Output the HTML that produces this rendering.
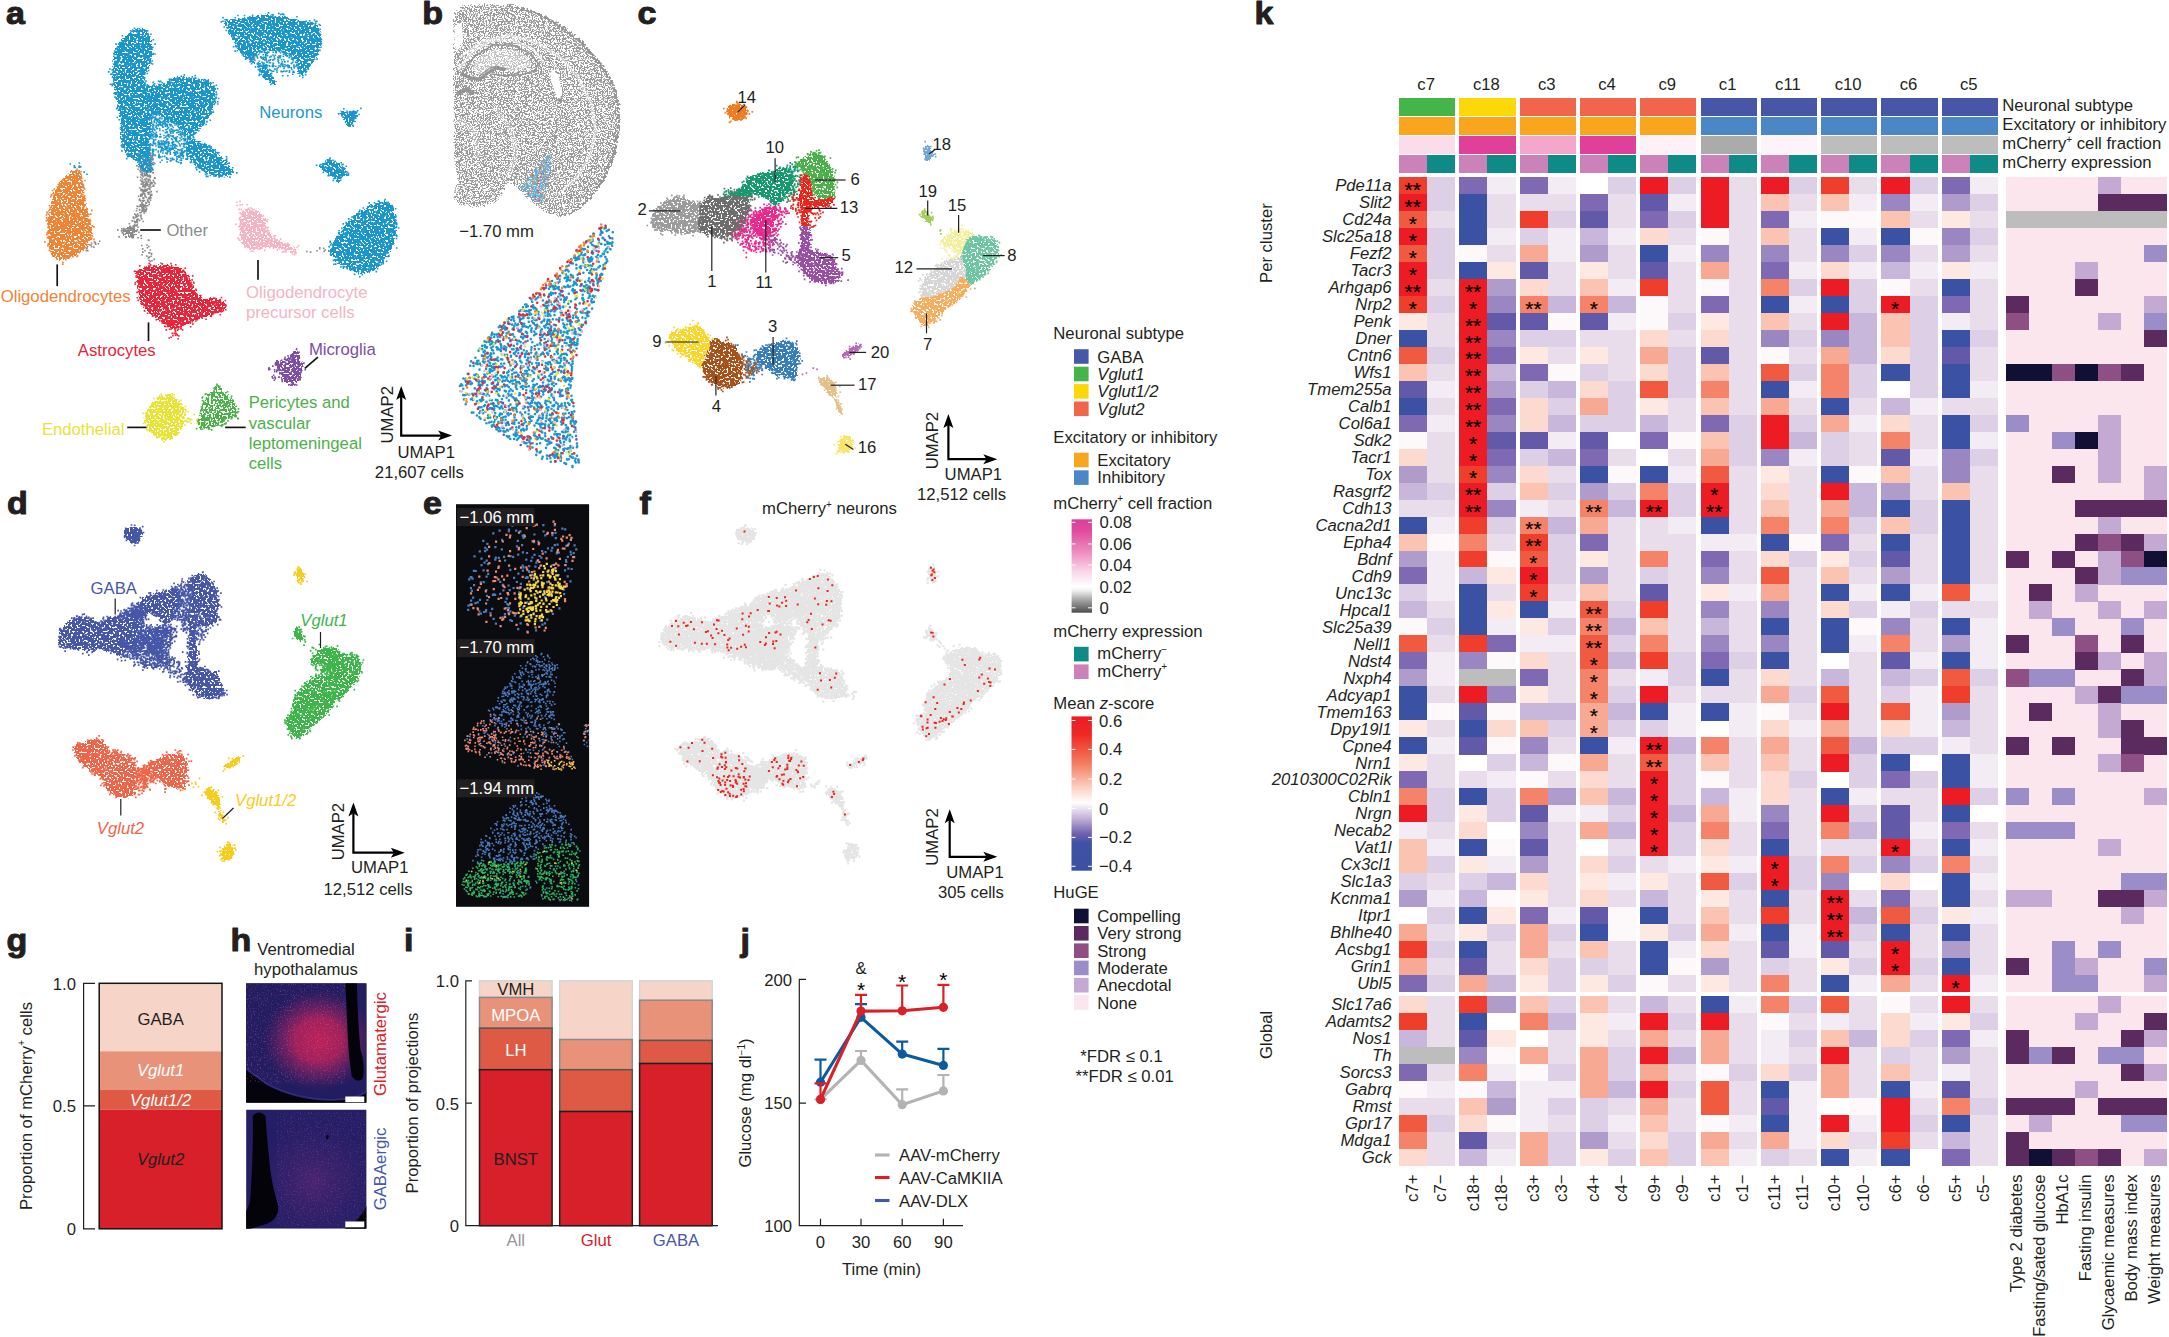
<!DOCTYPE html><html><head><meta charset="utf-8"><title>Figure</title><style>html,body{margin:0;padding:0;background:#fff}svg{display:block}text{font-family:"Liberation Sans",sans-serif}</style></head><body>
<svg width="2169" height="1337" viewBox="0 0 2169 1337" font-size="16.7" fill="#231f20">
<g shape-rendering="crispEdges">
<rect x="1399" y="98.3" width="56.2" height="17.7" fill="#46b549"/>
<rect x="1399" y="117.1" width="56.2" height="17.5" fill="#faa51e"/>
<rect x="1399" y="136" width="56.2" height="17.7" fill="#fbdcea"/>
<rect x="1399" y="155" width="28.1" height="17.8" fill="#cb82b9"/>
<rect x="1427.1" y="155" width="28.1" height="17.8" fill="#0f8b87"/>
<rect x="1459.3" y="98.3" width="56.2" height="17.7" fill="#fdd808"/>
<rect x="1459.3" y="117.1" width="56.2" height="17.5" fill="#faa51e"/>
<rect x="1459.3" y="136" width="56.2" height="17.7" fill="#e0409a"/>
<rect x="1459.3" y="155" width="28.1" height="17.8" fill="#cb82b9"/>
<rect x="1487.4" y="155" width="28.1" height="17.8" fill="#0f8b87"/>
<rect x="1519.6" y="98.3" width="56.2" height="17.7" fill="#f0654b"/>
<rect x="1519.6" y="117.1" width="56.2" height="17.5" fill="#faa51e"/>
<rect x="1519.6" y="136" width="56.2" height="17.7" fill="#f4a6cc"/>
<rect x="1519.6" y="155" width="28.1" height="17.8" fill="#cb82b9"/>
<rect x="1547.7" y="155" width="28.1" height="17.8" fill="#0f8b87"/>
<rect x="1579.9" y="98.3" width="56.2" height="17.7" fill="#f0654b"/>
<rect x="1579.9" y="117.1" width="56.2" height="17.5" fill="#faa51e"/>
<rect x="1579.9" y="136" width="56.2" height="17.7" fill="#e0409a"/>
<rect x="1579.9" y="155" width="28.1" height="17.8" fill="#cb82b9"/>
<rect x="1608" y="155" width="28.1" height="17.8" fill="#0f8b87"/>
<rect x="1640.2" y="98.3" width="56.2" height="17.7" fill="#f0654b"/>
<rect x="1640.2" y="117.1" width="56.2" height="17.5" fill="#faa51e"/>
<rect x="1640.2" y="136" width="56.2" height="17.7" fill="#fdf0f6"/>
<rect x="1640.2" y="155" width="28.1" height="17.8" fill="#cb82b9"/>
<rect x="1668.3" y="155" width="28.1" height="17.8" fill="#0f8b87"/>
<rect x="1700.5" y="98.3" width="56.2" height="17.7" fill="#4757a8"/>
<rect x="1700.5" y="117.1" width="56.2" height="17.5" fill="#4b86c6"/>
<rect x="1700.5" y="136" width="56.2" height="17.7" fill="#ababab"/>
<rect x="1700.5" y="155" width="28.1" height="17.8" fill="#cb82b9"/>
<rect x="1728.6" y="155" width="28.1" height="17.8" fill="#0f8b87"/>
<rect x="1760.8" y="98.3" width="56.2" height="17.7" fill="#4757a8"/>
<rect x="1760.8" y="117.1" width="56.2" height="17.5" fill="#4b86c6"/>
<rect x="1760.8" y="136" width="56.2" height="17.7" fill="#fef3f8"/>
<rect x="1760.8" y="155" width="28.1" height="17.8" fill="#cb82b9"/>
<rect x="1788.9" y="155" width="28.1" height="17.8" fill="#0f8b87"/>
<rect x="1821.1" y="98.3" width="56.2" height="17.7" fill="#4757a8"/>
<rect x="1821.1" y="117.1" width="56.2" height="17.5" fill="#4b86c6"/>
<rect x="1821.1" y="136" width="56.2" height="17.7" fill="#bdbdbd"/>
<rect x="1821.1" y="155" width="28.1" height="17.8" fill="#cb82b9"/>
<rect x="1849.2" y="155" width="28.1" height="17.8" fill="#0f8b87"/>
<rect x="1881.4" y="98.3" width="56.2" height="17.7" fill="#4757a8"/>
<rect x="1881.4" y="117.1" width="56.2" height="17.5" fill="#4b86c6"/>
<rect x="1881.4" y="136" width="56.2" height="17.7" fill="#bdbdbd"/>
<rect x="1881.4" y="155" width="28.1" height="17.8" fill="#cb82b9"/>
<rect x="1909.5" y="155" width="28.1" height="17.8" fill="#0f8b87"/>
<rect x="1941.7" y="98.3" width="56.2" height="17.7" fill="#4757a8"/>
<rect x="1941.7" y="117.1" width="56.2" height="17.5" fill="#4b86c6"/>
<rect x="1941.7" y="136" width="56.2" height="17.7" fill="#bdbdbd"/>
<rect x="1941.7" y="155" width="28.1" height="17.8" fill="#cb82b9"/>
<rect x="1969.8" y="155" width="28.1" height="17.8" fill="#0f8b87"/>
<rect x="2006.4" y="177" width="161" height="814.8" fill="#fbe6ee"/>
<rect x="2006.4" y="995.8" width="161" height="169.8" fill="#fbe6ee"/>
<rect x="1399" y="177" width="28.1" height="17.3" fill="#ef3e2b"/>
<rect x="1427.1" y="177" width="28.1" height="17.3" fill="#dccfe6"/>
<rect x="1459.3" y="177" width="28.1" height="17.3" fill="#7e69b2"/>
<rect x="1487.4" y="177" width="28.1" height="17.3" fill="#f4ecf4"/>
<rect x="1519.6" y="177" width="28.1" height="17.3" fill="#7e69b2"/>
<rect x="1547.7" y="177" width="28.1" height="17.3" fill="#f4ecf4"/>
<rect x="1608" y="177" width="28.1" height="17.3" fill="#dccfe6"/>
<rect x="1640.2" y="177" width="28.1" height="17.3" fill="#ed1c24"/>
<rect x="1668.3" y="177" width="28.1" height="17.3" fill="#dccfe6"/>
<rect x="1700.5" y="177" width="28.1" height="17.3" fill="#ed1c24"/>
<rect x="1728.6" y="177" width="28.1" height="17.3" fill="#e9ddec"/>
<rect x="1760.8" y="177" width="28.1" height="17.3" fill="#ed1c24"/>
<rect x="1788.9" y="177" width="28.1" height="17.3" fill="#dccfe6"/>
<rect x="1821.1" y="177" width="28.1" height="17.3" fill="#ef3e2b"/>
<rect x="1849.2" y="177" width="28.1" height="17.3" fill="#e9ddec"/>
<rect x="1881.4" y="177" width="28.1" height="17.3" fill="#ed1c24"/>
<rect x="1909.5" y="177" width="28.1" height="17.3" fill="#dccfe6"/>
<rect x="1941.7" y="177" width="28.1" height="17.3" fill="#7e69b2"/>
<rect x="1969.8" y="177" width="28.1" height="17.3" fill="#f4ecf4"/>
<rect x="2098.4" y="177" width="23" height="17.3" fill="#c4a9d2"/>
<rect x="1399" y="194" width="28.1" height="17.3" fill="#ed1c24"/>
<rect x="1427.1" y="194" width="28.1" height="17.3" fill="#dccfe6"/>
<rect x="1459.3" y="194" width="28.1" height="17.3" fill="#3b51a3"/>
<rect x="1487.4" y="194" width="28.1" height="17.3" fill="#e9ddec"/>
<rect x="1519.6" y="194" width="56.2" height="17.3" fill="#e9ddec"/>
<rect x="1579.9" y="194" width="28.1" height="17.3" fill="#7e69b2"/>
<rect x="1608" y="194" width="28.1" height="17.3" fill="#e9ddec"/>
<rect x="1640.2" y="194" width="28.1" height="17.3" fill="#6259a9"/>
<rect x="1668.3" y="194" width="28.1" height="17.3" fill="#f4ecf4"/>
<rect x="1700.5" y="194" width="28.1" height="17.3" fill="#ed1c24"/>
<rect x="1728.6" y="194" width="28.1" height="17.3" fill="#e9ddec"/>
<rect x="1760.8" y="194" width="28.1" height="17.3" fill="#fbc3b2"/>
<rect x="1788.9" y="194" width="28.1" height="17.3" fill="#e9ddec"/>
<rect x="1821.1" y="194" width="28.1" height="17.3" fill="#fbc3b2"/>
<rect x="1849.2" y="194" width="28.1" height="17.3" fill="#f4ecf4"/>
<rect x="1881.4" y="194" width="28.1" height="17.3" fill="#9a86c0"/>
<rect x="1909.5" y="194" width="28.1" height="17.3" fill="#f4ecf4"/>
<rect x="1941.7" y="194" width="28.1" height="17.3" fill="#b09ccb"/>
<rect x="1969.8" y="194" width="28.1" height="17.3" fill="#dccfe6"/>
<rect x="2098.4" y="194" width="23" height="17.3" fill="#5b2a5e"/>
<rect x="2121.4" y="194" width="23" height="17.3" fill="#5b2a5e"/>
<rect x="2144.4" y="194" width="23" height="17.3" fill="#5b2a5e"/>
<rect x="1399" y="210.9" width="28.1" height="17.3" fill="#f05a40"/>
<rect x="1427.1" y="210.9" width="28.1" height="17.3" fill="#e9ddec"/>
<rect x="1459.3" y="210.9" width="28.1" height="17.3" fill="#3b51a3"/>
<rect x="1487.4" y="210.9" width="28.1" height="17.3" fill="#e9ddec"/>
<rect x="1519.6" y="210.9" width="28.1" height="17.3" fill="#ef3e2b"/>
<rect x="1547.7" y="210.9" width="28.1" height="17.3" fill="#dccfe6"/>
<rect x="1579.9" y="210.9" width="28.1" height="17.3" fill="#6259a9"/>
<rect x="1608" y="210.9" width="28.1" height="17.3" fill="#e9ddec"/>
<rect x="1640.2" y="210.9" width="28.1" height="17.3" fill="#7e69b2"/>
<rect x="1668.3" y="210.9" width="28.1" height="17.3" fill="#dccfe6"/>
<rect x="1700.5" y="210.9" width="28.1" height="17.3" fill="#ed1c24"/>
<rect x="1728.6" y="210.9" width="28.1" height="17.3" fill="#e9ddec"/>
<rect x="1760.8" y="210.9" width="28.1" height="17.3" fill="#7e69b2"/>
<rect x="1788.9" y="210.9" width="28.1" height="17.3" fill="#f4ecf4"/>
<rect x="1821.1" y="210.9" width="56.2" height="17.3" fill="#fdf8f9"/>
<rect x="1881.4" y="210.9" width="28.1" height="17.3" fill="#fbc3b2"/>
<rect x="1909.5" y="210.9" width="28.1" height="17.3" fill="#e9ddec"/>
<rect x="1941.7" y="210.9" width="28.1" height="17.3" fill="#fee9e2"/>
<rect x="1969.8" y="210.9" width="28.1" height="17.3" fill="#e9ddec"/>
<rect x="2006.4" y="210.9" width="23" height="17.3" fill="#bdbdbd"/>
<rect x="2029.4" y="210.9" width="23" height="17.3" fill="#bdbdbd"/>
<rect x="2052.4" y="210.9" width="23" height="17.3" fill="#bdbdbd"/>
<rect x="2075.4" y="210.9" width="23" height="17.3" fill="#bdbdbd"/>
<rect x="2098.4" y="210.9" width="23" height="17.3" fill="#bdbdbd"/>
<rect x="2121.4" y="210.9" width="23" height="17.3" fill="#bdbdbd"/>
<rect x="2144.4" y="210.9" width="23" height="17.3" fill="#bdbdbd"/>
<rect x="1399" y="227.9" width="28.1" height="17.3" fill="#ed1c24"/>
<rect x="1427.1" y="227.9" width="28.1" height="17.3" fill="#dccfe6"/>
<rect x="1459.3" y="227.9" width="28.1" height="17.3" fill="#3b51a3"/>
<rect x="1487.4" y="227.9" width="28.1" height="17.3" fill="#f4ecf4"/>
<rect x="1519.6" y="227.9" width="28.1" height="17.3" fill="#dccfe6"/>
<rect x="1547.7" y="227.9" width="28.1" height="17.3" fill="#f4ecf4"/>
<rect x="1579.9" y="227.9" width="28.1" height="17.3" fill="#c9b6db"/>
<rect x="1608" y="227.9" width="28.1" height="17.3" fill="#f4ecf4"/>
<rect x="1640.2" y="227.9" width="28.1" height="17.3" fill="#fddacf"/>
<rect x="1668.3" y="227.9" width="28.1" height="17.3" fill="#e9ddec"/>
<rect x="1700.5" y="227.9" width="28.1" height="17.3" fill="#fdf8f9"/>
<rect x="1728.6" y="227.9" width="28.1" height="17.3" fill="#e9ddec"/>
<rect x="1760.8" y="227.9" width="28.1" height="17.3" fill="#fbc3b2"/>
<rect x="1788.9" y="227.9" width="28.1" height="17.3" fill="#e9ddec"/>
<rect x="1821.1" y="227.9" width="28.1" height="17.3" fill="#3b51a3"/>
<rect x="1849.2" y="227.9" width="28.1" height="17.3" fill="#f4ecf4"/>
<rect x="1881.4" y="227.9" width="28.1" height="17.3" fill="#3b51a3"/>
<rect x="1909.5" y="227.9" width="28.1" height="17.3" fill="#fdf8f9"/>
<rect x="1941.7" y="227.9" width="28.1" height="17.3" fill="#9a86c0"/>
<rect x="1969.8" y="227.9" width="28.1" height="17.3" fill="#dccfe6"/>
<rect x="1399" y="244.9" width="28.1" height="17.3" fill="#f05a40"/>
<rect x="1427.1" y="244.9" width="28.1" height="17.3" fill="#dccfe6"/>
<rect x="1459.3" y="244.9" width="28.1" height="17.3" fill="#fdf8f9"/>
<rect x="1487.4" y="244.9" width="28.1" height="17.3" fill="#e9ddec"/>
<rect x="1519.6" y="244.9" width="28.1" height="17.3" fill="#f8a994"/>
<rect x="1547.7" y="244.9" width="28.1" height="17.3" fill="#f4ecf4"/>
<rect x="1579.9" y="244.9" width="28.1" height="17.3" fill="#b09ccb"/>
<rect x="1608" y="244.9" width="28.1" height="17.3" fill="#e9ddec"/>
<rect x="1640.2" y="244.9" width="28.1" height="17.3" fill="#3b51a3"/>
<rect x="1668.3" y="244.9" width="28.1" height="17.3" fill="#f4ecf4"/>
<rect x="1700.5" y="244.9" width="28.1" height="17.3" fill="#9a86c0"/>
<rect x="1728.6" y="244.9" width="28.1" height="17.3" fill="#e9ddec"/>
<rect x="1760.8" y="244.9" width="28.1" height="17.3" fill="#9a86c0"/>
<rect x="1788.9" y="244.9" width="28.1" height="17.3" fill="#e9ddec"/>
<rect x="1821.1" y="244.9" width="28.1" height="17.3" fill="#9a86c0"/>
<rect x="1849.2" y="244.9" width="28.1" height="17.3" fill="#dccfe6"/>
<rect x="1881.4" y="244.9" width="28.1" height="17.3" fill="#9a86c0"/>
<rect x="1909.5" y="244.9" width="28.1" height="17.3" fill="#e9ddec"/>
<rect x="1941.7" y="244.9" width="28.1" height="17.3" fill="#b09ccb"/>
<rect x="1969.8" y="244.9" width="28.1" height="17.3" fill="#e9ddec"/>
<rect x="2144.4" y="244.9" width="23" height="17.3" fill="#9b8dc8"/>
<rect x="1399" y="261.9" width="28.1" height="17.3" fill="#ed1c24"/>
<rect x="1427.1" y="261.9" width="28.1" height="17.3" fill="#dccfe6"/>
<rect x="1459.3" y="261.9" width="28.1" height="17.3" fill="#3b51a3"/>
<rect x="1487.4" y="261.9" width="28.1" height="17.3" fill="#fee9e2"/>
<rect x="1519.6" y="261.9" width="28.1" height="17.3" fill="#6259a9"/>
<rect x="1547.7" y="261.9" width="28.1" height="17.3" fill="#e9ddec"/>
<rect x="1579.9" y="261.9" width="28.1" height="17.3" fill="#fee9e2"/>
<rect x="1608" y="261.9" width="28.1" height="17.3" fill="#e9ddec"/>
<rect x="1640.2" y="261.9" width="28.1" height="17.3" fill="#6259a9"/>
<rect x="1668.3" y="261.9" width="28.1" height="17.3" fill="#e9ddec"/>
<rect x="1700.5" y="261.9" width="28.1" height="17.3" fill="#f8a994"/>
<rect x="1728.6" y="261.9" width="28.1" height="17.3" fill="#e9ddec"/>
<rect x="1760.8" y="261.9" width="28.1" height="17.3" fill="#7e69b2"/>
<rect x="1788.9" y="261.9" width="28.1" height="17.3" fill="#f4ecf4"/>
<rect x="1821.1" y="261.9" width="28.1" height="17.3" fill="#fddacf"/>
<rect x="1849.2" y="261.9" width="28.1" height="17.3" fill="#f4ecf4"/>
<rect x="1881.4" y="261.9" width="28.1" height="17.3" fill="#c9b6db"/>
<rect x="1909.5" y="261.9" width="28.1" height="17.3" fill="#f4ecf4"/>
<rect x="1941.7" y="261.9" width="28.1" height="17.3" fill="#fee9e2"/>
<rect x="1969.8" y="261.9" width="28.1" height="17.3" fill="#f4ecf4"/>
<rect x="2075.4" y="261.9" width="23" height="17.3" fill="#c4a9d2"/>
<rect x="1399" y="278.9" width="28.1" height="17.3" fill="#ed1c24"/>
<rect x="1427.1" y="278.9" width="28.1" height="17.3" fill="#e9ddec"/>
<rect x="1459.3" y="278.9" width="28.1" height="17.3" fill="#ed1c24"/>
<rect x="1487.4" y="278.9" width="28.1" height="17.3" fill="#b09ccb"/>
<rect x="1519.6" y="278.9" width="28.1" height="17.3" fill="#fddacf"/>
<rect x="1547.7" y="278.9" width="28.1" height="17.3" fill="#e9ddec"/>
<rect x="1579.9" y="278.9" width="28.1" height="17.3" fill="#fbc3b2"/>
<rect x="1608" y="278.9" width="28.1" height="17.3" fill="#f4ecf4"/>
<rect x="1640.2" y="278.9" width="28.1" height="17.3" fill="#ef3e2b"/>
<rect x="1668.3" y="278.9" width="28.1" height="17.3" fill="#e9ddec"/>
<rect x="1700.5" y="278.9" width="28.1" height="17.3" fill="#fdf8f9"/>
<rect x="1728.6" y="278.9" width="28.1" height="17.3" fill="#e9ddec"/>
<rect x="1760.8" y="278.9" width="28.1" height="17.3" fill="#f4836a"/>
<rect x="1788.9" y="278.9" width="28.1" height="17.3" fill="#dccfe6"/>
<rect x="1821.1" y="278.9" width="28.1" height="17.3" fill="#ed1c24"/>
<rect x="1849.2" y="278.9" width="28.1" height="17.3" fill="#dccfe6"/>
<rect x="1881.4" y="278.9" width="28.1" height="17.3" fill="#fdf8f9"/>
<rect x="1909.5" y="278.9" width="28.1" height="17.3" fill="#e9ddec"/>
<rect x="1941.7" y="278.9" width="28.1" height="17.3" fill="#3b51a3"/>
<rect x="1969.8" y="278.9" width="28.1" height="17.3" fill="#e9ddec"/>
<rect x="2075.4" y="278.9" width="23" height="17.3" fill="#5b2a5e"/>
<rect x="1399" y="295.8" width="28.1" height="17.3" fill="#ef3e2b"/>
<rect x="1427.1" y="295.8" width="28.1" height="17.3" fill="#dccfe6"/>
<rect x="1459.3" y="295.8" width="28.1" height="17.3" fill="#ed1c24"/>
<rect x="1487.4" y="295.8" width="28.1" height="17.3" fill="#9a86c0"/>
<rect x="1519.6" y="295.8" width="28.1" height="17.3" fill="#f4836a"/>
<rect x="1547.7" y="295.8" width="28.1" height="17.3" fill="#c9b6db"/>
<rect x="1579.9" y="295.8" width="28.1" height="17.3" fill="#f4836a"/>
<rect x="1608" y="295.8" width="28.1" height="17.3" fill="#c9b6db"/>
<rect x="1640.2" y="295.8" width="28.1" height="17.3" fill="#fdf8f9"/>
<rect x="1668.3" y="295.8" width="28.1" height="17.3" fill="#e9ddec"/>
<rect x="1700.5" y="295.8" width="28.1" height="17.3" fill="#7e69b2"/>
<rect x="1728.6" y="295.8" width="28.1" height="17.3" fill="#e9ddec"/>
<rect x="1760.8" y="295.8" width="28.1" height="17.3" fill="#3b51a3"/>
<rect x="1788.9" y="295.8" width="28.1" height="17.3" fill="#f4ecf4"/>
<rect x="1821.1" y="295.8" width="28.1" height="17.3" fill="#3b51a3"/>
<rect x="1849.2" y="295.8" width="28.1" height="17.3" fill="#dccfe6"/>
<rect x="1881.4" y="295.8" width="28.1" height="17.3" fill="#ed1c24"/>
<rect x="1909.5" y="295.8" width="28.1" height="17.3" fill="#dccfe6"/>
<rect x="1941.7" y="295.8" width="28.1" height="17.3" fill="#7e69b2"/>
<rect x="1969.8" y="295.8" width="28.1" height="17.3" fill="#e9ddec"/>
<rect x="2006.4" y="295.8" width="23" height="17.3" fill="#5b2a5e"/>
<rect x="2144.4" y="295.8" width="23" height="17.3" fill="#c4a9d2"/>
<rect x="1399" y="312.8" width="28.1" height="17.3" fill="#fee9e2"/>
<rect x="1427.1" y="312.8" width="28.1" height="17.3" fill="#e9ddec"/>
<rect x="1459.3" y="312.8" width="28.1" height="17.3" fill="#ed1c24"/>
<rect x="1487.4" y="312.8" width="28.1" height="17.3" fill="#6259a9"/>
<rect x="1519.6" y="312.8" width="28.1" height="17.3" fill="#6259a9"/>
<rect x="1547.7" y="312.8" width="28.1" height="17.3" fill="#fdf8f9"/>
<rect x="1579.9" y="312.8" width="28.1" height="17.3" fill="#6259a9"/>
<rect x="1608" y="312.8" width="28.1" height="17.3" fill="#f4ecf4"/>
<rect x="1640.2" y="312.8" width="28.1" height="17.3" fill="#fdf8f9"/>
<rect x="1668.3" y="312.8" width="28.1" height="17.3" fill="#dccfe6"/>
<rect x="1700.5" y="312.8" width="28.1" height="17.3" fill="#fee9e2"/>
<rect x="1728.6" y="312.8" width="28.1" height="17.3" fill="#e9ddec"/>
<rect x="1760.8" y="312.8" width="28.1" height="17.3" fill="#fbc3b2"/>
<rect x="1788.9" y="312.8" width="28.1" height="17.3" fill="#e9ddec"/>
<rect x="1821.1" y="312.8" width="28.1" height="17.3" fill="#ed1c24"/>
<rect x="1849.2" y="312.8" width="28.1" height="17.3" fill="#c9b6db"/>
<rect x="1881.4" y="312.8" width="28.1" height="17.3" fill="#fbc3b2"/>
<rect x="1909.5" y="312.8" width="28.1" height="17.3" fill="#dccfe6"/>
<rect x="1941.7" y="312.8" width="28.1" height="17.3" fill="#f4ecf4"/>
<rect x="1969.8" y="312.8" width="28.1" height="17.3" fill="#e9ddec"/>
<rect x="2006.4" y="312.8" width="23" height="17.3" fill="#8e4f85"/>
<rect x="2098.4" y="312.8" width="23" height="17.3" fill="#c4a9d2"/>
<rect x="2144.4" y="312.8" width="23" height="17.3" fill="#9b8dc8"/>
<rect x="1399" y="329.8" width="28.1" height="17.3" fill="#3b51a3"/>
<rect x="1427.1" y="329.8" width="28.1" height="17.3" fill="#e9ddec"/>
<rect x="1459.3" y="329.8" width="28.1" height="17.3" fill="#ed1c24"/>
<rect x="1487.4" y="329.8" width="28.1" height="17.3" fill="#9a86c0"/>
<rect x="1519.6" y="329.8" width="56.2" height="17.3" fill="#dccfe6"/>
<rect x="1579.9" y="329.8" width="56.2" height="17.3" fill="#e9ddec"/>
<rect x="1640.2" y="329.8" width="28.1" height="17.3" fill="#fddacf"/>
<rect x="1668.3" y="329.8" width="28.1" height="17.3" fill="#e9ddec"/>
<rect x="1700.5" y="329.8" width="28.1" height="17.3" fill="#fddacf"/>
<rect x="1728.6" y="329.8" width="28.1" height="17.3" fill="#e9ddec"/>
<rect x="1760.8" y="329.8" width="28.1" height="17.3" fill="#9a86c0"/>
<rect x="1788.9" y="329.8" width="28.1" height="17.3" fill="#dccfe6"/>
<rect x="1821.1" y="329.8" width="28.1" height="17.3" fill="#9a86c0"/>
<rect x="1849.2" y="329.8" width="28.1" height="17.3" fill="#c9b6db"/>
<rect x="1881.4" y="329.8" width="28.1" height="17.3" fill="#fbc3b2"/>
<rect x="1909.5" y="329.8" width="28.1" height="17.3" fill="#dccfe6"/>
<rect x="1941.7" y="329.8" width="28.1" height="17.3" fill="#3b51a3"/>
<rect x="1969.8" y="329.8" width="28.1" height="17.3" fill="#dccfe6"/>
<rect x="2144.4" y="329.8" width="23" height="17.3" fill="#5b2a5e"/>
<rect x="1399" y="346.8" width="28.1" height="17.3" fill="#f05a40"/>
<rect x="1427.1" y="346.8" width="28.1" height="17.3" fill="#dccfe6"/>
<rect x="1459.3" y="346.8" width="28.1" height="17.3" fill="#ed1c24"/>
<rect x="1487.4" y="346.8" width="28.1" height="17.3" fill="#7e69b2"/>
<rect x="1519.6" y="346.8" width="28.1" height="17.3" fill="#fee9e2"/>
<rect x="1547.7" y="346.8" width="28.1" height="17.3" fill="#e9ddec"/>
<rect x="1579.9" y="346.8" width="28.1" height="17.3" fill="#fee9e2"/>
<rect x="1608" y="346.8" width="28.1" height="17.3" fill="#e9ddec"/>
<rect x="1640.2" y="346.8" width="28.1" height="17.3" fill="#f8a994"/>
<rect x="1668.3" y="346.8" width="28.1" height="17.3" fill="#dccfe6"/>
<rect x="1700.5" y="346.8" width="28.1" height="17.3" fill="#6259a9"/>
<rect x="1728.6" y="346.8" width="28.1" height="17.3" fill="#e9ddec"/>
<rect x="1760.8" y="346.8" width="28.1" height="17.3" fill="#fdf8f9"/>
<rect x="1788.9" y="346.8" width="28.1" height="17.3" fill="#e9ddec"/>
<rect x="1821.1" y="346.8" width="28.1" height="17.3" fill="#f8a994"/>
<rect x="1849.2" y="346.8" width="28.1" height="17.3" fill="#c9b6db"/>
<rect x="1881.4" y="346.8" width="28.1" height="17.3" fill="#fddacf"/>
<rect x="1909.5" y="346.8" width="28.1" height="17.3" fill="#dccfe6"/>
<rect x="1941.7" y="346.8" width="28.1" height="17.3" fill="#6259a9"/>
<rect x="1969.8" y="346.8" width="28.1" height="17.3" fill="#e9ddec"/>
<rect x="1399" y="363.7" width="28.1" height="17.3" fill="#fbc3b2"/>
<rect x="1427.1" y="363.7" width="28.1" height="17.3" fill="#e9ddec"/>
<rect x="1459.3" y="363.7" width="28.1" height="17.3" fill="#ed1c24"/>
<rect x="1487.4" y="363.7" width="28.1" height="17.3" fill="#c9b6db"/>
<rect x="1519.6" y="363.7" width="28.1" height="17.3" fill="#7e69b2"/>
<rect x="1547.7" y="363.7" width="28.1" height="17.3" fill="#fdf8f9"/>
<rect x="1579.9" y="363.7" width="28.1" height="17.3" fill="#dccfe6"/>
<rect x="1608" y="363.7" width="28.1" height="17.3" fill="#e9ddec"/>
<rect x="1640.2" y="363.7" width="28.1" height="17.3" fill="#fddacf"/>
<rect x="1668.3" y="363.7" width="28.1" height="17.3" fill="#dccfe6"/>
<rect x="1700.5" y="363.7" width="28.1" height="17.3" fill="#fbc3b2"/>
<rect x="1728.6" y="363.7" width="28.1" height="17.3" fill="#e9ddec"/>
<rect x="1760.8" y="363.7" width="28.1" height="17.3" fill="#f05a40"/>
<rect x="1788.9" y="363.7" width="28.1" height="17.3" fill="#dccfe6"/>
<rect x="1821.1" y="363.7" width="28.1" height="17.3" fill="#f4836a"/>
<rect x="1849.2" y="363.7" width="28.1" height="17.3" fill="#dccfe6"/>
<rect x="1881.4" y="363.7" width="28.1" height="17.3" fill="#3b51a3"/>
<rect x="1909.5" y="363.7" width="28.1" height="17.3" fill="#dccfe6"/>
<rect x="1941.7" y="363.7" width="28.1" height="17.3" fill="#3b51a3"/>
<rect x="1969.8" y="363.7" width="28.1" height="17.3" fill="#e9ddec"/>
<rect x="2006.4" y="363.7" width="23" height="17.3" fill="#0f1033"/>
<rect x="2029.4" y="363.7" width="23" height="17.3" fill="#0f1033"/>
<rect x="2052.4" y="363.7" width="23" height="17.3" fill="#8e4f85"/>
<rect x="2075.4" y="363.7" width="23" height="17.3" fill="#0f1033"/>
<rect x="2098.4" y="363.7" width="23" height="17.3" fill="#8e4f85"/>
<rect x="2121.4" y="363.7" width="23" height="17.3" fill="#5b2a5e"/>
<rect x="1399" y="380.7" width="28.1" height="17.3" fill="#6259a9"/>
<rect x="1427.1" y="380.7" width="28.1" height="17.3" fill="#f4ecf4"/>
<rect x="1459.3" y="380.7" width="28.1" height="17.3" fill="#ed1c24"/>
<rect x="1487.4" y="380.7" width="28.1" height="17.3" fill="#b09ccb"/>
<rect x="1519.6" y="380.7" width="28.1" height="17.3" fill="#dccfe6"/>
<rect x="1547.7" y="380.7" width="28.1" height="17.3" fill="#c9b6db"/>
<rect x="1579.9" y="380.7" width="28.1" height="17.3" fill="#fddacf"/>
<rect x="1608" y="380.7" width="28.1" height="17.3" fill="#dccfe6"/>
<rect x="1640.2" y="380.7" width="28.1" height="17.3" fill="#f05a40"/>
<rect x="1668.3" y="380.7" width="28.1" height="17.3" fill="#dccfe6"/>
<rect x="1700.5" y="380.7" width="28.1" height="17.3" fill="#f4836a"/>
<rect x="1728.6" y="380.7" width="28.1" height="17.3" fill="#e9ddec"/>
<rect x="1760.8" y="380.7" width="28.1" height="17.3" fill="#3b51a3"/>
<rect x="1788.9" y="380.7" width="28.1" height="17.3" fill="#f4ecf4"/>
<rect x="1821.1" y="380.7" width="28.1" height="17.3" fill="#f4836a"/>
<rect x="1849.2" y="380.7" width="28.1" height="17.3" fill="#dccfe6"/>
<rect x="1909.5" y="380.7" width="28.1" height="17.3" fill="#dccfe6"/>
<rect x="1941.7" y="380.7" width="28.1" height="17.3" fill="#3b51a3"/>
<rect x="1969.8" y="380.7" width="28.1" height="17.3" fill="#f4ecf4"/>
<rect x="1399" y="397.7" width="28.1" height="17.3" fill="#3b51a3"/>
<rect x="1427.1" y="397.7" width="28.1" height="17.3" fill="#e9ddec"/>
<rect x="1459.3" y="397.7" width="28.1" height="17.3" fill="#ed1c24"/>
<rect x="1487.4" y="397.7" width="28.1" height="17.3" fill="#7e69b2"/>
<rect x="1519.6" y="397.7" width="28.1" height="17.3" fill="#fddacf"/>
<rect x="1547.7" y="397.7" width="28.1" height="17.3" fill="#dccfe6"/>
<rect x="1579.9" y="397.7" width="28.1" height="17.3" fill="#f8a994"/>
<rect x="1608" y="397.7" width="28.1" height="17.3" fill="#dccfe6"/>
<rect x="1640.2" y="397.7" width="28.1" height="17.3" fill="#fee9e2"/>
<rect x="1668.3" y="397.7" width="28.1" height="17.3" fill="#e9ddec"/>
<rect x="1700.5" y="397.7" width="28.1" height="17.3" fill="#fbc3b2"/>
<rect x="1728.6" y="397.7" width="28.1" height="17.3" fill="#e9ddec"/>
<rect x="1760.8" y="397.7" width="28.1" height="17.3" fill="#f8a994"/>
<rect x="1788.9" y="397.7" width="28.1" height="17.3" fill="#e9ddec"/>
<rect x="1821.1" y="397.7" width="28.1" height="17.3" fill="#3b51a3"/>
<rect x="1849.2" y="397.7" width="28.1" height="17.3" fill="#e9ddec"/>
<rect x="1881.4" y="397.7" width="28.1" height="17.3" fill="#c9b6db"/>
<rect x="1909.5" y="397.7" width="28.1" height="17.3" fill="#f4ecf4"/>
<rect x="1941.7" y="397.7" width="56.2" height="17.3" fill="#e9ddec"/>
<rect x="1399" y="414.7" width="28.1" height="17.3" fill="#7e69b2"/>
<rect x="1427.1" y="414.7" width="28.1" height="17.3" fill="#f4ecf4"/>
<rect x="1459.3" y="414.7" width="28.1" height="17.3" fill="#ed1c24"/>
<rect x="1487.4" y="414.7" width="28.1" height="17.3" fill="#9a86c0"/>
<rect x="1519.6" y="414.7" width="28.1" height="17.3" fill="#fddacf"/>
<rect x="1547.7" y="414.7" width="28.1" height="17.3" fill="#c9b6db"/>
<rect x="1579.9" y="414.7" width="56.2" height="17.3" fill="#dccfe6"/>
<rect x="1640.2" y="414.7" width="28.1" height="17.3" fill="#c9b6db"/>
<rect x="1668.3" y="414.7" width="28.1" height="17.3" fill="#e9ddec"/>
<rect x="1700.5" y="414.7" width="28.1" height="17.3" fill="#7e69b2"/>
<rect x="1728.6" y="414.7" width="28.1" height="17.3" fill="#dccfe6"/>
<rect x="1760.8" y="414.7" width="28.1" height="17.3" fill="#ed1c24"/>
<rect x="1788.9" y="414.7" width="28.1" height="17.3" fill="#dccfe6"/>
<rect x="1821.1" y="414.7" width="28.1" height="17.3" fill="#f8a994"/>
<rect x="1849.2" y="414.7" width="28.1" height="17.3" fill="#f4ecf4"/>
<rect x="1881.4" y="414.7" width="28.1" height="17.3" fill="#fddacf"/>
<rect x="1909.5" y="414.7" width="28.1" height="17.3" fill="#e9ddec"/>
<rect x="1941.7" y="414.7" width="28.1" height="17.3" fill="#3b51a3"/>
<rect x="1969.8" y="414.7" width="28.1" height="17.3" fill="#dccfe6"/>
<rect x="2006.4" y="414.7" width="23" height="17.3" fill="#9b8dc8"/>
<rect x="2098.4" y="414.7" width="23" height="17.3" fill="#c4a9d2"/>
<rect x="1399" y="431.6" width="28.1" height="17.3" fill="#fdf8f9"/>
<rect x="1427.1" y="431.6" width="28.1" height="17.3" fill="#e9ddec"/>
<rect x="1459.3" y="431.6" width="28.1" height="17.3" fill="#ed1c24"/>
<rect x="1487.4" y="431.6" width="28.1" height="17.3" fill="#6259a9"/>
<rect x="1519.6" y="431.6" width="28.1" height="17.3" fill="#6259a9"/>
<rect x="1547.7" y="431.6" width="28.1" height="17.3" fill="#f4ecf4"/>
<rect x="1579.9" y="431.6" width="28.1" height="17.3" fill="#6259a9"/>
<rect x="1640.2" y="431.6" width="28.1" height="17.3" fill="#7e69b2"/>
<rect x="1668.3" y="431.6" width="28.1" height="17.3" fill="#fdf8f9"/>
<rect x="1700.5" y="431.6" width="28.1" height="17.3" fill="#fbc3b2"/>
<rect x="1728.6" y="431.6" width="28.1" height="17.3" fill="#dccfe6"/>
<rect x="1760.8" y="431.6" width="28.1" height="17.3" fill="#ed1c24"/>
<rect x="1788.9" y="431.6" width="28.1" height="17.3" fill="#c9b6db"/>
<rect x="1821.1" y="431.6" width="28.1" height="17.3" fill="#dccfe6"/>
<rect x="1849.2" y="431.6" width="28.1" height="17.3" fill="#e9ddec"/>
<rect x="1881.4" y="431.6" width="28.1" height="17.3" fill="#f4836a"/>
<rect x="1909.5" y="431.6" width="28.1" height="17.3" fill="#e9ddec"/>
<rect x="1941.7" y="431.6" width="28.1" height="17.3" fill="#3b51a3"/>
<rect x="1969.8" y="431.6" width="28.1" height="17.3" fill="#f4ecf4"/>
<rect x="2052.4" y="431.6" width="23" height="17.3" fill="#9b8dc8"/>
<rect x="2075.4" y="431.6" width="23" height="17.3" fill="#0f1033"/>
<rect x="2098.4" y="431.6" width="23" height="17.3" fill="#c4a9d2"/>
<rect x="1399" y="448.6" width="28.1" height="17.3" fill="#fddacf"/>
<rect x="1427.1" y="448.6" width="28.1" height="17.3" fill="#e9ddec"/>
<rect x="1459.3" y="448.6" width="28.1" height="17.3" fill="#ed1c24"/>
<rect x="1487.4" y="448.6" width="28.1" height="17.3" fill="#7e69b2"/>
<rect x="1519.6" y="448.6" width="28.1" height="17.3" fill="#dccfe6"/>
<rect x="1547.7" y="448.6" width="28.1" height="17.3" fill="#c9b6db"/>
<rect x="1579.9" y="448.6" width="28.1" height="17.3" fill="#7e69b2"/>
<rect x="1608" y="448.6" width="28.1" height="17.3" fill="#e9ddec"/>
<rect x="1668.3" y="448.6" width="28.1" height="17.3" fill="#e9ddec"/>
<rect x="1700.5" y="448.6" width="28.1" height="17.3" fill="#f8a994"/>
<rect x="1728.6" y="448.6" width="28.1" height="17.3" fill="#dccfe6"/>
<rect x="1760.8" y="448.6" width="28.1" height="17.3" fill="#9a86c0"/>
<rect x="1788.9" y="448.6" width="28.1" height="17.3" fill="#f4ecf4"/>
<rect x="1821.1" y="448.6" width="28.1" height="17.3" fill="#dccfe6"/>
<rect x="1849.2" y="448.6" width="28.1" height="17.3" fill="#e9ddec"/>
<rect x="1881.4" y="448.6" width="28.1" height="17.3" fill="#6259a9"/>
<rect x="1909.5" y="448.6" width="28.1" height="17.3" fill="#f4ecf4"/>
<rect x="1941.7" y="448.6" width="28.1" height="17.3" fill="#9a86c0"/>
<rect x="1969.8" y="448.6" width="28.1" height="17.3" fill="#dccfe6"/>
<rect x="2098.4" y="448.6" width="23" height="17.3" fill="#c4a9d2"/>
<rect x="1399" y="465.6" width="28.1" height="17.3" fill="#b09ccb"/>
<rect x="1427.1" y="465.6" width="28.1" height="17.3" fill="#e9ddec"/>
<rect x="1459.3" y="465.6" width="28.1" height="17.3" fill="#ef3e2b"/>
<rect x="1487.4" y="465.6" width="28.1" height="17.3" fill="#9a86c0"/>
<rect x="1519.6" y="465.6" width="28.1" height="17.3" fill="#fddacf"/>
<rect x="1547.7" y="465.6" width="28.1" height="17.3" fill="#e9ddec"/>
<rect x="1579.9" y="465.6" width="28.1" height="17.3" fill="#3b51a3"/>
<rect x="1608" y="465.6" width="28.1" height="17.3" fill="#fdf8f9"/>
<rect x="1640.2" y="465.6" width="28.1" height="17.3" fill="#3b51a3"/>
<rect x="1668.3" y="465.6" width="28.1" height="17.3" fill="#f4ecf4"/>
<rect x="1700.5" y="465.6" width="28.1" height="17.3" fill="#f05a40"/>
<rect x="1728.6" y="465.6" width="28.1" height="17.3" fill="#e9ddec"/>
<rect x="1760.8" y="465.6" width="28.1" height="17.3" fill="#fee9e2"/>
<rect x="1788.9" y="465.6" width="28.1" height="17.3" fill="#e9ddec"/>
<rect x="1821.1" y="465.6" width="28.1" height="17.3" fill="#3b51a3"/>
<rect x="1849.2" y="465.6" width="28.1" height="17.3" fill="#fdf8f9"/>
<rect x="1881.4" y="465.6" width="28.1" height="17.3" fill="#fbc3b2"/>
<rect x="1909.5" y="465.6" width="28.1" height="17.3" fill="#e9ddec"/>
<rect x="1941.7" y="465.6" width="28.1" height="17.3" fill="#9a86c0"/>
<rect x="1969.8" y="465.6" width="28.1" height="17.3" fill="#e9ddec"/>
<rect x="2052.4" y="465.6" width="23" height="17.3" fill="#5b2a5e"/>
<rect x="2098.4" y="465.6" width="23" height="17.3" fill="#c4a9d2"/>
<rect x="2144.4" y="465.6" width="23" height="17.3" fill="#c4a9d2"/>
<rect x="1399" y="482.6" width="28.1" height="17.3" fill="#c9b6db"/>
<rect x="1427.1" y="482.6" width="28.1" height="17.3" fill="#dccfe6"/>
<rect x="1459.3" y="482.6" width="28.1" height="17.3" fill="#ed1c24"/>
<rect x="1487.4" y="482.6" width="28.1" height="17.3" fill="#dccfe6"/>
<rect x="1519.6" y="482.6" width="28.1" height="17.3" fill="#fbc3b2"/>
<rect x="1547.7" y="482.6" width="28.1" height="17.3" fill="#dccfe6"/>
<rect x="1579.9" y="482.6" width="28.1" height="17.3" fill="#b09ccb"/>
<rect x="1608" y="482.6" width="28.1" height="17.3" fill="#dccfe6"/>
<rect x="1640.2" y="482.6" width="28.1" height="17.3" fill="#f4836a"/>
<rect x="1668.3" y="482.6" width="28.1" height="17.3" fill="#dccfe6"/>
<rect x="1700.5" y="482.6" width="28.1" height="17.3" fill="#ed1c24"/>
<rect x="1728.6" y="482.6" width="28.1" height="17.3" fill="#e9ddec"/>
<rect x="1760.8" y="482.6" width="28.1" height="17.3" fill="#fddacf"/>
<rect x="1788.9" y="482.6" width="28.1" height="17.3" fill="#e9ddec"/>
<rect x="1821.1" y="482.6" width="28.1" height="17.3" fill="#ed1c24"/>
<rect x="1849.2" y="482.6" width="28.1" height="17.3" fill="#c9b6db"/>
<rect x="1881.4" y="482.6" width="28.1" height="17.3" fill="#b09ccb"/>
<rect x="1909.5" y="482.6" width="28.1" height="17.3" fill="#e9ddec"/>
<rect x="1941.7" y="482.6" width="28.1" height="17.3" fill="#fbc3b2"/>
<rect x="1969.8" y="482.6" width="28.1" height="17.3" fill="#e9ddec"/>
<rect x="2144.4" y="482.6" width="23" height="17.3" fill="#c4a9d2"/>
<rect x="1399" y="499.5" width="56.2" height="17.3" fill="#e9ddec"/>
<rect x="1459.3" y="499.5" width="28.1" height="17.3" fill="#ed1c24"/>
<rect x="1487.4" y="499.5" width="28.1" height="17.3" fill="#9a86c0"/>
<rect x="1519.6" y="499.5" width="28.1" height="17.3" fill="#f4ecf4"/>
<rect x="1547.7" y="499.5" width="28.1" height="17.3" fill="#e9ddec"/>
<rect x="1579.9" y="499.5" width="28.1" height="17.3" fill="#f4836a"/>
<rect x="1608" y="499.5" width="28.1" height="17.3" fill="#c9b6db"/>
<rect x="1640.2" y="499.5" width="28.1" height="17.3" fill="#ed1c24"/>
<rect x="1668.3" y="499.5" width="28.1" height="17.3" fill="#dccfe6"/>
<rect x="1700.5" y="499.5" width="28.1" height="17.3" fill="#ed1c24"/>
<rect x="1728.6" y="499.5" width="28.1" height="17.3" fill="#e9ddec"/>
<rect x="1760.8" y="499.5" width="28.1" height="17.3" fill="#fbc3b2"/>
<rect x="1788.9" y="499.5" width="28.1" height="17.3" fill="#e9ddec"/>
<rect x="1821.1" y="499.5" width="28.1" height="17.3" fill="#f8a994"/>
<rect x="1849.2" y="499.5" width="28.1" height="17.3" fill="#c9b6db"/>
<rect x="1881.4" y="499.5" width="28.1" height="17.3" fill="#3b51a3"/>
<rect x="1909.5" y="499.5" width="28.1" height="17.3" fill="#dccfe6"/>
<rect x="1941.7" y="499.5" width="28.1" height="17.3" fill="#3b51a3"/>
<rect x="1969.8" y="499.5" width="28.1" height="17.3" fill="#e9ddec"/>
<rect x="2075.4" y="499.5" width="23" height="17.3" fill="#5b2a5e"/>
<rect x="2098.4" y="499.5" width="23" height="17.3" fill="#5b2a5e"/>
<rect x="2121.4" y="499.5" width="23" height="17.3" fill="#5b2a5e"/>
<rect x="2144.4" y="499.5" width="23" height="17.3" fill="#5b2a5e"/>
<rect x="1399" y="516.5" width="28.1" height="17.3" fill="#3b51a3"/>
<rect x="1427.1" y="516.5" width="28.1" height="17.3" fill="#f4ecf4"/>
<rect x="1459.3" y="516.5" width="28.1" height="17.3" fill="#ef3e2b"/>
<rect x="1487.4" y="516.5" width="28.1" height="17.3" fill="#dccfe6"/>
<rect x="1519.6" y="516.5" width="28.1" height="17.3" fill="#f4836a"/>
<rect x="1547.7" y="516.5" width="28.1" height="17.3" fill="#c9b6db"/>
<rect x="1579.9" y="516.5" width="28.1" height="17.3" fill="#f8a994"/>
<rect x="1608" y="516.5" width="28.1" height="17.3" fill="#e9ddec"/>
<rect x="1640.2" y="516.5" width="28.1" height="17.3" fill="#e9ddec"/>
<rect x="1668.3" y="516.5" width="28.1" height="17.3" fill="#f4ecf4"/>
<rect x="1700.5" y="516.5" width="28.1" height="17.3" fill="#3b51a3"/>
<rect x="1728.6" y="516.5" width="28.1" height="17.3" fill="#e9ddec"/>
<rect x="1760.8" y="516.5" width="28.1" height="17.3" fill="#f4836a"/>
<rect x="1788.9" y="516.5" width="28.1" height="17.3" fill="#e9ddec"/>
<rect x="1821.1" y="516.5" width="28.1" height="17.3" fill="#f4836a"/>
<rect x="1849.2" y="516.5" width="28.1" height="17.3" fill="#dccfe6"/>
<rect x="1881.4" y="516.5" width="28.1" height="17.3" fill="#fbc3b2"/>
<rect x="1909.5" y="516.5" width="28.1" height="17.3" fill="#dccfe6"/>
<rect x="1941.7" y="516.5" width="28.1" height="17.3" fill="#3b51a3"/>
<rect x="1969.8" y="516.5" width="28.1" height="17.3" fill="#e9ddec"/>
<rect x="2098.4" y="516.5" width="23" height="17.3" fill="#c4a9d2"/>
<rect x="1399" y="533.5" width="28.1" height="17.3" fill="#fbc3b2"/>
<rect x="1427.1" y="533.5" width="28.1" height="17.3" fill="#fdf8f9"/>
<rect x="1459.3" y="533.5" width="28.1" height="17.3" fill="#f4836a"/>
<rect x="1487.4" y="533.5" width="28.1" height="17.3" fill="#e9ddec"/>
<rect x="1519.6" y="533.5" width="28.1" height="17.3" fill="#ef3e2b"/>
<rect x="1547.7" y="533.5" width="28.1" height="17.3" fill="#dccfe6"/>
<rect x="1579.9" y="533.5" width="28.1" height="17.3" fill="#7e69b2"/>
<rect x="1608" y="533.5" width="28.1" height="17.3" fill="#e9ddec"/>
<rect x="1640.2" y="533.5" width="56.2" height="17.3" fill="#e9ddec"/>
<rect x="1700.5" y="533.5" width="56.2" height="17.3" fill="#f4ecf4"/>
<rect x="1760.8" y="533.5" width="28.1" height="17.3" fill="#3b51a3"/>
<rect x="1788.9" y="533.5" width="28.1" height="17.3" fill="#fdf8f9"/>
<rect x="1821.1" y="533.5" width="28.1" height="17.3" fill="#7e69b2"/>
<rect x="1849.2" y="533.5" width="28.1" height="17.3" fill="#e9ddec"/>
<rect x="1881.4" y="533.5" width="28.1" height="17.3" fill="#3b51a3"/>
<rect x="1909.5" y="533.5" width="28.1" height="17.3" fill="#e9ddec"/>
<rect x="1941.7" y="533.5" width="28.1" height="17.3" fill="#3b51a3"/>
<rect x="1969.8" y="533.5" width="28.1" height="17.3" fill="#e9ddec"/>
<rect x="2075.4" y="533.5" width="23" height="17.3" fill="#5b2a5e"/>
<rect x="2098.4" y="533.5" width="23" height="17.3" fill="#8e4f85"/>
<rect x="2121.4" y="533.5" width="23" height="17.3" fill="#5b2a5e"/>
<rect x="2144.4" y="533.5" width="23" height="17.3" fill="#c4a9d2"/>
<rect x="1399" y="550.5" width="28.1" height="17.3" fill="#b09ccb"/>
<rect x="1427.1" y="550.5" width="28.1" height="17.3" fill="#f4ecf4"/>
<rect x="1459.3" y="550.5" width="28.1" height="17.3" fill="#ef3e2b"/>
<rect x="1487.4" y="550.5" width="28.1" height="17.3" fill="#fdf8f9"/>
<rect x="1519.6" y="550.5" width="28.1" height="17.3" fill="#f05a40"/>
<rect x="1547.7" y="550.5" width="28.1" height="17.3" fill="#dccfe6"/>
<rect x="1579.9" y="550.5" width="28.1" height="17.3" fill="#fee9e2"/>
<rect x="1608" y="550.5" width="28.1" height="17.3" fill="#e9ddec"/>
<rect x="1640.2" y="550.5" width="28.1" height="17.3" fill="#f4836a"/>
<rect x="1668.3" y="550.5" width="28.1" height="17.3" fill="#e9ddec"/>
<rect x="1700.5" y="550.5" width="28.1" height="17.3" fill="#7e69b2"/>
<rect x="1728.6" y="550.5" width="28.1" height="17.3" fill="#e9ddec"/>
<rect x="1760.8" y="550.5" width="28.1" height="17.3" fill="#fddacf"/>
<rect x="1788.9" y="550.5" width="28.1" height="17.3" fill="#dccfe6"/>
<rect x="1821.1" y="550.5" width="28.1" height="17.3" fill="#fee9e2"/>
<rect x="1849.2" y="550.5" width="28.1" height="17.3" fill="#dccfe6"/>
<rect x="1881.4" y="550.5" width="28.1" height="17.3" fill="#6259a9"/>
<rect x="1909.5" y="550.5" width="28.1" height="17.3" fill="#e9ddec"/>
<rect x="1941.7" y="550.5" width="28.1" height="17.3" fill="#3b51a3"/>
<rect x="1969.8" y="550.5" width="28.1" height="17.3" fill="#e9ddec"/>
<rect x="2006.4" y="550.5" width="23" height="17.3" fill="#5b2a5e"/>
<rect x="2052.4" y="550.5" width="23" height="17.3" fill="#5b2a5e"/>
<rect x="2098.4" y="550.5" width="23" height="17.3" fill="#c4a9d2"/>
<rect x="2121.4" y="550.5" width="23" height="17.3" fill="#8e4f85"/>
<rect x="2144.4" y="550.5" width="23" height="17.3" fill="#0f1033"/>
<rect x="1399" y="567.4" width="28.1" height="17.3" fill="#7e69b2"/>
<rect x="1427.1" y="567.4" width="28.1" height="17.3" fill="#f4ecf4"/>
<rect x="1459.3" y="567.4" width="28.1" height="17.3" fill="#c9b6db"/>
<rect x="1487.4" y="567.4" width="28.1" height="17.3" fill="#fee9e2"/>
<rect x="1519.6" y="567.4" width="28.1" height="17.3" fill="#ed1c24"/>
<rect x="1547.7" y="567.4" width="28.1" height="17.3" fill="#dccfe6"/>
<rect x="1579.9" y="567.4" width="28.1" height="17.3" fill="#b09ccb"/>
<rect x="1608" y="567.4" width="28.1" height="17.3" fill="#e9ddec"/>
<rect x="1640.2" y="567.4" width="28.1" height="17.3" fill="#dccfe6"/>
<rect x="1668.3" y="567.4" width="28.1" height="17.3" fill="#e9ddec"/>
<rect x="1700.5" y="567.4" width="28.1" height="17.3" fill="#9a86c0"/>
<rect x="1728.6" y="567.4" width="28.1" height="17.3" fill="#e9ddec"/>
<rect x="1760.8" y="567.4" width="28.1" height="17.3" fill="#f05a40"/>
<rect x="1788.9" y="567.4" width="28.1" height="17.3" fill="#e9ddec"/>
<rect x="1821.1" y="567.4" width="28.1" height="17.3" fill="#fbc3b2"/>
<rect x="1849.2" y="567.4" width="28.1" height="17.3" fill="#e9ddec"/>
<rect x="1881.4" y="567.4" width="28.1" height="17.3" fill="#b09ccb"/>
<rect x="1909.5" y="567.4" width="28.1" height="17.3" fill="#e9ddec"/>
<rect x="1941.7" y="567.4" width="28.1" height="17.3" fill="#3b51a3"/>
<rect x="1969.8" y="567.4" width="28.1" height="17.3" fill="#e9ddec"/>
<rect x="2075.4" y="567.4" width="23" height="17.3" fill="#5b2a5e"/>
<rect x="2098.4" y="567.4" width="23" height="17.3" fill="#c4a9d2"/>
<rect x="2121.4" y="567.4" width="23" height="17.3" fill="#9b8dc8"/>
<rect x="2144.4" y="567.4" width="23" height="17.3" fill="#9b8dc8"/>
<rect x="1399" y="584.4" width="28.1" height="17.3" fill="#dccfe6"/>
<rect x="1427.1" y="584.4" width="28.1" height="17.3" fill="#f4ecf4"/>
<rect x="1459.3" y="584.4" width="28.1" height="17.3" fill="#3b51a3"/>
<rect x="1487.4" y="584.4" width="28.1" height="17.3" fill="#e9ddec"/>
<rect x="1519.6" y="584.4" width="28.1" height="17.3" fill="#ef3e2b"/>
<rect x="1547.7" y="584.4" width="28.1" height="17.3" fill="#e9ddec"/>
<rect x="1579.9" y="584.4" width="28.1" height="17.3" fill="#fbc3b2"/>
<rect x="1608" y="584.4" width="28.1" height="17.3" fill="#e9ddec"/>
<rect x="1640.2" y="584.4" width="28.1" height="17.3" fill="#6259a9"/>
<rect x="1668.3" y="584.4" width="28.1" height="17.3" fill="#e9ddec"/>
<rect x="1700.5" y="584.4" width="28.1" height="17.3" fill="#fee9e2"/>
<rect x="1728.6" y="584.4" width="28.1" height="17.3" fill="#f4ecf4"/>
<rect x="1760.8" y="584.4" width="28.1" height="17.3" fill="#f8a994"/>
<rect x="1788.9" y="584.4" width="28.1" height="17.3" fill="#e9ddec"/>
<rect x="1821.1" y="584.4" width="28.1" height="17.3" fill="#3b51a3"/>
<rect x="1849.2" y="584.4" width="28.1" height="17.3" fill="#f4ecf4"/>
<rect x="1881.4" y="584.4" width="28.1" height="17.3" fill="#3b51a3"/>
<rect x="1909.5" y="584.4" width="28.1" height="17.3" fill="#f4ecf4"/>
<rect x="1941.7" y="584.4" width="28.1" height="17.3" fill="#f05a40"/>
<rect x="1969.8" y="584.4" width="28.1" height="17.3" fill="#f4ecf4"/>
<rect x="2029.4" y="584.4" width="23" height="17.3" fill="#5b2a5e"/>
<rect x="2075.4" y="584.4" width="23" height="17.3" fill="#c4a9d2"/>
<rect x="1399" y="601.4" width="28.1" height="17.3" fill="#c9b6db"/>
<rect x="1427.1" y="601.4" width="28.1" height="17.3" fill="#e9ddec"/>
<rect x="1459.3" y="601.4" width="28.1" height="17.3" fill="#3b51a3"/>
<rect x="1487.4" y="601.4" width="28.1" height="17.3" fill="#fee9e2"/>
<rect x="1519.6" y="601.4" width="28.1" height="17.3" fill="#3b51a3"/>
<rect x="1547.7" y="601.4" width="28.1" height="17.3" fill="#f4ecf4"/>
<rect x="1579.9" y="601.4" width="28.1" height="17.3" fill="#f05a40"/>
<rect x="1608" y="601.4" width="28.1" height="17.3" fill="#dccfe6"/>
<rect x="1640.2" y="601.4" width="28.1" height="17.3" fill="#ef3e2b"/>
<rect x="1668.3" y="601.4" width="28.1" height="17.3" fill="#e9ddec"/>
<rect x="1700.5" y="601.4" width="28.1" height="17.3" fill="#9a86c0"/>
<rect x="1728.6" y="601.4" width="28.1" height="17.3" fill="#e9ddec"/>
<rect x="1760.8" y="601.4" width="28.1" height="17.3" fill="#9a86c0"/>
<rect x="1788.9" y="601.4" width="28.1" height="17.3" fill="#e9ddec"/>
<rect x="1821.1" y="601.4" width="28.1" height="17.3" fill="#fddacf"/>
<rect x="1849.2" y="601.4" width="28.1" height="17.3" fill="#dccfe6"/>
<rect x="1881.4" y="601.4" width="28.1" height="17.3" fill="#f4ecf4"/>
<rect x="1909.5" y="601.4" width="28.1" height="17.3" fill="#dccfe6"/>
<rect x="1941.7" y="601.4" width="56.2" height="17.3" fill="#e9ddec"/>
<rect x="2029.4" y="601.4" width="23" height="17.3" fill="#c4a9d2"/>
<rect x="2098.4" y="601.4" width="23" height="17.3" fill="#c4a9d2"/>
<rect x="2144.4" y="601.4" width="23" height="17.3" fill="#c4a9d2"/>
<rect x="1399" y="618.4" width="28.1" height="17.3" fill="#fdf8f9"/>
<rect x="1427.1" y="618.4" width="28.1" height="17.3" fill="#dccfe6"/>
<rect x="1459.3" y="618.4" width="28.1" height="17.3" fill="#3b51a3"/>
<rect x="1487.4" y="618.4" width="28.1" height="17.3" fill="#f4ecf4"/>
<rect x="1519.6" y="618.4" width="28.1" height="17.3" fill="#fee9e2"/>
<rect x="1547.7" y="618.4" width="28.1" height="17.3" fill="#dccfe6"/>
<rect x="1579.9" y="618.4" width="28.1" height="17.3" fill="#f4836a"/>
<rect x="1608" y="618.4" width="28.1" height="17.3" fill="#c9b6db"/>
<rect x="1640.2" y="618.4" width="28.1" height="17.3" fill="#fbc3b2"/>
<rect x="1668.3" y="618.4" width="28.1" height="17.3" fill="#e9ddec"/>
<rect x="1700.5" y="618.4" width="28.1" height="17.3" fill="#c9b6db"/>
<rect x="1728.6" y="618.4" width="28.1" height="17.3" fill="#e9ddec"/>
<rect x="1760.8" y="618.4" width="28.1" height="17.3" fill="#3b51a3"/>
<rect x="1788.9" y="618.4" width="28.1" height="17.3" fill="#e9ddec"/>
<rect x="1821.1" y="618.4" width="28.1" height="17.3" fill="#3b51a3"/>
<rect x="1849.2" y="618.4" width="28.1" height="17.3" fill="#fdf8f9"/>
<rect x="1881.4" y="618.4" width="28.1" height="17.3" fill="#9a86c0"/>
<rect x="1909.5" y="618.4" width="28.1" height="17.3" fill="#e9ddec"/>
<rect x="1941.7" y="618.4" width="28.1" height="17.3" fill="#3b51a3"/>
<rect x="1969.8" y="618.4" width="28.1" height="17.3" fill="#f4ecf4"/>
<rect x="2052.4" y="618.4" width="23" height="17.3" fill="#9b8dc8"/>
<rect x="2121.4" y="618.4" width="23" height="17.3" fill="#9b8dc8"/>
<rect x="1399" y="635.3" width="28.1" height="17.3" fill="#f05a40"/>
<rect x="1427.1" y="635.3" width="28.1" height="17.3" fill="#e9ddec"/>
<rect x="1459.3" y="635.3" width="28.1" height="17.3" fill="#ef3e2b"/>
<rect x="1487.4" y="635.3" width="28.1" height="17.3" fill="#7e69b2"/>
<rect x="1519.6" y="635.3" width="56.2" height="17.3" fill="#f4ecf4"/>
<rect x="1579.9" y="635.3" width="28.1" height="17.3" fill="#f05a40"/>
<rect x="1608" y="635.3" width="28.1" height="17.3" fill="#dccfe6"/>
<rect x="1640.2" y="635.3" width="28.1" height="17.3" fill="#f4836a"/>
<rect x="1668.3" y="635.3" width="28.1" height="17.3" fill="#e9ddec"/>
<rect x="1700.5" y="635.3" width="28.1" height="17.3" fill="#9a86c0"/>
<rect x="1728.6" y="635.3" width="28.1" height="17.3" fill="#e9ddec"/>
<rect x="1760.8" y="635.3" width="28.1" height="17.3" fill="#9a86c0"/>
<rect x="1788.9" y="635.3" width="28.1" height="17.3" fill="#e9ddec"/>
<rect x="1821.1" y="635.3" width="28.1" height="17.3" fill="#3b51a3"/>
<rect x="1849.2" y="635.3" width="28.1" height="17.3" fill="#f4ecf4"/>
<rect x="1881.4" y="635.3" width="28.1" height="17.3" fill="#f4836a"/>
<rect x="1909.5" y="635.3" width="28.1" height="17.3" fill="#e9ddec"/>
<rect x="1941.7" y="635.3" width="28.1" height="17.3" fill="#b09ccb"/>
<rect x="1969.8" y="635.3" width="28.1" height="17.3" fill="#f4ecf4"/>
<rect x="2006.4" y="635.3" width="23" height="17.3" fill="#5b2a5e"/>
<rect x="2075.4" y="635.3" width="23" height="17.3" fill="#8e4f85"/>
<rect x="2121.4" y="635.3" width="23" height="17.3" fill="#5b2a5e"/>
<rect x="1399" y="652.3" width="28.1" height="17.3" fill="#7e69b2"/>
<rect x="1427.1" y="652.3" width="28.1" height="17.3" fill="#f4ecf4"/>
<rect x="1459.3" y="652.3" width="28.1" height="17.3" fill="#9a86c0"/>
<rect x="1487.4" y="652.3" width="28.1" height="17.3" fill="#fdf8f9"/>
<rect x="1519.6" y="652.3" width="28.1" height="17.3" fill="#fddacf"/>
<rect x="1547.7" y="652.3" width="28.1" height="17.3" fill="#e9ddec"/>
<rect x="1579.9" y="652.3" width="28.1" height="17.3" fill="#f05a40"/>
<rect x="1608" y="652.3" width="28.1" height="17.3" fill="#c9b6db"/>
<rect x="1640.2" y="652.3" width="28.1" height="17.3" fill="#ef3e2b"/>
<rect x="1668.3" y="652.3" width="28.1" height="17.3" fill="#dccfe6"/>
<rect x="1700.5" y="652.3" width="28.1" height="17.3" fill="#7e69b2"/>
<rect x="1728.6" y="652.3" width="28.1" height="17.3" fill="#dccfe6"/>
<rect x="1760.8" y="652.3" width="28.1" height="17.3" fill="#3b51a3"/>
<rect x="1788.9" y="652.3" width="28.1" height="17.3" fill="#e9ddec"/>
<rect x="1849.2" y="652.3" width="28.1" height="17.3" fill="#e9ddec"/>
<rect x="1881.4" y="652.3" width="28.1" height="17.3" fill="#6259a9"/>
<rect x="1909.5" y="652.3" width="28.1" height="17.3" fill="#f4ecf4"/>
<rect x="1941.7" y="652.3" width="28.1" height="17.3" fill="#3b51a3"/>
<rect x="1969.8" y="652.3" width="28.1" height="17.3" fill="#f4ecf4"/>
<rect x="2075.4" y="652.3" width="23" height="17.3" fill="#5b2a5e"/>
<rect x="2098.4" y="652.3" width="23" height="17.3" fill="#c4a9d2"/>
<rect x="2144.4" y="652.3" width="23" height="17.3" fill="#c4a9d2"/>
<rect x="1399" y="669.3" width="28.1" height="17.3" fill="#b09ccb"/>
<rect x="1427.1" y="669.3" width="28.1" height="17.3" fill="#f4ecf4"/>
<rect x="1459.3" y="669.3" width="56.2" height="17.3" fill="#bdbdbd"/>
<rect x="1519.6" y="669.3" width="28.1" height="17.3" fill="#7e69b2"/>
<rect x="1547.7" y="669.3" width="28.1" height="17.3" fill="#e9ddec"/>
<rect x="1579.9" y="669.3" width="28.1" height="17.3" fill="#f4836a"/>
<rect x="1608" y="669.3" width="28.1" height="17.3" fill="#e9ddec"/>
<rect x="1640.2" y="669.3" width="28.1" height="17.3" fill="#f4ecf4"/>
<rect x="1668.3" y="669.3" width="28.1" height="17.3" fill="#dccfe6"/>
<rect x="1700.5" y="669.3" width="28.1" height="17.3" fill="#3b51a3"/>
<rect x="1728.6" y="669.3" width="28.1" height="17.3" fill="#e9ddec"/>
<rect x="1760.8" y="669.3" width="28.1" height="17.3" fill="#fddacf"/>
<rect x="1788.9" y="669.3" width="28.1" height="17.3" fill="#e9ddec"/>
<rect x="1821.1" y="669.3" width="28.1" height="17.3" fill="#c9b6db"/>
<rect x="1849.2" y="669.3" width="28.1" height="17.3" fill="#e9ddec"/>
<rect x="1881.4" y="669.3" width="28.1" height="17.3" fill="#c9b6db"/>
<rect x="1909.5" y="669.3" width="28.1" height="17.3" fill="#dccfe6"/>
<rect x="1941.7" y="669.3" width="28.1" height="17.3" fill="#f05a40"/>
<rect x="1969.8" y="669.3" width="28.1" height="17.3" fill="#dccfe6"/>
<rect x="2006.4" y="669.3" width="23" height="17.3" fill="#8e4f85"/>
<rect x="2029.4" y="669.3" width="23" height="17.3" fill="#9b8dc8"/>
<rect x="2052.4" y="669.3" width="23" height="17.3" fill="#9b8dc8"/>
<rect x="2121.4" y="669.3" width="23" height="17.3" fill="#5b2a5e"/>
<rect x="2144.4" y="669.3" width="23" height="17.3" fill="#c4a9d2"/>
<rect x="1399" y="686.2" width="28.1" height="17.3" fill="#3b51a3"/>
<rect x="1427.1" y="686.2" width="28.1" height="17.3" fill="#e9ddec"/>
<rect x="1459.3" y="686.2" width="28.1" height="17.3" fill="#ed1c24"/>
<rect x="1487.4" y="686.2" width="28.1" height="17.3" fill="#9a86c0"/>
<rect x="1519.6" y="686.2" width="28.1" height="17.3" fill="#fee9e2"/>
<rect x="1547.7" y="686.2" width="28.1" height="17.3" fill="#e9ddec"/>
<rect x="1579.9" y="686.2" width="28.1" height="17.3" fill="#f4836a"/>
<rect x="1608" y="686.2" width="28.1" height="17.3" fill="#dccfe6"/>
<rect x="1640.2" y="686.2" width="28.1" height="17.3" fill="#ed1c24"/>
<rect x="1668.3" y="686.2" width="28.1" height="17.3" fill="#e9ddec"/>
<rect x="1700.5" y="686.2" width="56.2" height="17.3" fill="#e9ddec"/>
<rect x="1760.8" y="686.2" width="28.1" height="17.3" fill="#f8a994"/>
<rect x="1788.9" y="686.2" width="28.1" height="17.3" fill="#dccfe6"/>
<rect x="1821.1" y="686.2" width="28.1" height="17.3" fill="#f05a40"/>
<rect x="1849.2" y="686.2" width="28.1" height="17.3" fill="#e9ddec"/>
<rect x="1881.4" y="686.2" width="28.1" height="17.3" fill="#dccfe6"/>
<rect x="1909.5" y="686.2" width="28.1" height="17.3" fill="#f4ecf4"/>
<rect x="1941.7" y="686.2" width="28.1" height="17.3" fill="#ef3e2b"/>
<rect x="1969.8" y="686.2" width="28.1" height="17.3" fill="#e9ddec"/>
<rect x="2075.4" y="686.2" width="23" height="17.3" fill="#c4a9d2"/>
<rect x="2098.4" y="686.2" width="23" height="17.3" fill="#5b2a5e"/>
<rect x="2121.4" y="686.2" width="23" height="17.3" fill="#9b8dc8"/>
<rect x="2144.4" y="686.2" width="23" height="17.3" fill="#9b8dc8"/>
<rect x="1399" y="703.2" width="28.1" height="17.3" fill="#3b51a3"/>
<rect x="1427.1" y="703.2" width="28.1" height="17.3" fill="#fdf8f9"/>
<rect x="1459.3" y="703.2" width="28.1" height="17.3" fill="#6259a9"/>
<rect x="1487.4" y="703.2" width="28.1" height="17.3" fill="#fdf8f9"/>
<rect x="1519.6" y="703.2" width="56.2" height="17.3" fill="#c9b6db"/>
<rect x="1579.9" y="703.2" width="28.1" height="17.3" fill="#f8a994"/>
<rect x="1608" y="703.2" width="28.1" height="17.3" fill="#c9b6db"/>
<rect x="1640.2" y="703.2" width="28.1" height="17.3" fill="#3b51a3"/>
<rect x="1668.3" y="703.2" width="28.1" height="17.3" fill="#f4ecf4"/>
<rect x="1700.5" y="703.2" width="28.1" height="17.3" fill="#3b51a3"/>
<rect x="1728.6" y="703.2" width="28.1" height="17.3" fill="#f4ecf4"/>
<rect x="1760.8" y="703.2" width="28.1" height="17.3" fill="#fdf8f9"/>
<rect x="1788.9" y="703.2" width="28.1" height="17.3" fill="#e9ddec"/>
<rect x="1821.1" y="703.2" width="28.1" height="17.3" fill="#ed1c24"/>
<rect x="1849.2" y="703.2" width="28.1" height="17.3" fill="#e9ddec"/>
<rect x="1881.4" y="703.2" width="28.1" height="17.3" fill="#f05a40"/>
<rect x="1909.5" y="703.2" width="28.1" height="17.3" fill="#f4ecf4"/>
<rect x="1941.7" y="703.2" width="28.1" height="17.3" fill="#b09ccb"/>
<rect x="1969.8" y="703.2" width="28.1" height="17.3" fill="#e9ddec"/>
<rect x="2029.4" y="703.2" width="23" height="17.3" fill="#5b2a5e"/>
<rect x="2098.4" y="703.2" width="23" height="17.3" fill="#c4a9d2"/>
<rect x="1399" y="720.2" width="28.1" height="17.3" fill="#fee9e2"/>
<rect x="1427.1" y="720.2" width="28.1" height="17.3" fill="#e9ddec"/>
<rect x="1459.3" y="720.2" width="28.1" height="17.3" fill="#3b51a3"/>
<rect x="1487.4" y="720.2" width="28.1" height="17.3" fill="#fddacf"/>
<rect x="1519.6" y="720.2" width="28.1" height="17.3" fill="#fbc3b2"/>
<rect x="1547.7" y="720.2" width="28.1" height="17.3" fill="#dccfe6"/>
<rect x="1579.9" y="720.2" width="28.1" height="17.3" fill="#f8a994"/>
<rect x="1608" y="720.2" width="28.1" height="17.3" fill="#dccfe6"/>
<rect x="1640.2" y="720.2" width="28.1" height="17.3" fill="#dccfe6"/>
<rect x="1668.3" y="720.2" width="28.1" height="17.3" fill="#f4ecf4"/>
<rect x="1728.6" y="720.2" width="28.1" height="17.3" fill="#f4ecf4"/>
<rect x="1760.8" y="720.2" width="28.1" height="17.3" fill="#fddacf"/>
<rect x="1788.9" y="720.2" width="28.1" height="17.3" fill="#f4ecf4"/>
<rect x="1821.1" y="720.2" width="28.1" height="17.3" fill="#f8a994"/>
<rect x="1849.2" y="720.2" width="28.1" height="17.3" fill="#e9ddec"/>
<rect x="1881.4" y="720.2" width="28.1" height="17.3" fill="#fddacf"/>
<rect x="1909.5" y="720.2" width="28.1" height="17.3" fill="#f4ecf4"/>
<rect x="1941.7" y="720.2" width="28.1" height="17.3" fill="#c9b6db"/>
<rect x="1969.8" y="720.2" width="28.1" height="17.3" fill="#e9ddec"/>
<rect x="2098.4" y="720.2" width="23" height="17.3" fill="#c4a9d2"/>
<rect x="2121.4" y="720.2" width="23" height="17.3" fill="#5b2a5e"/>
<rect x="1399" y="737.2" width="28.1" height="17.3" fill="#3b51a3"/>
<rect x="1427.1" y="737.2" width="28.1" height="17.3" fill="#f4ecf4"/>
<rect x="1459.3" y="737.2" width="28.1" height="17.3" fill="#6259a9"/>
<rect x="1487.4" y="737.2" width="28.1" height="17.3" fill="#fdf8f9"/>
<rect x="1519.6" y="737.2" width="28.1" height="17.3" fill="#9a86c0"/>
<rect x="1547.7" y="737.2" width="28.1" height="17.3" fill="#e9ddec"/>
<rect x="1579.9" y="737.2" width="28.1" height="17.3" fill="#3b51a3"/>
<rect x="1608" y="737.2" width="28.1" height="17.3" fill="#f4ecf4"/>
<rect x="1640.2" y="737.2" width="28.1" height="17.3" fill="#ed1c24"/>
<rect x="1668.3" y="737.2" width="28.1" height="17.3" fill="#c9b6db"/>
<rect x="1700.5" y="737.2" width="28.1" height="17.3" fill="#f4836a"/>
<rect x="1728.6" y="737.2" width="28.1" height="17.3" fill="#e9ddec"/>
<rect x="1760.8" y="737.2" width="28.1" height="17.3" fill="#f8a994"/>
<rect x="1788.9" y="737.2" width="28.1" height="17.3" fill="#e9ddec"/>
<rect x="1821.1" y="737.2" width="28.1" height="17.3" fill="#f05a40"/>
<rect x="1849.2" y="737.2" width="28.1" height="17.3" fill="#c9b6db"/>
<rect x="1881.4" y="737.2" width="56.2" height="17.3" fill="#dccfe6"/>
<rect x="1941.7" y="737.2" width="28.1" height="17.3" fill="#f4ecf4"/>
<rect x="1969.8" y="737.2" width="28.1" height="17.3" fill="#e9ddec"/>
<rect x="2006.4" y="737.2" width="23" height="17.3" fill="#5b2a5e"/>
<rect x="2052.4" y="737.2" width="23" height="17.3" fill="#5b2a5e"/>
<rect x="2121.4" y="737.2" width="23" height="17.3" fill="#5b2a5e"/>
<rect x="2144.4" y="737.2" width="23" height="17.3" fill="#5b2a5e"/>
<rect x="1399" y="754.2" width="28.1" height="17.3" fill="#fee9e2"/>
<rect x="1427.1" y="754.2" width="28.1" height="17.3" fill="#e9ddec"/>
<rect x="1487.4" y="754.2" width="28.1" height="17.3" fill="#dccfe6"/>
<rect x="1519.6" y="754.2" width="28.1" height="17.3" fill="#c9b6db"/>
<rect x="1547.7" y="754.2" width="28.1" height="17.3" fill="#fdf8f9"/>
<rect x="1579.9" y="754.2" width="28.1" height="17.3" fill="#f8a994"/>
<rect x="1608" y="754.2" width="28.1" height="17.3" fill="#e9ddec"/>
<rect x="1640.2" y="754.2" width="28.1" height="17.3" fill="#f05a40"/>
<rect x="1668.3" y="754.2" width="28.1" height="17.3" fill="#dccfe6"/>
<rect x="1700.5" y="754.2" width="28.1" height="17.3" fill="#fbc3b2"/>
<rect x="1728.6" y="754.2" width="28.1" height="17.3" fill="#e9ddec"/>
<rect x="1760.8" y="754.2" width="28.1" height="17.3" fill="#fbc3b2"/>
<rect x="1788.9" y="754.2" width="28.1" height="17.3" fill="#e9ddec"/>
<rect x="1821.1" y="754.2" width="28.1" height="17.3" fill="#ed1c24"/>
<rect x="1849.2" y="754.2" width="28.1" height="17.3" fill="#dccfe6"/>
<rect x="1881.4" y="754.2" width="28.1" height="17.3" fill="#3b51a3"/>
<rect x="1941.7" y="754.2" width="28.1" height="17.3" fill="#3b51a3"/>
<rect x="1969.8" y="754.2" width="28.1" height="17.3" fill="#f4ecf4"/>
<rect x="2098.4" y="754.2" width="23" height="17.3" fill="#c4a9d2"/>
<rect x="2121.4" y="754.2" width="23" height="17.3" fill="#8e4f85"/>
<rect x="1399" y="771.1" width="28.1" height="17.3" fill="#7e69b2"/>
<rect x="1427.1" y="771.1" width="28.1" height="17.3" fill="#e9ddec"/>
<rect x="1459.3" y="771.1" width="28.1" height="17.3" fill="#e9ddec"/>
<rect x="1487.4" y="771.1" width="28.1" height="17.3" fill="#f4ecf4"/>
<rect x="1519.6" y="771.1" width="28.1" height="17.3" fill="#fdf8f9"/>
<rect x="1547.7" y="771.1" width="28.1" height="17.3" fill="#e9ddec"/>
<rect x="1579.9" y="771.1" width="28.1" height="17.3" fill="#fddacf"/>
<rect x="1608" y="771.1" width="28.1" height="17.3" fill="#e9ddec"/>
<rect x="1640.2" y="771.1" width="28.1" height="17.3" fill="#ed1c24"/>
<rect x="1668.3" y="771.1" width="28.1" height="17.3" fill="#dccfe6"/>
<rect x="1700.5" y="771.1" width="28.1" height="17.3" fill="#fdf8f9"/>
<rect x="1728.6" y="771.1" width="28.1" height="17.3" fill="#e9ddec"/>
<rect x="1760.8" y="771.1" width="28.1" height="17.3" fill="#fddacf"/>
<rect x="1788.9" y="771.1" width="28.1" height="17.3" fill="#dccfe6"/>
<rect x="1849.2" y="771.1" width="28.1" height="17.3" fill="#dccfe6"/>
<rect x="1881.4" y="771.1" width="28.1" height="17.3" fill="#7e69b2"/>
<rect x="1909.5" y="771.1" width="28.1" height="17.3" fill="#dccfe6"/>
<rect x="1941.7" y="771.1" width="28.1" height="17.3" fill="#3b51a3"/>
<rect x="1969.8" y="771.1" width="28.1" height="17.3" fill="#f4ecf4"/>
<rect x="1399" y="788.1" width="28.1" height="17.3" fill="#f4836a"/>
<rect x="1427.1" y="788.1" width="28.1" height="17.3" fill="#dccfe6"/>
<rect x="1459.3" y="788.1" width="28.1" height="17.3" fill="#3b51a3"/>
<rect x="1487.4" y="788.1" width="28.1" height="17.3" fill="#dccfe6"/>
<rect x="1519.6" y="788.1" width="28.1" height="17.3" fill="#f4836a"/>
<rect x="1547.7" y="788.1" width="28.1" height="17.3" fill="#b09ccb"/>
<rect x="1579.9" y="788.1" width="28.1" height="17.3" fill="#fbc3b2"/>
<rect x="1608" y="788.1" width="28.1" height="17.3" fill="#c9b6db"/>
<rect x="1640.2" y="788.1" width="28.1" height="17.3" fill="#ed1c24"/>
<rect x="1668.3" y="788.1" width="28.1" height="17.3" fill="#dccfe6"/>
<rect x="1700.5" y="788.1" width="28.1" height="17.3" fill="#c9b6db"/>
<rect x="1728.6" y="788.1" width="28.1" height="17.3" fill="#f4ecf4"/>
<rect x="1760.8" y="788.1" width="28.1" height="17.3" fill="#fddacf"/>
<rect x="1788.9" y="788.1" width="28.1" height="17.3" fill="#e9ddec"/>
<rect x="1821.1" y="788.1" width="28.1" height="17.3" fill="#3b51a3"/>
<rect x="1849.2" y="788.1" width="28.1" height="17.3" fill="#f4ecf4"/>
<rect x="1881.4" y="788.1" width="56.2" height="17.3" fill="#e9ddec"/>
<rect x="1941.7" y="788.1" width="28.1" height="17.3" fill="#ed1c24"/>
<rect x="1969.8" y="788.1" width="28.1" height="17.3" fill="#dccfe6"/>
<rect x="2006.4" y="788.1" width="23" height="17.3" fill="#9b8dc8"/>
<rect x="2052.4" y="788.1" width="23" height="17.3" fill="#9b8dc8"/>
<rect x="2144.4" y="788.1" width="23" height="17.3" fill="#c4a9d2"/>
<rect x="1399" y="805.1" width="28.1" height="17.3" fill="#ed1c24"/>
<rect x="1427.1" y="805.1" width="28.1" height="17.3" fill="#dccfe6"/>
<rect x="1459.3" y="805.1" width="28.1" height="17.3" fill="#fee9e2"/>
<rect x="1487.4" y="805.1" width="28.1" height="17.3" fill="#dccfe6"/>
<rect x="1519.6" y="805.1" width="28.1" height="17.3" fill="#6259a9"/>
<rect x="1547.7" y="805.1" width="28.1" height="17.3" fill="#f4ecf4"/>
<rect x="1579.9" y="805.1" width="28.1" height="17.3" fill="#f4ecf4"/>
<rect x="1608" y="805.1" width="28.1" height="17.3" fill="#dccfe6"/>
<rect x="1640.2" y="805.1" width="28.1" height="17.3" fill="#ed1c24"/>
<rect x="1668.3" y="805.1" width="28.1" height="17.3" fill="#c9b6db"/>
<rect x="1700.5" y="805.1" width="28.1" height="17.3" fill="#f8a994"/>
<rect x="1728.6" y="805.1" width="28.1" height="17.3" fill="#f4ecf4"/>
<rect x="1760.8" y="805.1" width="28.1" height="17.3" fill="#9a86c0"/>
<rect x="1788.9" y="805.1" width="28.1" height="17.3" fill="#e9ddec"/>
<rect x="1821.1" y="805.1" width="28.1" height="17.3" fill="#ed1c24"/>
<rect x="1849.2" y="805.1" width="28.1" height="17.3" fill="#dccfe6"/>
<rect x="1881.4" y="805.1" width="28.1" height="17.3" fill="#6259a9"/>
<rect x="1909.5" y="805.1" width="28.1" height="17.3" fill="#e9ddec"/>
<rect x="1941.7" y="805.1" width="28.1" height="17.3" fill="#3b51a3"/>
<rect x="1399" y="822.1" width="28.1" height="17.3" fill="#f4ecf4"/>
<rect x="1427.1" y="822.1" width="28.1" height="17.3" fill="#e9ddec"/>
<rect x="1459.3" y="822.1" width="28.1" height="17.3" fill="#fddacf"/>
<rect x="1519.6" y="822.1" width="28.1" height="17.3" fill="#9a86c0"/>
<rect x="1547.7" y="822.1" width="28.1" height="17.3" fill="#e9ddec"/>
<rect x="1579.9" y="822.1" width="28.1" height="17.3" fill="#f8a994"/>
<rect x="1608" y="822.1" width="28.1" height="17.3" fill="#c9b6db"/>
<rect x="1640.2" y="822.1" width="28.1" height="17.3" fill="#ed1c24"/>
<rect x="1668.3" y="822.1" width="28.1" height="17.3" fill="#dccfe6"/>
<rect x="1700.5" y="822.1" width="28.1" height="17.3" fill="#f4836a"/>
<rect x="1728.6" y="822.1" width="28.1" height="17.3" fill="#e9ddec"/>
<rect x="1760.8" y="822.1" width="28.1" height="17.3" fill="#7e69b2"/>
<rect x="1788.9" y="822.1" width="28.1" height="17.3" fill="#e9ddec"/>
<rect x="1821.1" y="822.1" width="28.1" height="17.3" fill="#f4836a"/>
<rect x="1849.2" y="822.1" width="28.1" height="17.3" fill="#c9b6db"/>
<rect x="1881.4" y="822.1" width="28.1" height="17.3" fill="#6259a9"/>
<rect x="1909.5" y="822.1" width="28.1" height="17.3" fill="#f4ecf4"/>
<rect x="1941.7" y="822.1" width="28.1" height="17.3" fill="#7e69b2"/>
<rect x="1969.8" y="822.1" width="28.1" height="17.3" fill="#e9ddec"/>
<rect x="2006.4" y="822.1" width="23" height="17.3" fill="#9b8dc8"/>
<rect x="2029.4" y="822.1" width="23" height="17.3" fill="#9b8dc8"/>
<rect x="2052.4" y="822.1" width="23" height="17.3" fill="#9b8dc8"/>
<rect x="1399" y="839" width="28.1" height="17.3" fill="#fbc3b2"/>
<rect x="1427.1" y="839" width="28.1" height="17.3" fill="#f4ecf4"/>
<rect x="1459.3" y="839" width="28.1" height="17.3" fill="#3b51a3"/>
<rect x="1487.4" y="839" width="28.1" height="17.3" fill="#fdf8f9"/>
<rect x="1519.6" y="839" width="28.1" height="17.3" fill="#6259a9"/>
<rect x="1547.7" y="839" width="28.1" height="17.3" fill="#e9ddec"/>
<rect x="1608" y="839" width="28.1" height="17.3" fill="#e9ddec"/>
<rect x="1640.2" y="839" width="28.1" height="17.3" fill="#ed1c24"/>
<rect x="1668.3" y="839" width="28.1" height="17.3" fill="#dccfe6"/>
<rect x="1700.5" y="839" width="28.1" height="17.3" fill="#fddacf"/>
<rect x="1728.6" y="839" width="28.1" height="17.3" fill="#e9ddec"/>
<rect x="1760.8" y="839" width="28.1" height="17.3" fill="#3b51a3"/>
<rect x="1788.9" y="839" width="28.1" height="17.3" fill="#e9ddec"/>
<rect x="1821.1" y="839" width="56.2" height="17.3" fill="#e9ddec"/>
<rect x="1881.4" y="839" width="28.1" height="17.3" fill="#ed1c24"/>
<rect x="1909.5" y="839" width="28.1" height="17.3" fill="#e9ddec"/>
<rect x="1941.7" y="839" width="28.1" height="17.3" fill="#3b51a3"/>
<rect x="1969.8" y="839" width="28.1" height="17.3" fill="#f4ecf4"/>
<rect x="2098.4" y="839" width="23" height="17.3" fill="#c4a9d2"/>
<rect x="1399" y="856" width="28.1" height="17.3" fill="#fbc3b2"/>
<rect x="1427.1" y="856" width="28.1" height="17.3" fill="#dccfe6"/>
<rect x="1459.3" y="856" width="28.1" height="17.3" fill="#fee9e2"/>
<rect x="1487.4" y="856" width="28.1" height="17.3" fill="#f4ecf4"/>
<rect x="1519.6" y="856" width="28.1" height="17.3" fill="#b09ccb"/>
<rect x="1547.7" y="856" width="28.1" height="17.3" fill="#e9ddec"/>
<rect x="1579.9" y="856" width="28.1" height="17.3" fill="#fddacf"/>
<rect x="1608" y="856" width="28.1" height="17.3" fill="#dccfe6"/>
<rect x="1640.2" y="856" width="28.1" height="17.3" fill="#e9ddec"/>
<rect x="1668.3" y="856" width="28.1" height="17.3" fill="#f4ecf4"/>
<rect x="1700.5" y="856" width="28.1" height="17.3" fill="#fee9e2"/>
<rect x="1728.6" y="856" width="28.1" height="17.3" fill="#f4ecf4"/>
<rect x="1760.8" y="856" width="28.1" height="17.3" fill="#ed1c24"/>
<rect x="1788.9" y="856" width="28.1" height="17.3" fill="#dccfe6"/>
<rect x="1821.1" y="856" width="28.1" height="17.3" fill="#f4836a"/>
<rect x="1849.2" y="856" width="28.1" height="17.3" fill="#dccfe6"/>
<rect x="1881.4" y="856" width="28.1" height="17.3" fill="#9a86c0"/>
<rect x="1909.5" y="856" width="28.1" height="17.3" fill="#dccfe6"/>
<rect x="1941.7" y="856" width="28.1" height="17.3" fill="#f4836a"/>
<rect x="1969.8" y="856" width="28.1" height="17.3" fill="#e9ddec"/>
<rect x="1399" y="873" width="28.1" height="17.3" fill="#dccfe6"/>
<rect x="1427.1" y="873" width="28.1" height="17.3" fill="#e9ddec"/>
<rect x="1459.3" y="873" width="28.1" height="17.3" fill="#dccfe6"/>
<rect x="1487.4" y="873" width="28.1" height="17.3" fill="#c9b6db"/>
<rect x="1519.6" y="873" width="28.1" height="17.3" fill="#fddacf"/>
<rect x="1547.7" y="873" width="28.1" height="17.3" fill="#e9ddec"/>
<rect x="1579.9" y="873" width="28.1" height="17.3" fill="#fee9e2"/>
<rect x="1608" y="873" width="28.1" height="17.3" fill="#f4ecf4"/>
<rect x="1640.2" y="873" width="28.1" height="17.3" fill="#fee9e2"/>
<rect x="1668.3" y="873" width="28.1" height="17.3" fill="#e9ddec"/>
<rect x="1700.5" y="873" width="28.1" height="17.3" fill="#f05a40"/>
<rect x="1728.6" y="873" width="28.1" height="17.3" fill="#dccfe6"/>
<rect x="1760.8" y="873" width="28.1" height="17.3" fill="#ed1c24"/>
<rect x="1788.9" y="873" width="28.1" height="17.3" fill="#dccfe6"/>
<rect x="1821.1" y="873" width="28.1" height="17.3" fill="#9a86c0"/>
<rect x="1881.4" y="873" width="28.1" height="17.3" fill="#fddacf"/>
<rect x="1941.7" y="873" width="28.1" height="17.3" fill="#3b51a3"/>
<rect x="1969.8" y="873" width="28.1" height="17.3" fill="#f4ecf4"/>
<rect x="2121.4" y="873" width="23" height="17.3" fill="#9b8dc8"/>
<rect x="2144.4" y="873" width="23" height="17.3" fill="#9b8dc8"/>
<rect x="1399" y="890" width="28.1" height="17.3" fill="#b09ccb"/>
<rect x="1427.1" y="890" width="28.1" height="17.3" fill="#f4ecf4"/>
<rect x="1459.3" y="890" width="28.1" height="17.3" fill="#c9b6db"/>
<rect x="1487.4" y="890" width="28.1" height="17.3" fill="#fdf8f9"/>
<rect x="1519.6" y="890" width="28.1" height="17.3" fill="#fee9e2"/>
<rect x="1547.7" y="890" width="28.1" height="17.3" fill="#e9ddec"/>
<rect x="1579.9" y="890" width="28.1" height="17.3" fill="#fddacf"/>
<rect x="1608" y="890" width="28.1" height="17.3" fill="#e9ddec"/>
<rect x="1640.2" y="890" width="28.1" height="17.3" fill="#c9b6db"/>
<rect x="1668.3" y="890" width="28.1" height="17.3" fill="#e9ddec"/>
<rect x="1700.5" y="890" width="28.1" height="17.3" fill="#fee9e2"/>
<rect x="1728.6" y="890" width="28.1" height="17.3" fill="#e9ddec"/>
<rect x="1760.8" y="890" width="28.1" height="17.3" fill="#3b51a3"/>
<rect x="1788.9" y="890" width="28.1" height="17.3" fill="#e9ddec"/>
<rect x="1821.1" y="890" width="28.1" height="17.3" fill="#ed1c24"/>
<rect x="1849.2" y="890" width="28.1" height="17.3" fill="#e9ddec"/>
<rect x="1881.4" y="890" width="28.1" height="17.3" fill="#7e69b2"/>
<rect x="1909.5" y="890" width="28.1" height="17.3" fill="#e9ddec"/>
<rect x="1941.7" y="890" width="28.1" height="17.3" fill="#3b51a3"/>
<rect x="1969.8" y="890" width="28.1" height="17.3" fill="#e9ddec"/>
<rect x="2006.4" y="890" width="23" height="17.3" fill="#c4a9d2"/>
<rect x="2029.4" y="890" width="23" height="17.3" fill="#c4a9d2"/>
<rect x="2098.4" y="890" width="23" height="17.3" fill="#5b2a5e"/>
<rect x="2121.4" y="890" width="23" height="17.3" fill="#5b2a5e"/>
<rect x="2144.4" y="890" width="23" height="17.3" fill="#c4a9d2"/>
<rect x="1427.1" y="906.9" width="28.1" height="17.3" fill="#dccfe6"/>
<rect x="1459.3" y="906.9" width="28.1" height="17.3" fill="#3b51a3"/>
<rect x="1487.4" y="906.9" width="28.1" height="17.3" fill="#fee9e2"/>
<rect x="1519.6" y="906.9" width="28.1" height="17.3" fill="#7e69b2"/>
<rect x="1547.7" y="906.9" width="28.1" height="17.3" fill="#f4ecf4"/>
<rect x="1579.9" y="906.9" width="28.1" height="17.3" fill="#6259a9"/>
<rect x="1608" y="906.9" width="28.1" height="17.3" fill="#fdf8f9"/>
<rect x="1640.2" y="906.9" width="28.1" height="17.3" fill="#3b51a3"/>
<rect x="1668.3" y="906.9" width="28.1" height="17.3" fill="#e9ddec"/>
<rect x="1700.5" y="906.9" width="28.1" height="17.3" fill="#fbc3b2"/>
<rect x="1728.6" y="906.9" width="28.1" height="17.3" fill="#e9ddec"/>
<rect x="1760.8" y="906.9" width="28.1" height="17.3" fill="#ef3e2b"/>
<rect x="1788.9" y="906.9" width="28.1" height="17.3" fill="#e9ddec"/>
<rect x="1821.1" y="906.9" width="28.1" height="17.3" fill="#ed1c24"/>
<rect x="1849.2" y="906.9" width="28.1" height="17.3" fill="#c9b6db"/>
<rect x="1881.4" y="906.9" width="28.1" height="17.3" fill="#f05a40"/>
<rect x="1909.5" y="906.9" width="28.1" height="17.3" fill="#dccfe6"/>
<rect x="1941.7" y="906.9" width="28.1" height="17.3" fill="#fee9e2"/>
<rect x="1969.8" y="906.9" width="28.1" height="17.3" fill="#f4ecf4"/>
<rect x="2121.4" y="906.9" width="23" height="17.3" fill="#c4a9d2"/>
<rect x="1399" y="923.9" width="28.1" height="17.3" fill="#f8a994"/>
<rect x="1427.1" y="923.9" width="28.1" height="17.3" fill="#e9ddec"/>
<rect x="1459.3" y="923.9" width="28.1" height="17.3" fill="#fee9e2"/>
<rect x="1487.4" y="923.9" width="28.1" height="17.3" fill="#dccfe6"/>
<rect x="1519.6" y="923.9" width="28.1" height="17.3" fill="#f8a994"/>
<rect x="1547.7" y="923.9" width="28.1" height="17.3" fill="#dccfe6"/>
<rect x="1579.9" y="923.9" width="28.1" height="17.3" fill="#3b51a3"/>
<rect x="1608" y="923.9" width="28.1" height="17.3" fill="#fdf8f9"/>
<rect x="1640.2" y="923.9" width="28.1" height="17.3" fill="#fee9e2"/>
<rect x="1668.3" y="923.9" width="28.1" height="17.3" fill="#dccfe6"/>
<rect x="1700.5" y="923.9" width="28.1" height="17.3" fill="#f8a994"/>
<rect x="1728.6" y="923.9" width="28.1" height="17.3" fill="#f4ecf4"/>
<rect x="1760.8" y="923.9" width="28.1" height="17.3" fill="#3b51a3"/>
<rect x="1788.9" y="923.9" width="28.1" height="17.3" fill="#f4ecf4"/>
<rect x="1821.1" y="923.9" width="28.1" height="17.3" fill="#ed1c24"/>
<rect x="1849.2" y="923.9" width="28.1" height="17.3" fill="#dccfe6"/>
<rect x="1881.4" y="923.9" width="28.1" height="17.3" fill="#3b51a3"/>
<rect x="1909.5" y="923.9" width="28.1" height="17.3" fill="#e9ddec"/>
<rect x="1941.7" y="923.9" width="28.1" height="17.3" fill="#3b51a3"/>
<rect x="1969.8" y="923.9" width="28.1" height="17.3" fill="#e9ddec"/>
<rect x="1399" y="940.9" width="28.1" height="17.3" fill="#ef3e2b"/>
<rect x="1427.1" y="940.9" width="28.1" height="17.3" fill="#dccfe6"/>
<rect x="1459.3" y="940.9" width="28.1" height="17.3" fill="#3b51a3"/>
<rect x="1487.4" y="940.9" width="28.1" height="17.3" fill="#e9ddec"/>
<rect x="1519.6" y="940.9" width="28.1" height="17.3" fill="#f8a994"/>
<rect x="1547.7" y="940.9" width="28.1" height="17.3" fill="#e9ddec"/>
<rect x="1579.9" y="940.9" width="28.1" height="17.3" fill="#fbc3b2"/>
<rect x="1608" y="940.9" width="28.1" height="17.3" fill="#e9ddec"/>
<rect x="1640.2" y="940.9" width="28.1" height="17.3" fill="#3b51a3"/>
<rect x="1668.3" y="940.9" width="28.1" height="17.3" fill="#f4ecf4"/>
<rect x="1700.5" y="940.9" width="28.1" height="17.3" fill="#fddacf"/>
<rect x="1728.6" y="940.9" width="28.1" height="17.3" fill="#e9ddec"/>
<rect x="1760.8" y="940.9" width="28.1" height="17.3" fill="#6259a9"/>
<rect x="1788.9" y="940.9" width="28.1" height="17.3" fill="#f4ecf4"/>
<rect x="1821.1" y="940.9" width="28.1" height="17.3" fill="#6259a9"/>
<rect x="1849.2" y="940.9" width="28.1" height="17.3" fill="#e9ddec"/>
<rect x="1881.4" y="940.9" width="28.1" height="17.3" fill="#ed1c24"/>
<rect x="1909.5" y="940.9" width="28.1" height="17.3" fill="#e9ddec"/>
<rect x="1941.7" y="940.9" width="28.1" height="17.3" fill="#b09ccb"/>
<rect x="1969.8" y="940.9" width="28.1" height="17.3" fill="#e9ddec"/>
<rect x="2052.4" y="940.9" width="23" height="17.3" fill="#9b8dc8"/>
<rect x="2098.4" y="940.9" width="23" height="17.3" fill="#9b8dc8"/>
<rect x="1399" y="957.9" width="28.1" height="17.3" fill="#f8a994"/>
<rect x="1427.1" y="957.9" width="28.1" height="17.3" fill="#e9ddec"/>
<rect x="1459.3" y="957.9" width="28.1" height="17.3" fill="#6259a9"/>
<rect x="1487.4" y="957.9" width="28.1" height="17.3" fill="#e9ddec"/>
<rect x="1519.6" y="957.9" width="28.1" height="17.3" fill="#fddacf"/>
<rect x="1547.7" y="957.9" width="28.1" height="17.3" fill="#dccfe6"/>
<rect x="1579.9" y="957.9" width="28.1" height="17.3" fill="#dccfe6"/>
<rect x="1608" y="957.9" width="28.1" height="17.3" fill="#e9ddec"/>
<rect x="1640.2" y="957.9" width="28.1" height="17.3" fill="#3b51a3"/>
<rect x="1668.3" y="957.9" width="28.1" height="17.3" fill="#fdf8f9"/>
<rect x="1700.5" y="957.9" width="28.1" height="17.3" fill="#b09ccb"/>
<rect x="1728.6" y="957.9" width="28.1" height="17.3" fill="#e9ddec"/>
<rect x="1760.8" y="957.9" width="28.1" height="17.3" fill="#dccfe6"/>
<rect x="1788.9" y="957.9" width="28.1" height="17.3" fill="#e9ddec"/>
<rect x="1821.1" y="957.9" width="28.1" height="17.3" fill="#fee9e2"/>
<rect x="1849.2" y="957.9" width="28.1" height="17.3" fill="#dccfe6"/>
<rect x="1881.4" y="957.9" width="28.1" height="17.3" fill="#ed1c24"/>
<rect x="1909.5" y="957.9" width="28.1" height="17.3" fill="#dccfe6"/>
<rect x="1941.7" y="957.9" width="28.1" height="17.3" fill="#3b51a3"/>
<rect x="1969.8" y="957.9" width="28.1" height="17.3" fill="#e9ddec"/>
<rect x="2006.4" y="957.9" width="23" height="17.3" fill="#5b2a5e"/>
<rect x="2052.4" y="957.9" width="23" height="17.3" fill="#9b8dc8"/>
<rect x="2075.4" y="957.9" width="23" height="17.3" fill="#c4a9d2"/>
<rect x="2144.4" y="957.9" width="23" height="17.3" fill="#9b8dc8"/>
<rect x="1399" y="974.8" width="28.1" height="17.3" fill="#7e69b2"/>
<rect x="1427.1" y="974.8" width="28.1" height="17.3" fill="#dccfe6"/>
<rect x="1459.3" y="974.8" width="28.1" height="17.3" fill="#f8a994"/>
<rect x="1487.4" y="974.8" width="28.1" height="17.3" fill="#c9b6db"/>
<rect x="1519.6" y="974.8" width="28.1" height="17.3" fill="#fee9e2"/>
<rect x="1547.7" y="974.8" width="28.1" height="17.3" fill="#dccfe6"/>
<rect x="1579.9" y="974.8" width="28.1" height="17.3" fill="#fee9e2"/>
<rect x="1608" y="974.8" width="28.1" height="17.3" fill="#dccfe6"/>
<rect x="1640.2" y="974.8" width="28.1" height="17.3" fill="#fdf8f9"/>
<rect x="1668.3" y="974.8" width="28.1" height="17.3" fill="#e9ddec"/>
<rect x="1700.5" y="974.8" width="28.1" height="17.3" fill="#fee9e2"/>
<rect x="1728.6" y="974.8" width="28.1" height="17.3" fill="#e9ddec"/>
<rect x="1760.8" y="974.8" width="28.1" height="17.3" fill="#f4836a"/>
<rect x="1788.9" y="974.8" width="28.1" height="17.3" fill="#e9ddec"/>
<rect x="1821.1" y="974.8" width="28.1" height="17.3" fill="#3b51a3"/>
<rect x="1849.2" y="974.8" width="28.1" height="17.3" fill="#f4ecf4"/>
<rect x="1881.4" y="974.8" width="28.1" height="17.3" fill="#f8a994"/>
<rect x="1909.5" y="974.8" width="28.1" height="17.3" fill="#e9ddec"/>
<rect x="1941.7" y="974.8" width="28.1" height="17.3" fill="#ed1c24"/>
<rect x="1969.8" y="974.8" width="28.1" height="17.3" fill="#f4ecf4"/>
<rect x="2052.4" y="974.8" width="23" height="17.3" fill="#9b8dc8"/>
<rect x="2075.4" y="974.8" width="23" height="17.3" fill="#9b8dc8"/>
<rect x="2144.4" y="974.8" width="23" height="17.3" fill="#c4a9d2"/>
<rect x="1399" y="995.8" width="28.1" height="17.3" fill="#fddacf"/>
<rect x="1427.1" y="995.8" width="28.1" height="17.3" fill="#e9ddec"/>
<rect x="1459.3" y="995.8" width="28.1" height="17.3" fill="#ef3e2b"/>
<rect x="1487.4" y="995.8" width="28.1" height="17.3" fill="#b09ccb"/>
<rect x="1519.6" y="995.8" width="28.1" height="17.3" fill="#fbc3b2"/>
<rect x="1547.7" y="995.8" width="28.1" height="17.3" fill="#dccfe6"/>
<rect x="1579.9" y="995.8" width="28.1" height="17.3" fill="#fbc3b2"/>
<rect x="1608" y="995.8" width="28.1" height="17.3" fill="#e9ddec"/>
<rect x="1640.2" y="995.8" width="28.1" height="17.3" fill="#c9b6db"/>
<rect x="1668.3" y="995.8" width="28.1" height="17.3" fill="#e9ddec"/>
<rect x="1700.5" y="995.8" width="28.1" height="17.3" fill="#3b51a3"/>
<rect x="1728.6" y="995.8" width="28.1" height="17.3" fill="#f4ecf4"/>
<rect x="1760.8" y="995.8" width="28.1" height="17.3" fill="#f4836a"/>
<rect x="1788.9" y="995.8" width="28.1" height="17.3" fill="#dccfe6"/>
<rect x="1821.1" y="995.8" width="28.1" height="17.3" fill="#f05a40"/>
<rect x="1849.2" y="995.8" width="28.1" height="17.3" fill="#e9ddec"/>
<rect x="1881.4" y="995.8" width="28.1" height="17.3" fill="#fdf8f9"/>
<rect x="1909.5" y="995.8" width="28.1" height="17.3" fill="#e9ddec"/>
<rect x="1941.7" y="995.8" width="28.1" height="17.3" fill="#ed1c24"/>
<rect x="1969.8" y="995.8" width="28.1" height="17.3" fill="#e9ddec"/>
<rect x="2098.4" y="995.8" width="23" height="17.3" fill="#c4a9d2"/>
<rect x="1399" y="1012.8" width="28.1" height="17.3" fill="#ef3e2b"/>
<rect x="1427.1" y="1012.8" width="28.1" height="17.3" fill="#e9ddec"/>
<rect x="1459.3" y="1012.8" width="28.1" height="17.3" fill="#3b51a3"/>
<rect x="1519.6" y="1012.8" width="28.1" height="17.3" fill="#f4836a"/>
<rect x="1547.7" y="1012.8" width="28.1" height="17.3" fill="#c9b6db"/>
<rect x="1579.9" y="1012.8" width="28.1" height="17.3" fill="#fee9e2"/>
<rect x="1608" y="1012.8" width="28.1" height="17.3" fill="#f4ecf4"/>
<rect x="1640.2" y="1012.8" width="28.1" height="17.3" fill="#ed1c24"/>
<rect x="1668.3" y="1012.8" width="28.1" height="17.3" fill="#dccfe6"/>
<rect x="1700.5" y="1012.8" width="28.1" height="17.3" fill="#ed1c24"/>
<rect x="1728.6" y="1012.8" width="28.1" height="17.3" fill="#e9ddec"/>
<rect x="1760.8" y="1012.8" width="28.1" height="17.3" fill="#fdf8f9"/>
<rect x="1788.9" y="1012.8" width="28.1" height="17.3" fill="#e9ddec"/>
<rect x="1821.1" y="1012.8" width="28.1" height="17.3" fill="#f4ecf4"/>
<rect x="1849.2" y="1012.8" width="28.1" height="17.3" fill="#e9ddec"/>
<rect x="1881.4" y="1012.8" width="28.1" height="17.3" fill="#fddacf"/>
<rect x="1909.5" y="1012.8" width="28.1" height="17.3" fill="#f4ecf4"/>
<rect x="1941.7" y="1012.8" width="28.1" height="17.3" fill="#fee9e2"/>
<rect x="1969.8" y="1012.8" width="28.1" height="17.3" fill="#dccfe6"/>
<rect x="2075.4" y="1012.8" width="23" height="17.3" fill="#c4a9d2"/>
<rect x="2144.4" y="1012.8" width="23" height="17.3" fill="#5b2a5e"/>
<rect x="1399" y="1029.8" width="28.1" height="17.3" fill="#c9b6db"/>
<rect x="1427.1" y="1029.8" width="28.1" height="17.3" fill="#e9ddec"/>
<rect x="1459.3" y="1029.8" width="28.1" height="17.3" fill="#6259a9"/>
<rect x="1487.4" y="1029.8" width="28.1" height="17.3" fill="#fee9e2"/>
<rect x="1547.7" y="1029.8" width="28.1" height="17.3" fill="#e9ddec"/>
<rect x="1579.9" y="1029.8" width="28.1" height="17.3" fill="#fee9e2"/>
<rect x="1608" y="1029.8" width="28.1" height="17.3" fill="#e9ddec"/>
<rect x="1640.2" y="1029.8" width="28.1" height="17.3" fill="#f8a994"/>
<rect x="1668.3" y="1029.8" width="28.1" height="17.3" fill="#e9ddec"/>
<rect x="1700.5" y="1029.8" width="28.1" height="17.3" fill="#f8a994"/>
<rect x="1728.6" y="1029.8" width="28.1" height="17.3" fill="#e9ddec"/>
<rect x="1760.8" y="1029.8" width="28.1" height="17.3" fill="#f4ecf4"/>
<rect x="1788.9" y="1029.8" width="28.1" height="17.3" fill="#dccfe6"/>
<rect x="1821.1" y="1029.8" width="28.1" height="17.3" fill="#fbc3b2"/>
<rect x="1849.2" y="1029.8" width="28.1" height="17.3" fill="#c9b6db"/>
<rect x="1881.4" y="1029.8" width="28.1" height="17.3" fill="#fddacf"/>
<rect x="1909.5" y="1029.8" width="28.1" height="17.3" fill="#dccfe6"/>
<rect x="1941.7" y="1029.8" width="28.1" height="17.3" fill="#7e69b2"/>
<rect x="1969.8" y="1029.8" width="28.1" height="17.3" fill="#f4ecf4"/>
<rect x="2006.4" y="1029.8" width="23" height="17.3" fill="#5b2a5e"/>
<rect x="2121.4" y="1029.8" width="23" height="17.3" fill="#5b2a5e"/>
<rect x="2144.4" y="1029.8" width="23" height="17.3" fill="#c4a9d2"/>
<rect x="1399" y="1046.7" width="56.2" height="17.3" fill="#bdbdbd"/>
<rect x="1459.3" y="1046.7" width="28.1" height="17.3" fill="#9a86c0"/>
<rect x="1487.4" y="1046.7" width="28.1" height="17.3" fill="#fdf8f9"/>
<rect x="1519.6" y="1046.7" width="28.1" height="17.3" fill="#f8a994"/>
<rect x="1547.7" y="1046.7" width="28.1" height="17.3" fill="#e9ddec"/>
<rect x="1579.9" y="1046.7" width="28.1" height="17.3" fill="#f8a994"/>
<rect x="1608" y="1046.7" width="28.1" height="17.3" fill="#dccfe6"/>
<rect x="1640.2" y="1046.7" width="28.1" height="17.3" fill="#ed1c24"/>
<rect x="1668.3" y="1046.7" width="28.1" height="17.3" fill="#c9b6db"/>
<rect x="1700.5" y="1046.7" width="28.1" height="17.3" fill="#f8a994"/>
<rect x="1728.6" y="1046.7" width="28.1" height="17.3" fill="#e9ddec"/>
<rect x="1760.8" y="1046.7" width="28.1" height="17.3" fill="#f4ecf4"/>
<rect x="1788.9" y="1046.7" width="28.1" height="17.3" fill="#e9ddec"/>
<rect x="1821.1" y="1046.7" width="28.1" height="17.3" fill="#ed1c24"/>
<rect x="1849.2" y="1046.7" width="28.1" height="17.3" fill="#e9ddec"/>
<rect x="1881.4" y="1046.7" width="28.1" height="17.3" fill="#dccfe6"/>
<rect x="1909.5" y="1046.7" width="28.1" height="17.3" fill="#e9ddec"/>
<rect x="1941.7" y="1046.7" width="28.1" height="17.3" fill="#b09ccb"/>
<rect x="1969.8" y="1046.7" width="28.1" height="17.3" fill="#e9ddec"/>
<rect x="2006.4" y="1046.7" width="23" height="17.3" fill="#5b2a5e"/>
<rect x="2029.4" y="1046.7" width="23" height="17.3" fill="#9b8dc8"/>
<rect x="2052.4" y="1046.7" width="23" height="17.3" fill="#5b2a5e"/>
<rect x="2098.4" y="1046.7" width="23" height="17.3" fill="#9b8dc8"/>
<rect x="2121.4" y="1046.7" width="23" height="17.3" fill="#9b8dc8"/>
<rect x="1399" y="1063.7" width="28.1" height="17.3" fill="#7e69b2"/>
<rect x="1427.1" y="1063.7" width="28.1" height="17.3" fill="#e9ddec"/>
<rect x="1459.3" y="1063.7" width="28.1" height="17.3" fill="#f4836a"/>
<rect x="1487.4" y="1063.7" width="28.1" height="17.3" fill="#f4ecf4"/>
<rect x="1519.6" y="1063.7" width="28.1" height="17.3" fill="#fdf8f9"/>
<rect x="1547.7" y="1063.7" width="28.1" height="17.3" fill="#dccfe6"/>
<rect x="1579.9" y="1063.7" width="28.1" height="17.3" fill="#f8a994"/>
<rect x="1608" y="1063.7" width="28.1" height="17.3" fill="#dccfe6"/>
<rect x="1640.2" y="1063.7" width="28.1" height="17.3" fill="#f8a994"/>
<rect x="1668.3" y="1063.7" width="28.1" height="17.3" fill="#e9ddec"/>
<rect x="1700.5" y="1063.7" width="28.1" height="17.3" fill="#fdf8f9"/>
<rect x="1728.6" y="1063.7" width="28.1" height="17.3" fill="#dccfe6"/>
<rect x="1760.8" y="1063.7" width="28.1" height="17.3" fill="#fddacf"/>
<rect x="1788.9" y="1063.7" width="28.1" height="17.3" fill="#dccfe6"/>
<rect x="1821.1" y="1063.7" width="28.1" height="17.3" fill="#f8a994"/>
<rect x="1849.2" y="1063.7" width="28.1" height="17.3" fill="#e9ddec"/>
<rect x="1881.4" y="1063.7" width="28.1" height="17.3" fill="#fbc3b2"/>
<rect x="1909.5" y="1063.7" width="28.1" height="17.3" fill="#e9ddec"/>
<rect x="1941.7" y="1063.7" width="28.1" height="17.3" fill="#f4ecf4"/>
<rect x="1969.8" y="1063.7" width="28.1" height="17.3" fill="#e9ddec"/>
<rect x="2121.4" y="1063.7" width="23" height="17.3" fill="#5b2a5e"/>
<rect x="2144.4" y="1063.7" width="23" height="17.3" fill="#c4a9d2"/>
<rect x="1399" y="1080.7" width="28.1" height="17.3" fill="#fdf8f9"/>
<rect x="1427.1" y="1080.7" width="28.1" height="17.3" fill="#f4ecf4"/>
<rect x="1459.3" y="1080.7" width="28.1" height="17.3" fill="#fdf8f9"/>
<rect x="1487.4" y="1080.7" width="28.1" height="17.3" fill="#c9b6db"/>
<rect x="1519.6" y="1080.7" width="56.2" height="17.3" fill="#f4ecf4"/>
<rect x="1579.9" y="1080.7" width="28.1" height="17.3" fill="#f8a994"/>
<rect x="1608" y="1080.7" width="28.1" height="17.3" fill="#c9b6db"/>
<rect x="1640.2" y="1080.7" width="28.1" height="17.3" fill="#ed1c24"/>
<rect x="1668.3" y="1080.7" width="28.1" height="17.3" fill="#dccfe6"/>
<rect x="1700.5" y="1080.7" width="28.1" height="17.3" fill="#f05a40"/>
<rect x="1728.6" y="1080.7" width="28.1" height="17.3" fill="#e9ddec"/>
<rect x="1760.8" y="1080.7" width="28.1" height="17.3" fill="#3b51a3"/>
<rect x="1788.9" y="1080.7" width="28.1" height="17.3" fill="#f4ecf4"/>
<rect x="1821.1" y="1080.7" width="28.1" height="17.3" fill="#f8a994"/>
<rect x="1849.2" y="1080.7" width="28.1" height="17.3" fill="#e9ddec"/>
<rect x="1881.4" y="1080.7" width="28.1" height="17.3" fill="#3b51a3"/>
<rect x="1909.5" y="1080.7" width="28.1" height="17.3" fill="#f4ecf4"/>
<rect x="1941.7" y="1080.7" width="28.1" height="17.3" fill="#6259a9"/>
<rect x="1969.8" y="1080.7" width="28.1" height="17.3" fill="#e9ddec"/>
<rect x="2075.4" y="1080.7" width="23" height="17.3" fill="#c4a9d2"/>
<rect x="1399" y="1097.6" width="56.2" height="17.3" fill="#e9ddec"/>
<rect x="1459.3" y="1097.6" width="28.1" height="17.3" fill="#fbc3b2"/>
<rect x="1487.4" y="1097.6" width="28.1" height="17.3" fill="#b09ccb"/>
<rect x="1519.6" y="1097.6" width="28.1" height="17.3" fill="#f4ecf4"/>
<rect x="1547.7" y="1097.6" width="28.1" height="17.3" fill="#dccfe6"/>
<rect x="1579.9" y="1097.6" width="28.1" height="17.3" fill="#dccfe6"/>
<rect x="1608" y="1097.6" width="28.1" height="17.3" fill="#e9ddec"/>
<rect x="1640.2" y="1097.6" width="28.1" height="17.3" fill="#f8a994"/>
<rect x="1668.3" y="1097.6" width="28.1" height="17.3" fill="#e9ddec"/>
<rect x="1700.5" y="1097.6" width="28.1" height="17.3" fill="#f05a40"/>
<rect x="1728.6" y="1097.6" width="28.1" height="17.3" fill="#e9ddec"/>
<rect x="1760.8" y="1097.6" width="28.1" height="17.3" fill="#6259a9"/>
<rect x="1788.9" y="1097.6" width="28.1" height="17.3" fill="#f4ecf4"/>
<rect x="1849.2" y="1097.6" width="28.1" height="17.3" fill="#fdf8f9"/>
<rect x="1881.4" y="1097.6" width="28.1" height="17.3" fill="#ed1c24"/>
<rect x="1909.5" y="1097.6" width="28.1" height="17.3" fill="#e9ddec"/>
<rect x="1941.7" y="1097.6" width="28.1" height="17.3" fill="#f4836a"/>
<rect x="1969.8" y="1097.6" width="28.1" height="17.3" fill="#dccfe6"/>
<rect x="2006.4" y="1097.6" width="23" height="17.3" fill="#5b2a5e"/>
<rect x="2029.4" y="1097.6" width="23" height="17.3" fill="#5b2a5e"/>
<rect x="2052.4" y="1097.6" width="23" height="17.3" fill="#5b2a5e"/>
<rect x="2098.4" y="1097.6" width="23" height="17.3" fill="#5b2a5e"/>
<rect x="2121.4" y="1097.6" width="23" height="17.3" fill="#5b2a5e"/>
<rect x="2144.4" y="1097.6" width="23" height="17.3" fill="#5b2a5e"/>
<rect x="1399" y="1114.6" width="28.1" height="17.3" fill="#f05a40"/>
<rect x="1427.1" y="1114.6" width="28.1" height="17.3" fill="#dccfe6"/>
<rect x="1459.3" y="1114.6" width="28.1" height="17.3" fill="#fddacf"/>
<rect x="1487.4" y="1114.6" width="28.1" height="17.3" fill="#fdf8f9"/>
<rect x="1519.6" y="1114.6" width="28.1" height="17.3" fill="#f4ecf4"/>
<rect x="1547.7" y="1114.6" width="28.1" height="17.3" fill="#e9ddec"/>
<rect x="1579.9" y="1114.6" width="28.1" height="17.3" fill="#dccfe6"/>
<rect x="1608" y="1114.6" width="28.1" height="17.3" fill="#f4ecf4"/>
<rect x="1640.2" y="1114.6" width="28.1" height="17.3" fill="#fbc3b2"/>
<rect x="1668.3" y="1114.6" width="28.1" height="17.3" fill="#e9ddec"/>
<rect x="1700.5" y="1114.6" width="28.1" height="17.3" fill="#fdf8f9"/>
<rect x="1728.6" y="1114.6" width="28.1" height="17.3" fill="#f4ecf4"/>
<rect x="1760.8" y="1114.6" width="28.1" height="17.3" fill="#3b51a3"/>
<rect x="1788.9" y="1114.6" width="28.1" height="17.3" fill="#f4ecf4"/>
<rect x="1821.1" y="1114.6" width="28.1" height="17.3" fill="#ed1c24"/>
<rect x="1849.2" y="1114.6" width="28.1" height="17.3" fill="#f4ecf4"/>
<rect x="1881.4" y="1114.6" width="28.1" height="17.3" fill="#ed1c24"/>
<rect x="1909.5" y="1114.6" width="28.1" height="17.3" fill="#dccfe6"/>
<rect x="1941.7" y="1114.6" width="28.1" height="17.3" fill="#3b51a3"/>
<rect x="1969.8" y="1114.6" width="28.1" height="17.3" fill="#e9ddec"/>
<rect x="2029.4" y="1114.6" width="23" height="17.3" fill="#c4a9d2"/>
<rect x="2121.4" y="1114.6" width="23" height="17.3" fill="#9b8dc8"/>
<rect x="2144.4" y="1114.6" width="23" height="17.3" fill="#9b8dc8"/>
<rect x="1399" y="1131.6" width="28.1" height="17.3" fill="#f4836a"/>
<rect x="1427.1" y="1131.6" width="28.1" height="17.3" fill="#e9ddec"/>
<rect x="1459.3" y="1131.6" width="28.1" height="17.3" fill="#6259a9"/>
<rect x="1487.4" y="1131.6" width="28.1" height="17.3" fill="#e9ddec"/>
<rect x="1519.6" y="1131.6" width="28.1" height="17.3" fill="#f8a994"/>
<rect x="1547.7" y="1131.6" width="28.1" height="17.3" fill="#dccfe6"/>
<rect x="1579.9" y="1131.6" width="28.1" height="17.3" fill="#b09ccb"/>
<rect x="1608" y="1131.6" width="28.1" height="17.3" fill="#e9ddec"/>
<rect x="1640.2" y="1131.6" width="28.1" height="17.3" fill="#fddacf"/>
<rect x="1668.3" y="1131.6" width="28.1" height="17.3" fill="#dccfe6"/>
<rect x="1700.5" y="1131.6" width="28.1" height="17.3" fill="#f8a994"/>
<rect x="1728.6" y="1131.6" width="28.1" height="17.3" fill="#e9ddec"/>
<rect x="1760.8" y="1131.6" width="28.1" height="17.3" fill="#f8a994"/>
<rect x="1788.9" y="1131.6" width="28.1" height="17.3" fill="#f4ecf4"/>
<rect x="1821.1" y="1131.6" width="28.1" height="17.3" fill="#fddacf"/>
<rect x="1849.2" y="1131.6" width="28.1" height="17.3" fill="#e9ddec"/>
<rect x="1881.4" y="1131.6" width="28.1" height="17.3" fill="#ef3e2b"/>
<rect x="1909.5" y="1131.6" width="28.1" height="17.3" fill="#e9ddec"/>
<rect x="1941.7" y="1131.6" width="28.1" height="17.3" fill="#c9b6db"/>
<rect x="1969.8" y="1131.6" width="28.1" height="17.3" fill="#e9ddec"/>
<rect x="2006.4" y="1131.6" width="23" height="17.3" fill="#5b2a5e"/>
<rect x="1399" y="1148.6" width="28.1" height="17.3" fill="#fddacf"/>
<rect x="1427.1" y="1148.6" width="28.1" height="17.3" fill="#e9ddec"/>
<rect x="1459.3" y="1148.6" width="28.1" height="17.3" fill="#c9b6db"/>
<rect x="1487.4" y="1148.6" width="28.1" height="17.3" fill="#f4ecf4"/>
<rect x="1519.6" y="1148.6" width="28.1" height="17.3" fill="#f8a994"/>
<rect x="1547.7" y="1148.6" width="28.1" height="17.3" fill="#dccfe6"/>
<rect x="1579.9" y="1148.6" width="28.1" height="17.3" fill="#fee9e2"/>
<rect x="1608" y="1148.6" width="28.1" height="17.3" fill="#dccfe6"/>
<rect x="1640.2" y="1148.6" width="28.1" height="17.3" fill="#fbc3b2"/>
<rect x="1668.3" y="1148.6" width="28.1" height="17.3" fill="#dccfe6"/>
<rect x="1700.5" y="1148.6" width="28.1" height="17.3" fill="#fbc3b2"/>
<rect x="1728.6" y="1148.6" width="28.1" height="17.3" fill="#f4ecf4"/>
<rect x="1760.8" y="1148.6" width="28.1" height="17.3" fill="#dccfe6"/>
<rect x="1788.9" y="1148.6" width="28.1" height="17.3" fill="#e9ddec"/>
<rect x="1821.1" y="1148.6" width="28.1" height="17.3" fill="#3b51a3"/>
<rect x="1849.2" y="1148.6" width="28.1" height="17.3" fill="#f4ecf4"/>
<rect x="1881.4" y="1148.6" width="28.1" height="17.3" fill="#3b51a3"/>
<rect x="1941.7" y="1148.6" width="28.1" height="17.3" fill="#7e69b2"/>
<rect x="1969.8" y="1148.6" width="28.1" height="17.3" fill="#e9ddec"/>
<rect x="2006.4" y="1148.6" width="23" height="17.3" fill="#5b2a5e"/>
<rect x="2029.4" y="1148.6" width="23" height="17.3" fill="#0f1033"/>
<rect x="2052.4" y="1148.6" width="23" height="17.3" fill="#5b2a5e"/>
<rect x="2075.4" y="1148.6" width="23" height="17.3" fill="#8e4f85"/>
<rect x="2098.4" y="1148.6" width="23" height="17.3" fill="#5b2a5e"/>
<rect x="2144.4" y="1148.6" width="23" height="17.3" fill="#c4a9d2"/>
</g>
<g font-style="italic" text-anchor="end" font-size="16.7">
<text x="1391.5" y="191.3">Pde11a</text>
<text x="1391.5" y="208.3">Slit2</text>
<text x="1391.5" y="225.2">Cd24a</text>
<text x="1391.5" y="242.2">Slc25a18</text>
<text x="1391.5" y="259.2">Fezf2</text>
<text x="1391.5" y="276.2">Tacr3</text>
<text x="1391.5" y="293.2">Arhgap6</text>
<text x="1391.5" y="310.1">Nrp2</text>
<text x="1391.5" y="327.1">Penk</text>
<text x="1391.5" y="344.1">Dner</text>
<text x="1391.5" y="361.1">Cntn6</text>
<text x="1391.5" y="378">Wfs1</text>
<text x="1391.5" y="395">Tmem255a</text>
<text x="1391.5" y="412">Calb1</text>
<text x="1391.5" y="429">Col6a1</text>
<text x="1391.5" y="445.9">Sdk2</text>
<text x="1391.5" y="462.9">Tacr1</text>
<text x="1391.5" y="479.9">Tox</text>
<text x="1391.5" y="496.9">Rasgrf2</text>
<text x="1391.5" y="513.8">Cdh13</text>
<text x="1391.5" y="530.8">Cacna2d1</text>
<text x="1391.5" y="547.8">Epha4</text>
<text x="1391.5" y="564.8">Bdnf</text>
<text x="1391.5" y="581.7">Cdh9</text>
<text x="1391.5" y="598.7">Unc13c</text>
<text x="1391.5" y="615.7">Hpcal1</text>
<text x="1391.5" y="632.6">Slc25a39</text>
<text x="1391.5" y="649.6">Nell1</text>
<text x="1391.5" y="666.6">Ndst4</text>
<text x="1391.5" y="683.6">Nxph4</text>
<text x="1391.5" y="700.5">Adcyap1</text>
<text x="1391.5" y="717.5">Tmem163</text>
<text x="1391.5" y="734.5">Dpy19l1</text>
<text x="1391.5" y="751.5">Cpne4</text>
<text x="1391.5" y="768.5">Nrn1</text>
<text x="1391.5" y="785.4">2010300C02Rik</text>
<text x="1391.5" y="802.4">Cbln1</text>
<text x="1391.5" y="819.4">Nrgn</text>
<text x="1391.5" y="836.4">Necab2</text>
<text x="1391.5" y="853.3">Vat1l</text>
<text x="1391.5" y="870.3">Cx3cl1</text>
<text x="1391.5" y="887.3">Slc1a3</text>
<text x="1391.5" y="904.2">Kcnma1</text>
<text x="1391.5" y="921.2">Itpr1</text>
<text x="1391.5" y="938.2">Bhlhe40</text>
<text x="1391.5" y="955.2">Acsbg1</text>
<text x="1391.5" y="972.1">Grin1</text>
<text x="1391.5" y="989.1">Ubl5</text>
<text x="1391.5" y="1010.1">Slc17a6</text>
<text x="1391.5" y="1027.1">Adamts2</text>
<text x="1391.5" y="1044">Nos1</text>
<text x="1391.5" y="1061">Th</text>
<text x="1391.5" y="1078">Sorcs3</text>
<text x="1391.5" y="1095">Gabrq</text>
<text x="1391.5" y="1111.9">Rmst</text>
<text x="1391.5" y="1128.9">Gpr17</text>
<text x="1391.5" y="1145.9">Mdga1</text>
<text x="1391.5" y="1162.9">Gck</text>
</g>
<g text-anchor="middle" font-size="21" fill="#000" stroke="#000" stroke-width="0.15">
<text x="1412.8" y="196.7">**</text>
<text x="1412.8" y="213.7">**</text>
<text x="1412.8" y="230.6">*</text>
<text x="1412.8" y="247.6">*</text>
<text x="1412.8" y="264.6">*</text>
<text x="1412.8" y="281.6">*</text>
<text x="1412.8" y="298.6">**</text>
<text x="1473.1" y="298.6">**</text>
<text x="1412.8" y="315.5">*</text>
<text x="1473.1" y="315.5">*</text>
<text x="1533.4" y="315.5">**</text>
<text x="1593.8" y="315.5">*</text>
<text x="1895.2" y="315.5">*</text>
<text x="1473.1" y="332.5">**</text>
<text x="1473.1" y="349.5">**</text>
<text x="1473.1" y="366.4">**</text>
<text x="1473.1" y="383.4">**</text>
<text x="1473.1" y="400.4">**</text>
<text x="1473.1" y="417.4">**</text>
<text x="1473.1" y="434.4">**</text>
<text x="1473.1" y="451.3">*</text>
<text x="1473.1" y="468.3">*</text>
<text x="1473.1" y="485.3">*</text>
<text x="1473.1" y="502.2">**</text>
<text x="1714.3" y="502.2">*</text>
<text x="1473.1" y="519.2">**</text>
<text x="1593.8" y="519.2">**</text>
<text x="1654" y="519.2">**</text>
<text x="1714.3" y="519.2">**</text>
<text x="1533.4" y="536.2">**</text>
<text x="1533.4" y="553.2">**</text>
<text x="1533.4" y="570.2">*</text>
<text x="1533.4" y="587.1">*</text>
<text x="1533.4" y="604.1">*</text>
<text x="1593.8" y="621.1">**</text>
<text x="1593.8" y="638.1">**</text>
<text x="1593.8" y="655">**</text>
<text x="1593.8" y="672">*</text>
<text x="1593.8" y="689">*</text>
<text x="1593.8" y="706">*</text>
<text x="1593.8" y="722.9">*</text>
<text x="1593.8" y="739.9">*</text>
<text x="1654" y="756.9">**</text>
<text x="1654" y="773.9">**</text>
<text x="1654" y="790.8">*</text>
<text x="1654" y="807.8">*</text>
<text x="1654" y="824.8">*</text>
<text x="1654" y="841.8">*</text>
<text x="1654" y="858.7">*</text>
<text x="1895.2" y="858.7">*</text>
<text x="1774.6" y="875.7">*</text>
<text x="1774.6" y="892.7">*</text>
<text x="1834.9" y="909.7">**</text>
<text x="1834.9" y="926.6">**</text>
<text x="1834.9" y="943.6">**</text>
<text x="1895.2" y="960.6">*</text>
<text x="1895.2" y="977.6">*</text>
<text x="1955.5" y="994.5">*</text>
</g>
<g text-anchor="middle">
<text x="1426.1" y="89.7">c7</text>
<text x="1486.4" y="89.7">c18</text>
<text x="1546.7" y="89.7">c3</text>
<text x="1607" y="89.7">c4</text>
<text x="1667.3" y="89.7">c9</text>
<text x="1727.6" y="89.7">c1</text>
<text x="1787.9" y="89.7">c11</text>
<text x="1848.2" y="89.7">c10</text>
<text x="1908.5" y="89.7">c6</text>
<text x="1968.8" y="89.7">c5</text>
</g>
<text x="2002.3" y="110.8">Neuronal subtype</text>
<text x="2002.3" y="129.7">Excitatory or inhibitory</text>
<text x="2002.3" y="149">mCherry<tspan font-size="10" dy="-6">+</tspan><tspan dy="6"> cell fraction</tspan></text>
<text x="2002.3" y="167.8">mCherry expression</text>
<text text-anchor="end" transform="translate(1418.3 1174.5) rotate(-90)">c7+</text>
<text text-anchor="end" transform="translate(1446.4 1174.5) rotate(-90)">c7−</text>
<text text-anchor="end" transform="translate(1478.6 1174.5) rotate(-90)">c18+</text>
<text text-anchor="end" transform="translate(1506.7 1174.5) rotate(-90)">c18−</text>
<text text-anchor="end" transform="translate(1538.9 1174.5) rotate(-90)">c3+</text>
<text text-anchor="end" transform="translate(1567 1174.5) rotate(-90)">c3−</text>
<text text-anchor="end" transform="translate(1599.2 1174.5) rotate(-90)">c4+</text>
<text text-anchor="end" transform="translate(1627.3 1174.5) rotate(-90)">c4−</text>
<text text-anchor="end" transform="translate(1659.5 1174.5) rotate(-90)">c9+</text>
<text text-anchor="end" transform="translate(1687.6 1174.5) rotate(-90)">c9−</text>
<text text-anchor="end" transform="translate(1719.8 1174.5) rotate(-90)">c1+</text>
<text text-anchor="end" transform="translate(1747.9 1174.5) rotate(-90)">c1−</text>
<text text-anchor="end" transform="translate(1780.1 1174.5) rotate(-90)">c11+</text>
<text text-anchor="end" transform="translate(1808.2 1174.5) rotate(-90)">c11−</text>
<text text-anchor="end" transform="translate(1840.4 1174.5) rotate(-90)">c10+</text>
<text text-anchor="end" transform="translate(1868.5 1174.5) rotate(-90)">c10−</text>
<text text-anchor="end" transform="translate(1900.8 1174.5) rotate(-90)">c6+</text>
<text text-anchor="end" transform="translate(1928.8 1174.5) rotate(-90)">c6−</text>
<text text-anchor="end" transform="translate(1961 1174.5) rotate(-90)">c5+</text>
<text text-anchor="end" transform="translate(1989.1 1174.5) rotate(-90)">c5−</text>
<text text-anchor="end" transform="translate(2022.4 1174.5) rotate(-90)">Type 2 diabetes</text>
<text text-anchor="end" transform="translate(2045.4 1174.5) rotate(-90)">Fasting/sated glucose</text>
<text text-anchor="end" transform="translate(2068.4 1174.5) rotate(-90)">HbA1c</text>
<text text-anchor="end" transform="translate(2091.4 1174.5) rotate(-90)">Fasting insulin</text>
<text text-anchor="end" transform="translate(2114.4 1174.5) rotate(-90)">Glycaemic measures</text>
<text text-anchor="end" transform="translate(2137.4 1174.5) rotate(-90)">Body mass index</text>
<text text-anchor="end" transform="translate(2160.4 1174.5) rotate(-90)">Weight measures</text>
<text text-anchor="start" transform="translate(1271.5 283) rotate(-90)">Per cluster</text>
<text text-anchor="start" transform="translate(1271.5 1059) rotate(-90)">Global</text>
<text transform="translate(1254.4 24) scale(1.08 1)" font-size="31.5" font-weight="bold" stroke="#231f20" stroke-width="1" stroke-linejoin="round">k</text>
<defs><linearGradient id="gfr" x1="0" y1="0" x2="0" y2="1"><stop offset="0" stop-color="#de3f98"/><stop offset="0.12" stop-color="#e04a9f"/><stop offset="0.35" stop-color="#ee8cc0"/><stop offset="0.55" stop-color="#f9d3e6"/><stop offset="0.72" stop-color="#ffffff"/><stop offset="0.76" stop-color="#f2f2f2"/><stop offset="0.88" stop-color="#9a9a9a"/><stop offset="1" stop-color="#4d4d4d"/></linearGradient><linearGradient id="gz" x1="0" y1="0" x2="0" y2="1"><stop offset="0" stop-color="#ed1c24"/><stop offset="0.12" stop-color="#ee2a25"/><stop offset="0.3" stop-color="#f37a5e"/><stop offset="0.45" stop-color="#fbcab9"/><stop offset="0.56" stop-color="#ffffff"/><stop offset="0.66" stop-color="#c4b2d8"/><stop offset="0.76" stop-color="#6e62ae"/><stop offset="0.82" stop-color="#3f52a4"/><stop offset="1" stop-color="#3b51a3"/></linearGradient></defs>
<text x="1053.3" y="338.9">Neuronal subtype</text>
<rect x="1074" y="349.2" width="14.6" height="14.6" fill="#4757a8"/>
<text x="1097.3" y="362.8">GABA</text>
<rect x="1074" y="366.7" width="14.6" height="14.6" fill="#46b549"/>
<text x="1097.3" y="379.6" font-style="italic">Vglut1</text>
<rect x="1074" y="384.1" width="14.6" height="14.6" fill="#fdd808"/>
<text x="1097.3" y="397.2" font-style="italic">Vglut1/2</text>
<rect x="1074" y="401.5" width="14.6" height="14.6" fill="#f0654b"/>
<text x="1097.3" y="414.8" font-style="italic">Vglut2</text>
<text x="1053.3" y="443">Excitatory or inhibitory</text>
<rect x="1074" y="452.7" width="14.6" height="14.6" fill="#faa51e"/>
<text x="1097.3" y="466">Excitatory</text>
<rect x="1074" y="470.3" width="14.6" height="14.6" fill="#4b86c6"/>
<text x="1097.3" y="483.4">Inhibitory</text>
<text x="1053.3" y="508.6">mCherry<tspan font-size="10" dy="-6.5">+</tspan><tspan dy="6.5"> cell fraction</tspan></text>
<rect x="1071.6" y="519.3" width="20.4" height="93.4" fill="url(#gfr)"/>
<text x="1099.4" y="528.3">0.08</text>
<line x1="1071.6" y1="522.3" x2="1075.5" y2="522.3" stroke="#fff" stroke-width="1"/>
<line x1="1088" y1="522.3" x2="1092" y2="522.3" stroke="#fff" stroke-width="1"/>
<text x="1099.4" y="549.9">0.06</text>
<line x1="1071.6" y1="543.9" x2="1075.5" y2="543.9" stroke="#fff" stroke-width="1"/>
<line x1="1088" y1="543.9" x2="1092" y2="543.9" stroke="#fff" stroke-width="1"/>
<text x="1099.4" y="571">0.04</text>
<line x1="1071.6" y1="565" x2="1075.5" y2="565" stroke="#fff" stroke-width="1"/>
<line x1="1088" y1="565" x2="1092" y2="565" stroke="#fff" stroke-width="1"/>
<text x="1099.4" y="592.6">0.02</text>
<line x1="1071.6" y1="586.6" x2="1075.5" y2="586.6" stroke="#fff" stroke-width="1"/>
<line x1="1088" y1="586.6" x2="1092" y2="586.6" stroke="#fff" stroke-width="1"/>
<text x="1099.4" y="613.8">0</text>
<line x1="1071.6" y1="607.8" x2="1075.5" y2="607.8" stroke="#fff" stroke-width="1"/>
<line x1="1088" y1="607.8" x2="1092" y2="607.8" stroke="#fff" stroke-width="1"/>
<text x="1053.3" y="636.6">mCherry expression</text>
<rect x="1074" y="646.8" width="14.6" height="14.6" fill="#0f8b87"/>
<text x="1097.3" y="659.2">mCherry<tspan font-size="10" dy="-6.5">−</tspan><tspan dy="6.5"></tspan></text>
<rect x="1074" y="664.4" width="14.6" height="14.6" fill="#cb82b9"/>
<text x="1097.3" y="676.6">mCherry<tspan font-size="10" dy="-6.5">+</tspan><tspan dy="6.5"></tspan></text>
<text x="1053.3" y="708.9">Mean <tspan font-style="italic">z</tspan>-score</text>
<rect x="1071.5" y="716.4" width="20.4" height="154.3" fill="url(#gz)"/>
<text x="1099.1" y="726.5">0.6</text>
<line x1="1071.5" y1="720.5" x2="1075.5" y2="720.5" stroke="#fff" stroke-width="1"/>
<line x1="1088" y1="720.5" x2="1091.9" y2="720.5" stroke="#fff" stroke-width="1"/>
<text x="1099.1" y="755.4">0.4</text>
<line x1="1071.5" y1="749.4" x2="1075.5" y2="749.4" stroke="#fff" stroke-width="1"/>
<line x1="1088" y1="749.4" x2="1091.9" y2="749.4" stroke="#fff" stroke-width="1"/>
<text x="1099.1" y="785">0.2</text>
<line x1="1071.5" y1="779" x2="1075.5" y2="779" stroke="#fff" stroke-width="1"/>
<line x1="1088" y1="779" x2="1091.9" y2="779" stroke="#fff" stroke-width="1"/>
<text x="1099.1" y="814.5">0</text>
<line x1="1071.5" y1="808.5" x2="1075.5" y2="808.5" stroke="#fff" stroke-width="1"/>
<line x1="1088" y1="808.5" x2="1091.9" y2="808.5" stroke="#fff" stroke-width="1"/>
<text x="1099.1" y="843.4">−0.2</text>
<line x1="1071.5" y1="837.4" x2="1075.5" y2="837.4" stroke="#fff" stroke-width="1"/>
<line x1="1088" y1="837.4" x2="1091.9" y2="837.4" stroke="#fff" stroke-width="1"/>
<text x="1099.1" y="872.3">−0.4</text>
<line x1="1071.5" y1="866.3" x2="1075.5" y2="866.3" stroke="#fff" stroke-width="1"/>
<line x1="1088" y1="866.3" x2="1091.9" y2="866.3" stroke="#fff" stroke-width="1"/>
<text x="1053.3" y="897.7">HuGE</text>
<rect x="1074" y="908.7" width="14.6" height="14.6" fill="#0f1033"/>
<text x="1097.2" y="921.9">Compelling</text>
<rect x="1074" y="926" width="14.6" height="14.6" fill="#5b2a5e"/>
<text x="1097.2" y="939.2">Very strong</text>
<rect x="1074" y="943.4" width="14.6" height="14.6" fill="#8e4f85"/>
<text x="1097.2" y="957">Strong</text>
<rect x="1074" y="960.6" width="14.6" height="14.6" fill="#9b8dc8"/>
<text x="1097.2" y="973.9">Moderate</text>
<rect x="1074" y="977.9" width="14.6" height="14.6" fill="#c4a9d2"/>
<text x="1097.2" y="991.2">Anecdotal</text>
<rect x="1074" y="995.2" width="14.6" height="14.6" fill="#fbe6ee"/>
<text x="1097.2" y="1008.6">None</text>
<text x="1080.3" y="1061.7">*FDR ≤ 0.1</text>
<text x="1075.6" y="1082.1">**FDR ≤ 0.01</text>
<text transform="translate(6.4 951) scale(1.08 1)" font-size="31.5" font-weight="bold" stroke="#231f20" stroke-width="1" stroke-linejoin="round">g</text>
<rect x="99.2" y="983.3" width="122.8" height="68" fill="#f7d4c8"/>
<rect x="99.2" y="1051.3" width="122.8" height="38.7" fill="#e8927a"/>
<rect x="99.2" y="1090" width="122.8" height="19.6" fill="#de5a45"/>
<rect x="99.2" y="1109.6" width="122.8" height="119.2" fill="#d7202a"/>
<rect x="99.2" y="983.3" width="122.8" height="245.5" fill="none" stroke="#141414" stroke-width="1.5"/>
<path d="M95 983.3H83.6V1228.8H95M83.6 1105.8H95" fill="none" stroke="#231f20" stroke-width="1.2"/>
<text x="76" y="989.5" text-anchor="end">1.0</text>
<text x="76" y="1112" text-anchor="end">0.5</text>
<text x="76" y="1234.5" text-anchor="end">0</text>
<text text-anchor="middle" transform="translate(31.5 1106) rotate(-90)">Proportion of mCherry<tspan font-size="10" dy="-6.5">+</tspan><tspan dy="6.5"> cells</tspan></text>
<text x="160.6" y="1024.5" text-anchor="middle">GABA</text>
<text x="160.6" y="1075.5" fill="#fff" text-anchor="middle" font-style="italic">Vglut1</text>
<text x="160.6" y="1106" fill="#fff" text-anchor="middle" font-style="italic">Vglut1/2</text>
<text x="160.6" y="1164.5" text-anchor="middle" font-style="italic">Vglut2</text>
<text transform="translate(230.4 950.8) scale(1.08 1)" font-size="31.5" font-weight="bold" stroke="#231f20" stroke-width="1" stroke-linejoin="round">h</text>
<text x="306" y="954.5" text-anchor="middle">Ventromedial</text>
<text x="306" y="974.5" text-anchor="middle">hypothalamus</text>
<text fill="#d7202a" text-anchor="middle" transform="translate(386 1044) rotate(-90)">Glutamatergic</text>
<text fill="#4757a8" text-anchor="middle" transform="translate(386 1169) rotate(-90)">GABAergic</text>
<defs><radialGradient id="hg1" gradientUnits="userSpaceOnUse" cx="318.6" cy="1040.1" r="52" gradientTransform="translate(318.6 1040.1) scale(1.1 1) translate(-318.6 -1040.1)"><stop offset="0" stop-color="#de2458" stop-opacity="0.82"/><stop offset="0.42" stop-color="#cf2359" stop-opacity="0.72"/><stop offset="0.72" stop-color="#8a2263" stop-opacity="0.45"/><stop offset="1" stop-color="#4a2068" stop-opacity="0"/></radialGradient><radialGradient id="hg2" gradientUnits="userSpaceOnUse" cx="313.8" cy="1181.1" r="62"><stop offset="0" stop-color="#5b2674" stop-opacity="0.7"/><stop offset="1" stop-color="#3a2270" stop-opacity="0"/></radialGradient><filter id="hn" x="0" y="0" width="100%" height="100%"><feTurbulence type="fractalNoise" baseFrequency="0.7" numOctaves="2" seed="4"/><feColorMatrix type="matrix" values="0 0 0 0 0.9  0 0 0 0 0.15  0 0 0 0 0.45  0 0 0 3.2 -1.75"/></filter><clipPath id="hc1"><rect x="246.1" y="983.2" width="120.5" height="119.5"/></clipPath><clipPath id="hc2"><rect x="246.1" y="1109.5" width="120.5" height="119.2"/></clipPath></defs>
<g clip-path="url(#hc1)">
<rect x="246.1" y="983.2" width="120.5" height="119.5" fill="#05040d"/>
<path d="M 246.1 983.2 L 366.6 983.2 L 366.6 1091.6 Q 352.6 1100.4 327.4 1099.4 Q 294.3 1098.4 267.1 1083.9 L 246.1 1068.3 Z" fill="#221c60"/>
<path d="M 246.1 1068.7 L 267.1 1084.3 Q 294.3 1098.8 327.4 1099.8 Q 352.6 1100.8 366.6 1092" fill="none" stroke="#3b3a9a" stroke-width="1.6" opacity="0.7"/>
<rect x="246.1" y="983.2" width="120.5" height="119.5" fill="url(#hg1)"/>
<path d="M 246.1 983.2 L 246.1 983.2 Z" fill="#221c60" opacity="0.0"/>
<path d="M 345.4 983.2 L 356.9 983.2 Q 357.3 1013.9 360.4 1048.9 Q 365.9 1068.3 362.4 1079 Q 356.5 1083.5 351.7 1076.1 Q 348 1052.8 347.2 1023.6 Z" fill="#04030a"/>
<path d="M 246.1 1068.7 L 267.1 1084.3 Q 294.3 1098.8 327.4 1099.8 Q 352.6 1100.8 366.6 1092 L 366.6 1103.3 L 246.1 1103.3 Z" fill="#05040d"/>
<path d="M 246.1 1068.7 L 267.1 1084.3 Q 294.3 1098.8 327.4 1099.8 Q 352.6 1100.8 366.6 1092" fill="none" stroke="#34308a" stroke-width="1.8" opacity="0.8"/>
<rect x="246.1" y="983.2" width="99" height="100" filter="url(#hn)" opacity="0.4"/>
<rect x="345.3" y="1096.5" width="19" height="5.8" fill="#fff"/>
</g><g clip-path="url(#hc2)">
<rect x="246.1" y="1109.5" width="120.5" height="119.2" fill="#241e66"/>
<rect x="246.1" y="1109.5" width="120.5" height="119.2" fill="url(#hg2)"/>
<path d="M 252.7 1115.9 Q 258.9 1109.1 265.5 1115.9 Q 267.1 1140.2 270.2 1169.4 Q 272.9 1188.8 277.8 1204.4 Q 280.3 1218 267.1 1223.8 L 246.1 1230.1 L 246.1 1211.2 Q 250.8 1204.4 250.8 1188.8 Q 253.5 1150 252.7 1115.9 Z" fill="#04030a"/>
<path d="M 366.6 1205.4 Q 360.4 1220.3 343.9 1229.3 L 366.6 1229.3 Z" fill="#04030a"/>
<ellipse cx="327.4" cy="1137.3" rx="1.6" ry="2.2" fill="#0a0618"/>
<rect x="277" y="1112" width="89" height="114" filter="url(#hn)" opacity="0.28"/>
<rect x="345.3" y="1221.5" width="19" height="5.8" fill="#fff"/>
</g>
<text transform="translate(403.9 950.8) scale(1.08 1)" font-size="31.5" font-weight="bold" stroke="#231f20" stroke-width="1" stroke-linejoin="round">i</text>
<rect x="479.5" y="980.8" width="72.6" height="16.6" fill="#f7d4c8" stroke="#cfd6da" stroke-width="1.5"/>
<rect x="479.5" y="997.4" width="72.6" height="30.8" fill="#e8927a" stroke="#8a8a8a" stroke-width="1.5"/>
<rect x="479.5" y="1028.2" width="72.6" height="41.5" fill="#de5a45" stroke="#555" stroke-width="1.5"/>
<rect x="479.5" y="1069.7" width="72.6" height="156" fill="#d7202a" stroke="#231f20" stroke-width="1.5"/>
<rect x="559.7" y="980.8" width="72.6" height="58.7" fill="#f7d4c8" stroke="#cfd6da" stroke-width="1.5"/>
<rect x="559.7" y="1039.5" width="72.6" height="30.2" fill="#e8927a" stroke="#8a8a8a" stroke-width="1.5"/>
<rect x="559.7" y="1069.7" width="72.6" height="41.8" fill="#de5a45" stroke="#555" stroke-width="1.5"/>
<rect x="559.7" y="1111.5" width="72.6" height="114.2" fill="#d7202a" stroke="#231f20" stroke-width="1.5"/>
<rect x="639.6" y="980.8" width="72.6" height="19.4" fill="#f7d4c8" stroke="#cfd6da" stroke-width="1.5"/>
<rect x="639.6" y="1000.2" width="72.6" height="40.2" fill="#e8927a" stroke="#8a8a8a" stroke-width="1.5"/>
<rect x="639.6" y="1040.4" width="72.6" height="23.1" fill="#de5a45" stroke="#555" stroke-width="1.5"/>
<rect x="639.6" y="1063.5" width="72.6" height="162.2" fill="#d7202a" stroke="#231f20" stroke-width="1.5"/>
<path d="M472 980.8H465.8V1225.7H718M465.8 1103.2H472" fill="none" stroke="#231f20" stroke-width="1.2"/>
<text x="459" y="987" text-anchor="end">1.0</text>
<text x="459" y="1109.5" text-anchor="end">0.5</text>
<text x="459" y="1231.5" text-anchor="end">0</text>
<text text-anchor="middle" transform="translate(417.6 1103) rotate(-90)">Proportion of projections</text>
<text x="515.8" y="995" text-anchor="middle">VMH</text>
<text x="515.8" y="1021" fill="#fff" text-anchor="middle">MPOA</text>
<text x="515.8" y="1055.5" fill="#fff" text-anchor="middle">LH</text>
<text x="515.8" y="1164.5" text-anchor="middle">BNST</text>
<text x="515.8" y="1246" fill="#939598" text-anchor="middle">All</text>
<text x="596" y="1246" fill="#d7202a" text-anchor="middle">Glut</text>
<text x="676" y="1246" fill="#4757a8" text-anchor="middle">GABA</text>
<text transform="translate(740.4 950.8) scale(1.08 1)" font-size="31.5" font-weight="bold" stroke="#231f20" stroke-width="1" stroke-linejoin="round">j</text>
<path d="M806 979.3H799.3V1225.7H963M799.3 1103.1H806M820.5 1225.7v-7M861 1225.7v-7M902.2 1225.7v-7M943.4 1225.7v-7" fill="none" stroke="#231f20" stroke-width="1.2"/>
<text x="792" y="985.5" text-anchor="end">200</text>
<text x="792" y="1109" text-anchor="end">150</text>
<text x="792" y="1232" text-anchor="end">100</text>
<text x="820.5" y="1247.5" text-anchor="middle">0</text>
<text x="861" y="1247.5" text-anchor="middle">30</text>
<text x="902.2" y="1247.5" text-anchor="middle">60</text>
<text x="943.4" y="1247.5" text-anchor="middle">90</text>
<text x="881.5" y="1274.5" text-anchor="middle">Time (min)</text>
<text text-anchor="middle" transform="translate(751 1103) rotate(-90)">Glucose (mg dl<tspan font-size="10" dy="-6.5">−1</tspan><tspan dy="6.5">)</tspan></text>
<path d="M820.5 1099.4 L861 1060.4 L902.2 1104.7 L943.4 1090.9" fill="none" stroke="#b3b3b3" stroke-width="3.1" stroke-linejoin="round"/>
<path d="M820.5 1099.4V1099.4M814.5 1099.4h12" fill="none" stroke="#b3b3b3" stroke-width="2.2"/>
<circle cx="820.5" cy="1099.4" r="4.6" fill="#b3b3b3"/>
<path d="M861 1060.4V1051M855 1051h12" fill="none" stroke="#b3b3b3" stroke-width="2.2"/>
<circle cx="861" cy="1060.4" r="4.6" fill="#b3b3b3"/>
<path d="M902.2 1104.7V1089.4M896.2 1089.4h12" fill="none" stroke="#b3b3b3" stroke-width="2.2"/>
<circle cx="902.2" cy="1104.7" r="4.6" fill="#b3b3b3"/>
<path d="M943.4 1090.9V1075M937.4 1075h12" fill="none" stroke="#b3b3b3" stroke-width="2.2"/>
<circle cx="943.4" cy="1090.9" r="4.6" fill="#b3b3b3"/>
<path d="M820.5 1082.2 L861 1017.3 L902.2 1054.1 L943.4 1065.4" fill="none" stroke="#0c5a9e" stroke-width="3.1" stroke-linejoin="round"/>
<path d="M820.5 1082.2V1059.7M814.5 1059.7h12" fill="none" stroke="#0c5a9e" stroke-width="2.2"/>
<circle cx="820.5" cy="1082.2" r="4.6" fill="#0c5a9e"/>
<path d="M861 1017.3V1004.2M855 1004.2h12" fill="none" stroke="#0c5a9e" stroke-width="2.2"/>
<circle cx="861" cy="1017.3" r="4.6" fill="#0c5a9e"/>
<path d="M902.2 1054.1V1041.6M896.2 1041.6h12" fill="none" stroke="#0c5a9e" stroke-width="2.2"/>
<circle cx="902.2" cy="1054.1" r="4.6" fill="#0c5a9e"/>
<path d="M943.4 1065.4V1048.8M937.4 1048.8h12" fill="none" stroke="#0c5a9e" stroke-width="2.2"/>
<circle cx="943.4" cy="1065.4" r="4.6" fill="#0c5a9e"/>
<path d="M820.5 1099.4 L861 1011.1 L902.2 1010.8 L943.4 1007.3" fill="none" stroke="#d7202a" stroke-width="3.1" stroke-linejoin="round"/>
<path d="M820.5 1099.4V1083.4M814.5 1083.4h12" fill="none" stroke="#d7202a" stroke-width="2.2"/>
<circle cx="820.5" cy="1099.4" r="4.6" fill="#d7202a"/>
<path d="M861 1011.1V994.9M855 994.9h12" fill="none" stroke="#d7202a" stroke-width="2.2"/>
<circle cx="861" cy="1011.1" r="4.6" fill="#d7202a"/>
<path d="M902.2 1010.8V985.5M896.2 985.5h12" fill="none" stroke="#d7202a" stroke-width="2.2"/>
<circle cx="902.2" cy="1010.8" r="4.6" fill="#d7202a"/>
<path d="M943.4 1007.3V984.9M937.4 984.9h12" fill="none" stroke="#d7202a" stroke-width="2.2"/>
<circle cx="943.4" cy="1007.3" r="4.6" fill="#d7202a"/>
<text x="861" y="973.5" text-anchor="middle">&amp;</text>
<text x="861" y="997" font-size="21" fill="#000" text-anchor="middle">*</text>
<text x="902.2" y="989" font-size="21" fill="#000" text-anchor="middle">*</text>
<text x="943.4" y="987" font-size="21" fill="#000" text-anchor="middle">*</text>
<line x1="875" y1="1155" x2="889.5" y2="1155" stroke="#b3b3b3" stroke-width="3.1"/>
<text x="899" y="1161">AAV-mCherry</text>
<line x1="875" y1="1177.5" x2="889.5" y2="1177.5" stroke="#d7202a" stroke-width="3.1"/>
<text x="899" y="1183.5">AAV-CaMKIIA</text>
<line x1="875" y1="1200.5" x2="889.5" y2="1200.5" stroke="#4757a8" stroke-width="3.1"/>
<text x="899" y="1206.5">AAV-DLX</text>
<defs><filter id="spd" x="-5%" y="-5%" width="110%" height="110%" color-interpolation-filters="sRGB"><feGaussianBlur in="SourceAlpha" stdDeviation="1.8" result="b"/><feTurbulence type="fractalNoise" baseFrequency="0.52" numOctaves="1" seed="7" result="n"/><feColorMatrix in="n" type="matrix" values="0 0 0 0 0  0 0 0 0 0  0 0 0 0 0  1 0 0 0 0" result="na"/><feComposite in="b" in2="na" operator="arithmetic" k1="0" k2="0.5" k3="1" k4="0" result="s"/><feComponentTransfer in="s" result="m"><feFuncA type="linear" slope="30" intercept="-26.6"/></feComponentTransfer><feComposite in="SourceGraphic" in2="m" operator="in"/></filter><filter id="spg" x="-5%" y="-5%" width="110%" height="110%" color-interpolation-filters="sRGB"><feGaussianBlur in="SourceAlpha" stdDeviation="1.8" result="b"/><feTurbulence type="fractalNoise" baseFrequency="0.52" numOctaves="1" seed="7" result="n"/><feColorMatrix in="n" type="matrix" values="0 0 0 0 0  0 0 0 0 0  0 0 0 0 0  1 0 0 0 0" result="na"/><feComposite in="b" in2="na" operator="arithmetic" k1="0" k2="0.5" k3="1" k4="0" result="s"/><feComponentTransfer in="s" result="m"><feFuncA type="linear" slope="30" intercept="-24"/></feComponentTransfer><feComposite in="SourceGraphic" in2="m" operator="in"/></filter><filter id="spm" x="-5%" y="-5%" width="110%" height="110%" color-interpolation-filters="sRGB"><feGaussianBlur in="SourceAlpha" stdDeviation="1.8" result="b"/><feTurbulence type="fractalNoise" baseFrequency="0.52" numOctaves="1" seed="9" result="n"/><feColorMatrix in="n" type="matrix" values="0 0 0 0 0  0 0 0 0 0  0 0 0 0 0  1 0 0 0 0" result="na"/><feComposite in="b" in2="na" operator="arithmetic" k1="0" k2="0.5" k3="1" k4="0" result="s"/><feComponentTransfer in="s" result="m"><feFuncA type="linear" slope="30" intercept="-28.3"/></feComponentTransfer><feComposite in="SourceGraphic" in2="m" operator="in"/></filter><filter id="spb" x="-5%" y="-5%" width="110%" height="110%" color-interpolation-filters="sRGB"><feGaussianBlur in="SourceAlpha" stdDeviation="1.5" result="b"/><feTurbulence type="fractalNoise" baseFrequency="0.83" numOctaves="1" seed="5" result="n"/><feColorMatrix in="n" type="matrix" values="0 0 0 0 0  0 0 0 0 0  0 0 0 0 0  1 0 0 0 0" result="na"/><feComposite in="b" in2="na" operator="arithmetic" k1="0" k2="0.22" k3="1" k4="0" result="s"/><feComponentTransfer in="s" result="m"><feFuncA type="linear" slope="30" intercept="-22.5"/></feComponentTransfer><feComposite in="SourceGraphic" in2="m" operator="in"/></filter><filter id="spb2" x="-5%" y="-5%" width="110%" height="110%" color-interpolation-filters="sRGB"><feGaussianBlur in="SourceAlpha" stdDeviation="1.5" result="b"/><feTurbulence type="fractalNoise" baseFrequency="0.71" numOctaves="1" seed="19" result="n"/><feColorMatrix in="n" type="matrix" values="0 0 0 0 0  0 0 0 0 0  0 0 0 0 0  1 0 0 0 0" result="na"/><feComposite in="b" in2="na" operator="arithmetic" k1="0" k2="0.22" k3="1" k4="0" result="s"/><feComponentTransfer in="s" result="m"><feFuncA type="linear" slope="30" intercept="-22.8"/></feComponentTransfer><feComposite in="SourceGraphic" in2="m" operator="in"/></filter></defs>
<text transform="translate(637.4 24.3) scale(1.08 1)" font-size="31.5" font-weight="bold" stroke="#231f20" stroke-width="1" stroke-linejoin="round">c</text>
<path d="M700.6 219.5h0M661.2 226.2h0M647.3 225.5h0M700.2 226h0M697.7 206.3h0M703.3 216.4h0M674.9 197.1h0M658.2 206.7h0M701 222.4h0M671.8 232.9h0M657.3 227.9h0M655.9 229.5h0M665.6 202.6h0M659.5 228.9h0M683.8 199.6h0M651.3 222.1h0M652.9 226h0M677 195.7h0M673.8 198.2h0M652.3 220.6h0M688.8 232.7h0M681.5 234.5h0M654.5 227.3h0M660.8 233.7h0M665 230.2h0M679 197.9h0M653.8 210.2h0M677.8 232.8h0M651.4 218.3h0M662.5 234.8h0M701.5 213.9h0M660.8 206.6h0M698.2 231.5h0M654.1 221.6h0M689.5 203.4h0M675.8 232.7h0M652.3 220.6h0M701.3 204.2h0M693.8 231.8h0M684.9 233.9h0M658 207.6h0M699.4 202.9h0M654.8 230.1h0M689.8 232.8h0M690.1 202.1h0M658.1 228h0M700.5 206.7h0M671.8 195.3h0M684 195.3h0M694.5 228.7h0M683.1 197.2h0M700.2 201.6h0M676.6 197.2h0M704.3 217.4h0M667.1 198.3h0M677 229.3h0M679.4 195.8h0M675.3 235.2h0M669.6 226.5h0M657.1 230.2h0M660.9 203.1h0M697.5 201.3h0M693 235.7h0M700.7 215.4h0M701.2 220.4h0M693.9 232.5h0M693.1 201.2h0M697.1 231h0M698 204.6h0M655.3 212h0M663.7 205.2h0M683.8 197.8h0M666.5 200.8h0M688.8 202.7h0M655.3 211.3h0M650.9 223h0M700.8 214.5h0" stroke="#9b9b9b" stroke-width="1.7" stroke-linecap="square" fill="none"/>
<path d="M700.5 218h0M710.7 233.3h0M710.6 196.6h0M702.3 219.5h0M744.9 191h0M704.7 197.5h0M709.6 195.1h0M747 193.6h0M738 193.1h0M702 218.1h0M733.7 195h0M746.7 204h0M747.4 213.2h0M707.9 196.8h0M737.1 189.7h0M699.2 210.8h0M699.5 222.1h0M736 199.9h0M734.6 191.9h0M733.5 229.1h0M708.9 196.7h0M745.9 219.1h0M745.2 217.5h0M721.6 238.4h0M725.9 196.8h0M700.4 230.9h0M714.9 237.5h0M725.8 234.5h0M698.4 228.6h0M706.4 234.9h0M712.7 235.8h0M727.8 235.9h0M717.8 235.6h0M746 208.2h0M743.4 193.1h0M713.4 235.4h0M711.7 231.7h0M699.8 203.7h0M700.5 213h0M707.9 236.7h0M699.2 219.8h0M737.3 192.8h0M739.5 228.4h0M740 229.2h0M749.4 193.6h0M744.4 219.9h0M709.8 198.9h0M737.2 227h0M751 193.9h0M712.5 196.3h0M697.4 226.5h0M730.5 194.7h0M720.2 238.2h0M725.1 198.4h0M718 194.8h0M704.2 200.4h0M708.7 197.5h0M700.3 232.1h0M717.7 235.9h0M703.9 208.8h0M731.3 235h0M698.1 214.4h0M711 196.8h0M726.1 198.4h0M743.7 191.5h0M706.9 231.3h0M750.4 199.7h0M739.9 224.5h0M749.6 195.9h0M726.4 198h0M748.2 209.2h0M750.6 205.8h0M748.1 201.1h0M715.7 199.6h0M750.1 193.2h0M730.3 196.6h0M735.7 196h0M702.5 207.2h0M698 220.4h0M749.4 207.5h0M732.1 235.9h0M725 238.9h0M700.9 210.1h0M751.1 196.2h0M737.5 192.5h0M723.6 236.8h0M726.1 191.7h0M731.1 233.4h0M749.5 210.6h0M735.4 194.1h0M752 196.9h0M737.7 192.6h0M740.6 235.3h0M743 226.7h0M735.3 234.2h0M730.7 188.2h0M737.1 234.3h0M751.5 222.7h0M748.8 208.9h0M734.4 234.2h0M750.8 229h0M745.8 197.6h0M737.1 228.9h0M751.1 210.5h0M729.9 238.6h0M750.7 220h0M745.3 205.6h0M744.8 231.2h0M748.2 227.4h0M737.9 242.5h0M736 229.9h0M749.1 193.8h0M741.7 231.2h0M737.5 239.1h0M742.2 224.9h0M738.1 233.2h0M750.9 222.4h0M747.8 224.9h0M743.7 193.1h0M751.5 210.6h0M742.6 230.3h0M730.4 234.3h0M742.9 192h0M735.1 232.4h0M735 196.6h0M743.5 208.9h0M742.6 222.6h0M749.3 207.4h0M755.4 208.1h0M751.5 193.2h0M732.3 194h0M754.6 198.4h0M746.3 206.7h0M746.5 193.8h0M752.4 199.8h0M740.1 229.6h0M744.7 185.4h0M747 190.1h0M749.2 207.1h0M726.8 240.1h0M742 219.5h0M747.5 196.6h0M736.9 191.3h0M723.9 242.7h0M746.9 232.2h0M724.4 237.6h0M739.3 236.4h0M727.4 240.5h0M745.7 193.1h0M742.6 187.8h0M736.4 237.7h0M754.7 199.4h0M751.6 197.4h0M735.5 236.3h0M734.9 229.4h0M731.5 239.5h0M728.4 189.9h0M741.9 189.4h0M741.8 229.5h0M733.7 193.6h0M735.3 236.3h0M726.5 235.6h0M755.8 215.1h0M749.1 205h0M735 228.7h0M746.3 192.7h0M749.6 195.2h0M745.1 192h0M738 235.1h0M732.3 237.6h0M751.1 227.7h0M729.1 232.9h0M747.4 227.5h0M742.4 233.5h0M727.1 240.3h0M746.7 225.3h0M737.8 228.5h0M746 211.2h0M732.3 232.2h0M748 219.5h0M730.6 193.2h0M727.3 238.4h0M748.6 223.4h0M743 196.9h0M730.6 191.1h0M731.7 239.2h0M737.1 229.8h0M733.3 236.8h0M735 234.7h0M747.1 190.6h0M745.6 222h0M734.4 189.6h0" stroke="#6d6d6d" stroke-width="1.7" stroke-linecap="square" fill="none"/>
<path d="M765.5 174.1h0M751.9 195.1h0M773.1 171.6h0M772.6 175h0M791.8 172.7h0M768.8 170.4h0M761.9 196.1h0M763 177h0M790.4 177.5h0M762.2 196.2h0M783.6 194.2h0M784.9 170.3h0M758.9 197h0M789 188.6h0M786.2 169.1h0M742.2 182.4h0M740.1 192.5h0M762.9 172.9h0M788.8 171.7h0M778.2 199.9h0M761.9 194.7h0M746.4 178.7h0M791.1 194.4h0M776.7 165.7h0M747.8 197.1h0M744.6 197.6h0M776.7 203.9h0M743.8 181.4h0M780 171.4h0M783.4 167.8h0M767.1 174.1h0M785 198.2h0M787.9 186.5h0M770.7 205.3h0M791.7 194.2h0M733.7 193.5h0M795 179h0M743.9 193.8h0M788.7 170.4h0M751.6 177.2h0M758.7 175h0M742.3 190.7h0M765.9 196.2h0M747.3 180.2h0M747.5 176.4h0M739.1 198.5h0M763.1 193.6h0M753.1 192.9h0M792.3 186h0M758.6 174.2h0M739.1 191.7h0M744.6 195.5h0M774.8 204.1h0M777.6 171.7h0M763.4 194.9h0M748.4 182.1h0M756.7 175.6h0M755.9 178.4h0M791.3 190.3h0M752.9 176.2h0M790.3 184.8h0M792.6 171.5h0M783.5 200.5h0M788.1 170.5h0M775.3 206.8h0M794.2 176.6h0M790.5 181.7h0M766.9 175h0M789.7 188.1h0M785.1 169.2h0M741.8 187.3h0M791.4 175.5h0M762.1 175.4h0M756.9 194.5h0M781.7 200h0M754.3 179.7h0M785.6 171.8h0M792.2 175.7h0M776.6 203.2h0M775.2 203.2h0M732.5 193.5h0M769.3 170.6h0M792.4 180.9h0M796.1 187.3h0M797.6 186.4h0M792.8 186.9h0M795.8 175.6h0M794.6 185.5h0M797 166.7h0M797.9 171.4h0M797.8 183.4h0M799.2 180.2h0M795.1 162.1h0M793.8 166.6h0M797.5 167.9h0M799.8 180.8h0M789.9 190.3h0M796.6 181.2h0M787.4 165.4h0M786.9 189.8h0M792.3 199.2h0M786.3 196.5h0M783 199.1h0M790.7 183.1h0M791.8 171.3h0M790.9 171.5h0M793.3 178.7h0M792.8 175.5h0M787.7 172h0M785.1 194.4h0M793.6 171.5h0M792.2 164.3h0M794.2 169.6h0M788.5 169.2h0M800.9 179h0M790.1 201h0M790.7 193.1h0M796.4 166.4h0M789.1 169.8h0M785.2 173.7h0M794.6 190.1h0M801.3 167.5h0M794.3 185.4h0M790.7 169.3h0M800.3 175.2h0M800.1 183.7h0M790 167.9h0M791.4 180.7h0M788.2 199.4h0M793.7 190.5h0M793.3 167.2h0M788.8 170.8h0M793 175.9h0M787.1 202.1h0M797.3 170.2h0M797.4 164.7h0M793.9 191.1h0M787.2 197.4h0M793.4 187.3h0M797 194.1h0M788.4 190.2h0M801.8 178.9h0M794.8 184.1h0M799.6 177.1h0M796.6 191.5h0M796.1 166.5h0M789.1 188.8h0M785.2 168.9h0M797.9 184.5h0M794.5 179.8h0M792.4 186.8h0M793.7 189.3h0M786.8 167.4h0M797.6 176.2h0M805.8 165.9h0M795.4 166.8h0M790.2 166.1h0M794.9 169.2h0M788.6 170.8h0M792.3 189.7h0M790.1 190.5h0M794.3 193.7h0M793.8 192.6h0M796.3 181.1h0M802.9 184.6h0M803.4 170.7h0M794.9 170.7h0M793.3 199.4h0M805.2 170.2h0M795.2 168.4h0M792.5 173.2h0M791.4 192.9h0M782.2 198.1h0M788.7 193.5h0M790.1 175.2h0M794.3 195h0M799.6 184.4h0M800.1 181.4h0M803.2 177.1h0M787.2 192.7h0M798.7 170.7h0M794.8 192.1h0M801.8 175.2h0M780 167.3h0M784.8 172h0M789.1 196.1h0M791.8 174.9h0M788.5 169.8h0M795.3 176.4h0M791.2 172.8h0M793.1 197.1h0M793.5 188.5h0M800.5 165h0M792 179.7h0M790.3 162.8h0M793.6 195.1h0M732.4 197.1h0M739.4 197.7h0M747.3 193.2h0M748.1 196.1h0M720 197h0M726.4 194.3h0M729.8 193.9h0M732 191.3h0M723.6 194.1h0M747.7 201.9h0M726.4 190.9h0M737.6 203.3h0M743.3 198.3h0M735.2 195.7h0M734.4 196h0M725.3 194.8h0M739.1 188.5h0M744.1 190.6h0M743.3 190.3h0M721.7 198.8h0M746.8 199.1h0M731.4 193.1h0M742.3 191.4h0M732.3 200.3h0M738.9 190h0M734.3 192.3h0M741.6 188.8h0M733.9 196.1h0M745.4 189.8h0M740.6 191.3h0M728.6 191.7h0M733.4 199h0M739.7 197.7h0M735.6 197h0M734.7 193.3h0M740.5 190.1h0M741.8 195.5h0M734.8 193.2h0M744.8 191.2h0M736.3 198.6h0M724.4 192.2h0M737.1 194.1h0M737.6 190.1h0M733.5 194.7h0M741.4 197.9h0M724.5 196.2h0M729.4 198.4h0M728.9 192.9h0M746.9 192.7h0M728.4 195.5h0M731.6 194.7h0M724.4 188.7h0M740.1 190.7h0M724.4 197.2h0M732.2 192.8h0M745.8 194.5h0M737.4 194.3h0M724.2 197.5h0M729.9 197.4h0M743.5 195.3h0M741.9 188.1h0" stroke="#17996f" stroke-width="1.7" stroke-linecap="square" fill="none"/>
<path d="M807.4 178.7h0M832 198.2h0M830.6 196.5h0M835.6 184.6h0M809.7 183.7h0M837.4 182.4h0M834.6 179.4h0M818.4 196.6h0M818.7 197.9h0M807 182.6h0M816.5 150.9h0M819.4 195.3h0M831.3 198h0M813.8 190.9h0M796.1 163.5h0M833.5 178.7h0M810.9 191.8h0M812.9 154.8h0M813.9 194.9h0M827.6 168.3h0M828.9 200.8h0M830.4 176h0M818.8 200h0M818.7 199.9h0M820.6 152.6h0M803.3 172.5h0M810.2 182.3h0M800.2 169.5h0M807.9 157.8h0M835.7 170.4h0M796.9 165.7h0M824.6 156.7h0M827.1 165.6h0M801.8 169.4h0M806.7 180.4h0M830.4 158.1h0M835 196.8h0M820 200.8h0M835 172.7h0M810.3 189.3h0M811 151.8h0M832.6 168.8h0M798.3 157.2h0M795.1 165h0M833.7 187.8h0M821.5 156.7h0M827.3 204.2h0M798.3 162h0M801.8 163.4h0M808.4 179.6h0M802.3 170.6h0M819.2 153.5h0M834.7 180h0M837.2 187.4h0M809 176.1h0M808 154.7h0M813.5 198.1h0M824.9 156.3h0M818.4 154.3h0M807.6 153.9h0M820.3 204.2h0M814 152.6h0M814.6 194.4h0M798.7 162.7h0M822.4 156.1h0M827.5 163.5h0M811.1 181.4h0M832.7 194.3h0M796.5 157.7h0M808 173.9h0M812.4 193h0M813.1 153.2h0M815.3 153h0M819 150.2h0M831.5 200.9h0M823.3 157.2h0" stroke="#4cb04a" stroke-width="1.7" stroke-linecap="square" fill="none"/>
<path d="M769.3 232.2h0M754.7 219.7h0M758.2 229.6h0M774.4 219.3h0M773 207.6h0M771 225.2h0M775.1 216.9h0M776.6 209.1h0M756.1 230.5h0M773.8 209.1h0M761 214.5h0M760 238h0M774.5 219.8h0M765 207.8h0M755.8 215.8h0M753.8 219.2h0M754.8 228.9h0M761.9 209.3h0M753.4 226.2h0M753.5 231h0M750.6 221.9h0M753.9 215.2h0M768.3 207.7h0M778.5 221.5h0M754.3 231.4h0M774.3 206.4h0M768.6 233.6h0M771.1 235.8h0M762.1 214.8h0M767 208.4h0M753.2 233.3h0M749.3 216.4h0M766.8 210.7h0M767.3 235.8h0M769.5 207.8h0M753.5 217.1h0M775.9 207.7h0M763.5 240.7h0M757.1 230.4h0M780.3 208.1h0M760.4 238h0M758.7 235.6h0M773.3 225.9h0M770.9 221.1h0M765.1 238.1h0M754.1 232.2h0M770.6 235.6h0M766.1 236.2h0M765.7 250.1h0M751.6 243.6h0M746.9 239.9h0M768.9 221.3h0M759.9 242.1h0M743.5 243.1h0M766.3 207.9h0M752.8 219h0M740.2 231.6h0M763.1 215.6h0M765.6 236.3h0M735.4 238.4h0M771.3 202.7h0M749.7 236.8h0M756.5 226.6h0M755.1 242.2h0M777.4 218.7h0M758.4 242.9h0M759.9 231.2h0M731.5 232.7h0M750.4 220.6h0M748.8 235.2h0M777.8 216.5h0M773.8 215.6h0M743.6 250.5h0M748.8 245h0M753.7 213.2h0M770.2 212.5h0M780.2 209.8h0M774.1 208.1h0M768.4 247.9h0M764.8 231.8h0M737.1 239.6h0M778.1 220.9h0M776 216.1h0M763.4 212.1h0M748.1 235.5h0M747.3 221.5h0M778 225h0M766.1 251.7h0M746 227.9h0M784.3 217.2h0M762.1 238.7h0M766.3 221.2h0M765.6 230.2h0M766.1 221h0M746.9 242.7h0M764.9 232.5h0M782 212.6h0M772 215.2h0M742.3 244.3h0M730.2 227.5h0M741.4 218.2h0M768.3 230.7h0M770.7 249.5h0M746.3 257.4h0M741.4 219.8h0M776.6 216h0M759.1 232.7h0M761.2 239.4h0M748.1 217.6h0M777.2 226.5h0M771.8 232.3h0M779.6 223.8h0M750.9 240.8h0M761.1 213.4h0M770.8 221.3h0M772 242.2h0M748.8 236.4h0M757.2 229.6h0M749.4 235.5h0M732.3 234.2h0M761.3 228.7h0M769 208.9h0M754.3 218.6h0M776 230.5h0M751 235.5h0M750.7 224.9h0M777.8 217.2h0M763 233.8h0M743.4 246.9h0M752.8 246.2h0M757 220.6h0M744.3 221.2h0M770.7 216h0M757.9 234.6h0M757.4 215.1h0M771.6 208.8h0M754.4 244h0M740.5 219.3h0M751.8 237.4h0M763.7 237.9h0M745.7 217.3h0M772.1 226.4h0M752.9 228.3h0M763.7 239.9h0M768.8 245.2h0M765.3 244h0M780.7 226.9h0M754.6 214.3h0M759.5 246.7h0M769 208.7h0M763.3 245.5h0M760.8 222.3h0M737.6 227.2h0M766.4 226.4h0M772.2 235.8h0M762.3 238.6h0M771.1 225.9h0M736.4 225.1h0M757.9 214h0M770.6 240.2h0M732.5 232h0M749.6 231.5h0M745.3 220h0M764.1 204.3h0M752 237.5h0M753.9 231.8h0M758.1 217.3h0M773.3 207.4h0M740.8 227.9h0M766.9 205.5h0M764.6 217.2h0M762.4 250.8h0M773.5 217.1h0M779.9 207.4h0M787.5 211.1h0M749 243.6h0M773.2 228.5h0M772.4 211.6h0M755.8 215.1h0M773.2 235.9h0M773 215h0M785.9 211.1h0M753.4 231.4h0M778.5 223.4h0M747 231.6h0M744.7 229.4h0M750.8 228.6h0M766.6 251.5h0M766.1 223.5h0M751.8 249.6h0M765.6 239.6h0M772.5 216.5h0M756.8 237h0M781.1 218.6h0M756.8 214.3h0M736.1 229.4h0M756.8 212.1h0M752.1 234h0M736.7 223.9h0M777.8 230.9h0M746.3 252.6h0M779.7 223.9h0M748.3 239.3h0M743.1 232h0M745.3 235.7h0M726.4 228h0M758.7 223.6h0M763.6 248.9h0M736.3 226.4h0M763.2 226.2h0M768.9 221.6h0M771.2 241.7h0M772 240.2h0M784.7 208.4h0M769 219.2h0M766.2 232.2h0M779 229.2h0M752.7 238.3h0M746.5 229.8h0M747.5 211.6h0M774.4 214h0M755.1 242.8h0M771.8 208.7h0M773.2 220.1h0M743.3 230.1h0M738 221.2h0M755.8 229.1h0M774.4 220h0M742.5 241.3h0M749.4 247.2h0M756.4 252.5h0M768.3 211h0M739.9 234.7h0M762.8 222.2h0M764.5 221.5h0M738.6 232.5h0M762 209.7h0M758.4 246.7h0M775.3 212.2h0M772.8 229.4h0M736 234.7h0M772.2 217.7h0M765 216.5h0M745.1 239.2h0M785 209.2h0M748.8 235.4h0M744 228.3h0M774 244.4h0M773.5 231.4h0M743.5 225.8h0M747.1 247.4h0M743.6 235.1h0M766.4 232h0M755.6 235.2h0M778.6 205.2h0M776.1 233h0M758.6 249.2h0M726.9 229.3h0M752.2 222.6h0M744.6 232.5h0M749.5 249.6h0M770.1 223.6h0M753.2 231.6h0M730.1 229.8h0M770.5 233.1h0M755.2 250.4h0M736.7 236.9h0M753.2 226.7h0M751.9 214.5h0M748.2 237.8h0M758.9 227.8h0M735.4 232.6h0M755.5 229h0M774.5 216.5h0M747.3 220.2h0M760.4 251.9h0M785.3 208.2h0M782.6 221.7h0M748.4 214.7h0M765.1 243.2h0M776.1 217.3h0M778.4 234.5h0M769.3 219.1h0M753.6 236h0M743.3 237h0M774.7 234.5h0M764.5 209.6h0M735.4 235.1h0M741.1 243.9h0M734.6 235.5h0M779 215.7h0M756.1 226.3h0M771.5 242.2h0M755.5 223.1h0M745.6 242.2h0M761.3 217h0M741.8 243.9h0M772.8 244.3h0M772.2 240.2h0M781.4 223.7h0M735.9 219.9h0M750.4 231.4h0M782.4 215.2h0M742.4 237.3h0M769.2 209h0M756.7 248.8h0M756 241.1h0M741 233.1h0M735.6 222.3h0M772.6 220.6h0M760.9 217.7h0M753.7 225.2h0M766.9 222.4h0M786 213.7h0M742.1 224.2h0M732.1 220.1h0M762.5 218.1h0M785.8 209.2h0M755.5 211.6h0M738.8 238.5h0M764.1 236h0M766.1 213.2h0M764.7 216.9h0M756.2 225.1h0M768.7 242.5h0M769.6 233.6h0M741.1 221.5h0M740.2 233.9h0M758.7 233.3h0M775.4 213.1h0M753.8 235.9h0M772.9 224.6h0M755.4 246.2h0M741 221.8h0M754.9 230.2h0M761.3 214.2h0M756.7 230.5h0M770.7 216.7h0M748.4 223.9h0M739.2 230.2h0M765.6 217h0M752.1 225.8h0M767.1 222.9h0M766.4 233.8h0M774.7 231.1h0M750.5 215.4h0M758.5 235.4h0M748.5 243.1h0M773.2 216h0M778.7 210.7h0M747.8 237.8h0M763.5 243.9h0M756.6 219.7h0M745.5 241.9h0M743.1 235.5h0M753.9 251h0M746.3 225.3h0M759.1 242.8h0M769.2 239.2h0M772.9 231.8h0M769 204.1h0M751.3 251h0M767.3 223.5h0M744.7 246.9h0M759.8 237.7h0M775.1 228.4h0M736.9 227.2h0M772.1 240.3h0M750.7 209.3h0M761.9 248.9h0M767.8 229.3h0M748.1 227h0M747.7 224.4h0M765.1 230.7h0M770.8 223h0M765.1 238.6h0M755.4 228.8h0M750.1 245.6h0M778.8 210.9h0M732.2 240.7h0M783.5 211.4h0M767 222.3h0M769.5 225h0M769.1 248.6h0M747.1 235.2h0M748.2 248.7h0M763.4 250.6h0M748.9 230h0M761.9 233.1h0M737.8 215h0M755.6 249.1h0M764.7 209.3h0M747.4 223.7h0M755.8 242.6h0M734.4 230h0M778.5 215.2h0M754.6 246.9h0M748.9 244.7h0M732.2 220.7h0M756 243.6h0M770.2 235.6h0M746.2 244.7h0M769.3 213.1h0M755.2 220h0M766.5 224.3h0M776.1 228.8h0M766.5 238.7h0M776.9 215.2h0M740.8 229.1h0M764 240h0M744 231.4h0M758.9 244.5h0M757.2 226.8h0M751.8 217.6h0M761.7 224.9h0M748.5 236h0M756.4 214.9h0M770.4 220.7h0M766.4 234.6h0M763.2 237.7h0M769.7 207.2h0M781.3 218.8h0M751.4 249.7h0M768.6 242.4h0M743 235.1h0M774.5 229.2h0M747.6 222.3h0M772.3 235.3h0M776 224.5h0M745.2 228.9h0M775.6 206.7h0M785.7 224.1h0M768.7 233.8h0M762.9 242.3h0M767.3 244.2h0M764.5 245.9h0M780.4 220h0M789.1 213.2h0M760.2 235.2h0M727.5 224.3h0M755.8 234.2h0M768.2 213.1h0M753.9 220.1h0M740.3 224.7h0M741.9 228.4h0M761.4 247.1h0M735.1 225.2h0M735.7 224.3h0M782.8 222h0M774.7 218.6h0M763.4 209.4h0M777.5 209.9h0M757.4 233.2h0M745.2 239.5h0M749.9 233h0M743.2 231.3h0M733.6 224.1h0M760 229.8h0M745.6 241.5h0M745.6 220.3h0M770.1 246.2h0M740.2 245h0M762 239.2h0M774.3 230.5h0M762 234.3h0M745.3 220.4h0M763.3 230.8h0M764.5 242.8h0M773.3 240.2h0M766.7 239.2h0M742.3 238h0M766.7 213.1h0M744.4 228.3h0M781.1 214.7h0M738.8 233.7h0M765.6 225.1h0M747 241.3h0M738.4 224.5h0M764 213.1h0M770.2 232.7h0M773.4 216h0M764.5 245.2h0M778.8 221.4h0M757.2 222h0M755.1 243.9h0M752.9 218.1h0M767.5 233.1h0M751 235.9h0M744.3 228.4h0M767.1 223.1h0M756.3 247.6h0M775.9 242.1h0M771.1 241.2h0M780.5 211.8h0M757.4 214.1h0M762.6 221.3h0M781.5 223.7h0M728.4 227.9h0M745.1 246.8h0M760.2 207.7h0M777.1 235.7h0M754.8 235.9h0M781.5 211.9h0M765.9 249.5h0M770 251.3h0M760.8 230.7h0M735.1 228.4h0M749.1 246h0M753.6 212.1h0M758.8 211.8h0M745 231.6h0M755.4 210.9h0M770 244.1h0M779.1 214.1h0M740 227.2h0M767.5 234.6h0M759.9 242.9h0M760.1 233.1h0M787.3 213.1h0M750.2 216.8h0M760.6 238.2h0M750.8 223.1h0M738.6 235.7h0M749.9 247.9h0M777.7 224.9h0M784.4 212.7h0M766.2 220.2h0M735.9 229.7h0" stroke="#e6298c" stroke-width="1.7" stroke-linecap="square" fill="none"/>
<path d="M804.7 175.2h0M804.1 181.3h0M799.2 189.3h0M805.6 202.6h0M815.8 214.3h0M803.7 211.4h0M797 198.1h0M805.1 176h0M810.1 211.2h0M801.4 191.1h0M800.7 181.2h0M806.9 194.9h0M804.8 208.7h0M809.9 210.4h0M800.8 181.9h0M800.7 194h0M799.5 181.7h0M802.6 209.1h0M798.7 202.6h0M800.7 177.8h0M800.8 191.8h0M809.2 176.7h0M806.6 209.4h0M807.9 188.6h0M810.9 193.1h0M801.2 207.9h0M816.6 203.7h0M800.5 185.1h0M810.8 209.6h0M807.1 194h0M809.1 182.7h0M810.3 186.8h0M801.8 178.7h0M808.8 195.7h0M808.4 207.9h0M812 197.6h0M802.2 186.1h0M801.7 179.9h0M795.6 199.9h0M818.1 206h0M796.5 197.9h0M804.2 174.1h0M811.3 188.7h0M801 175.3h0M812 204.5h0M829.3 198.4h0M827.5 198h0M814.7 207.9h0M825.9 199.8h0M825.5 202.8h0M828.7 206.6h0M818.8 203.3h0M833.9 204.9h0M829.2 205.2h0M815.2 197.5h0M807.8 200.9h0M828.3 198.7h0M811.8 208.8h0M823.8 200h0M832.2 200.3h0M833.8 195.1h0M821.7 201.1h0M831.9 198.7h0M822.7 205.9h0M826.3 207.8h0M830.8 207.1h0M819 198.4h0M834.3 198.4h0M814.8 204.6h0M831 197.7h0M816.2 203h0M816.1 205.9h0M823.8 206.4h0M801.5 211.6h0M808 209.8h0M798.7 210.2h0M804.9 210.4h0M805.1 226.6h0M798 217h0M810.4 212.5h0M804.8 212.2h0M801.7 220.2h0M799.6 222.4h0M802.2 218.7h0M804.7 229.1h0M808.9 211.2h0M801.2 219.4h0M809.7 225.1h0M808.7 207.5h0M804.1 211.7h0M801.1 212.5h0M801.9 215.7h0M802.7 214.8h0M803.8 226h0M808.1 210.4h0M799.5 212.3h0M804.5 210.7h0M803.9 222.2h0M806.1 227h0M801.2 215.6h0M798.3 203.2h0M793.6 195.4h0M800.7 207h0M798 204.3h0M798.6 190.2h0M792 197h0M790.9 208.1h0M801.7 203.1h0M801 196.2h0M797.4 212.8h0M793.6 199.7h0M801.1 200h0M793.6 201.2h0M793.1 205h0M795.9 210.8h0M798.4 203.2h0M798.1 207.4h0M793 209.2h0M799.3 210.2h0M792.9 198.5h0M788.3 201h0M794.3 192.1h0M789.6 195.6h0M797.6 204.9h0M798.4 210.5h0M791.3 206.2h0M799.5 190.3h0M795.8 208.6h0M800 210.4h0M795.9 209.4h0M800.7 207.4h0M801.3 193.3h0M801.9 217.4h0M798 199.9h0M792.8 207.9h0M793.4 204.4h0M795.4 199.8h0M794.7 200h0M801.5 198.9h0M796.9 213.9h0M798.7 205.4h0M819.2 209.5h0M823 212.3h0M806.2 223.2h0M808.9 221.7h0M810.7 208.4h0M806.9 224.5h0M811.4 227h0M812 213.1h0M813.7 213.6h0M805.6 224.7h0M811.1 212.3h0M815.3 217.9h0M815.5 225.5h0M813 226.9h0M818.9 218.1h0M810.5 221.8h0M809.8 228.1h0M808.4 209.9h0M819.9 210.8h0M818 207.9h0M811.2 209.8h0M820.7 213.5h0M808.5 218.3h0M813.2 214.4h0M809.4 211h0M818.6 214.6h0M816.5 220.4h0M817.4 212.9h0M819.6 210.7h0M820.3 216.8h0M806.7 217.8h0M814 226.1h0M814.6 213.3h0M811.5 221.3h0M807.2 211.9h0" stroke="#e8261c" stroke-width="1.7" stroke-linecap="square" fill="none"/>
<path d="M833.6 261h0M817.4 252.1h0M795.2 258.5h0M807.6 275.4h0M841.2 272.3h0M804.6 279.3h0M803.2 267.2h0M813.1 276.6h0M801.9 261.9h0M795.2 257.4h0M802.9 269.9h0M803.8 275.6h0M832.6 254.3h0M804.9 247.8h0M815.7 249h0M822.2 280.3h0M834.1 262.3h0M799.8 249.5h0M830.2 283.3h0M806.7 274.2h0M809.8 273.2h0M838.9 280.5h0M836.5 263.8h0M801.5 264.6h0M842.6 272.4h0M839.4 276.2h0M825.8 285.4h0M808.2 247.6h0M815 281.9h0M842.4 274.1h0M800.7 250.6h0M800 256h0M801.1 249.1h0M825 282h0M814.8 280.4h0M794.9 262.8h0M823.7 257.3h0M841.8 268.6h0M811.7 276.9h0M801.3 269.3h0M800.6 250.1h0M808.2 250.3h0M799 271.4h0M825.7 253.8h0M816.8 250.9h0M804.2 273.2h0M829.6 280h0M799.9 252.5h0M835.8 281.1h0M810.1 281.8h0M841.7 274.9h0M833.5 283.3h0M835.5 263.8h0M801.5 249.3h0M831.7 257h0M818 249.7h0M833.2 263.2h0M834.5 261.8h0M799.5 251h0M803.7 273h0M831.3 257.2h0M827.1 254.7h0M836.3 264.4h0M810.4 250.5h0M838.1 281.1h0M833.1 281.2h0M838.3 271.7h0M837.6 269h0M820.9 281.2h0M812.6 277.1h0M811 247.3h0M805.7 236h0M805.2 228.3h0M804.4 228.8h0M811.3 235.6h0M808.9 233.4h0M807 242.8h0M808.6 246.4h0M809.3 242.7h0M806 231.1h0M803.2 250.3h0M807.2 228.6h0M802.2 245.3h0M801.1 229.6h0M804.8 233.2h0M807.1 228.6h0M800.7 238.7h0M811.6 239.5h0M805.5 241.1h0M803.1 225.4h0M798.8 243.1h0M799.9 227.6h0M807.2 248.3h0M802.9 230.1h0M802.4 230.8h0M801.6 245.6h0M803.9 248.8h0M806.2 227.6h0M812 239.8h0M810.3 225.3h0M808.5 232h0M809.1 233.4h0M801 229h0M783.8 248.9h0M769.4 242.5h0M795 260.1h0M793.1 256.2h0M799.1 256.8h0M789.5 259.2h0M782.8 252.8h0M786.2 250.3h0M796.9 252h0M799.2 255.6h0M782 251.1h0M773.6 240.1h0M774 234.9h0M782.6 247.4h0M765 236.9h0M791 253h0M770.1 247.5h0M787.2 262.2h0M787.2 252.6h0M767.4 239.9h0M788.8 256.7h0M775.1 237.9h0M774.8 240.6h0M801 256h0M775.8 238.9h0M784.9 258.2h0M769.1 236h0M790.6 259.7h0M788.2 255.8h0M793.2 262h0M772.4 249.4h0M774.8 238.2h0M777.3 243.2h0M786.5 255.2h0M792.8 256.9h0M777.6 248.9h0M780.9 246h0M772.6 255h0M786.6 256.3h0M774.2 250.1h0M765 239.3h0M798.3 260.4h0M790.9 259.1h0M785.8 246.4h0M777.1 243.1h0M768.6 236.8h0M791.7 254.2h0M781 255.1h0M790.4 258h0M784.1 250.9h0M792.1 251.9h0M780 243.9h0M763 236.4h0M791.5 258h0M775.1 240.3h0M773.2 243.1h0M793.1 264.5h0M778 244.6h0M777 239.5h0M786.1 246.5h0M773.7 252.1h0M772.6 245.4h0M778.5 253.4h0M798.1 265.3h0M783.3 261.4h0M772.1 250.3h0M783.5 247.8h0M797.4 256.6h0M785.8 262.9h0M779.6 246.4h0M781.1 242.6h0M769.7 249.9h0M768.8 242.3h0M780.3 250.4h0M783.5 244.2h0M774.7 252.7h0M772.3 241h0M791.2 260.1h0M796.4 255.9h0M791.4 255.7h0M789.1 257.7h0M780.2 240.2h0M768.8 237.8h0M787 244.7h0M773.9 249.5h0M774.1 239.4h0M769.5 232.1h0M769.1 241.3h0M771 236.3h0M785.4 258.8h0M781.8 251.4h0M776.4 239.4h0M779.2 247h0M835.1 277.4h0M834.1 278.3h0M848.1 280.2h0M841.9 275.1h0M841.3 281.1h0" stroke="#984ea3" stroke-width="1.7" stroke-linecap="square" fill="none"/>
<path d="M744.7 108.6h0M733.6 107.1h0M730.7 121.3h0M737.9 103.3h0M731.4 111.4h0M746.4 107.3h0M744.6 115.3h0M725.3 113h0M744.6 106.9h0M736.7 102.7h0M740.2 104.6h0M727.3 111.1h0M749.4 113.9h0M723.8 108.5h0M737.8 118.4h0M743.9 116.6h0M735.6 120.5h0M745 107.4h0M752.3 111.8h0M734.4 107.4h0M747.8 111.7h0M729.6 115.4h0M746.2 118.3h0M735 119.6h0M739.7 108.7h0M736.8 101.5h0M743.8 104.5h0M741.2 116.3h0M737 118.2h0M729.5 122.3h0M745.7 107.2h0" stroke="#ee7d22" stroke-width="1.7" stroke-linecap="square" fill="none"/>
<path d="M929 155.6h0M929 146.6h0M924.3 154.1h0M930.2 157.5h0M933 155.6h0M932.6 152.1h0M923.6 148.1h0M935.7 156.7h0M925 159.4h0M932.4 151.8h0M929.6 157.4h0M927.9 154.9h0M929.3 154.4h0M929.7 157.8h0M930.7 146.5h0M928.6 146.9h0M927.9 149.6h0M926.3 151.6h0M925.2 141.7h0M932.8 155.4h0M926.8 153.3h0M935.3 154h0" stroke="#6fa6d6" stroke-width="1.7" stroke-linecap="square" fill="none"/>
<path d="M923 210.9h0M930.8 224.7h0M923.4 216.2h0M929.2 222.3h0M927.4 211.9h0M932.7 216.3h0M920.1 214.5h0M932.5 220.4h0M929.8 217.9h0M931.6 217.5h0M931 217.5h0M927.4 214.1h0M919.6 214.6h0M931 219.6h0M922.3 213.9h0M924.7 209h0M931.7 212.7h0M921 216.5h0M933.2 218.3h0M940.9 233.9h0M940.6 229.8h0M940.1 230.8h0" stroke="#a3cd5c" stroke-width="1.7" stroke-linecap="square" fill="none"/>
<path d="M945.4 296.3h0M933.7 275.3h0M961.9 280.2h0M940 295.3h0M946.7 261.1h0M930.8 295.6h0M942.3 267.3h0M962.3 262.2h0M947.2 290.9h0M956.3 257.1h0M960.6 257.3h0M934.9 299.2h0M963.4 254.9h0M964.1 280.6h0M926.8 294.6h0M918.7 292.5h0M939.7 268.3h0M924.2 283.6h0M941 297.8h0M968.8 271.3h0M951.8 259.6h0M936.6 264.6h0M970.6 273.7h0M930.3 275.4h0M960.1 282.2h0M924.9 280.2h0M924.8 291h0M931.9 295.9h0M964.7 259.1h0M947.2 293.6h0M948.2 291h0M953.8 259.2h0M937.4 296.5h0M920.5 291.6h0M918.7 280.8h0M968.9 270.6h0M962.2 280.4h0M958.3 254.3h0M927.3 295.2h0M920.2 299h0M968.3 272.8h0M923.4 285.7h0M967.8 271.3h0M923.1 284.2h0M925 297h0M938 297.7h0M938.5 265.2h0M962.5 260.5h0M931 276.7h0M920.1 278.7h0M938 267.3h0M927.3 298.7h0M964.1 276.6h0M941.9 263.4h0M963.7 258.9h0M954.5 290.1h0M957.1 289.4h0M927 274.1h0M936.2 295.7h0M926.3 282.3h0M963.3 258.2h0M948.5 294.7h0M920.4 285.9h0M956.8 286.2h0M935.5 266h0M955.7 259.7h0M940.3 294.3h0M937.2 268.3h0M921.4 298h0M959.1 259.2h0M922.8 274.9h0M963.4 275.6h0M931 270.9h0M920.7 295.5h0M921.3 280h0" stroke="#d6d6d6" stroke-width="1.7" stroke-linecap="square" fill="none"/>
<path d="M966.8 243.3h0M946.3 242.9h0M940.1 244.5h0M967.3 244.8h0M951.3 229.2h0M946.8 236.1h0M959.2 230.1h0M947.8 236.7h0M950.7 231.4h0M950.8 230h0M949.8 247.8h0M946.5 240.6h0M964.2 234.2h0M968.4 230.3h0M959.6 229.3h0M955.5 249.4h0M961.7 225.4h0M962.1 228.8h0M946 250h0M974.1 235h0M944 248.2h0M960.9 231.9h0M955.8 255.8h0M941.3 248.2h0M958.2 230.7h0M958.2 228.1h0M944.3 236.9h0M953.1 247.8h0M955 230.7h0M958.2 253.5h0M969.7 233.2h0M972.4 229.5h0M948.7 245.3h0M949.4 235.5h0M968.3 237.6h0M950.6 228.7h0M966.7 249.5h0M940.6 241.4h0M960.9 249.4h0M971.5 239.3h0M970.5 240.9h0M944.5 243.6h0M967.2 243.5h0M960.3 232.3h0M952.2 250.6h0M963.7 251.6h0M964.4 254.2h0M956.8 250.8h0M954.3 252.4h0M972.8 243h0M953.8 256.6h0M949.6 256h0M956.3 251.4h0M962.2 256.8h0M945.1 250h0M957.4 256.3h0M961 249.6h0M961.6 253.3h0M948.4 262.5h0M963.2 256.5h0M942.1 258.5h0M953.8 247.8h0M946.6 252.1h0M953.1 260.2h0M949.9 261.9h0M949.2 255.1h0M948.4 254.9h0M956.8 257.1h0M950.8 258.1h0M947.7 258h0M945.3 250.5h0M952.7 258.4h0M954.1 247.6h0M954.7 248.1h0M955 251.9h0M954.2 251.2h0M950.8 258.5h0M950.5 262.1h0M954.2 249h0M957.3 253.6h0" stroke="#f3efa0" stroke-width="1.7" stroke-linecap="square" fill="none"/>
<path d="M962.1 253h0M990.8 236.6h0M986.1 238.2h0M967.1 272.6h0M979.6 279.6h0M981.8 239.5h0M979.6 278.1h0M967.2 269.7h0M966.8 248.6h0M965 253.3h0M974.8 288.5h0M965.5 280.2h0M967.3 247.2h0M997.7 249.8h0M999.4 242.6h0M964.4 246.6h0M984.3 237.9h0M993.8 263.9h0M984.4 275h0M992.8 244.5h0M968.3 263.5h0M986.4 237.2h0M967.9 239.8h0M961.5 259.5h0M998.4 254.8h0M964.7 248.5h0M976 237.3h0M966.8 270.2h0M961 257h0M983 277h0M995.2 254h0M967 277.5h0M966.7 264.5h0M987.3 237.1h0M962.9 250h0M964.2 248.2h0M977.3 238.7h0M991.4 239.1h0M996.7 261.4h0M968.7 242.2h0M987.7 270.6h0M988.2 273.3h0M966.2 243.1h0M966.2 249.8h0M995.3 247.7h0M981.5 236.8h0M971.2 243.3h0M961 248.1h0M982.9 276.5h0M989.8 240.5h0M968.4 235.2h0M991.5 265.6h0M993.1 263.6h0M994.2 238.9h0M996.2 257.1h0M966.9 275.8h0M984.4 240h0M999.2 256.7h0M979.5 235.7h0M992.4 237.1h0M969 245.4h0M988.7 270.7h0M985.5 274.2h0M997.4 251.2h0M977.8 237.6h0M966.7 245.4h0M997.4 241.1h0M996.4 262.5h0M1001.3 254.9h0M967.6 272.1h0M966.8 245.8h0M966.5 239.9h0M966.1 243.1h0M968.4 267.4h0" stroke="#6ec5a4" stroke-width="1.7" stroke-linecap="square" fill="none"/>
<path d="M949.4 292h0M930.6 297.5h0M957.5 280.7h0M962.5 280.1h0M922.6 298h0M962.7 296h0M969.9 285.2h0M916.2 302.8h0M928.8 327.4h0M938.8 293h0M958 277.1h0M921.1 326.5h0M914.6 303h0M929.5 323.4h0M954.5 289.8h0M915.8 318.2h0M931.7 298.4h0M961.4 296.3h0M925.8 323.3h0M943.4 295.1h0M960.5 277.1h0M952.1 294.3h0M942.6 309.7h0M962.8 277.3h0M927.2 299.9h0M967.7 285.7h0M957.8 297.8h0M935.6 321.5h0M940.2 319.8h0M970.6 289h0M929.4 319.7h0M923 294.9h0M965 282.2h0M965.5 286.1h0M912.1 309.6h0M911.9 311.2h0M956.6 302.3h0M951.9 295.5h0M941.9 315.7h0M953.1 291.3h0M962.3 291h0M934.7 320.4h0M934.6 319.6h0M958.9 284.7h0M945.2 292h0M936.7 321.4h0M933.7 322.9h0M953.1 302.3h0M916.1 307.9h0M934.2 319.9h0M911.2 308.5h0M915.2 313.9h0M959.6 280.1h0M927 295.8h0M915.5 301.5h0M918.7 302.4h0M968.7 283.6h0M967.5 284.8h0M931.6 321.5h0M942.6 296.2h0M938.1 293.9h0M934.4 318h0M923.5 323.1h0M965.9 289.5h0M966.4 297h0M958.2 284.5h0M933 299h0M947.7 288.5h0M954.1 303.3h0M956.7 289.4h0M934.8 320.1h0M950.5 305.6h0M938.6 317.9h0M914.2 312.7h0M964 293.2h0M966.4 291.2h0M959.4 285.2h0M926.3 300.1h0M927.1 301.4h0M914.7 301h0M911.1 311.4h0M956.4 286.1h0M934.3 321.8h0M953.3 289.6h0M942.2 313.4h0" stroke="#f6ae5e" stroke-width="1.7" stroke-linecap="square" fill="none"/>
<path d="M707.6 349.4h0M702.9 370.9h0M708.8 347.7h0M700.3 367.6h0M697.6 361.7h0M680.8 331.9h0M674.2 327.3h0M702.7 359h0M707 346.4h0M705.5 362.6h0M669.3 338.4h0M706.8 345.7h0M685.6 353.8h0M689.8 361.1h0M712.1 340.2h0M665.4 343h0M709.8 347.1h0M672.5 349.6h0M683.7 331.2h0M681.7 354.3h0M707.9 334.7h0M670.7 337.5h0M669.3 345.6h0M679.4 331.6h0M671.2 334.4h0M692.8 320.5h0M697.6 365.7h0M676.8 330.2h0M678.2 350.7h0M704.5 361.5h0M707.8 350.2h0M711.3 343.5h0M712.8 338.6h0M668.5 341.9h0M690.2 324.3h0M699.8 365.9h0M673.5 350.7h0M698.3 323.2h0M698.3 323.7h0M672.8 333.9h0M693.1 362.3h0M695.8 328.3h0M710.4 335.5h0M677.8 348.3h0M703.5 330.9h0M699.1 366.2h0M680.6 357h0M699 327.2h0M688.9 361.2h0M685.6 327.1h0M677.7 329h0M699.6 365.1h0M682.4 329.9h0M697.5 323.6h0M686.1 329.2h0M707.4 352.2h0M677.5 353.6h0M702.5 362.1h0M679.1 350.8h0M671.4 336.8h0M703.7 330h0M694.3 326.5h0M683.5 351.7h0M708.2 338.9h0M702.1 354.9h0M680.4 352.1h0M707.8 334.7h0" stroke="#f9d62e" stroke-width="1.7" stroke-linecap="square" fill="none"/>
<path d="M703.3 367.7h0M710.4 380.4h0M705.2 373.3h0M711.9 343.8h0M742.6 363.3h0M710.8 344.6h0M733.5 345.2h0M738.7 357h0M721.5 389.9h0M719.2 340.4h0M742.1 372.9h0M706.4 377.4h0M712.2 384.6h0M729.7 387.8h0M706.4 380h0M704.8 368.8h0M737.3 377.4h0M726.2 346.2h0M723.8 385.7h0M728 339.7h0M708.1 378h0M742 362.2h0M709.8 381.8h0M710.4 380.1h0M736 354.2h0M706.5 376.9h0M707.1 355.8h0M709.9 356.3h0M706.1 365.5h0M704 355.5h0M722.8 384.4h0M740.4 357.5h0M708.9 355.8h0M736.8 354.4h0M731.9 346.3h0M704.7 377.1h0M718.1 389h0M710.2 347.8h0M736.4 375.7h0M739.3 360h0M726.4 385.6h0M726.9 337.4h0M706.5 354.4h0M731.3 343.7h0M725.6 386.3h0M737.3 366h0M706.9 351.8h0M728.7 384.8h0M703.2 376.9h0M721.8 386.6h0M731.6 386.8h0M738.5 355.8h0M738.6 354.3h0M704.3 368h0M718.1 387.8h0M711.9 351.6h0M741.3 363.3h0M711.7 384.8h0M727.4 344.9h0M743.8 360.3h0M741.6 363.6h0M708.8 381.8h0M739.8 368.4h0M722.8 391.5h0M720.3 387.8h0M708.7 377.3h0M716.9 340.5h0M740.2 359.2h0M712.8 382.3h0M739 379.1h0M721 383.2h0M719.5 387.7h0M702 357.8h0M704.1 362.2h0M722.1 344.3h0M731.9 387.2h0M725.8 340.6h0M707.4 351.4h0M742.6 357.3h0M743 356.8h0M745.7 369.8h0M751 373.2h0M750.5 361.5h0M750.6 361.7h0M746.2 376.3h0M753 371.7h0M750.8 370.3h0M755.3 363.9h0M753.1 367.8h0M743.7 356.3h0M752.7 367.4h0M750.9 359.2h0M746.8 362.9h0M754.6 369.9h0M741.9 355.5h0M749.6 373.4h0M753.1 372.9h0M747.4 370.3h0M746.6 378h0M743.5 357.4h0M750.3 372.1h0M749.4 360.6h0M758.9 371.5h0M757.1 368.2h0M744.5 368.9h0M751.8 368.8h0M747.9 360h0M747.6 369.7h0M757.4 362.2h0M756.4 370.8h0M745.8 367.4h0M741.7 368.1h0M754.5 363.1h0M748.1 372.8h0M743.6 382.2h0M740.1 378.5h0M749.2 365.7h0M755.9 366.9h0M751.8 374.7h0M742.2 366.9h0M749.3 374.9h0M742.8 362.3h0M742.5 365.4h0M747.4 363h0M754.7 364.9h0M748.3 367.3h0M747.7 365.3h0M745.6 365.6h0M738.1 359.6h0M745.2 375h0M744.3 364.3h0M759.4 369h0M739.7 373.6h0M746.4 369.9h0M757.7 360.4h0M760.5 364.8h0M743.7 374.7h0M752.8 369.5h0M753.3 365.6h0M748.6 359h0M749.2 370.8h0M742.3 378.7h0M754.3 368.1h0M741.3 374.2h0M756.1 363h0M749.5 375.3h0M751.5 367.4h0M745.6 364.5h0M741.1 376.6h0M746.1 372.6h0M753 371.8h0M742 359.2h0M742.4 382.3h0M757.1 364.5h0M746.8 377.9h0M756.7 372.8h0M741.9 363.7h0M748.4 369.1h0M754.5 365.1h0M750.5 367.6h0M760 367.1h0M741.7 377.9h0M757.6 370.4h0M746.2 361.2h0M741.3 374h0M752.3 371.2h0M747.7 367.3h0M739.3 356.1h0M753.8 375h0M741.3 362.6h0" stroke="#a6501a" stroke-width="1.7" stroke-linecap="square" fill="none"/>
<path d="M799.1 361.6h0M795.5 351.9h0M789.2 341.5h0M792.4 342.6h0M771.4 370h0M796.4 370.1h0M798.2 357.3h0M757.3 358.6h0M784.5 346.1h0M796.2 374.5h0M772.6 370.1h0M793.7 380.2h0M787.9 341.5h0M759.3 364.3h0M767.5 366h0M799 361h0M784.5 378.7h0M756.1 350.1h0M771.6 344.2h0M754.2 350.4h0M788.9 341.7h0M760.9 348.3h0M772.3 369.5h0M791.9 379.1h0M799.6 353.4h0M765.6 367.9h0M762.5 346.1h0M757.8 351.6h0M796.1 343.3h0M792.9 378.5h0M795.1 379.4h0M756.9 359.8h0M783 341.3h0M771.8 345.3h0M796.8 341.2h0M800.4 363.5h0M796.5 368.9h0M782.9 340.8h0M775.7 372.1h0M771.9 372.8h0M791.9 346.6h0M794.2 380.3h0M791.6 379.9h0M796.7 344.7h0M772.7 372.3h0M778.8 377.7h0M795.9 352.1h0M790.5 344.1h0M798.9 364h0M758.2 360.9h0M766 345.1h0M793.9 376.5h0M776.9 378.6h0M797.3 348h0M763.5 347.1h0M764.1 349h0M783.3 374h0M769.3 364.7h0M762.4 361.6h0M796.2 352.1h0M769 344.7h0M790.4 345.1h0M802.2 360.9h0M770.9 368.6h0M761.1 364.7h0M783.3 340.7h0M783.7 376.2h0M788.7 377.7h0M777.5 374.6h0M780.4 343.5h0M786.5 338.4h0M761.5 366.3h0M749.8 381.9h0M753.8 357h0M756.3 364.6h0M750.2 359.1h0M756.4 367.4h0M747.4 368.2h0M752.7 378.7h0M747.7 377h0M753 358.8h0M748 366.4h0M761.2 361.1h0M756 367.9h0M750.1 365.3h0M747.3 356.5h0M747.3 369.7h0M751.5 367.1h0M747.8 359h0M753.8 375.4h0M754.1 378.9h0M762.3 370.1h0M748.2 365.3h0M751.2 364h0M748.7 364.8h0M745.6 365.6h0M752.3 374.5h0M757.2 370.3h0M755.6 362.5h0M748 361.6h0M748.9 364.1h0M753.6 363h0M753.5 356.4h0M753.1 358.9h0M754.8 368.9h0M749 358.4h0M754.2 371.7h0M758.6 362.4h0M762.3 369.2h0M742 354.1h0M761.8 370.3h0M749.6 358.6h0M750.1 378.3h0M753.1 373.1h0M757.5 357.1h0M743.6 357.6h0M753.1 371.6h0M754.7 355.3h0M758.9 365h0M750.4 359.2h0M748.4 361.6h0M748.1 377.9h0M750.6 370.5h0M754.5 360h0M754.7 360.7h0M756.7 367.2h0M758.4 359.5h0M746.5 352h0M747.9 376.4h0M750.4 362.5h0M748.1 361.3h0M760.8 367.8h0M762.1 374.5h0M747.8 371.3h0M759.6 367.4h0M745.1 355.9h0M757.7 369.5h0M758.7 367.7h0M737.8 345.1h0M735.7 345.2h0" stroke="#377eb8" stroke-width="1.7" stroke-linecap="square" fill="none"/>
<path d="M844.1 357.6h0M848.6 357.2h0M860.4 345.2h0M849.4 349h0M861 344.5h0M856.2 343.4h0M845.5 353.3h0M845 352.6h0M855.1 351.9h0M847.4 355.1h0M851.8 350.4h0M853.7 353h0M849.6 346.6h0M853.4 346.6h0M852 348.7h0M845.9 357.3h0M850.2 349.9h0M850.3 359.2h0M859.9 348.4h0M853.5 348.9h0M857.3 350.8h0M849.8 351.2h0M853.7 354.1h0M860 345.1h0M854.3 353.5h0M802.5 374.4h0M806.4 373h0M817 369.3h0M813.3 368.2h0" stroke="#b56bb3" stroke-width="1.7" stroke-linecap="square" fill="none"/>
<path d="M827.6 377h0M833.8 384.2h0M821.3 378.9h0M835.8 382.4h0M835.7 400.4h0M839.8 386.4h0M832.4 383.9h0M825.7 386.1h0M831.7 387.2h0M818.9 377.3h0M829.3 394.9h0M824.7 390h0M833.8 382.9h0M835.6 388.7h0M838.4 396.4h0M840.3 392.1h0M832.3 383.6h0M832 385.9h0M832.2 395.9h0M820.9 378.9h0M827.2 375.9h0M823.4 383.2h0M833.4 388.6h0M835.1 388.2h0M825.9 380.8h0M821.5 382.3h0M818.7 378.4h0M819.6 380.1h0M833.2 393.7h0M841.9 409.4h0M836.6 409h0M839 405.9h0M840.9 403.8h0M838.5 405.7h0M841.2 413.4h0M838.3 400.4h0M837.5 406.3h0M838.3 404.5h0M842.2 414h0M839.2 408.5h0M840.3 412.1h0M838.8 402.7h0M836.7 402.9h0M840.3 407.3h0M839.1 409.7h0M837 402.7h0M836.8 405.2h0M840.6 410.3h0" stroke="#e3c08a" stroke-width="1.7" stroke-linecap="square" fill="none"/>
<path d="M845.4 439.4h0M848.6 447h0M841.3 443.4h0M852.9 440.1h0M840.8 436.6h0M844.3 438.7h0M836.3 453.6h0M841.6 440.9h0M844.2 435.8h0M848 438.7h0M843.9 452.8h0M838 452.4h0M845.1 438.6h0M851.9 441.3h0M848.8 449.9h0M837.6 451.1h0M848.2 451.5h0M841.3 452.2h0M845.6 450.1h0M848.7 451.8h0M855.2 448.1h0M853.3 442h0M834.2 444.5h0M849.1 447.5h0M838.1 441.9h0M846 444.7h0" stroke="#f7e56b" stroke-width="1.7" stroke-linecap="square" fill="none"/>
<g filter="url(#spd)"><polygon points="650,223.3 651.8,214.4 657,206.6 665.6,199.8 675.1,196.3 682.9,197.2 693,200.5 701.9,204.1 703.7,213.3 702,223.5 698.4,232.5 689.3,234.3 679.3,233.5 669.4,232.7 659.3,231.8 652.9,229.1" fill="#9b9b9b"/><polygon points="699.5,204.5 706.8,197.2 718.7,196.4 731.6,193.9 743.6,188.8 750.6,192.8 750.1,205.2 748.4,216.9 745.5,225.6 737.7,231.6 729.4,236.6 722.2,240.2 715.1,236.7 707,235.1 699.6,232.4 697.8,223.2 699.5,213.2" fill="#6d6d6d"/><polygon points="732.8,194.2 742.5,184.5 747.6,176.8 759.7,172.5 771.2,170.9 781.3,166.6 789.7,169.4 795.1,178.5 793.3,187.6 787.4,194.3 783.2,201 776.8,206.5 769.9,204.5 766.5,199.5 761.2,197.2 755,194.9 748.6,196.5 741.7,196.5" fill="#17996f"/><polygon points="794.4,161.9 803.8,156.2 812.3,152 818.8,151 825.1,156.5 831.1,164.9 835.3,173.4 836.2,185.4 834.5,197.3 830.8,203.6 823.7,206.7 818.3,199.3 813.2,194.3 809.8,185.8 805.7,177.7 803.4,172.9 798.5,168" fill="#4cb04a"/><polygon points="749.5,219.5 758.5,210.5 769.8,206.7 778.8,208.7 776.9,217.8 772.8,226 771.4,235.5 763.5,240.4 755.7,233.9 751.4,227.8" fill="#e6298c"/><polygon points="799.8,176 807.7,174.8 811.5,183.3 812.3,193.3 814.8,200 813.8,207.6 805.9,210.6 799.1,205.8 797.3,196.8 799.8,188.4" fill="#e8261c"/><polygon points="811.4,198.7 824,199.6 833.4,195.8 834.7,203.4 824.5,208 811.4,208.4" fill="#e8261c"/><polygon points="799.8,207.9 809.8,207.9 809.8,227.6 800.7,228.7" fill="#e8261c"/><polygon points="798.5,248.5 807.1,245.6 814,250.7 822,251.5 834.2,255 838.2,266.2 843,274.2 837.8,282.2 828.4,285 819,284 809.4,281.1 800.9,270.9 795.2,263.3 796.6,254.1" fill="#984ea3"/><polygon points="799.9,226 810.5,226 812.3,237.9 811.4,248.8 800.9,252 799,238" fill="#984ea3"/><polygon points="944.8,259.8 955.4,258.1 963.4,256.1 967.2,265.7 971,273.4 965.2,279.3 958.3,284.4 953.1,291.4 940.6,296.7 930,298.5 920.1,298.5 919.1,288.4 923.6,277.5 930.8,270.4 937.7,265.2" fill="#d6d6d6"/><polygon points="938.5,242 946.3,234.2 953.6,229.7 964.4,228.8 975.3,231.8 974.1,237.6 970.5,241.2 967.1,248 963.4,253.6 956.8,255.8 953.1,249.2 948.9,247.8 944.1,249.8" fill="#f3efa0"/><polygon points="968.5,237.7 976.2,234.8 987,236.6 996.2,239.4 999.7,247.1 999.1,256.3 994.6,265.3 987.6,273.2 980.7,279.2 974.4,285.5 967.9,286.6 964.7,280.2 966.4,271.5 963.9,264.9 961.2,255.9 963.9,246.8" fill="#6ec5a4"/><polygon points="910.4,306.5 913.5,301.4 920.9,297.7 931.3,296.8 941.5,293.4 951.5,289.2 957.2,282.7 960.3,276.5 967,279.9 970.1,287 965.3,294.6 958.3,301.6 949.6,308.5 941.1,315.4 934.1,322.3 926.7,327 919.6,325 914.1,316.7" fill="#f6ae5e"/><polygon points="668.5,333.9 672.5,329.9 680.4,329.2 687.9,326.1 696,324.1 703.1,326.9 707.2,332.4 709.9,337.8 710.6,344.7 707.3,351.4 704.8,357.6 703.5,364.2 699.9,367.8 693.9,363.4 687.6,359.6 679.9,354.5 673.3,349.2 669.9,342.4" fill="#f9d62e"/><polygon points="709.9,341.4 714.8,336.5 721.8,340.7 729.5,342 736.4,346.2 739.1,352.9 741.7,359.3 744.4,366.1 741.7,372.7 741.7,381.9 737.3,386.3 729.2,389 721.1,388.4 713.1,385 706.4,379.7 702.3,372.9 700.9,365.9 704.9,359.2 707.5,352.9 709.9,348" fill="#a6501a"/><polygon points="756.1,349.8 764.1,345.9 771.8,342.6 779.6,340.7 787.7,340 794.7,342.8 799.5,349 800.9,357.2 799.6,365.2 797.2,371.1 799.2,375.3 795,379.5 787.2,379.5 781,376.4 775.5,377.8 771.4,372.2 766.5,369.8 761.1,365.8 757.2,360.5 752.8,354.7" fill="#377eb8"/></g>
<g filter="url(#spg)"><polygon points="726.1,107.4 729.9,104.3 738.7,103.4 746.1,105.2 748.5,110.3 747.2,116 743.3,120.8 735,120.8 728.6,118 726.1,112.4" fill="#ee7d22"/><polygon points="923.1,149.9 925.3,144.2 930.1,145.6 931.9,151.1 936.2,155.5 932.5,158 928.3,163.2 924.1,159.1 925.2,155.8 923.1,154.2" fill="#6fa6d6"/><polygon points="919.8,213.5 924.6,207.5 928.4,211.3 930.2,215.7 933.1,219.6 930.4,225.1 924.7,221.6 921.5,217.9" fill="#a3cd5c"/><polygon points="840.4,354.3 847.8,349.1 855.6,344.6 860.9,342.8 862,347.5 855.6,353.2 849,356.5 842.9,358.1" fill="#b56bb3"/><polygon points="817.5,381.1 824.2,376.1 830.1,378.3 834.3,381.9 837.1,388.7 837.8,394.6 833.2,398.3 828.6,394.5 824.7,391.2 822,387.2" fill="#e3c08a"/><polygon points="835.8,395.3 838.9,401.2 840.9,406.4 842.2,411.9 839.9,417.7 837.1,411 835.6,404.6 833.8,399.1" fill="#e3c08a"/><polygon points="837,446.1 839.8,439.1 844.2,435.4 849.9,435.4 853,440.8 853.4,448 849.2,452.5 843.3,453.9 837.8,451.6" fill="#f7e56b"/></g>
<line x1="745.2" y1="104.7" x2="737.8" y2="112.1" stroke="#231f20" stroke-width="1.2"/>
<text x="737.5" y="102.5" text-anchor="start">14</text>
<line x1="775.1" y1="158.2" x2="775.1" y2="182" stroke="#231f20" stroke-width="1.2"/>
<text x="774.8" y="153.2" text-anchor="middle">10</text>
<line x1="815.1" y1="180" x2="845.6" y2="180" stroke="#231f20" stroke-width="1.2"/>
<text x="850.5" y="185.3" text-anchor="start">6</text>
<line x1="805.3" y1="208.4" x2="837.3" y2="208.4" stroke="#231f20" stroke-width="1.2"/>
<text x="839.8" y="212.5" text-anchor="start">13</text>
<line x1="648.9" y1="210.8" x2="680.2" y2="210.8" stroke="#231f20" stroke-width="1.2"/>
<text x="637.4" y="215.3" text-anchor="start">2</text>
<line x1="711.8" y1="226.5" x2="711.8" y2="270.9" stroke="#231f20" stroke-width="1.2"/>
<text x="712" y="286.5" text-anchor="middle">1</text>
<line x1="765.8" y1="219.9" x2="765.8" y2="272.5" stroke="#231f20" stroke-width="1.2"/>
<text x="764.1" y="288.2" text-anchor="middle">11</text>
<line x1="819.2" y1="257.7" x2="838.2" y2="257.7" stroke="#231f20" stroke-width="1.2"/>
<text x="841.5" y="261" text-anchor="start">5</text>
<line x1="935.1" y1="149.6" x2="929" y2="154.1" stroke="#231f20" stroke-width="1.2"/>
<text x="932.5" y="149.6" text-anchor="start">18</text>
<line x1="927.7" y1="200.5" x2="927.7" y2="215.5" stroke="#231f20" stroke-width="1.2"/>
<text x="927.7" y="197.4" text-anchor="middle">19</text>
<line x1="958.6" y1="215.1" x2="958.6" y2="232.7" stroke="#231f20" stroke-width="1.2"/>
<text x="957.1" y="211.2" text-anchor="middle">15</text>
<line x1="982.9" y1="255.6" x2="1004.7" y2="255.6" stroke="#231f20" stroke-width="1.2"/>
<text x="1007.3" y="261.4" text-anchor="start">8</text>
<line x1="916.5" y1="268.8" x2="951.9" y2="268.8" stroke="#231f20" stroke-width="1.2"/>
<text x="894.6" y="272.8" text-anchor="start">12</text>
<line x1="926.5" y1="313.5" x2="926.5" y2="333.3" stroke="#231f20" stroke-width="1.2"/>
<text x="927.7" y="349.7" text-anchor="middle">7</text>
<line x1="665.4" y1="342" x2="698.7" y2="342" stroke="#231f20" stroke-width="1.2"/>
<text x="652.3" y="346.8" text-anchor="start">9</text>
<line x1="773.1" y1="336.9" x2="773.1" y2="364.8" stroke="#231f20" stroke-width="1.2"/>
<text x="772.6" y="331.5" text-anchor="middle">3</text>
<line x1="715.9" y1="376.3" x2="715.9" y2="395.6" stroke="#231f20" stroke-width="1.2"/>
<text x="716.3" y="411.9" text-anchor="middle">4</text>
<line x1="849.2" y1="352.4" x2="866.1" y2="352.4" stroke="#231f20" stroke-width="1.2"/>
<text x="870.8" y="357.9" text-anchor="start">20</text>
<line x1="830.7" y1="385.2" x2="854.6" y2="385.2" stroke="#231f20" stroke-width="1.2"/>
<text x="858.1" y="389.6" text-anchor="start">17</text>
<line x1="845.3" y1="444.3" x2="853.4" y2="449.4" stroke="#231f20" stroke-width="1.2"/>
<text x="857.7" y="453.2" text-anchor="start">16</text>
<path d="M948.4 420.1V459.2H991.3" fill="none" stroke="#000" stroke-width="2.2"/>
<path d="M948.4 414.1l-5 14l5 -3.2l5 3.2zM997.3 459.2l-14 -5l3.2 5l-3.2 5z" fill="#000"/>
<text text-anchor="middle" transform="translate(937.9 440.6) rotate(-90)">UMAP2</text>
<text x="944.6" y="479.8">UMAP1</text>
<text x="961.5" y="499.5" text-anchor="middle">12,512 cells</text>
<text transform="translate(7.1 514.3) scale(1.08 1)" font-size="31.5" font-weight="bold" stroke="#231f20" stroke-width="1" stroke-linejoin="round">d</text>
<path d="M75.2 648.8h0M104.5 644.3h0M61.2 629.6h0M101.6 631.9h0M60.2 638.5h0M63.7 648.2h0M70.1 626.9h0M87.4 651.5h0M71.8 618.2h0M65.1 651.1h0M70.1 646.3h0M94.8 649.9h0M103.3 630.2h0M73.5 645.1h0M65.4 628.4h0M76.7 616.1h0M85.2 643.9h0M78.5 649.3h0M102.5 621.9h0M61 630.2h0M82.8 653.6h0M59.6 646.6h0M86.5 616.3h0M98.4 623.3h0M92.2 622.3h0M99.2 643.4h0M84.2 614.1h0M59.1 636.9h0M85.5 649h0M79.4 616.9h0M95 645.1h0M65.5 646.9h0M91.3 649.2h0M101.3 631.7h0M70.6 648.6h0M60.5 636.7h0M98.5 623.5h0M101 621h0M82.5 614.7h0M59.9 628.7h0M101.6 639.2h0M88.7 618.5h0M87 652.3h0M102.9 634.4h0M59.7 630h0M92.2 652.5h0M88.8 617.3h0M74.2 622h0M81.6 617.1h0M76.5 618.5h0M78.5 649.9h0M97.8 647.7h0M83 647.2h0M58.8 644.4h0M102 644h0M74.3 648.4h0M93.3 648.9h0M93.1 618.2h0M94 651.2h0M104 635.5h0M59.2 636.5h0M60.7 647.2h0M91 618.4h0M101.1 644.5h0M100.6 643.7h0M92.3 651.5h0M77.3 616h0M66.9 647.7h0M88.8 655.1h0M76.2 619.1h0M130.4 650.4h0M134.3 610.1h0M110.8 653.1h0M127.5 657.1h0M104.2 650.1h0M103 618.6h0M126 613.4h0M105.2 623.2h0M114.8 648.7h0M140.6 622h0M142.8 617.3h0M108.6 617.5h0M120 653.7h0M130.9 611.1h0M117.4 655h0M139.1 612.3h0M116.8 618.1h0M103.6 617.3h0M142.6 636.6h0M126.1 651.7h0M109 619.2h0M145.7 629h0M99.8 624.8h0M142.5 626.3h0M99.5 630.8h0M143.2 622.6h0M114.8 621.3h0M97.6 631h0M140.2 612.6h0M103.2 643.6h0M101.2 626.8h0M128.4 651.6h0M136.2 641.1h0M105.1 620.4h0M130 648.6h0M105.2 646.4h0M143 626.2h0M132.4 646.3h0M141.8 627.4h0M140.1 627h0M129.7 610.9h0M141.8 618.6h0M107.1 616.5h0M101.4 628.8h0M122.5 613.1h0M114.2 652.3h0M106.8 620.5h0M135.4 611.8h0M122.1 654.7h0M123.5 653.8h0M142.6 640.9h0M143.9 623.1h0M125.1 649.7h0M143.9 624h0M102.4 645.2h0M117.7 616.4h0M102.6 621.7h0M116.5 651.6h0M110 650.4h0M98.9 629.4h0M99.8 648.5h0M136.7 646.2h0M102.2 622.5h0M106.9 620.5h0M121.1 657.3h0M118.2 653.4h0M115.1 616.7h0M139.7 613.2h0M142.1 635.7h0M140.9 638.4h0M99.3 647.7h0M99.9 632.8h0M99.8 630.5h0M110.3 617.5h0M103.9 647.9h0M123.2 652.5h0M144.4 613.5h0M99.6 622.5h0M139.2 611.2h0M124.5 651.5h0M141.9 612.1h0M144.8 640.9h0M135.4 652.8h0M135.1 647.8h0M144.9 614.8h0M126.1 611.9h0M142.9 608.1h0M142.3 617.5h0M147.1 628.1h0M129.6 654.9h0M138 650.6h0M146.5 626.6h0M147.3 612.9h0M135.6 641.1h0M132.4 655.1h0M133.3 652.1h0M139.4 641.7h0M134.1 611.2h0M137.6 651.4h0M136.8 610.6h0M144.6 615.5h0M147.7 642.7h0M140.1 636.3h0M145 613.7h0M146.5 619.7h0M131.8 653.2h0M134.8 613.3h0M143.6 642.4h0M128 653h0M141.7 625.6h0M125.9 655h0M131.6 652h0M121.6 660.6h0M139.6 649.4h0M145.4 639.5h0M131.6 649.4h0M142.5 607.9h0M132.8 612.5h0M142.4 613.1h0M137.4 607.4h0M142.8 640.3h0M139.1 637.6h0M143.7 637.3h0M135.8 652.4h0M123.5 654.7h0M130 642h0M145.6 616.6h0M132.9 645.1h0M134.6 655.2h0M141.4 620.3h0M146.7 610.6h0M133.9 649.7h0M121 611h0M125 651.5h0M133.4 611.1h0M125.3 660.3h0M140.2 620.4h0M131.1 647.6h0M140 611.9h0M141 647.2h0M141.5 618.2h0M135.5 645h0M139.3 636.9h0M139.2 611.4h0M142.1 617.8h0M127.2 612.2h0M144.1 636h0M148.6 619.2h0M139.8 645.1h0M131.2 647.8h0M140.3 607.6h0M139.1 616.9h0M135.5 645.3h0M141 637.3h0M138.4 635.9h0M132.8 610.9h0M142.3 615.3h0M143.3 631.3h0M129.6 657.2h0M135.3 650.7h0M136.4 606.7h0M144.9 631.3h0M139.2 610.6h0M141.6 609.5h0M138.2 631.6h0M136 651.8h0M148.2 631.2h0M133.2 611.7h0M143.3 629.7h0M152.6 614.4h0M130.4 658.8h0M143.4 619.8h0M134.1 649.6h0M121.3 657.4h0M142 631.5h0M139.5 645.1h0M135.3 640.6h0M142.6 639.5h0M140 642.4h0M141.8 644.2h0M142.4 619.4h0M127.5 649.4h0M141.5 642.9h0M146.6 624.8h0M132.8 610.9h0M138.4 610h0M134.4 648h0M144.1 625.9h0M133.7 649h0M147.3 630.9h0M130.9 652.4h0M133.8 610.7h0M125.1 655.8h0M127.7 647.3h0M134.4 607.6h0M136.1 644.8h0M144.8 632.1h0M149.8 633h0M140.3 637.8h0M129.8 650.6h0M141.3 626.9h0M135.3 655.4h0M143.3 613.8h0M134.3 651h0M142.1 617.3h0M145.1 631.7h0M136.6 648.1h0M145 630.7h0M137 655.4h0M141.6 638.6h0M117.6 659.4h0M124.5 657h0M141 639.9h0M144.1 644.4h0M141.2 624.3h0M133.2 655.1h0M142.2 614.4h0M148.1 637.8h0M145.9 612.3h0M140.2 632h0M137.1 617.1h0M145.5 618.4h0M133 653.1h0M138.3 607.6h0M145.8 615.9h0M141.9 633.6h0M141.5 636.4h0M145.3 616.9h0M140.1 633.4h0M146.1 615h0M141.4 608.3h0M141 649.7h0M133.2 605.3h0M130.8 649.4h0M130.8 650.5h0M123.3 656.2h0M141.5 646.1h0M148.7 599.6h0M161.9 593.7h0M183 600.5h0M185.6 599.9h0M186.6 599.8h0M180.7 603.1h0M182.4 603.6h0M142.1 613.4h0M153 596.4h0M138.6 614.4h0M143.2 613h0M177.8 597.1h0M131.5 612.4h0M132.3 614.2h0M138 604.3h0M171.6 586.5h0M156.8 590.6h0M148.9 593h0M172.9 589.2h0M146.5 615.2h0M178.7 602.6h0M135.3 607.5h0M150.5 592.8h0M138.4 607.4h0M160.6 621.1h0M171.6 590.2h0M160.1 595.1h0M135.1 613.9h0M150.5 594.8h0M157.4 593.5h0M159.7 619.9h0M136.9 611.8h0M177.1 611.7h0M149.8 596.8h0M136.7 609.2h0M168 593.9h0M164.4 621.7h0M146.7 596.3h0M138 613.5h0M175 588.8h0M173.8 617.1h0M132.6 609.3h0M163.2 621.9h0M145.1 613.1h0M158.8 615.9h0M180.2 590h0M181.1 595.8h0M158 596.2h0M175.2 589.8h0M171.8 619.8h0M155.4 616h0M177.8 611.2h0M163.3 590h0M172.6 588.1h0M177.2 611.3h0M134 605.4h0M180 591.2h0M153.3 613h0M158.3 616.2h0M172.9 614.5h0M179.2 595h0M139.1 605.1h0M177.8 601.3h0M173.4 614.9h0M151.3 613.4h0M174.1 583.4h0M140.4 597.6h0M164.5 592.7h0M159.1 592.8h0M179.9 606.6h0M180.2 605.3h0M164.9 591.6h0M131 613.8h0M135.5 607.9h0M182.7 599.4h0M185.5 612.5h0M177.5 611.7h0M179.9 609.3h0M190.9 594h0M185.7 589.4h0M180.5 595.5h0M179.1 603.8h0M178.7 593.5h0M177.1 610.3h0M181.7 605.9h0M181.1 617.1h0M178.8 608.4h0M173.5 589.5h0M189.9 590h0M178.6 591.5h0M184.1 607.3h0M188.1 593h0M173.4 589.4h0M172.8 618.9h0M179.2 586.2h0M191.1 591h0M187.8 609.5h0M188.9 590.7h0M178.1 615.5h0M186 605.3h0M181.7 589.2h0M186.1 618.2h0M188.2 583h0M178.4 614h0M185.7 599.1h0M187.1 586.1h0M184.6 592.5h0M183.9 586.9h0M184.2 587.3h0M179.4 591.8h0M175 619.1h0M185.4 610h0M189.3 603h0M185.9 609h0M190.6 598.5h0M179.1 617.7h0M179 612.6h0M188 595.3h0M192.8 594.8h0M182.2 595.1h0M184.7 585.4h0M175.2 616.7h0M183.6 613.5h0M178.3 592h0M182.8 589.6h0M189.2 597.7h0M181.1 585.3h0M181.9 592.8h0M184.7 587.7h0M183.8 605.7h0M187.4 595.6h0M181.8 587h0M180.9 588.1h0M177.3 618h0M176.7 616h0M185.1 591.4h0M184.3 610.6h0M189.1 595.8h0M183.2 593.8h0M187 602.4h0M188.5 587.6h0M185.4 595.5h0M191.5 589.2h0M181 616.7h0M188.9 602.7h0M182.2 579h0M179.9 617.4h0M177.2 588.7h0M183.7 606.4h0M180.6 585h0M178.4 602.2h0M184.8 594.6h0M191.3 599.4h0M188.3 604.3h0M187.7 600.6h0M175.3 586.7h0M185.9 608.7h0M184.6 593.7h0M184.9 593.9h0M184.5 594h0M189.9 598.6h0M188.6 599h0M184.5 602.6h0M188.2 593h0M178.2 606.1h0M173.9 590.6h0M190.2 595.1h0M189.5 590.1h0M174.9 613.3h0M186.6 609.5h0M187.8 598.7h0M190.9 586.8h0M181.3 588.1h0M178.2 595.8h0M181.8 593.8h0M179.6 592.8h0M180.5 614.8h0M182.5 593.2h0M182.9 615.2h0M177.9 584.5h0M187.4 593.9h0M183.5 591.3h0M181.5 583.4h0M187.8 589.1h0M181.7 595h0M172.6 595.8h0M180.3 598.4h0M185.6 584.3h0M186 607.5h0M176.2 610h0M183.3 595.9h0M178.3 598.1h0M181 599.8h0M182.3 592.1h0M182.2 610.3h0M186.8 591.6h0M177.3 620.3h0M189.5 586.1h0M175.4 617.1h0M184.8 619.9h0M187.5 601.7h0M180 590.8h0M181.7 611.1h0M179.7 596h0M183.5 601.7h0M176.8 587h0M174.2 613h0M176.2 589.9h0M178.3 594.7h0M190.7 588.6h0M187 599.6h0M183 612.2h0M180.6 585.7h0M183.9 604h0M178.4 612.7h0M188 594.5h0M177.7 608h0M187 595.4h0M184 595h0M178.1 597.6h0M181.4 600.6h0M178.4 589.3h0M175 588.6h0M183.5 591.6h0M177.9 619.4h0M185.9 590.9h0M176.4 608.9h0M182.3 601h0M183.6 607.3h0M183.4 612h0M185.1 596.8h0M182.7 593.4h0M179.3 611.9h0M183.5 607.3h0M177.5 589.5h0M180.7 604.3h0M187.1 600.6h0M182.8 594.2h0M187.4 605.6h0M181.9 602h0M187.8 595h0M175.8 615.9h0M181.7 589.8h0M190.6 610.5h0M175.1 588h0M189.9 594.3h0M189.9 606.9h0M126.7 610.1h0M131.2 608.3h0M130 608.9h0M140 610.1h0M133 609h0M128.6 611.7h0M129.7 610.8h0M124.9 614.5h0M137 614.4h0M137.3 611.4h0M125.7 610.6h0M126.5 615.4h0M118.1 610.7h0M138.2 604.3h0M138.7 618.8h0M134.2 620.9h0M138.6 615.6h0M132.3 608h0M130.3 619.7h0M128.3 611.6h0M128.2 612.6h0M131.4 605.6h0M142.3 610.2h0M128.8 615.3h0M140.4 616.8h0M131.6 604.2h0M124.5 609.7h0M125.7 619.3h0M123.7 616.6h0M127 613.7h0M132.5 603.2h0M139.6 615.4h0M140.5 611.2h0M135.9 609.1h0M128.3 608.1h0M133.3 615.7h0M142.1 614.9h0M133 608.3h0M121.8 617.2h0M127.7 616.5h0M131.7 619.8h0M142.4 615.6h0M126.7 611h0M119.4 615.4h0M136 609.9h0M121.2 615.2h0M134 621.8h0M120.1 614.2h0M134.2 606.3h0M131.9 615.1h0M130.7 615.5h0M139.9 614.6h0M132.7 613.5h0M137.2 615.6h0M124.1 609.8h0M131.5 617.6h0M128.7 613.5h0M135.6 616.5h0M131.9 609.8h0M138.7 610.3h0M138.5 617.3h0M128.5 616.4h0M133.2 612.4h0M136.9 603.6h0M120.5 613h0M129.2 615.9h0M132.2 618.3h0M127.5 614.7h0M141.6 614h0M121.2 617.1h0M129.6 608.6h0M140.1 612.2h0M142 612.5h0M135.4 618.4h0M124.1 614.2h0M137.7 612.6h0M136.8 612.3h0M136.3 616.3h0M130.7 618.3h0M129 615.1h0M125.5 612.5h0M121.6 617.4h0M132.1 616.7h0M138.4 602.7h0M130.7 614.2h0M124.5 612.3h0M139.3 616.5h0M138.6 607.2h0M135.9 606.3h0M135.5 615h0M138.6 614.2h0M136.4 621.4h0M216.5 600.2h0M184.5 585.6h0M181.9 581.2h0M213.2 590.7h0M191 578.1h0M199.3 574.5h0M216.8 617.9h0M194.5 603.2h0M188.7 589.3h0M188.9 578.3h0M218.9 617.1h0M197.8 575.2h0M216.3 597.4h0M217.1 602.2h0M193.4 592.9h0M217 609.1h0M202.7 572.3h0M218.2 605h0M217.1 591.7h0M192.2 575.5h0M193.7 580.9h0M209.4 620.6h0M214.9 588.6h0M217.2 588.2h0M193.9 577.2h0M189.5 587.5h0M194 606.5h0M192.4 578.2h0M217.6 609h0M188.8 591.7h0M202.9 572.2h0M189.5 588.9h0M218.2 590.9h0M207.9 586.9h0M209.4 624.1h0M212.8 583.9h0M214.1 581.5h0M192.9 599.2h0M221.5 606.8h0M220.9 593.2h0M197.3 600.2h0M217.7 604.6h0M214.6 595.2h0M214.8 612.5h0M216.9 616.2h0M195.5 603.4h0M205.9 618.3h0M192.2 593.6h0M197.8 575.1h0M216.6 610.7h0M202.3 610.9h0M215.2 622.5h0M202.2 610.5h0M204.9 616.7h0M201.3 604h0M199.6 607.7h0M214.2 618.8h0M215.6 610.5h0M199.8 581.3h0M183.5 582.1h0M219 599.6h0M192.8 589.4h0M190.8 582h0M188.9 578.6h0M203.4 578h0M219.9 605.1h0M195 602.7h0M194.5 594h0M218.5 596.4h0M212.1 621.8h0M158.8 627.5h0M160.1 625.8h0M157.9 629.5h0M149.2 649.7h0M153.3 647.6h0M152 633.6h0M146.2 632.7h0M163.2 625h0M147.5 631.1h0M149.5 639.1h0M162.7 626.1h0M150.5 648.1h0M165.3 625.6h0M167.2 628h0M161.6 648.1h0M158.6 658.4h0M151.7 650.4h0M165.1 644.3h0M165.8 640.3h0M146.9 639.5h0M155.6 628.9h0M163.1 641.2h0M149.1 628.9h0M163 641.1h0M142.9 644.2h0M162.4 627.5h0M162.5 643.1h0M167 630.8h0M158.3 630.1h0M153.2 650.5h0M165.2 631.2h0M171.2 631.7h0M162.9 644.5h0M145 637.6h0M148.8 633.2h0M160.1 656.8h0M156.8 656.8h0M165.3 640.5h0M157.2 629.9h0M157.9 656.6h0M166.3 634.7h0M161.9 642.3h0M146.3 638.8h0M150.6 643.3h0M135 638.7h0M141.3 645.7h0M171 628h0M137.8 641h0M148.8 632h0M143.7 648h0M152 657.9h0M170.6 633.5h0M143.2 663.3h0M145.8 661.2h0M146.7 641.5h0M162.2 628.3h0M146.1 653.7h0M161.8 642.3h0M156.8 654.7h0M166.1 639.9h0M140.3 652.4h0M160.7 640.3h0M126.5 656.7h0M164.9 629.3h0M156.6 641.4h0M137 641.8h0M140.3 645.1h0M139.1 637.8h0M153.5 654.9h0M149.7 642.5h0M165.9 665.1h0M150.9 646h0M136.5 659.2h0M160.5 645h0M147 645.9h0M163.4 656.5h0M154.8 658.4h0M151.8 658.7h0M143.6 640.7h0M164 636.1h0M175.6 628.9h0M163.4 632.1h0M154.9 663.1h0M144.8 664.5h0M147.3 661.9h0M170.4 637.2h0M141.8 660.3h0M136.2 653.3h0M141.9 648.7h0M138.4 662.7h0M157.2 635.6h0M159.4 653.1h0M142.7 639.6h0M156.7 667.4h0M150.4 637.4h0M140.6 658.7h0M163.3 641.3h0M157.2 639.9h0M164.2 641.1h0M151.5 633.1h0M149.3 637h0M144.3 638.6h0M171.2 629.6h0M140.3 650.9h0M166.2 656.4h0M163.1 627.4h0M136.7 654.2h0M142 646.6h0M171.5 637.2h0M128.6 643.7h0M145.5 635.1h0M161.8 659.3h0M146 658.5h0M156.9 646.7h0M154.2 658.3h0M153.4 667.6h0M160.5 664.9h0M154.9 653.8h0M153.5 668.8h0M171.3 638h0M142.6 645.3h0M157.8 631.4h0M158 627.6h0M149 629h0M132.7 656.2h0M165.7 643.9h0M159.1 662.8h0M162.6 625.2h0M128.4 644.8h0M149.5 651.4h0M160.6 634.2h0M172.3 637.9h0M146.9 635.6h0M167 660h0M157.2 647.2h0M149.1 630.2h0M143.7 654.6h0M147.2 665.1h0M153.8 629.7h0M141 651.5h0M152.5 636.1h0M165.9 641.4h0M149.4 640.6h0M137.6 637.6h0M166.1 648.8h0M154.8 646.8h0M153.6 654h0M148.2 665h0M171 629.4h0M127.7 643.7h0M163.7 640.3h0M156.2 644.6h0M130.6 647.1h0M163.4 637.7h0M172.2 643.2h0M142.1 636.9h0M169.9 636.9h0M135.1 664.4h0M174.8 630.7h0M155.6 666.6h0M158.5 630.4h0M168.1 631.9h0M174.1 628.4h0M135.5 641.8h0M151.4 646.7h0M133.1 642.3h0M127.2 654.6h0M133.3 639.7h0M132.2 658.1h0M143 664.2h0M134.3 662.2h0M152.7 640.5h0M141.5 647.4h0M170.4 640.9h0M157.3 664.3h0M153.6 663.1h0M167 638.6h0M139.1 648.9h0M161.8 662.5h0M152.8 634.9h0M151.6 665.5h0M137.5 662.1h0M157.4 640.2h0M176.7 632.1h0M151.5 650.6h0M176.7 626.4h0M145.9 659.7h0M159.6 651h0M165.9 628.1h0M144.4 650.9h0M157.2 624.9h0M157.8 651.1h0M154.7 634h0M152.7 635.6h0M133 645.6h0M163 659.5h0M143.2 667h0M164 647.4h0M140.6 647.6h0M133.7 659h0M168.5 631h0M155.9 628.1h0M176.2 636.7h0M172.3 634.6h0M146.2 665.7h0M162.5 654h0M161.6 659.2h0M143.2 660.6h0M143.1 645.9h0M135 643.7h0M175.7 635.6h0M173.4 632.3h0M157.1 666h0M151.6 638.3h0M149.7 651.9h0M130.7 652h0M139.5 637.4h0M157.9 663.5h0M136.9 636.4h0M133.6 651.4h0M145.1 662.6h0M154.1 662.6h0M155 637.8h0M146.1 643.1h0M161.1 666.9h0M133.5 647.5h0M153.4 648.6h0M144 637.7h0M161.4 655.7h0M165.8 641.8h0M155.9 660h0M156.4 640.2h0M170.3 627.2h0M142.3 659.4h0M158.2 662.3h0M158 659.8h0M169.6 639.1h0M150.4 629.8h0M169.7 641.9h0M149.9 663.3h0M136.7 638.4h0M170.8 636h0M150.3 633.9h0M163.2 642.1h0M157.1 638.5h0M147.7 635.6h0M147.8 652.3h0M138.9 630.5h0M133.6 649.1h0M146.2 635h0M165.8 651.3h0M154.9 644.9h0M161.1 632.4h0M147.7 652h0M163 639.8h0M156.3 634h0M169.9 642.2h0M166.4 631.2h0M164.8 637.6h0M166.4 633h0M151.7 658.1h0M128 646.2h0M136.1 657.4h0M152.7 648.6h0M151.5 657.6h0M166.9 659.2h0M146.9 650.8h0M163.6 628h0M150.4 664.5h0M145 639.2h0M144.4 644.1h0M157.5 661.5h0M146.1 635.3h0M168.4 630.8h0M144.3 653.4h0M164.9 653.1h0M140.6 662.7h0M146.3 635.6h0M153 637.7h0M153.9 647.5h0M166.9 654.2h0M169.1 626.8h0M158.3 655.8h0M168.2 636.2h0M151.7 652.3h0M147.3 668.1h0M152.6 652.6h0M176.4 636.3h0M154.9 643.7h0M141.1 663.2h0M146.6 642.8h0M164.5 636.1h0M159.8 637.6h0M149.7 626.2h0M152.6 636.4h0M157.4 658h0M163.4 650.7h0M158.2 644.8h0M157.3 653.4h0M136.6 654.8h0M152.6 641.4h0M165.5 631.5h0M154.1 631.6h0M167.1 635.4h0M132 642.7h0M134.8 650.4h0M126.5 639.7h0M134.9 652.6h0M142.3 642.9h0M160.8 661.2h0M129.9 648h0M149.4 647.4h0M153.3 628.9h0M163.6 633.5h0M146.2 666.1h0M141.1 657h0M144.2 634.2h0M135.9 651.9h0M145.6 644.5h0M132.8 651.9h0M146.2 653.7h0M140.4 637.1h0M157.5 644h0M134 650.2h0M163.7 646.8h0M145 642.4h0M137.9 656.9h0M164.6 653h0M155.4 632.2h0M149.7 652.7h0M159.7 669h0M171.6 638.1h0M161 655.5h0M160.3 646.8h0M133.9 665.8h0M166.8 637.1h0M157.1 630.8h0M157.3 640.6h0M140.2 644.3h0M147.7 635.5h0M151.3 629.3h0M149.3 662h0M154 658.9h0M154.3 647.3h0M139.1 645.4h0M145.5 663.8h0M165.9 657.8h0M134.3 648.4h0M144.6 647.7h0M152.3 634.8h0M166.2 629.7h0M137.2 656.9h0M159.9 661.1h0M161.8 632.1h0M142.2 645.9h0M153.7 649h0M141.3 636.3h0M148.4 655.1h0M132.9 654.9h0M138.3 639.9h0M155.2 636.7h0M152.8 646.9h0M162.5 653.3h0M143.6 638.7h0M148.2 627.3h0M159.8 655.3h0M146.4 638.7h0M159.7 632.3h0M157.1 660.7h0M166.8 631.5h0M158.8 626.9h0M154.8 656.3h0M153.2 637.6h0M147.2 651.2h0M157.6 648.4h0M143.4 637.6h0M134.1 645.6h0M139.4 642.4h0M126.6 639.8h0M161.8 653.6h0M144.2 666.8h0M145.1 639.4h0M138.1 655.1h0M147.4 641h0M158.4 636h0M137.7 646.2h0M164.6 645.3h0M159.3 645.8h0M158.1 634.4h0M160.5 655.3h0M158.3 666.2h0M169.8 632.9h0M167.3 646.7h0M148.1 652.9h0M136.2 639h0M155.8 665.9h0M162.8 636.8h0M152.6 654.6h0M139.3 651.4h0M146.9 637.3h0M140.7 660.3h0M129 648h0M153.8 640.7h0M158.8 656h0M148.1 630.7h0M158.2 629.8h0M166.3 649.8h0M163 655h0M134.6 642.4h0M144.4 639.5h0M144.6 667.7h0M157 657.4h0M166.6 650.2h0M156.9 650.4h0M131.9 637.1h0M135.8 648.6h0M166.1 653.1h0M143.8 636.5h0M154.5 636.3h0M145.4 650.9h0M150.2 660.4h0M153.4 658.2h0M144.3 639.4h0M167.2 644.1h0M126.4 644.6h0M158.7 652.3h0M160.2 644.1h0M157.9 654.7h0M147.9 659.3h0M151.8 631h0M140.5 662.3h0M176.3 635.6h0M138.5 638.1h0M138.1 639.6h0M160.7 647.4h0M157 640.5h0M166.8 636.2h0M164.4 633.4h0M163.9 651.3h0M155 630.5h0M161.3 657.1h0M152.8 645.3h0M136.5 649.2h0M152 656.6h0M170 630.1h0M166.7 642.6h0M164.4 662.9h0M171.1 631.4h0M159.4 660.1h0M147.7 648.3h0M136.9 650.9h0M136.2 641.2h0M156.4 635.7h0M157.5 635.4h0M148.4 645.7h0M141.7 645.2h0M132.3 647.5h0M157.2 657.7h0M165.4 623.6h0M162.4 638.5h0M165.9 643.9h0M171.6 627.4h0M146.1 661.3h0M139.3 636.8h0M155 667.1h0M144.7 665.3h0M138.7 665.1h0M133.7 644.8h0M146.9 639.8h0M164.6 633.6h0M152.3 647h0M160.4 662.1h0M164 635.3h0M135.3 654.6h0M144.5 652.8h0M158 646.7h0M144.6 639.8h0M146.8 650.4h0M149.1 643.2h0M152.7 652.2h0M162.7 627.5h0M172 634.7h0M164.5 659.1h0M168.5 651.3h0M144.4 641.1h0M149.5 641.9h0M156.2 665.4h0M165 635.6h0M167.7 627.7h0M168.8 646.3h0M170.6 640.4h0M140.9 658.4h0M151.8 654h0M145.7 634.5h0M146.2 662h0M146.2 655.3h0M162.6 665.6h0M167.6 654.1h0M136.2 640.6h0M161 658.8h0M154.6 652.6h0M144.8 643.2h0M156.5 642.2h0M167.8 642.1h0M148 649.8h0M152.7 650.9h0M166.2 637.2h0M146.4 628.9h0M162.7 653.1h0M165 635.5h0M155 665.1h0M170.3 634.5h0M126.9 646.3h0M151.3 652.4h0M161.9 650.5h0M175.4 630.5h0M153.1 662.9h0M143.4 643h0M162.4 662.6h0M149.7 643h0M146.7 662.1h0M161.5 660.9h0M142.6 654.1h0M150.6 638.6h0M143.5 641.8h0M150.1 627.9h0M170.4 648h0M144.2 662h0M160.4 642.3h0M160.9 641.6h0M156.3 646.3h0M166.9 636.9h0M136.2 640.8h0M135 649.9h0M149.6 659.1h0M149.1 653.7h0M167.7 633.5h0M143.7 638.5h0M155.7 655.5h0M154.3 646.7h0M167.8 653h0M162.3 642.9h0M165.9 655.3h0M169.9 645.5h0M171.7 639.3h0M162.3 646.8h0M175 629.4h0M151.8 652.2h0M162.2 643.5h0M148.9 646h0M156.6 650.6h0M147.1 658.7h0M136.4 643.8h0M136.6 649.9h0M147.8 638.3h0M155.1 627.4h0M138.1 646.4h0M160.4 646.3h0M162.2 630.4h0M144.2 634h0M164.9 663.6h0M155.7 627.9h0M156.6 664h0M141 643.2h0M164.2 649.8h0M170.5 645h0M138.2 635h0M160.4 662.7h0M128.8 651.3h0M130.9 646.1h0M149.2 637.8h0M139.2 640.5h0M134.2 640.2h0M138.3 648.1h0M161.3 645.3h0M134.1 658.1h0M154.2 637.6h0M169.6 632.7h0M139.1 655.4h0M171.4 639.7h0M168.8 649.5h0M138.7 654.6h0M154.2 637.6h0M162.8 650.3h0M141.2 645.1h0M152.8 646.1h0M147.3 647.9h0M159.6 656.6h0M168.5 644.6h0M132 648h0M160.2 659.9h0M133.5 656.1h0M145.9 632.2h0M171.9 639h0M152 635.5h0M147.9 644.6h0M145.5 651h0M158.2 642.5h0M162 657.7h0M151.1 624.9h0M168.9 641.8h0M150.3 658.3h0M146 633.1h0M151.5 639.3h0M166.1 625.9h0M152.1 626.9h0M155.1 665.6h0M148.8 631.1h0M168.6 633.4h0M161.3 637.8h0M150.2 637.3h0M150.1 631.5h0M156.5 653.3h0M157 665.4h0M170.8 631.1h0M150.1 664.9h0M151.5 643.3h0M162.2 657.9h0M132.1 636.5h0M139 647.8h0M146.4 635.6h0M154 650.7h0M143.7 646.7h0M160.7 637.9h0M141.8 656.4h0M166.1 635.9h0M131.7 649.1h0M138 653.9h0M143.7 656.8h0M165.2 634.2h0M170.4 643.5h0M145.4 631.4h0M155 640.6h0M161.5 652.3h0M138.4 645.9h0M172.7 629.5h0M146.5 635.3h0M153.5 660.4h0M126.7 636.6h0M142.7 651.1h0M170.2 640.7h0M151.8 664.1h0M168.5 624.6h0M143.3 635.2h0M151.7 630.7h0M144.7 647.9h0M153.7 653.7h0M167.6 629.7h0M134.6 664.6h0M144.8 657.6h0M162.8 657h0M159 653.5h0M157.3 653.9h0M163.4 644.9h0M142.8 670.2h0M164.1 653h0M156.3 648.2h0M171.3 640h0M146.1 651.9h0M167.6 644.9h0M137.5 658.7h0M158.1 657.9h0M130.8 646.5h0M142.9 662.7h0M157.4 645.6h0M148.7 654.5h0M172.4 628.5h0M156.1 650.9h0M154 639.8h0M156.9 634.7h0M128.8 644.8h0M159.6 650h0M140.7 640.5h0M125.1 642h0M152.6 650.8h0M130.5 651.1h0M156.7 631.7h0M137.5 645.5h0M164.6 637.1h0M156.4 638.6h0M149.9 657.5h0M174 628.7h0M148 655.3h0M157.1 641.2h0M142.3 646.3h0M153.5 658.7h0M157.9 653.1h0M171 624.5h0M154.6 633.8h0M151.9 667.1h0M172.8 637.7h0M161.5 638h0M149.5 665.1h0M153.5 636.1h0M157.3 637h0M167.1 647.5h0M139.9 658.3h0M142.8 637.1h0M148.5 643.6h0M163.9 632.1h0M143.3 647.2h0M141.5 649.1h0M148.9 655.8h0M169.6 646.4h0M154.7 646.2h0M149.6 639.2h0M149.1 652.6h0M161.1 658.5h0M146.7 656h0M151.7 644.4h0M130.6 646.4h0M167.3 647.2h0M139.8 643.2h0M174.7 641.4h0M152.1 632.4h0M154.1 664.8h0M164 632.8h0M176.7 632.3h0M155.5 631.4h0M155.3 659.2h0M164.9 624.8h0M169.8 626h0M155.4 629.5h0M148 646.9h0M156.7 655.1h0M145.8 663h0M165.9 647.9h0M158.9 665.7h0M151.3 660.6h0M143.9 666.3h0M148.8 639.8h0M142.9 639.8h0M142.1 659.5h0M158.8 640.5h0M127.6 655.9h0M144.4 641h0M148.3 654.2h0M133.8 641.6h0M160.6 633h0M132.3 651.4h0M155.7 634.6h0M174.4 636.9h0M141.1 663.4h0M161.5 648.4h0M135.9 640.2h0M157.5 659.2h0M159.1 658.7h0M145.6 652.1h0M141.4 662.9h0M143.9 657.4h0M156.4 627.9h0M131 646.7h0M141.5 643.3h0M161.5 644.9h0M150.6 644.3h0M163.1 626.9h0M145.3 653.9h0M133.1 644.9h0M152.7 667.9h0M140.4 654.8h0M155.6 633.4h0M166.3 631.5h0M154.2 658.2h0M171.7 638.5h0M146.8 638.6h0M140.9 660.2h0M155.9 638.4h0M144.7 661.7h0M170 634.9h0M143.1 648.2h0M196.2 615.3h0M190.4 627.9h0M200 616h0M185.8 603.3h0M196.3 600.9h0M186 614.6h0M196.1 625.1h0M185 618h0M189.1 598.8h0M200.5 617.3h0M189.7 609.5h0M193 626.8h0M192.3 596.1h0M188.1 621.4h0M186.9 619.3h0M199.1 616.4h0M190.7 604h0M199.1 611.3h0M197.1 603.7h0M200.1 616.7h0M193.2 594.7h0M198.3 622.6h0M195.1 623.9h0M192.3 596.6h0M193.3 625.5h0M197.8 599.7h0M190.2 594.4h0M187.4 599.6h0M188.9 614.9h0M188.7 625.2h0M202.1 622.2h0M195.7 604.6h0M201.8 618.3h0M201.6 613.9h0M195.8 623.9h0M189.8 615.5h0M188.3 617.7h0M197.8 625.6h0M196.4 612.7h0M198 610.6h0M199.1 607.2h0M219.9 619.4h0M210 622.6h0M201.4 621.3h0M207.7 618.2h0M205.9 621.1h0M209.5 615.2h0M200.5 625.6h0M197.1 614.8h0M217.7 616.9h0M216.1 619.6h0M206.3 619.9h0M220.5 619.8h0M205.4 622.3h0M219.5 620h0M203.9 623.8h0M217.7 624.7h0M212.8 625.6h0M211.8 622.6h0M202.5 613.7h0M201.2 630.1h0M201.7 621.4h0M200.5 622.5h0M213.3 618.8h0M206.1 616.2h0M206.1 618.3h0M213.4 620h0M193.6 642h0M187.6 629.8h0M197.7 633.8h0M187.7 643.1h0M187.2 646.3h0M189.3 643.5h0M193.3 644.9h0M187 627.1h0M187.7 642.2h0M196.6 634.3h0M194.2 644.1h0M188.6 636h0M186.4 633h0M194.3 643.7h0M187.5 638.8h0M191 632.9h0M193.5 644.3h0M194.2 628.5h0M190.1 638.2h0M194.8 631.9h0M190.4 642.3h0M193.3 637.6h0M195.5 627.3h0M190.7 630.4h0M195.2 641.7h0M183.8 618.3h0M190.3 616.9h0M185.7 620.4h0M187 619.9h0M179.8 619.9h0M185 625h0M189.7 609.5h0M184.9 628.4h0M182.1 620.7h0M188.1 610.9h0M184.2 615.4h0M188 616.7h0M186.8 614.9h0M187.1 629h0M188.6 610.9h0M183.6 620.2h0M182.9 614.4h0M182.9 620.4h0M188.2 628.5h0M183.7 612.9h0M184.7 622.2h0M188.2 617.4h0M183.5 623.3h0M183 613h0M188.5 610.2h0M179 616.9h0M186.5 632.4h0M184 629.7h0M184.6 621.1h0M182.5 616.4h0M183.6 628.7h0M181.7 622.3h0M180.5 615.5h0M186.9 617.7h0M190.2 633.1h0M181.4 619.5h0M183.3 625.4h0M185 623.3h0M184.8 625h0M185.2 629.8h0M181.2 629.1h0M184.7 624.9h0M186.9 612h0M190.3 627h0M182.3 625.1h0M183.4 631.1h0M187.5 609.1h0M187.2 609.7h0M182.6 616.4h0M185.5 628.5h0M182 616.9h0M183.3 630.2h0M183.9 610.3h0M182.8 626.3h0M183.1 619.7h0M186.5 610h0M185.7 623.8h0M186.1 613.3h0M186.1 615.7h0M180 614.4h0M185.3 616.5h0M186.1 617.2h0M185.9 615.3h0M199.5 628.6h0M200.8 634.4h0M201.2 636.5h0M192.9 646.2h0M207.6 633.4h0M200.6 628.1h0M201.9 630.1h0M198.5 633.1h0M203.5 631.6h0M194.7 629.7h0M203.5 639.9h0M201.7 629.8h0M196 633.3h0M194.8 630h0M203.7 634.8h0M198.7 634.1h0M195.8 638.3h0M204 631.3h0M197 631.5h0M197.5 632.8h0M195.3 627.1h0M204.7 631.3h0M193.5 636.1h0M204 635.2h0M207 625.6h0M194.4 642.9h0M198 639h0M201.7 635.9h0M208.1 629.3h0M202 638.3h0M206.1 627.2h0M201.8 637.1h0M198.1 630.3h0M201.3 635.6h0M200.3 639.8h0M202.6 632.6h0M199.7 642h0M210.4 628h0M206 629.7h0M198.7 635.8h0M198.5 626.7h0M196.7 638.8h0M196 631.4h0M202 631.4h0M196.3 637.5h0M197.1 633.6h0M194.2 635.2h0M193.8 637h0M196.1 627h0M206.1 631.1h0M197 639.6h0M201.7 634h0M205.3 637.2h0M186 666.1h0M187.8 680.3h0M199.9 697.2h0M191.2 687.1h0M190 664.8h0M193.9 687.4h0M205.5 695.9h0M218.8 671.2h0M194.6 665h0M188.5 670.4h0M183.6 678.4h0M193.4 694.9h0M204.9 666.5h0M187.1 673.4h0M186.4 666.1h0M194.5 664.7h0M190.6 690.2h0M218.2 698.4h0M197.9 697.7h0M188.8 681.3h0M209.5 671.2h0M203.4 695h0M207.5 670.7h0M222.1 685.3h0M189.4 689.6h0M208 669.8h0M224.1 695.4h0M213.4 676.1h0M209.5 698.7h0M220 694.1h0M219.1 698h0M213.8 677h0M201.3 695.6h0M194.4 662.9h0M200.1 667.5h0M195.9 665h0M219.8 696h0M186.1 680.7h0M199.4 697.2h0M187.6 684.3h0M191.2 685.6h0M206.7 669.4h0M218.4 697.4h0M215.9 697.4h0M198.7 694.8h0M198.1 671.6h0M185.4 685.4h0M222 695.6h0M185.5 661.8h0M192 662.1h0M187.7 681.8h0M193.5 667.3h0M188.3 662.1h0M181.8 667.8h0M226.6 690.5h0M217.1 674.8h0M216.7 694.7h0M221.9 693.8h0M215.8 672h0M185.1 678.7h0M193.7 664.5h0M214 697.2h0M200.4 668.8h0M198.6 661.2h0M187.2 652.5h0M193.9 645.8h0M189 647h0M189.9 643.8h0M189 655.2h0M188.3 665.5h0M196.7 663.3h0M191.9 670.1h0M198.9 651.5h0M188.6 646.6h0M195.3 651h0M199 653.4h0M190.8 644.4h0M189.6 663.4h0M199.1 654.2h0M199.5 659.3h0M194.9 645.9h0M192.9 664.9h0M199.4 644.1h0M189.6 642.7h0M192.1 662.3h0M198.9 644.3h0M195.9 666.9h0M194.5 646.6h0M187.3 653.3h0M198.1 668.8h0M195.2 665.6h0M194.4 643.8h0M182.7 652.2h0M189.6 649.2h0M171.2 659h0M173.5 658.7h0M183.8 674.5h0M174.2 662.2h0M167.4 666.4h0M164.6 663.2h0M179.5 676.5h0M170.2 659h0M164.4 666h0M179.7 671.7h0M177.4 677.7h0M169.3 657.1h0M168.9 659.3h0M166.2 657.6h0M188.3 679.8h0M174.3 676.6h0M161.3 657.1h0M170.5 666.3h0M173.6 659.5h0M174.1 660.7h0M183.4 679h0M166.8 664.1h0M159.1 659.9h0M178.6 664.2h0M180.4 681.4h0M170.1 669.7h0M166.2 662.8h0M179.7 669.9h0M169.9 677.5h0M183.1 680.1h0M177.8 681.8h0M169.5 665.5h0M164.1 658.6h0M190.1 673.6h0M177 668.6h0M162.1 653h0M167.5 655.3h0M167.3 668.1h0M167.1 664.1h0M190.8 674h0M174.8 671h0M190.4 673.2h0M168.8 672.4h0M161 652.6h0M168.9 661.7h0M163.7 671.5h0M181.9 668.5h0M162.4 663.1h0M166 667.5h0M172.3 672.5h0M170.5 662.4h0M186.5 679.3h0M162.1 653.8h0M172.2 657.1h0M162.1 656.3h0M172 665.9h0M176.4 671.9h0M168.5 661.5h0M166.4 663.5h0M166.6 658.9h0M179.4 663.8h0M180.8 671.2h0M173.6 664.1h0M191.2 671.7h0M174.2 662.9h0M182.3 668.7h0M169.2 663.7h0M173 671.4h0M178.4 676h0M172.7 665.4h0M170.3 675.6h0M167.3 663.4h0M175.7 673.3h0M169.8 661.3h0M176.9 662.4h0M179.6 662.4h0M158.2 656h0M170.7 672.8h0M171.2 665.8h0M171.2 660.2h0M157.4 657.7h0M163.6 652.7h0M185.2 681.9h0M167.4 657.5h0M169.8 660.5h0M162.9 671.8h0M163.7 663.7h0M163.9 669.4h0M178.9 669h0M166 659.4h0M179.3 672.5h0M157.2 655.9h0M176.6 671.3h0M166.6 661.8h0M158.3 655.3h0M163 665.2h0M160.9 651.8h0M184.6 677.4h0M165.2 667.8h0M176.9 671.9h0M167.4 660.1h0M169.8 668h0M176 671.5h0M185.4 673.2h0M175 658h0M177.7 666.9h0M168 669.7h0M160.6 665.2h0M161.5 649.1h0M182.9 679.5h0M178.5 661.8h0M168.2 661.8h0M178.3 666.4h0M173.9 673.9h0M165.7 662.8h0M175.3 671.2h0M162.9 661.5h0M166.6 659h0M184.9 673.9h0M184.3 679.6h0M179.3 665.3h0M173.9 666.6h0M177.3 678h0M166.7 654.5h0M166.2 661.9h0M183.3 682.1h0M168.6 665.5h0M180.7 677.1h0M172.1 659.4h0M164 655.3h0M168.9 655h0M165.9 665.7h0M169.3 664.2h0M168.6 652.8h0M175.1 672.1h0M178.2 661.5h0M180.9 674.8h0M182 674.3h0M170.6 670.8h0M179.6 671h0M161.7 657h0M223.6 693.7h0M221.1 693.6h0M222.7 692.3h0M223.3 692.4h0M227 694.6h0M223.3 690.1h0M225 693.1h0M126.1 532.1h0M124.7 535.6h0M141.3 532.1h0M140.7 531.5h0M126.8 529.5h0M127.1 528.9h0M130.9 541.6h0M124.7 537.3h0M131.8 542.7h0M126.4 540.3h0M139.5 540.7h0M135.1 538.5h0M140 528.1h0M130.7 541h0M134.6 545.5h0M135.4 529.4h0M139.2 535.6h0M141 530.3h0M143.5 532.5h0M142.7 526.6h0M134.7 525.3h0M125.3 531.8h0M135.6 543.2h0M131.5 525h0M138 542.8h0M133.1 530.7h0M141.3 530.6h0M125.7 528.3h0" stroke="#4757a8" stroke-width="1.7" stroke-linecap="square" fill="none"/>
<path d="M297.8 581.1h0M294 575.1h0M298.7 567.7h0M298.3 580.1h0M302.5 576.2h0M300.6 575h0M303.1 580.9h0M302 581.3h0M295.1 574h0M307 581.5h0M301 584.1h0M298.6 580.3h0M300.4 582.6h0M297.5 568.7h0M302.5 579.6h0M298.5 582.7h0M294.5 572.5h0M300.6 575.3h0M296.3 573.9h0M305.3 574h0M236.6 761.3h0M232.4 758.6h0M237.4 758.8h0M231.9 763.8h0M233.2 766.4h0M229.3 763.6h0M235.2 763.9h0M233.3 765.1h0M224.7 769h0M229.6 767.6h0M239.3 762.2h0M232.2 761.1h0M229.5 765.5h0M237.4 758.5h0M223.5 771.2h0M234.3 760h0M236.3 761.6h0M243.2 755.8h0M229.9 765.8h0M236.9 759.7h0M236.5 764.1h0M228.7 758.4h0M198.5 786.7h0M199.4 778.4h0M191.8 783.3h0M193.5 787.3h0M195.5 782.4h0M195.8 784.2h0M182.7 790.1h0M211.5 802.9h0M206.7 794.7h0M222.5 797h0M216.7 798.3h0M219.4 806.6h0M212.9 791.4h0M219.2 803.1h0M208.9 788h0M206.3 791.8h0M209.6 787.7h0M207.2 791.4h0M218.4 803.4h0M217.8 799.5h0M218.4 790.4h0M216.3 798.8h0M219.4 803.9h0M211.3 787.4h0M202 795.3h0M215.1 798.3h0M207.5 798.5h0M218.5 799.1h0M218.9 800.1h0M210.8 791.7h0M212.4 792.6h0M214.3 793.8h0M213.1 804.7h0M206.7 792.4h0M217.3 808.6h0M219.2 816.4h0M226.1 823.6h0M220 814.8h0M219.6 820h0M215.3 812.3h0M222.3 815.4h0M220.3 815.3h0M219.3 815.6h0M218.5 806.2h0M228.2 817.7h0M218.6 808.2h0M225.7 819.8h0M218.9 814.5h0M218.9 814.5h0M223.3 812h0M218.4 818.7h0M224.1 819.9h0M230.2 847.2h0M221.3 851h0M230.4 847.4h0M217.5 851.6h0M221.9 854.2h0M223.4 858.7h0M220 847.3h0M221.1 859.4h0M235.9 850h0M226.8 847.3h0M224.3 860.9h0M220 851.3h0M228.4 854.8h0M235.1 848.1h0M234.4 845.2h0M229.1 859.6h0M227.7 842.2h0M225.2 859.5h0M233.5 853h0M225.2 849.2h0M229.4 843.2h0M220 855.7h0M228.9 851.5h0M222.4 861h0" stroke="#f5cd1e" stroke-width="1.7" stroke-linecap="square" fill="none"/>
<path d="M300.3 637.1h0M301.6 631.8h0M304.7 639.8h0M304.9 636.7h0M298.8 635.9h0M299.3 629.7h0M294.8 632.9h0M300.6 629.9h0M297.3 637h0M292.6 638.5h0M296.5 631.8h0M297.8 630.4h0M295.5 633.1h0M301.3 629.4h0M303.8 636.2h0M301.2 636.1h0M299.2 627.1h0M305.3 641.8h0M312.3 647.4h0M310.6 650.8h0M304 645.2h0M313.5 648.2h0M297.3 697.2h0M307 681.5h0M297.3 693.2h0M318.8 676h0M300.3 689.5h0M292.7 712.8h0M295.2 690.6h0M295.3 698h0M303.1 714.9h0M325.1 673.9h0M318.3 678h0M294.3 707.3h0M303.7 712h0M291.4 708.7h0M314.9 706.1h0M296.3 712.7h0M303.9 713.1h0M296.5 702.7h0M297.2 697.3h0M320.8 707.4h0M309.8 681h0M334.4 678.7h0M330.3 694h0M329.3 675.9h0M329.1 677.7h0M307.7 710.8h0M335.8 682.6h0M332.6 692.2h0M297.8 694.2h0M334.7 692.1h0M295.2 694.8h0M319.4 705.9h0M334.3 694.7h0M295.3 695.8h0M293.7 716.1h0M297 710.2h0M314.9 704.1h0M320.5 707.1h0M338.1 688.3h0M302.1 686.3h0M325.5 701.6h0M324.7 705.1h0M330.9 685h0M318.9 675.4h0M305.7 684h0M310.9 682.3h0M294.2 706.8h0M330.8 696h0M330.8 671.9h0M293.8 699.9h0M323.6 699h0M326.3 690.5h0M325.1 700.6h0M330.6 692.6h0M310.2 710.1h0M305 682.8h0M315.6 676.1h0M334.8 689.5h0M295.3 699.1h0M312.9 677.5h0M312.4 680.7h0M311 676.6h0M304.6 686.8h0M338.3 688.4h0M334.6 675.2h0M319 675.2h0M291.4 711.3h0M304.7 683.4h0M324.5 670.8h0M337.4 651.8h0M338.4 654.3h0M315.8 649.6h0M335.9 657.3h0M334.4 656.2h0M329.1 662h0M325.2 647h0M327.5 672h0M331.5 649.2h0M339.5 652.1h0M311.6 664.4h0M312.4 659.8h0M330.5 669.2h0M334.5 659.6h0M319.5 665h0M334.7 664.5h0M330.6 672.1h0M333.6 667.3h0M320 663.2h0M321.4 659.5h0M323.8 649h0M321.4 670.1h0M337.5 645.9h0M329.3 648.6h0M319.2 644.5h0M325.2 668.5h0M331.5 647.1h0M337.9 658.7h0M315 659.8h0M329.4 649.5h0M333.3 649.4h0M326.6 646.1h0M330.5 673.3h0M333.1 664.1h0M320.6 660.3h0M332.6 665.7h0M325.4 669.1h0M334.6 661.5h0M323 667.2h0M312.6 653.3h0M337.3 651.1h0M313 656h0M331.7 663.8h0M323.9 671.9h0M327.4 664.8h0M323.8 670.3h0M316.4 666.1h0M322 671.4h0M316 674.4h0M330.5 667.9h0M315.8 667.4h0M320 665.4h0M321.5 671h0M330 673.6h0M324.1 665.9h0M329.1 670.1h0M315.5 668.4h0M322.4 672.1h0M333.6 672.1h0M331.7 675.5h0M322.3 675h0M332.2 667.2h0M322.1 675.5h0M327.2 668.8h0M326.9 672.7h0M320.7 669.9h0M323.9 663.5h0M333.1 667.5h0M317.7 670.3h0M323.4 668.7h0M323.6 670.1h0M325 671h0M324.9 668.8h0M325.9 666.2h0M321.2 673.4h0M323.3 663.5h0M331.1 673.4h0M313.2 665.3h0M326.6 675.2h0M316.1 669.7h0M327.2 670.7h0M322.7 669.6h0M327.5 676.8h0M315.7 666h0M328.7 667.2h0M318.6 675.2h0M320.9 673.7h0M316.2 676.2h0M330.3 674h0M350.1 654.5h0M333.3 653.8h0M350 687.1h0M333.4 695.3h0M329.1 686.6h0M332.6 657.9h0M334.1 697.1h0M359.4 663.4h0M333.5 694.6h0M362.5 662.6h0M358.3 662.6h0M334.3 660.4h0M354.3 689.6h0M328.9 670.3h0M357.3 681.6h0M361.9 672.7h0M332.8 662.5h0M361.7 671.9h0M352.1 654.6h0M338 696.8h0M333.7 679.5h0M336.3 657.4h0M339.5 701.2h0M329.9 667.6h0M356.3 656.7h0M338.4 652.6h0M345.9 690.8h0M343.6 653.6h0M357.8 659.2h0M334.7 660.1h0M350.7 653h0M357.2 656.9h0M359.6 667.3h0M356.6 655.2h0M330.2 687.2h0M334.2 656.6h0M363.4 660h0M340 697.9h0M358.5 656.5h0M331.4 673.8h0M358.4 680.4h0M330.2 671.7h0M357.5 660.6h0M334.4 688.5h0M353.6 680.2h0M343.2 696.5h0M335.7 655.3h0M357.4 655.8h0M347.7 689.9h0M354.4 677.6h0M331.6 672.4h0M331.8 665.1h0M359.7 667.3h0M330.8 666.4h0M332.3 698.2h0M360 665.2h0M347.6 687.9h0M339.4 656.5h0M354.4 654.9h0M344.4 654.1h0M352 652.7h0M341 655.6h0M353 679.9h0M350 659.4h0M332.8 693.5h0M333.4 689.6h0M358.4 659.8h0M326.7 667h0M299.7 737h0M293.8 711.6h0M319 719.6h0M294.8 713.6h0M299.4 712.1h0M290.6 728.1h0M289 717.8h0M298.8 713.9h0M293.5 729.9h0M307 733.8h0M330.5 693.5h0M288.3 734.9h0M333.1 706.4h0M298.6 715h0M299.3 714.9h0M320.8 716.9h0M285.3 723.4h0M287.4 729.1h0M310.3 724.8h0M323.6 701.2h0M302.6 712.9h0M315.2 722.4h0M295.7 709.5h0M319.1 705.1h0M326.1 702.7h0M337.1 706.3h0M291.2 712.8h0M300 738.6h0M329.5 697.6h0M307.8 709.1h0M327.9 694.7h0M310 730.5h0M287.2 723.6h0M332.3 707.4h0M290.9 736.2h0M289.8 733.1h0M312.2 709.6h0M296.7 708.2h0M291.9 738.7h0M291.4 730h0M291.7 717.5h0M328.2 693.3h0M333.1 692.7h0M310.4 731.5h0M325.4 700.9h0M307.9 732.4h0M323.5 696.9h0M291.4 737h0M338.4 699.9h0M287.9 715.3h0M314 707.3h0M285.2 722.1h0M313 712.6h0M290.4 716.4h0M314.3 709.7h0M308.5 728.4h0M314.4 706.4h0M332.4 703.1h0M316.4 723.1h0M317.7 704.6h0M332.1 690.9h0M327.1 698.2h0M299.5 734h0M314.6 705h0M286 722.6h0M293.5 734.3h0M328.5 710.1h0M311.9 712.4h0M329.6 693.5h0M324.4 703.6h0M328 712h0M321.6 718h0M321.2 717.2h0M290.4 727.3h0M284.9 720.1h0M329.2 715h0M319.2 718.3h0" stroke="#3db54a" stroke-width="1.7" stroke-linecap="square" fill="none"/>
<path d="M107.1 748.3h0M82.7 767.6h0M105.9 760.6h0M94.9 773.3h0M106.5 760.9h0M108.2 747.2h0M87.6 740h0M94.7 739.9h0M89.9 770.8h0M101.9 777.2h0M79.8 743.2h0M105.8 753.4h0M104.7 770.8h0M97.2 769.9h0M103.6 770.7h0M96.8 741h0M109.5 752.5h0M110.6 759.4h0M84.4 763.5h0M94.4 774.9h0M74.8 756h0M76.7 746.4h0M93.8 742.4h0M91.1 767.4h0M88.8 740.7h0M100.3 778.9h0M73.2 747.1h0M79.4 761.5h0M95 775.2h0M80 760.8h0M96.9 738.6h0M91 771.8h0M105.7 767.8h0M108.9 758.7h0M81.2 744h0M79.6 760h0M76.3 755.2h0M77.9 744.1h0M106.5 774.2h0M74.7 749h0M76 749.5h0M91.1 740.2h0M100.9 778.3h0M77.6 757h0M94.3 773h0M93 770.1h0M92.1 774h0M103.6 768.6h0M109.3 751.6h0M106.5 759.1h0M98.5 740h0M77.8 742.5h0M80.1 747.1h0M100.3 768.8h0M72.7 750h0M109.1 761.3h0M107.6 747.1h0M102.5 739.9h0M99.1 735.9h0M105.8 757h0M109.1 750.5h0M83.8 766h0M118.3 757.4h0M110.3 760.6h0M130.6 755.5h0M135.8 797.4h0M136.6 789.2h0M115.4 752.1h0M125.1 759.2h0M104.8 776.2h0M122.3 755.1h0M129.1 757.1h0M121.3 751.5h0M133.6 765.2h0M104.5 784.4h0M112.5 758.8h0M137.9 770.2h0M131.9 762.7h0M125.9 760.4h0M113.8 794.4h0M140.8 779.7h0M134.1 763.1h0M108.7 790.4h0M128 754.2h0M134.4 794.3h0M109.8 790.4h0M115 749.8h0M133.3 785.7h0M133.9 758.9h0M116 755.2h0M109.9 794.3h0M116.8 793.8h0M138.5 787.1h0M128.5 757.8h0M131 795.2h0M103.9 786h0M124.7 754.8h0M111.1 792.8h0M141.9 775.2h0M116.9 795.1h0M134.8 794.1h0M133.9 763.1h0M132.2 758.2h0M135.1 762.5h0M112.9 750.4h0M136.3 773.7h0M130.7 787h0M126.8 793.8h0M121 752.7h0M116.1 797.3h0M116.1 751.2h0M101.8 775.4h0M114.2 755.2h0M132.4 763h0M136.9 781.8h0M133.4 770.1h0M100.9 785.3h0M102.4 783.5h0M121.8 795.7h0M129.2 755.7h0M116.2 796.1h0M117.8 750.1h0M134.9 781.3h0M137.7 775h0M106.5 765.8h0M108.7 768.1h0M116.3 796.7h0M113.1 750.1h0M138.5 767.8h0M109 764.5h0M134.7 792.7h0M125 797.2h0M111.6 755.1h0M136.9 779.7h0M135.3 787h0M154.7 778.4h0M151 773.5h0M138.6 784.7h0M138.3 777.4h0M137.6 777.5h0M142.5 778.7h0M147.7 770.2h0M151 775.8h0M140.9 771.9h0M143.4 770.5h0M141.4 780.8h0M142.2 776.3h0M143.3 788.6h0M138.4 788.3h0M139.6 769.9h0M139.6 775.3h0M136.2 771.7h0M153.7 773.1h0M145 776.2h0M138.7 790.6h0M134.2 764.9h0M144.7 776.2h0M140.9 769.3h0M142.6 768.8h0M136.1 774.6h0M144.4 772.7h0M147.7 778.6h0M142.1 777h0M139.1 784.4h0M146.7 772.1h0M138.6 788.3h0M136 772.5h0M143.4 776.7h0M140.5 779.7h0M145.8 769.4h0M140.5 783h0M138.6 774.6h0M144.7 772.1h0M140.4 774.5h0M139.6 794.7h0M145.9 781.2h0M149.7 789.4h0M144.6 777.1h0M140.1 775.4h0M139.1 769.2h0M151.4 774.7h0M143.9 787.6h0M137.5 787.6h0M146.5 785.7h0M144 769.2h0M149.1 775.9h0M143.6 769.2h0M135.1 776.7h0M139.8 790.4h0M148.8 775.3h0M145.4 770.9h0M143.8 769.2h0M138.7 774.6h0M143.8 783.3h0M137.2 781.6h0M141.3 775.5h0M151.7 778.4h0M140.3 779.2h0M144.9 775.6h0M138.8 774.5h0M143.6 783.9h0M152.4 776.2h0M137.9 774.6h0M138.8 780.3h0M141.1 768.5h0M144 788.5h0M135.1 769.9h0M142.9 772h0M142.8 779.9h0M144.3 773.2h0M142.6 773h0M147.1 780.3h0M143.8 791.1h0M137.7 776.5h0M142.8 787h0M143.2 788.7h0M145.5 774.3h0M137.7 780.5h0M151.5 778.8h0M146.4 774h0M143.6 780.6h0M141.2 779.1h0M144.7 782.7h0M148.3 773.7h0M141 781.6h0M152.2 781.7h0M143.8 783.4h0M137 770.8h0M151.7 781.3h0M146 778.2h0M139.7 776.8h0M137.3 771.3h0M150.4 780.1h0M147.3 775.2h0M146.7 781.5h0M139.3 782.4h0M144.1 780.9h0M155.7 775h0M141.5 778.9h0M153 777.1h0M136.9 776.5h0M146.1 784.2h0M141.6 786.3h0M151.3 781.2h0M142.1 770.9h0M144.2 778.9h0M142.2 771.3h0M140.5 776h0M143 784h0M138.4 771h0M146.5 774.2h0M144.7 770.2h0M144.2 783h0M142.2 777.1h0M140.6 778.6h0M147.3 778.7h0M138.5 794.7h0M150.4 777.5h0M143.2 783h0M135 768.2h0M143.5 775.9h0M145.3 786.6h0M141.1 779.1h0M154 779.2h0M144.9 781h0M140.8 787.3h0M145.5 773.9h0M149.4 780.7h0M136.3 786.2h0M146.3 779.8h0M142.7 779.6h0M141.8 772h0M168.2 754.6h0M185.1 776h0M170.7 755.6h0M179.5 750.8h0M152.2 761.6h0M157.1 760h0M179.1 754h0M186.9 782h0M188.4 770.2h0M154.7 778.7h0M174.4 787h0M188.5 778.1h0M149.4 773.1h0M189 785.2h0M171.3 785.1h0M187.5 776.1h0M181.3 784.1h0M162.7 781.2h0M186.6 758.6h0M191.4 761.1h0M168.1 781.5h0M151.4 761.1h0M162.6 754.6h0M157 777.7h0M164.7 779.3h0M165 789.2h0M149.6 771.4h0M188.5 781.1h0M181.7 756.2h0M165.1 792.2h0M184.5 772.8h0M163.8 776.2h0M181.9 754.3h0M180.7 750.8h0M179.8 753.5h0M186.8 781.9h0M185.1 789h0M152.3 764h0M178.8 788h0M159.8 781.7h0M186.9 781.4h0M187.1 764.4h0M167.5 758.7h0M179.7 785.9h0M181.5 784.7h0M188 754.5h0M166.7 752.1h0M164.3 784.7h0M175.3 750h0M164.6 782.1h0M153.6 764.3h0M182 759.9h0M166 755.1h0M186.4 769.9h0M180.5 790.4h0M150.6 763.3h0M165.2 785.9h0M165.9 788.8h0M150.1 768h0M186 762.7h0M183.4 776h0M163.5 782.7h0M184.3 789h0M183.8 775h0M189 761.4h0M178.1 752h0M153.2 780.8h0M156.2 774.3h0M147.7 787.2h0M154.3 768.7h0M143.1 769.2h0M138.5 771.1h0M143.8 768.9h0M145 771.9h0M142.1 790.4h0M144.8 783.2h0M145 781.3h0M151.3 778.3h0M146.1 773h0M144.6 788.6h0M142.4 776.1h0M148.4 771.3h0M146.9 773.4h0M150.1 789.8h0M144.5 784.7h0M146.3 768.2h0M137.6 768.3h0M151.2 777.7h0M141.7 769.2h0M143.5 787.4h0M139.7 773.2h0M152.9 775.2h0M150.3 776.5h0M152.6 776.6h0M142 773.4h0M146.2 769.6h0M146.8 771h0M155.6 778.3h0M150.4 782.5h0M152.2 778.6h0M150.3 763.6h0M154.6 773.8h0M143.9 773.4h0M144.5 767.2h0M145.7 787.4h0M144.8 775.8h0M145.5 782.4h0M153.7 782.5h0M147.9 783.6h0M143.9 766.4h0M148.9 764h0M147.5 765.8h0M143.5 788.5h0M157.4 780.7h0M160.9 775.4h0M149.4 769.8h0M156 776.5h0M135.8 765.3h0M147.4 778.9h0M145 770h0M153 769.8h0M154.7 778.8h0M150.7 773.1h0M144.3 778.9h0M147.2 774.3h0M149.6 765.4h0M138.2 773.3h0M148.5 762.6h0M148.7 768.5h0M147.6 771.9h0M142.1 793.4h0M150.3 764.7h0M147.1 786.4h0M154.2 768.1h0M146.5 767h0M150.9 778.6h0M150.6 760.7h0M154 762.5h0M145.7 771.9h0M144 768.6h0M138.8 770.3h0M144.1 781.5h0M143.4 765.5h0M147.1 766.8h0M155.8 783.5h0M147.9 778.7h0M142.1 777.2h0M143.2 779h0M150.6 773h0M143.6 785.8h0M146.6 766.1h0M145.3 779.4h0M142.2 770.1h0M148 778.3h0M143.2 773h0M153.1 776h0M148.8 768.2h0M148.1 772.1h0M144.4 780.2h0M153.6 780.9h0M144.7 765.2h0M143.2 768.4h0M143.8 767.2h0M157.1 777.3h0M143.6 781.3h0M145.7 777.8h0M132.1 758.4h0M135.2 757.9h0M137.1 761.4h0M134.6 759.6h0" stroke="#ee6549" stroke-width="1.7" stroke-linecap="square" fill="none"/>
<g filter="url(#spd)"><polygon points="56.9,641.1 58.5,632.6 63,625.2 70.5,618.6 78.9,615.3 85.9,616.1 94.6,619.3 102.5,622.8 104.1,631.5 102.6,641.3 99.4,649.9 91.4,651.7 82.6,650.9 74,650.1 65.1,649.3 59.5,646.6" fill="#4757a8"/><polygon points="100,623.2 106.5,616.1 116.9,615.3 128.2,613 138.7,608.1 145,612 144.5,623.8 143.1,634.9 140.5,643.2 133.7,649 126.4,653.8 120,657.3 113.8,653.9 106.7,652.4 100.2,649.7 98.6,640.9 100,631.4" fill="#4757a8"/><polygon points="129.1,613.4 137.6,604.1 142.1,596.7 152.6,592.6 162.7,591 171.6,587 179,589.7 183.8,598.3 182.2,607 177,613.4 173.4,619.8 167.7,625.1 161.5,623.2 158.5,618.4 153.9,616.2 148.6,614.1 143.1,615.6 137,615.6" fill="#4757a8"/><polygon points="182.8,582.5 191.1,577 198.5,573 204.4,572.1 210,577.3 215.1,585.4 218.8,593.5 219.6,604.9 218.1,616.2 214.9,622.3 208.5,625.3 203.6,618.2 199.2,613.4 196.3,605.3 192.7,597.5 190.6,593 186.4,588.4" fill="#4757a8"/><polygon points="143.7,637.4 151.5,628.8 161.5,625.1 169.6,627.1 167.9,635.8 164.3,643.6 163.1,652.7 156,657.5 149.1,651.2 145.3,645.4" fill="#4757a8"/><polygon points="187.6,595.9 194.7,594.8 198,603 198.8,612.4 200.9,618.8 200.1,626.1 193,629.1 187,624.4 185.4,615.8 187.6,607.8" fill="#4757a8"/><polygon points="197.6,617.6 208.7,618.4 217.2,614.7 218.3,622.1 209.3,626.5 197.6,626.9" fill="#4757a8"/><polygon points="187.5,626.3 196.6,626.3 196.6,645.2 188.3,646.3" fill="#4757a8"/><polygon points="186.4,665 194.1,662.2 200.1,667.1 207.1,667.9 217.9,671.3 221.3,682 225.5,689.6 221,697.3 212.7,700 204.4,699 196,696.2 188.5,686.4 183.5,679.2 184.7,670.5" fill="#4757a8"/><polygon points="187.7,643.6 197.2,643.6 198.8,655 198,665.4 188.5,668.6 186.8,655.1" fill="#4757a8"/><polygon points="314.1,675.9 323.4,674.2 330.5,672.2 333.8,681.5 337.2,688.8 332,694.4 326.1,699.3 321.5,706 310.5,711.2 301.3,712.8 292.4,712.8 291.6,703.2 295.5,692.8 301.7,686 307.8,681" fill="#3db54a"/><polygon points="308.5,658.9 315.3,651.5 321.7,647.1 331.3,646.2 340.9,649.1 339.9,654.7 336.7,658.1 333.8,664.6 330.5,669.9 324.5,672.1 321.2,665.8 317.7,664.5 313.4,666.4" fill="#3db54a"/><polygon points="334.7,654.7 341.5,651.9 351,653.7 359.1,656.3 362.2,663.7 361.7,672.5 357.8,681.1 351.6,688.6 345.6,694.4 340.1,700.4 334.1,701.5 331.3,695.3 332.8,687 330.6,680.8 328.3,672.2 330.7,663.5" fill="#3db54a"/><polygon points="284,720.4 286.7,715.5 293.2,711.9 302.4,711.1 311.1,707.9 319.8,703.9 324.8,697.7 327.5,691.7 333.7,695 336.3,701.8 332.2,709 326.1,715.8 318.5,722.4 311,728.9 305,735.5 298.4,740 292,738.1 287.2,730.1" fill="#3db54a"/><polygon points="73,746.5 76.6,742.7 83.5,742 90,739.1 97.2,737.1 103.5,739.8 107.1,745.1 109.5,750.2 110.1,756.9 107.2,763.2 105,769.1 103.9,775.4 100.6,779.1 95.3,774.7 89.7,771.1 83,766.2 77.2,761.1 74.3,754.6" fill="#ee6549"/><polygon points="109.1,753.7 113.6,748.9 119.8,753 126.5,754.2 132.6,758.2 134.9,764.7 137.2,770.8 139.5,777.3 137.2,783.6 137.2,792.3 133.4,796.6 126.1,799.2 119,798.5 111.9,795.3 106.1,790.2 102.5,783.8 101.3,777 104.8,770.7 107,764.6 109.1,760" fill="#ee6549"/><polygon points="149.4,761.7 156.4,757.9 163.2,754.8 170.1,752.9 177.2,752.3 183.4,755 187.6,761 188.8,768.8 187.7,776.4 185.6,782.1 187.4,786 183.6,790.1 176.6,790.1 171.3,787.1 166.4,788.5 162.8,783.1 158.5,780.8 153.8,776.9 150.4,771.9 146.6,766.4" fill="#ee6549"/></g>
<g filter="url(#spg)"><polygon points="123.3,530.5 126.6,527.5 134.4,526.6 141,528.4 143.2,533.3 142,538.7 138.6,543.4 131.2,543.4 125.4,540.7 123.3,535.2" fill="#4757a8"/><polygon points="295,571 297,565.5 301.4,566.9 303,572.2 306.8,576.4 303.6,578.8 299.7,584 295.9,579.8 296.9,576.6 295,575.2" fill="#f5cd1e"/><polygon points="292.2,631.8 296.5,625.8 300,629.6 301.6,633.8 304.1,637.6 301.7,642.9 296.5,639.5 293.7,635.9" fill="#3db54a"/><polygon points="222.9,766 229.4,761 236.3,756.7 241.1,754.9 242.1,759.5 236.5,765 230.7,768.2 225.1,769.7" fill="#f5cd1e"/><polygon points="202.9,791.6 208.9,786.7 214.3,788.9 218,792.3 220.4,798.8 221,804.5 216.9,808.1 212.7,804.3 209.2,801.1 206.9,797.4" fill="#f5cd1e"/><polygon points="219.1,805 222,810.7 223.7,815.7 224.9,821 222.7,826.5 220.1,820 218.7,814 217.2,808.7" fill="#f5cd1e"/><polygon points="220,853.5 222.4,846.8 226.3,843.3 231.5,843.3 234.2,848.5 234.6,855.3 230.9,859.7 225.6,861.1 220.7,858.8" fill="#f5cd1e"/></g>
<path d="M353.4 808.5V852.7H398.8" fill="none" stroke="#000" stroke-width="2.2"/>
<path d="M353.4 802.5l-5 14l5 -3.2l5 3.2zM404.8 852.7l-14 -5l3.2 5l-3.2 5z" fill="#000"/>
<text text-anchor="middle" transform="translate(344.1 831.6) rotate(-90)">UMAP2</text>
<text x="351" y="873.3">UMAP1</text>
<text x="368" y="895.3" text-anchor="middle">12,512 cells</text>
<text x="113.8" y="593.5" fill="#4757a8" text-anchor="middle">GABA</text>
<line x1="115.2" y1="598.5" x2="115.2" y2="614.5" stroke="#231f20" stroke-width="1.2"/>
<text x="324" y="625.5" fill="#3db54a" text-anchor="middle" font-style="italic">Vglut1</text>
<line x1="320.5" y1="632" x2="320.5" y2="648" stroke="#231f20" stroke-width="1.2"/>
<text x="235" y="806" fill="#f5cd1e" font-style="italic">Vglut1/2</text>
<line x1="222.5" y1="818.5" x2="233.5" y2="808" stroke="#231f20" stroke-width="1.2"/>
<text x="120.5" y="834" fill="#ee6549" text-anchor="middle" font-style="italic">Vglut2</text>
<line x1="120.8" y1="799" x2="120.8" y2="815.5" stroke="#231f20" stroke-width="1.2"/>
<text transform="translate(639.4 514) scale(1.08 1)" font-size="31.5" font-weight="bold" stroke="#231f20" stroke-width="1" stroke-linejoin="round">f</text>
<path d="M699.7 651.8h0M709.3 632.2h0M678.2 615.8h0M668.1 648.6h0M673.3 647.1h0M690 617.5h0M662.2 640.2h0M709.7 638.9h0M659.5 646.1h0M689.1 651.2h0M700.5 649.5h0M670.7 620.6h0M662.3 637.1h0M661.6 635h0M669.4 625.8h0M710.2 640.3h0M679.3 615.4h0M671.9 645.5h0M714.2 640h0M709.3 647.2h0M691.1 613.2h0M688.4 646.7h0M693.9 618.5h0M691.5 647.9h0M663.9 630.1h0M659.5 642.2h0M666.5 642.9h0M664.8 629.7h0M661.8 633.3h0M715.4 635h0M711.4 632.5h0M712.1 637.5h0M698.9 650.9h0M710.5 626.9h0M665.3 627.7h0M676.7 621.9h0M661.3 637.7h0M706.4 641.7h0M702.3 622.1h0M677.4 616.3h0M669.8 626.5h0M700.4 621.1h0M709.1 625.8h0M705 617.6h0M702.5 648.9h0M684 617.4h0M682.5 650h0M663.1 643h0M688.9 619.9h0M707.1 646.7h0M665.9 626.3h0M663.5 636.7h0M689.9 649.1h0M666.5 634.6h0M705.9 646.9h0M670.8 650.1h0M663.6 639.9h0M705.1 649h0M695.4 648.4h0M700.6 644.2h0M706.3 622.4h0M700.4 620h0M700.2 624.5h0M668.7 629.2h0M693.6 649.5h0M661.1 638.9h0M673.5 649.6h0M693.2 651.2h0M663 635.9h0M705.4 624.5h0M702.7 648.5h0M711.8 650.3h0M693.1 616h0M710.8 631.1h0M700.7 618.1h0M711.4 630.1h0M754.8 615.2h0M733.7 653.3h0M710.7 633.5h0M742.2 611.5h0M715.2 651.9h0M759 609.5h0M710.7 622h0M713.7 641.9h0M748.7 610.1h0M704.5 635.7h0M723.9 657.7h0M747.5 647.4h0M742.1 646.9h0M748.8 642.8h0M735 614.5h0M737.9 614.6h0M749 643.5h0M708.1 639.2h0M717.7 647.2h0M718.7 619.9h0M719 616h0M750.1 641.9h0M725.8 614h0M746.4 649.5h0M712.8 649.7h0M708.9 647.7h0M721.1 619.2h0M744.8 613.6h0M712.5 652.5h0M705.6 632.4h0M712.8 623.6h0M749.7 608.7h0M725.5 618.4h0M720.1 620.1h0M736.5 654.6h0M713.3 619.6h0M757.7 632.4h0M757 643.6h0M744.5 610.9h0M738.2 614h0M759 634.5h0M741.2 614.8h0M711.4 626.9h0M746.5 612.2h0M742.2 614.9h0M734.3 655.5h0M731.6 614.1h0M741.9 650.6h0M738 654h0M724.2 616.6h0M744.2 612.6h0M720.9 651.5h0M709.2 637.1h0M756.4 620.4h0M726.9 653.2h0M706.8 647.1h0M752.4 641.5h0M714.9 649.1h0M738.8 614.4h0M713.4 636.5h0M719.5 615.8h0M709.7 627.9h0M735.4 615.5h0M759.4 616.7h0M741 614.3h0M742.5 650.3h0M756.3 639.9h0M714.7 650h0M715.2 651h0M713 624.2h0M729.6 652.5h0M734.8 615.8h0M729.6 613.5h0M720.1 617.7h0M714.8 622.5h0M726.1 652.8h0M726.6 654.4h0M748.7 646.6h0M741.1 615.6h0M711.9 622.6h0M708.7 633.9h0M760.4 623.5h0M711.3 634.1h0M745.9 647.7h0M743.1 650h0M759.8 630h0M756.2 620h0M740 610.1h0M738.5 651.8h0M751.9 645.9h0M754 609.4h0M762.8 625.5h0M758.8 636.9h0M736 654.8h0M753.9 632.2h0M756.6 632.6h0M737.9 650.2h0M757.1 626.1h0M758.7 638.1h0M758.6 639.1h0M751.7 648h0M759.1 642.8h0M760.5 612.7h0M765.1 615.5h0M730.9 659.8h0M755.4 629.6h0M735 651h0M749.8 643.5h0M756.2 640.2h0M751.1 630.7h0M756.4 647.8h0M760.2 631h0M737.3 611.5h0M727.5 652.4h0M759.7 626.9h0M746.7 648.8h0M751.5 650.2h0M757.5 613h0M746.6 658.1h0M757.4 620.7h0M753.4 616.6h0M743.5 644.8h0M737.7 652.7h0M745.5 647.3h0M740.9 645.6h0M752.6 612.5h0M739 608.6h0M754.2 634.4h0M755 625.9h0M754.7 649.6h0M752.2 608.8h0M758.5 639h0M758 644h0M741.2 653.5h0M752.9 648.4h0M739.3 653.8h0M735 656.8h0M763.2 608.6h0M742 650.3h0M763.3 615.4h0M750.3 644.2h0M741.6 607.6h0M750.3 649h0M743.1 642h0M755.6 617.3h0M740 657.7h0M746.6 646.5h0M743.5 652.2h0M758.5 614.8h0M745.7 646.9h0M757.2 638.1h0M761.3 620.9h0M753.4 615.5h0M755 624.3h0M740.1 651.9h0M754.4 611.9h0M734.4 659.3h0M763 619.6h0M758 646.2h0M759.1 617.2h0M757.2 630.9h0M745.2 612.4h0M739.5 653.3h0M741.9 654.5h0M758.8 634.8h0M761.2 617.5h0M758.4 628.8h0M740.5 653h0M749.4 648.9h0M749.7 637.4h0M753 652.6h0M734.2 657.8h0M751.6 612.4h0M739.4 659.7h0M754 613h0M753.4 634.9h0M744.5 649h0M751.9 643h0M751.1 646.7h0M756 636.5h0M752.5 612.1h0M743.9 653.5h0M754.3 639.8h0M757.6 624h0M761.5 618.1h0M747.6 652.4h0M758.5 634h0M754.7 637.6h0M760 632.3h0M753.2 627.2h0M751 648.6h0M755.7 634h0M753.4 643.1h0M739.1 651h0M758.8 629.7h0M757.5 615.4h0M761.5 627.6h0M753.8 614.4h0M753.9 626h0M739.7 653.7h0M751.9 652.6h0M759.1 625.8h0M760.9 615.4h0M759.6 612.9h0M755.5 635.4h0M752.8 634.8h0M740.9 655.1h0M740.4 655.8h0M762.2 621.9h0M750.4 643.9h0M736.9 654.9h0M755.2 634.6h0M745.1 656.8h0M747.4 651.6h0M751.1 648h0M752.1 651.4h0M755.5 614h0M750.6 644h0M756.4 611.5h0M754.6 648h0M759.7 612.8h0M737.7 656h0M760.7 624.7h0M734.5 656.5h0M740.5 649.5h0M758.2 616.5h0M763.7 619.6h0M760.4 624h0M756.2 620.8h0M756.8 615.3h0M761.1 629.6h0M744.2 657.7h0M733.4 656.2h0M747.8 646.6h0M751 647.8h0M755.9 622.4h0M758.1 632.6h0M751.1 633.9h0M758.4 624.1h0M749.1 648.9h0M761.8 612.4h0M741.9 612.7h0M754.8 618.9h0M763.5 620.8h0M757.9 626.4h0M750.3 607.9h0M744.6 608h0M759 620.7h0M740.6 648.3h0M757.1 608.5h0M753.6 608.4h0M754.8 627.6h0M755.6 644.2h0M747 650.8h0M750.2 645.7h0M756.4 631.5h0M739.5 658h0M753.3 650.6h0M749.5 649.5h0M746.2 647.4h0M743.8 649.1h0M755.2 629.7h0M754.2 611.1h0M728.9 614.9h0M758.1 628.3h0M744.2 609.5h0M754.4 639.2h0M756.2 642.1h0M742.4 657h0M736.1 655.2h0M744.2 650.3h0M758.6 639.8h0M757.6 612.7h0M758.5 632.1h0M758.6 611.5h0M741.4 659.4h0M757.1 618.2h0M759.1 610.1h0M755.6 644.7h0M756.9 645.4h0M757.8 610.4h0M754.9 640.7h0M758.8 619.7h0M748.3 614.9h0M756.4 645h0M755 632.3h0M757.1 645.9h0M759 646h0M744.9 650.5h0M757.9 619h0M754.2 639h0M753.3 633.8h0M751.4 645.2h0M757.3 635.1h0M732.7 657h0M746.7 609.7h0M741.2 607.3h0M752.7 644.4h0M731 656.1h0M759.5 638.8h0M736.8 653h0M747.8 650.2h0M755.5 627.7h0M754.5 627.7h0M747.9 647.5h0M743.4 656.7h0M741.5 655.9h0M758.2 625h0M742.2 654.5h0M746.3 644.9h0M741.3 655.7h0M755.7 633.8h0M750.4 604.9h0M747.8 645.1h0M761.7 630.7h0M747.6 652.1h0M748.2 652.8h0M755.1 639.3h0M759.5 618.4h0M738.5 651.1h0M756.2 612.7h0M739.4 650h0M758.8 638.2h0M760.6 631.6h0M743.7 646.6h0M756.2 610.7h0M740.7 651.4h0M753.6 632.2h0M754 639h0M745.7 654.5h0M760.3 619.9h0M756.6 620.1h0M728.5 657.2h0M761.8 617.5h0M741.3 651.6h0M738.3 651.9h0M742.4 655.7h0M749.9 608.4h0M751.6 636.9h0M757.2 631.3h0M759.1 629.9h0M765.8 617.1h0M754.4 620h0M746 609.6h0M746.1 653.9h0M761.5 616.3h0M752.2 637.8h0M759.7 619.3h0M755.1 615.5h0M776.2 590.3h0M766.2 618h0M755.5 613.1h0M773.8 621.7h0M785.1 591.6h0M776.7 620h0M760.5 610.7h0M780.1 621.1h0M795.2 591.2h0M798.1 605h0M752.1 602.6h0M747.3 613.5h0M770.7 592.2h0M796.8 610h0M801.7 596.8h0M777.8 620.5h0M777.3 618.3h0M759.1 614.1h0M764.2 614.3h0M788.7 622.9h0M749.4 616.9h0M763.1 610.4h0M774.5 592.4h0M751 611.2h0M752.7 615.1h0M773.5 619.1h0M797.9 597.2h0M772.6 592h0M785.5 584.8h0M766.6 612.1h0M790.7 588.7h0M763.5 594.8h0M765.7 596.2h0M769.7 594.7h0M779.1 620.7h0M782.1 589.5h0M759.2 595.6h0M754.8 602h0M788.3 589.9h0M766.8 612.4h0M768.4 593.6h0M787.4 619.9h0M789.8 616.8h0M790.2 617.2h0M777.4 592.9h0M771.8 615.1h0M782.8 623.4h0M747.8 608.1h0M775.3 589.9h0M790.9 621.2h0M748.1 610.7h0M775.6 620.7h0M764.6 597.7h0M755.3 597.9h0M747.7 616.5h0M784.1 620.3h0M770.4 593.4h0M788 589.5h0M754.7 614.4h0M773.5 591.2h0M778.5 596.7h0M776.5 623h0M756.5 612.4h0M746.5 609.5h0M800.2 606.1h0M763.4 612.1h0M775 617h0M754.9 603.7h0M783.3 589.1h0M775.6 622.8h0M758.6 601h0M750.7 609.3h0M761 612.3h0M768.3 614.2h0M753 604.1h0M800.5 591.4h0M782.8 588.5h0M796.1 606.9h0M776.1 593.6h0M771.5 616.6h0M804.3 599.2h0M803.4 607.4h0M802.3 591.4h0M795.4 609.4h0M799.3 581.8h0M799.6 589.7h0M799.4 598.2h0M798.4 614.5h0M794.7 588.3h0M805.6 590.1h0M803.6 594h0M794 587.4h0M799.5 602.3h0M803.2 612h0M792 588.1h0M796.3 607.4h0M804.8 591.7h0M801.6 585.7h0M803.2 603.6h0M796.7 616.7h0M806.1 600.4h0M797.9 612.4h0M799 618.1h0M799.5 589h0M797.4 611.4h0M799.8 615.8h0M796.6 583.3h0M797.2 595.5h0M800.2 597.3h0M803.5 599.5h0M798.2 583.3h0M806.9 595h0M803.9 587.8h0M798.6 603.6h0M788.4 614.8h0M795.6 610.8h0M791.3 587.6h0M797.8 595h0M807.4 594.8h0M798.6 582.7h0M809.9 587.2h0M794.7 615.8h0M799.7 601.2h0M807.9 610.4h0M807.9 582.9h0M810.2 587.2h0M799.5 613.5h0M804.3 598.8h0M806.8 607.5h0M799.4 608.9h0M792.7 587.1h0M800.7 605.1h0M806.8 590.6h0M801.8 611h0M806.7 585.8h0M807.1 601.2h0M802.1 582.8h0M796.5 617.1h0M804.3 598.4h0M791.1 616.6h0M791.4 593.6h0M798.9 612.8h0M793.9 584.2h0M799.7 607.9h0M806.6 596.5h0M802.1 616.9h0M810.5 598.8h0M803.4 598.3h0M800.8 583.9h0M791.7 588.6h0M809.7 598h0M809 589h0M808.1 608.2h0M798.4 590.4h0M801.9 612.7h0M797.5 587.9h0M807.5 586.6h0M803 584.8h0M811.3 596.7h0M793.3 588.7h0M803.4 583.4h0M788 619.1h0M794.6 592.7h0M799.4 602.2h0M799.3 595.3h0M809.7 592.5h0M799.4 597.7h0M806.5 597.1h0M792.2 590.5h0M795.1 587.4h0M792.1 616.3h0M803.7 594.6h0M792.2 616h0M801.9 603.4h0M808 607.6h0M806.9 596.7h0M808.1 592.8h0M807.1 591.4h0M806.7 594.5h0M812.4 604.5h0M797 612.8h0M803.2 590.4h0M797.7 610.4h0M804.4 597.7h0M805.2 596.6h0M795.3 613.2h0M799.3 606.6h0M795.1 594h0M799.7 605.6h0M799.6 613.1h0M800.5 605.1h0M797.5 588.3h0M804.4 602.4h0M808.2 606.2h0M798.4 601.7h0M802.6 588.4h0M802.8 612.9h0M803.1 597.8h0M796.6 616.3h0M805.5 594.7h0M802.2 601.4h0M810.1 594.1h0M802.4 602.6h0M812.3 605.7h0M801.8 585.4h0M792.9 616.3h0M798.6 606.4h0M806.2 596.8h0M807.6 603h0M793.4 589.4h0M801.9 618.7h0M796.2 609.6h0M808.3 606h0M801 584.2h0M804 584.8h0M807.3 590.2h0M798.1 610.3h0M801.1 615.4h0M804.4 593.7h0M803.1 591h0M796 617.6h0M804.2 597.6h0M797.5 621.2h0M796.9 595.7h0M799.4 596.9h0M800.8 606.4h0M799.3 608.5h0M800.7 615.4h0M796.1 612.7h0M811.8 596.1h0M811.9 590.6h0M803.2 601.5h0M802.4 588.3h0M793.7 614h0M811.6 588h0M801.2 609.7h0M806.4 609.5h0M800.6 614.8h0M810 602.3h0M803.4 590.3h0M793.7 619h0M801.1 590.7h0M795.4 616.5h0M802.9 580.6h0M804.9 594.6h0M808.2 601.2h0M811.7 596.5h0M795.3 615.9h0M796.9 617.2h0M804.2 591.1h0M806.7 590.9h0M802.8 608.5h0M808.1 600.8h0M807 589.3h0M803.8 605.7h0M801.7 588h0M802.2 611.4h0M811.3 595.6h0M802.5 586.3h0M801.1 605.3h0M800.5 593.6h0M799.2 606.9h0M797 609h0M801.5 614.1h0M808 603.9h0M804.8 605.9h0M802.6 597.5h0M804.5 602.8h0M813.7 589.9h0M808.4 587.1h0M799.7 593.2h0M809.8 589.5h0M813 590.8h0M794.9 611.1h0M799.8 606h0M803.8 607.2h0M804 599.2h0M797.6 620.3h0M800 608.3h0M804.2 594.8h0M802.3 605.8h0M806.8 596.7h0M803.1 604.8h0M802.5 600.6h0M799.2 613.7h0M802.4 600.1h0M799.3 584.9h0M810.2 584.8h0M801.9 590.6h0M803 607.1h0M808.2 587.8h0M805.6 607.4h0M809.2 604.7h0M791.7 612.9h0M809.7 586.9h0M797.7 610.3h0M798.5 590.9h0M799.7 601.4h0M795.2 588.2h0M800.7 586.6h0M805 593h0M790.9 616.9h0M801.3 604.3h0M805.4 586.7h0M793.6 590.4h0M799.1 586.3h0M809.3 597h0M807 590.8h0M800.6 585.5h0M805.9 586.3h0M797.5 614h0M805.1 613.5h0M802.4 579.9h0M806.7 596.2h0M802.9 591.2h0M804.6 604.8h0M798.3 598.3h0M795.7 589.9h0M800.9 588.9h0M811.5 597.2h0M810.2 595.8h0M801.5 584.4h0M797.3 582.4h0M799.2 613.3h0M789.8 588.5h0M802.9 591.6h0M799.1 593.8h0M803.5 606.4h0M804.2 593.3h0M806.6 601.7h0M806.3 585.6h0M804 587.7h0M799.7 587.8h0M791.7 619.5h0M808.1 604.1h0M797.6 613.8h0M796.9 588.1h0M805.4 610.7h0M803.6 589.1h0M800.1 592.5h0M805.3 608.9h0M793.6 589.9h0M799.1 596.5h0M807.9 605.9h0M804.3 584.3h0M800.6 597.8h0M809 604.4h0M800.1 592.5h0M792.9 589.8h0M795.3 614.6h0M793.3 612.8h0M811.2 588.8h0M804.4 589.6h0M798.4 593.4h0M802 614h0M806.2 598.5h0M796.4 589.1h0M794.7 586.2h0M804.6 591.1h0M805.2 582h0M810.2 593.5h0M791.2 589.2h0M804.1 608h0M810.1 596.2h0M801.7 610.7h0M797.1 587.4h0M801.8 587.5h0M807.2 600.5h0M797.3 588.6h0M789.6 611.3h0M803.6 606.7h0M750.9 608.6h0M740.4 615.7h0M752.2 617.1h0M753.8 615.7h0M747.4 619.7h0M749.6 614.3h0M753.8 600.4h0M735.9 608.9h0M754.2 608.1h0M751.6 618.3h0M754.7 615.3h0M745.7 615.4h0M752.1 618h0M732.6 615.5h0M752 605h0M743.6 609.7h0M735.1 610.7h0M741 612.1h0M741.1 609.7h0M736.6 617.1h0M731.9 614.8h0M752.4 616.7h0M736.1 608.4h0M731 616.4h0M742.1 606.9h0M749.9 619.7h0M742.8 613.9h0M745.5 613.2h0M754.4 617.7h0M755 606.6h0M743.9 616.7h0M741.9 616.4h0M754.3 619.6h0M746.4 606.1h0M730.6 619.2h0M746.3 618.8h0M744.9 603.5h0M736.4 611.2h0M749.8 613.2h0M755 616.3h0M730.3 613.8h0M752.3 613.6h0M744.2 611.7h0M743.9 616.2h0M750.6 613.3h0M734 612.6h0M744.5 611.9h0M738.9 616.9h0M738.5 609.1h0M750.4 618.7h0M731.4 613.4h0M750.3 607.7h0M749.9 612.5h0M746.1 617.9h0M735.2 617.1h0M739.9 620.7h0M730.9 614.3h0M745 612.5h0M746 619h0M743.7 607.2h0M742.5 613.6h0M735.8 614.9h0M747.1 608.1h0M754.9 620.4h0M744.5 608.9h0M752.9 616.5h0M740.9 612.5h0M751.4 614.9h0M746.2 608.6h0M745.5 615.6h0M736.1 611.4h0M733.7 611.1h0M741.6 614.1h0M750.6 604h0M736.5 617.1h0M732.6 609.8h0M747.7 613.6h0M748.8 616.1h0M746.2 606.4h0M731.2 611.3h0M751 605.7h0M749.7 608.5h0M754.2 614.2h0M752.6 613h0M746.5 613h0M739.9 609.6h0M755.3 621.6h0M735.8 619h0M745 612.4h0M759.7 616.2h0M733 614.9h0M742.1 609.6h0M728.5 614.1h0M750.9 607.9h0M739 612.9h0M750.9 617.6h0M743.7 617.6h0M745.5 605.2h0M742.3 615.9h0M744.1 612h0M753.7 610.2h0M747.4 609h0M740.3 619.4h0M740.2 614.6h0M743.4 620.7h0M752.8 618.3h0M727.7 612.5h0M740.4 615.8h0M734.5 617.1h0M742.8 616.6h0M745.5 615.7h0M746 616.1h0M751.1 617.5h0M728.6 611.2h0M744.8 609.1h0M744.5 608.8h0M755.1 615.3h0M752.6 607.6h0M750.3 618.7h0M751.1 619.2h0M749.1 613h0M743.4 616.1h0M734.3 615h0M741.7 607.4h0M742.9 614.8h0M745.7 604.9h0M735.5 614.1h0M746.8 609.9h0M748 613.4h0M741.1 615.5h0M749 622.2h0M744.6 610.2h0M754.3 614.1h0M745.8 618h0M745.1 614.2h0M747.7 617.2h0M744 615.4h0M746.5 613.6h0M749.2 609.7h0M744.5 611.7h0M749.8 619.2h0M739.5 613.4h0M744.2 620.7h0M741.3 607.1h0M740.8 607.2h0M752.7 612.1h0M747.5 613.6h0M744.2 618.4h0M732.9 614.2h0M745.6 615.1h0M747.7 612.6h0M742 608.1h0M746.2 613.2h0M734.2 616.5h0M749.7 613.1h0M816.8 604.5h0M833.7 582.7h0M837.1 584.4h0M833.2 621.9h0M809.8 589.1h0M824.4 618.8h0M827.6 574.2h0M818.7 575.2h0M840.5 595.2h0M841.6 595.4h0M824.6 570.5h0M838.1 612.7h0M824.3 615.8h0M816.9 605.9h0M840.8 599h0M836.2 585.1h0M814.2 591.7h0M819.9 578.7h0M822.3 574.3h0M833.8 586.5h0M810.6 589.8h0M819.4 573.1h0M803.3 580.5h0M835.7 587.3h0M841.9 615.6h0M813.3 575.9h0M813.8 596.5h0M802.3 578.9h0M836.7 585.9h0M819.8 577.5h0M842.2 592.1h0M817.9 605.1h0M813.1 592.6h0M839.4 605.6h0M836.8 619.7h0M830.6 583.6h0M806.7 582.1h0M822.9 613.3h0M835.6 586h0M811.5 580.3h0M832.4 575.2h0M810.4 587.5h0M834.9 624.3h0M804.9 587.2h0M820.3 569.8h0M834.1 620h0M829.6 622.5h0M840.8 603.8h0M806.9 580.3h0M839.9 603.6h0M819.1 610.5h0M816.6 611.1h0M840.1 601.8h0M833.1 585.3h0M807.9 580.9h0M837.5 589.6h0M841.9 596.6h0M836.2 616.5h0M834.4 586.1h0M809 581.9h0M827.2 572.8h0M818.9 607.7h0M810.5 579.9h0M804.7 582.1h0M832.3 582.4h0M811.7 587.6h0M813.6 575.8h0M819.5 603.6h0M830 573.7h0M822.6 576.1h0M838.8 599.4h0M841.9 611.1h0M824.6 611.5h0M775.4 652.5h0M780 626.7h0M764.6 650.1h0M771.6 627.1h0M780.3 624.4h0M777.5 640.5h0M773.8 626.4h0M779.8 639.8h0M782.5 636.2h0M760.2 643.3h0M767.5 654.6h0M765.8 627.2h0M767.7 649.7h0M755.4 642.7h0M771.6 652.2h0M760.4 643.8h0M773.2 653.7h0M776.8 652.5h0M765.2 645.7h0M778.4 647.5h0M769.2 654.4h0M762 643h0M758.1 638.3h0M781.4 640.5h0M766.8 649h0M778.1 644.4h0M757.6 643.8h0M771.8 627.2h0M765.2 633h0M777.2 629.8h0M765.9 650.4h0M759.6 633.4h0M786.7 624.5h0M766.3 650.6h0M779.1 648.6h0M783.9 636.9h0M761.5 646.6h0M783.7 629.1h0M767.9 656.8h0M769.2 653.8h0M766.3 650.8h0M777.9 650.3h0M780.4 641.7h0M765.8 634.5h0M782.3 627.7h0M760.7 634.4h0M773 632.6h0M788.2 627h0M791.5 635.8h0M741.8 642.1h0M756.7 651.6h0M770.1 645h0M754.7 648h0M762.7 636.4h0M753.7 648.8h0M767.4 637h0M778.4 647.9h0M774.4 637.8h0M767.7 639.3h0M773.8 656.9h0M786.7 646.9h0M748.3 658.9h0M758.5 664.8h0M750.8 662.6h0M789.1 634.5h0M759.1 639.2h0M747 639.8h0M787.8 632.4h0M780.1 633.8h0M752.6 660.4h0M768.3 638.9h0M759.3 658.7h0M749.3 653.9h0M777.7 636.8h0M764.6 640h0M776 661.9h0M777.8 628h0M768.1 662h0M779 627.4h0M763.6 634.6h0M772.8 640.9h0M788.1 631.7h0M771.4 643.5h0M778.3 652.7h0M741.5 637.6h0M754.5 638.5h0M757.7 660h0M777.9 660.9h0M744.5 661.2h0M766.9 661.6h0M778.4 640h0M766.1 666.1h0M785.9 641.6h0M791.3 627.2h0M780.9 637.8h0M775.9 645h0M746.4 654.7h0M781 642.3h0M760 662h0M752.5 644.2h0M776 663.6h0M777.6 646h0M749 654.9h0M775.7 649h0M761.8 633.5h0M748.1 644.5h0M775.1 668.3h0M763.5 632.3h0M796 631.4h0M746.9 637.2h0M791.4 624h0M772.8 634.8h0M770.1 655.5h0M796.3 627h0M770.7 631.6h0M781.7 642.1h0M750.5 653h0M749.5 659h0M777.9 661.1h0M773.1 629.9h0M753.6 655.7h0M775.2 654.9h0M783.9 649.9h0M774.1 667.5h0M778.2 654.5h0M776.6 643.2h0M762.5 641.7h0M782 635.7h0M784.1 643.8h0M758.7 662.5h0M750.7 659.9h0M752.7 658.2h0M775.6 659.2h0M779.3 626.2h0M768.1 631.5h0M764.7 645.3h0M751.4 655.5h0M773.4 635.2h0M796.5 628.4h0M780.3 663.3h0M753.8 658.7h0M771.6 637.6h0M749.6 640.7h0M776.4 625.5h0M759.8 660.7h0M770.1 654.7h0M760 649.5h0M763.7 649.6h0M755.1 643.2h0M769.5 632.8h0M781.9 649.3h0M760.2 662.6h0M787 644.8h0M777.8 640.8h0M783 633h0M771.2 666.6h0M756.8 648.8h0M742 646.8h0M776.1 639.2h0M783.6 629.1h0M761 640.4h0M744.9 635.4h0M769.2 655.8h0M755.5 632.4h0M789.1 630.8h0M774.7 641.2h0M793 629.3h0M754.8 662.4h0M783.9 651.2h0M741.4 639h0M793.4 630.7h0M748.3 645.1h0M767.8 644.7h0M773.6 631.7h0M750 641h0M757.8 635.4h0M783.2 633.2h0M746.4 654h0M755 643.4h0M772.7 650.9h0M777.9 650.3h0M748.2 659.4h0M779.2 640.9h0M768.8 664.1h0M744.1 643.9h0M770.3 664.8h0M783 645.1h0M762.9 654.6h0M764.9 644.2h0M767.9 631.6h0M777.8 665h0M758.6 654.2h0M758.6 639.7h0M785.3 656.7h0M770.9 656.2h0M780.2 659.5h0M783.2 628.6h0M784.6 632.5h0M767.7 664.6h0M746.9 662.5h0M770.8 651.7h0M761.5 654.5h0M756.5 662.7h0M763.1 641.2h0M748.2 645h0M746.7 637.1h0M767.1 648.1h0M771.4 640.6h0M790.2 627.7h0M777.2 625.9h0M789.1 629.2h0M777.3 649.3h0M748.6 647.1h0M748.9 658.1h0M738.6 642.4h0M791.4 624.2h0M761.9 626.9h0M789.8 631.7h0M776 665.6h0M773.7 630.5h0M783.4 652.1h0M777.5 658.5h0M787.6 634.7h0M748.4 656.5h0M776.3 639.4h0M789.9 621.9h0M787 627.2h0M772.4 649.5h0M788.4 635.1h0M746.1 656.4h0M755.7 640.6h0M762 633.3h0M760.5 649.3h0M763.3 631.1h0M757.2 640.3h0M763.9 647.8h0M757.6 649.8h0M742.7 649.7h0M783.1 632.8h0M765.7 636.1h0M778.5 634.6h0M750.7 645.4h0M772.4 662.1h0M772.4 658h0M768 636.8h0M775.9 640.1h0M761.3 629.9h0M770.2 661.7h0M760.8 642.4h0M771.3 650.7h0M767.9 659.8h0M745.9 637h0M785.4 645.8h0M768.4 661.5h0M741.1 644.6h0M787.8 627.3h0M746.1 650.4h0M754 649.1h0M772.4 627.8h0M784.9 656.6h0M763.1 669.1h0M770 649.9h0M754.7 650.5h0M764.2 649.4h0M789.6 623.1h0M777.3 629h0M762.6 643.1h0M759.1 644.2h0M767 632.7h0M777.8 660.4h0M756.7 663.4h0M787.8 641.5h0M756.6 656.5h0M743 638.8h0M774.6 659.6h0M767.7 630.3h0M767.3 635.2h0M787.7 625.9h0M776.8 662h0M778 650.5h0M762.7 670.1h0M762.7 655.7h0M751 640.7h0M769.1 628h0M761.7 647.1h0M749.5 662.9h0M754.1 648.9h0M777.2 644.4h0M765.3 630.1h0M765.2 634.6h0M784.1 642.1h0M761.3 653.1h0M754.4 634.9h0M778.8 631.6h0M778.4 642h0M772 645.6h0M751.7 642.7h0M762.8 635h0M778.4 661h0M755.2 637.4h0M766 650.7h0M762.5 629.1h0M762.6 630.4h0M776.6 651.8h0M783 640.4h0M789.7 634h0M769.2 629.9h0M776 647.6h0M778.7 655.7h0M751 640.8h0M765 661.7h0M780.2 637.6h0M764.8 636h0M777 640.8h0M749.1 655.3h0M757.1 654h0M772.4 651.6h0M756.2 645.7h0M757.7 659.3h0M761.8 660.8h0M748.8 641h0M751.5 658h0M762.1 668.6h0M768.8 640.4h0M762.7 642.8h0M779.8 656.1h0M768.7 654.6h0M778.9 656h0M761.7 661.1h0M761.2 648.5h0M783.5 647.1h0M787.7 652.7h0M755.6 641.3h0M756.9 642.4h0M745.6 644.8h0M760.5 660.3h0M775.6 655.8h0M767.8 644.7h0M750.6 642.8h0M749.4 648.1h0M778.6 655.9h0M762.2 655.1h0M761.9 648.6h0M785.7 632.1h0M772.3 653.5h0M792.4 642h0M762.1 644.3h0M770.6 665.2h0M757 654.3h0M764.4 631.7h0M769.5 648.7h0M755.4 662.8h0M769.9 665h0M755.9 636.1h0M783.7 634.5h0M768.4 665.8h0M782.4 655.5h0M748.3 642h0M778.4 630.7h0M746.4 648.8h0M756 663.6h0M760.5 646.4h0M781.9 650.8h0M782.2 628.3h0M753.2 646.1h0M775.6 625.9h0M750.9 648.5h0M769.2 622.1h0M762.8 658.6h0M753.9 646h0M785.3 642.8h0M777.7 646.9h0M757.2 663.9h0M749 651h0M766.7 657.8h0M769.2 635.5h0M750.9 655.4h0M747.2 656.1h0M762.5 631.3h0M762.8 646h0M752.5 646.5h0M777 632.7h0M755.4 633.7h0M753.8 642.1h0M794.9 634.6h0M755.2 664.4h0M786.6 637.3h0M750 648.9h0M777.3 638h0M768.8 648.3h0M790.8 633.8h0M786.4 630.9h0M743.6 643.9h0M761.9 651.8h0M761.3 631.7h0M790.8 635.4h0M765.8 654.9h0M770.2 632.6h0M763.7 646.8h0M755.9 634.4h0M777.8 665.3h0M780.8 650h0M749.4 660.5h0M754.6 670.4h0M771.1 644.2h0M762.5 666.4h0M747.4 658.3h0M786.8 638.1h0M763.3 660.9h0M762.9 650.3h0M755.5 653.2h0M760 649.9h0M765 635.8h0M752.3 655.5h0M764 634.2h0M773.8 628.7h0M774 635.9h0M775.5 635.9h0M764.8 664.2h0M756.7 663.8h0M754.4 663.3h0M747.9 660.6h0M752.8 639.4h0M746.3 656.2h0M753.2 656.3h0M781.6 640.3h0M762.4 650.8h0M748 664.2h0M765.5 668.6h0M759.4 636h0M792.9 637.2h0M786.1 641.1h0M782.2 658.3h0M764.9 639h0M756.6 630.9h0M776.2 660h0M773.6 637h0M773.5 629.7h0M761 632.8h0M787.4 645.2h0M775.8 656.7h0M770.3 633.8h0M760.6 660.7h0M751.8 636.3h0M755.1 664h0M771.2 640.8h0M774.1 640.6h0M784.7 644.9h0M760.1 637.5h0M744.5 644.4h0M758.8 643.9h0M770.9 650.3h0M766.1 661.4h0M764.1 641.4h0M776.1 628.1h0M776.4 658.2h0M776.6 636.8h0M791.2 633.5h0M757.3 636h0M782.2 644.2h0M774.1 663.5h0M766.8 655.6h0M794.8 630.7h0M785.4 634.1h0M782.2 653.8h0M769.7 629.3h0M789.8 630.9h0M745.5 657.5h0M781.9 635.3h0M767.5 627.8h0M776.3 661.9h0M789.5 644.9h0M758.8 660.3h0M767.3 642.3h0M770 666.9h0M786.4 648.8h0M771 656.9h0M775 645h0M759.3 652.1h0M772.5 660.6h0M762.2 631.1h0M778.4 659.5h0M744.7 639.1h0M759.1 655.4h0M752 640.5h0M791.8 628.1h0M775.8 642.9h0M771.5 636.1h0M784.8 643.7h0M781.1 658h0M774.6 632.4h0M754.4 658.7h0M747 641.8h0M772.8 650.1h0M760.9 643.5h0M790.4 632.5h0M764.8 665.1h0M762.4 641.3h0M767.7 634.5h0M760.3 664.8h0M788 641.3h0M756.3 661h0M759.1 647h0M764.2 651.5h0M773.7 649.8h0M770.7 643.9h0M770.8 628.6h0M759.6 660.1h0M741.6 653.6h0M780.8 642.9h0M752.2 662.3h0M774.3 648.6h0M755.3 657h0M777.8 654.3h0M745.2 634.4h0M782.8 631.4h0M753.1 646.8h0M760.4 638.2h0M789.5 650.4h0M765.9 650h0M769.6 640.1h0M744 642.9h0M748.2 651h0M768.1 638.7h0M771.8 630.5h0M777.8 665.6h0M735.8 640h0M781.6 657.5h0M755.2 649.3h0M778.5 644.4h0M742.5 643h0M768.2 661.2h0M786.9 634.5h0M776.6 661.1h0M760.1 657.6h0M740.9 651.9h0M763.2 662h0M763.1 658.7h0M763.2 654h0M782.4 626.2h0M747.8 650h0M765.8 646.1h0M758.9 665.5h0M784 640.4h0M792.5 629.4h0M782.8 646h0M791.3 638.4h0M769.7 634.4h0M767.6 654.7h0M744.6 657.5h0M769 659.7h0M777.7 651.1h0M764 664.4h0M778 650h0M754.6 636.5h0M765.9 662.3h0M767.8 665.4h0M778.4 653h0M759.2 642.1h0M764.6 641.7h0M777.1 656.3h0M778.9 624.8h0M774.1 638.6h0M782.1 635.3h0M768.2 631.6h0M782.1 645.6h0M783 643h0M778.4 652.6h0M748.5 648.5h0M767.8 644.9h0M753.8 648.4h0M769.8 628.5h0M776.3 647.5h0M757.7 645.9h0M780.9 654.2h0M749.8 654.1h0M764.9 641.9h0M742.6 643.9h0M778.9 662.1h0M780.8 624.8h0M741.3 638.6h0M781.7 653h0M790 639.7h0M783.1 652.6h0M770 632.7h0M784.5 636.5h0M748.7 655.3h0M783.9 648h0M754.5 642.3h0M763.3 661.6h0M753.7 668h0M770.8 657.1h0M771.3 653.7h0M762.8 628.8h0M770.9 669.7h0M763.2 660.7h0M738.3 641.2h0M778.9 653.7h0M781.6 655h0M761.6 654.3h0M756.4 634h0M776.8 629.3h0M766 669.4h0M777.8 628.9h0M745 647.6h0M768.9 650.7h0M782.5 657.6h0M772.6 644.5h0M785.5 646.7h0M767.6 661.8h0M753.9 662.8h0M746.3 645.8h0M780.5 629.6h0M782.5 633.5h0M768 632.3h0M764.1 636.7h0M753.2 648.7h0M777.8 631.7h0M749.4 658.1h0M757.3 642h0M755.6 634.9h0M770.8 644.2h0M748 642h0M754.8 640.5h0M740 641h0M773.2 647.3h0M742 649.1h0M777.9 638.6h0M763.4 668.4h0M772.8 626.1h0M761.8 643.2h0M751.7 642.1h0M768 664.7h0M748.9 646.7h0M792.1 638.4h0M760.6 637.9h0M784 647.3h0M748.1 663.6h0M758 638h0M759.7 632.8h0M776.9 661.8h0M770.8 664.6h0M760 649.2h0M772.9 631.6h0M787.6 626.1h0M740.8 644.8h0M764 637.7h0M772.8 636.3h0M770.6 635.1h0M783.1 646.5h0M772.6 641.1h0M750 633.8h0M762.9 655.3h0M772.8 644.1h0M762.4 634h0M755.8 649.6h0M765.4 653.7h0M784.1 633.7h0M774.9 665.7h0M757.8 638.2h0M765.2 651.3h0M764.6 659.8h0M768.4 664h0M786.8 636.7h0M782 645.4h0M770.4 663.5h0M755 635.9h0M780.6 631.5h0M769.6 666.6h0M752.9 639.4h0M779 649.1h0M791.1 633.6h0M749.3 645.6h0M763.9 666.4h0M741.6 638.4h0M765.6 632.7h0M764.4 642.5h0M781 646.8h0M789 635.2h0M771 664.6h0M774.4 634.1h0M758.2 639.7h0M754.2 632.6h0M769.2 669.1h0M776.6 660.7h0M760.9 638.2h0M775.1 654.9h0M765.5 632h0M779.1 633.1h0M783.8 646.3h0M766.6 643h0M782 630.4h0M774.8 648.8h0M755.8 656.8h0M774.7 633h0M763.2 638.7h0M766.3 652.3h0M765.4 638.9h0M761.9 662.7h0M738.7 643.2h0M794.5 632.7h0M760.7 658.5h0M773.1 660.6h0M769.4 660h0M758 666.6h0M752.8 647.1h0M774 646.3h0M761.3 652.1h0M775 661.5h0M764 662.4h0M747.4 652.7h0M770.5 661.7h0M740.5 654.4h0M739.3 639.6h0M770.6 661.3h0M754.5 638h0M774.4 635.2h0M767.3 646.9h0M766.7 655.5h0M776.4 657.7h0M771.8 663.6h0M754.4 660.2h0M777.3 648.9h0M760.7 659.1h0M765.5 632.2h0M766.2 652.2h0M774.8 640.7h0M776.6 657.6h0M763.5 660.3h0M742.1 642.7h0M757.4 631.1h0M754.1 648.4h0M753.9 646.3h0M786.9 643.2h0M767.9 655.6h0M755.8 637.8h0M770.6 652.5h0M738 647.9h0M757.9 651h0M744.1 640.6h0M771.8 657.1h0M785 645.7h0M750.7 634h0M745.1 659.5h0M743.7 648.7h0M766.7 639.5h0M784.5 657h0M795 632.3h0M785.2 627.4h0M764.9 641.4h0M770.3 665.9h0M757.1 663.6h0M758.7 633.6h0M750.3 634.8h0M775.3 648.9h0M790 643.8h0M794.2 638.6h0M762.2 630.2h0M779.7 629.9h0M752.1 645h0M756.4 634.1h0M759 642.7h0M774.6 626.4h0M754.8 634.8h0M783.2 656.2h0M764.2 667h0M762.3 643.6h0M763.6 630.9h0M775.2 641.3h0M788.8 643h0M775.2 644.1h0M759.9 643.7h0M780 647.5h0M789.4 629.4h0M776.2 644.3h0M738.9 640.3h0M751.5 651.6h0M754.1 663.3h0M744.4 643.7h0M766.6 629.6h0M781.7 660.9h0M791.1 630.2h0M752.3 658.1h0M759.6 632.5h0M764.3 647.6h0M768.6 664.3h0M790.7 653.3h0M780.3 629.7h0M766.6 636.4h0M788.9 635h0M772.5 638.1h0M771.6 663.9h0M760.9 652h0M753.1 664.8h0M736.7 641.7h0M752.7 644.3h0M776.1 655h0M764.1 654.5h0M783.8 649.1h0M769.5 638.9h0M750.1 654.7h0M769.5 633h0M770.9 645h0M767.2 664.2h0M787.3 628.8h0M768.5 628h0M776.5 647.2h0M764.3 644.8h0M767.3 640.4h0M769.8 666.3h0M758.9 652.1h0M781 641.8h0M754.2 662.6h0M761.3 666.5h0M766.1 638.2h0M752.6 663h0M784.7 642.9h0M741.8 650.4h0M767.3 636.3h0M768.3 651h0M772 667.3h0M770.3 650.5h0M757.4 645.8h0M790.9 633.1h0M777.7 645.9h0M776.7 663.8h0M773.6 640.3h0M776.3 643.2h0M749.9 666.1h0M753.9 642.3h0M781.2 653.2h0M758.9 660.2h0M778.7 628h0M746.9 642.4h0M778.8 664.5h0M772.3 652.4h0M778.2 663.4h0M774.4 645.2h0M756.3 657.2h0M766.3 645.8h0M744.1 640h0M741 652h0M759.6 647.4h0M765.6 651.7h0M739.7 647.9h0M743.2 649.7h0M774.9 665.3h0M770.6 637h0M737.1 644.2h0M781 650.3h0M749.7 652.7h0M762.1 630.7h0M752.5 654.1h0M783.7 637.1h0M738 641.4h0M746.2 645.5h0M764.1 661.2h0M741.6 645.7h0M746.2 642.8h0M774.8 661h0M793.1 627.8h0M757.8 634.4h0M763.3 653.3h0M775 653.7h0M768.9 642.2h0M774.4 665.5h0M788.5 645.1h0M741 644.9h0M783.9 634.1h0M784.1 631.2h0M756.5 632.5h0M787.5 646.1h0M754 637.2h0M786.8 633.3h0M780.7 632.2h0M772.7 654.6h0M765.4 658.3h0M775.8 642.3h0M774.4 629.1h0M785 645.2h0M758.7 645.8h0M751.8 631h0M745.1 635.8h0M755.4 650.5h0M774.9 666.6h0M774.1 652.8h0M744.2 635.4h0M769 628.8h0M787.1 635.8h0M772.5 634.4h0M754.6 664h0M744.9 649.6h0M776.1 655.5h0M785.9 646.5h0M772 637.3h0M753.3 658.8h0M756.6 634.5h0M786.9 640.1h0M777.5 648.3h0M776 637.5h0M773.1 669.2h0M754 660.2h0M782.8 626.3h0M755.7 634.4h0M754.7 662.1h0M769.1 653.3h0M736.8 641.6h0M764.1 655.8h0M760.2 655.1h0M765.8 631.7h0M767.6 658.2h0M753 651.9h0M771 655.5h0M737.4 641.3h0M757.2 644.6h0M762.2 659h0M759.1 632.7h0M786.5 637.4h0M769.3 656.9h0M778.4 648.6h0M772.3 660.7h0M755.5 651.7h0M754.7 663h0M756 663h0M783.1 627h0M794.4 633.9h0M772.1 665.4h0M764.9 664.7h0M771.3 646.8h0M775.9 653.5h0M782.2 653.5h0M772.4 636.9h0M775.1 650.1h0M773.4 657.8h0M742.6 646.4h0M774.1 663.5h0M760.4 641.5h0M736.7 644.3h0M762.4 641.8h0M760.6 641.5h0M772.9 643h0M761.3 641.8h0M780.1 627.8h0M761.5 633.7h0M756.2 636.3h0M780.2 647.5h0M748 641.9h0M754.2 638.9h0M782.6 641.7h0M769.7 642.4h0M775.5 657.4h0M781.3 630h0M759 646.5h0M769 652.6h0M779.6 628.1h0M760.5 652h0M747.2 657.7h0M788.9 644.9h0M775.9 664.8h0M771.1 668h0M769.5 667.3h0M758.9 658.5h0M767.4 668.4h0M779.5 634.2h0M783.8 628.3h0M748.7 662.3h0M760.8 654.3h0M773.1 648.3h0M776.9 641.7h0M758.7 634.5h0M781.3 626.3h0M775.3 623.2h0M762.6 657h0M795.6 629.9h0M775.4 650.1h0M781.7 625.7h0M755.3 635.1h0M777.4 627.2h0M786.1 632.2h0M743.6 645.6h0M753 637.9h0M784.5 629.1h0M779.2 638.5h0M771.2 658.8h0M762.2 645.9h0M756.3 645.8h0M767.4 629.9h0M757.3 658.3h0M743.6 654.7h0M774 644.2h0M789 643.3h0M749.1 651h0M769 663.6h0M761.6 634.3h0M766.5 633.4h0M773 665.9h0M761.4 628.6h0M743.4 646.1h0M757.4 647.5h0M772 651.8h0M778.8 639.9h0M760.8 632.5h0M784.9 651.2h0M782 634h0M781.4 628.7h0M755.9 650.2h0M758.8 640.8h0M770.1 634.3h0M751.2 648.2h0M765.8 650.6h0M750.9 643.4h0M762.9 658.6h0M764.3 661.6h0M766.7 653.2h0M754.9 641.7h0M759 654.9h0M741.3 641.5h0M782.9 659.2h0M780.2 642.7h0M764.3 643.5h0M755.7 650.4h0M754.9 647.5h0M786.2 641.5h0M781 665.9h0M780.1 660.6h0M758.5 639.5h0M771.2 651h0M761 656.6h0M780.1 645.6h0M765.5 652.5h0M762.1 629.9h0M770.2 635.8h0M746.6 654.6h0M767 632.7h0M751.3 639.6h0M790.6 638.4h0M789.6 633.1h0M792.7 634.7h0M775.7 643.4h0M759.4 641.7h0M752.6 639.5h0M790.9 644.1h0M768.6 631.7h0M783.1 624.6h0M744.1 647.3h0M789.5 630.3h0M755.7 645.5h0M778.9 659.9h0M792.4 636.8h0M764.3 660.7h0M765.6 650.7h0M770.1 628.3h0M793.6 628.3h0M753.3 662h0M766.7 666.4h0M774.5 634.4h0M771.7 635.5h0M765.9 627.9h0M740.8 649.5h0M767.2 646.9h0M755.1 646.5h0M786.1 641.1h0M749.9 651.2h0M770.8 644.8h0M756.2 662.1h0M780.6 642.1h0M781.5 628.9h0M768.4 664.7h0M746.8 651.3h0M777.7 633.5h0M765.1 652.2h0M754.7 657.5h0M772.2 661.9h0M777.6 635.5h0M768.7 646h0M763.4 657.8h0M778.1 651.1h0M780.5 645.8h0M761.7 656.7h0M744.2 641.8h0M774.5 646.2h0M770.5 652.1h0M782.1 641.6h0M762.9 650.3h0M754.2 653.2h0M773.2 639h0M790.4 637h0M753.7 643.1h0M758.7 656.3h0M749.7 649.4h0M775.4 626.5h0M761.8 660.4h0M756 631.6h0M769.6 655.1h0M760.9 648.3h0M739.7 647.6h0M763.9 667.6h0M773.5 663.2h0M759.9 634.5h0M756.3 637.1h0M755.7 656.1h0M781.5 655.7h0M784.7 633.7h0M767.6 651.8h0M745.3 643.8h0M765.5 641.7h0M750.2 650.7h0M754.6 656.4h0M757 642.2h0M789.2 626.9h0M768.4 636.3h0M760.3 649.8h0M777.3 647h0M778.5 658.3h0M753.5 666.9h0M768.4 665.2h0M756 660.7h0M747.1 641.8h0M756.3 648.2h0M776.4 638.8h0M780.2 633.3h0M746.2 656.3h0M759.5 648.2h0M785.1 632.8h0M781.1 627.3h0M772.8 642.1h0M781.9 628.6h0M787.6 630.1h0M780.7 632.3h0M791.7 634.9h0M782.6 636.9h0M772.2 641.8h0M785.4 648.1h0M772.3 641.8h0M762.3 653.6h0M776.6 635.9h0M749.8 652.1h0M761.7 640.3h0M779.1 635.4h0M757.6 643.6h0M763.5 665.9h0M786.6 626.2h0M748.2 640.8h0M782.3 644.6h0M764.9 638.3h0M779 645.2h0M779.8 635.1h0M753.6 637.9h0M777.4 635.5h0M751.3 653.9h0M786.6 623.4h0M786.3 639.2h0M790 639.5h0M767.2 628.2h0M742.6 636.8h0M786.6 633.4h0M762.9 661.4h0M766.1 662.5h0M770.1 638.1h0M744.7 651.6h0M748.9 635.9h0M783.9 646.6h0M764 634.3h0M772.8 637.4h0M764.4 652.4h0M784.4 628.8h0M769.5 635.6h0M744.8 663.4h0M759.6 641.6h0M784.7 646.8h0M777.2 646.9h0M769.3 631.5h0M777.1 660.6h0M787.3 635.2h0M783.5 650.3h0M775.8 655.6h0M766.7 654.6h0M760.1 659h0M781.7 643.2h0M742.7 646.8h0M774.9 663h0M786.9 642.1h0M775.3 665.3h0M786.2 657.4h0M769 664.2h0M777 652.2h0M759.9 633.6h0M745.5 643h0M754.3 666.1h0M755.6 652.3h0M773.1 656h0M760.9 628.1h0M750.8 651.8h0M761.7 642.1h0M763.6 636.6h0M767.5 644.8h0M785 634.9h0M763.4 666.8h0M778.9 641.5h0M781.5 638.4h0M746.7 641.4h0M787.2 650.8h0M778.4 657.7h0M770.3 652.6h0M779.9 664.1h0M782.2 650.3h0M771.9 661.5h0M779.8 632.4h0M782.7 646.8h0M764.1 629.1h0M769.3 659.9h0M788.8 626.9h0M775.6 636.3h0M761.8 653h0M767.2 650.9h0M793.6 633h0M771.2 645.1h0M773.6 634.5h0M771.8 654.7h0M771.4 653.7h0M749.8 659h0M783 626.9h0M784.3 637.8h0M770.1 655.7h0M767.7 651.9h0M759.8 666h0M780.8 653.2h0M791.8 633.9h0M768.5 646h0M770.2 644.3h0M767.4 649.1h0M763.4 637.5h0M781.1 643.4h0M753.1 635.3h0M779.3 632.7h0M743.8 647.1h0M773.9 629.9h0M758.8 654.8h0M759.4 650h0M759.2 667.9h0M762.5 656.7h0M759.5 632.5h0M749.5 662.1h0M758.5 654.5h0M788.9 648h0M757.2 648.8h0M765 649.1h0M791.6 638.7h0M762.1 641.8h0M788.8 645.8h0M784.9 632.2h0M745.5 654.3h0M792.6 636.2h0M778.7 662.5h0M760.7 635.3h0M775.3 666.5h0M777.8 651.9h0M753.1 648.6h0M775 641h0M784.9 649.2h0M755.4 661h0M757.2 657.6h0M767.3 658.2h0M750.9 647.8h0M772 656h0M771.5 626.2h0M813.6 630.4h0M817.8 611.8h0M809.4 603.9h0M808.4 619.4h0M805.3 620.4h0M803.5 613.9h0M805.2 621.8h0M813.8 622.7h0M814.5 594.7h0M820.9 623.2h0M813 601.9h0M820.2 613.6h0M817 623.7h0M806.5 604.1h0M809 607.2h0M810 598.9h0M806 602.9h0M809 604.6h0M808.5 611.9h0M812.8 596.8h0M816.4 596.3h0M807 600.2h0M813.5 596.1h0M810.3 619h0M808.6 626.1h0M819.1 622h0M818 603.5h0M820 618.6h0M819.7 616.6h0M805.3 626.8h0M819.8 620.5h0M820.5 619.6h0M815.9 611.3h0M814.7 602.1h0M821.6 618.5h0M806.6 609h0M812.3 596.4h0M806.9 621.9h0M815 602.1h0M815.4 612.6h0M809.4 620.2h0M809.8 608.5h0M832.4 617.2h0M836.8 624.1h0M839.8 620.9h0M826.5 621.7h0M838.3 616.9h0M821 622.3h0M838 618.8h0M833 620.4h0M831.5 623.8h0M836.3 620h0M822 622.3h0M831.7 623.9h0M837.1 619.1h0M823.6 617.2h0M819.2 619.3h0M836.6 626.7h0M825 624.5h0M821.7 622.4h0M833.7 623.9h0M835.3 620h0M823.5 624.2h0M837.6 625.3h0M833.5 626.2h0M831.3 627.2h0M821 618.9h0M828.5 625h0M832.2 624.1h0M828.9 627h0M804.6 630.7h0M813.7 627.1h0M813.2 644.5h0M807.2 627.3h0M811.8 629.9h0M806.1 646.3h0M810.7 645.5h0M808.1 632.3h0M818 637.6h0M811 626.3h0M807.5 627.6h0M810.5 626.2h0M817.1 638.7h0M806.5 638.8h0M814.3 647.9h0M808.1 631.3h0M810.1 640.8h0M817.8 636.1h0M807.6 645.1h0M815.3 638.2h0M813.5 627.1h0M807.7 627.9h0M814.4 636.1h0M809.7 647.1h0M812.8 635.2h0M813.5 633.6h0M803.1 633.7h0M804.2 618.3h0M799.1 618.1h0M803.6 623.9h0M803.6 623h0M806.4 612.8h0M796.6 614.2h0M811.9 626.7h0M801.9 616.4h0M808.6 630.3h0M806 622h0M806.1 608.4h0M801.2 622.9h0M803.3 614.4h0M800.7 621.2h0M808.9 628.1h0M807.3 610.1h0M799.9 615.8h0M810 629.9h0M800.6 611.9h0M802 622.3h0M805.2 627.2h0M801 620.7h0M803.3 615h0M803.7 612.4h0M804.6 612.8h0M799.4 610.7h0M805.9 619.5h0M801.6 619.3h0M805.9 630.9h0M803.9 622.4h0M798.1 617.1h0M804.8 630.4h0M807 624.9h0M805.5 609.3h0M803.8 627.8h0M798.6 612.2h0M802.4 623.9h0M804.4 613.6h0M799.7 623.8h0M802.3 614.2h0M800.8 612.6h0M807.1 623.1h0M801.7 623.9h0M804.3 632.2h0M799.7 611.8h0M803.1 618.9h0M804.9 619.3h0M803.3 612.8h0M807.8 624.3h0M798.6 627.6h0M797.2 622.4h0M800.5 619.1h0M798.4 612.6h0M809 630.1h0M797.6 623.8h0M803.6 620.8h0M804.2 624.6h0M806.5 608.8h0M805.1 616.8h0M806.3 613.5h0M801.9 620.4h0M801.6 619.9h0M803.3 620.2h0M801.4 622.7h0M805.1 621.4h0M807.9 629.7h0M798.3 615.4h0M803.3 629.3h0M808.5 609.9h0M804.1 606.9h0M804.1 633h0M802.4 624.5h0M801.7 616.5h0M804.6 609.7h0M808 623.6h0M803.2 629.4h0M806.7 626.1h0M803.5 615h0M798.8 617.7h0M806.4 613.4h0M797.1 613.1h0M801 626.1h0M803.8 623.6h0M806.6 623h0M804 614.6h0M807.8 624.3h0M802.7 625.9h0M801.7 624.3h0M799.4 628.9h0M801.3 615.2h0M799.7 620h0M803.3 622.4h0M805.3 611.6h0M803.7 610.4h0M800.3 618h0M798.7 612.1h0M802.5 608.5h0M806 631.6h0M801.7 618.9h0M796 612.3h0M808.2 608.8h0M804.3 609.2h0M801.6 625.8h0M803.6 627.7h0M816.9 643.6h0M813.9 632.7h0M816.9 644.8h0M823.5 632.4h0M815.9 627.9h0M824.5 630.8h0M814.9 643.8h0M821.8 639.2h0M817.1 647.2h0M822.3 635.2h0M829.7 629.8h0M811.8 627.9h0M823 629.5h0M819.2 627.8h0M826.3 628.6h0M820.5 636.2h0M817.9 640.7h0M827.4 630h0M824 638.7h0M828 632.1h0M815.8 644.6h0M816.3 642.4h0M828.1 628h0M822.4 627.3h0M817.4 630.3h0M826.8 630.5h0M827 632.9h0M823.4 638.4h0M816.7 634.2h0M817 633.9h0M816.9 630.2h0M814.8 626.5h0M818.1 641.3h0M816.1 639h0M819.4 629.3h0M822.4 638.5h0M815.9 640h0M818.9 637.1h0M818.7 634.1h0M822.9 642.3h0M816.8 639.7h0M820.4 632.8h0M818.2 635.9h0M824.9 625.2h0M816.3 628h0M823.7 630.8h0M827.2 633.3h0M816.7 634.7h0M823.2 637.7h0M821.7 635.3h0M823 634.1h0M821.9 643.8h0M816.2 629.9h0M817.1 633.5h0M823.2 639.5h0M820.5 628.2h0M831.6 629h0M829 627.3h0M829.9 627.4h0M818.3 646.6h0M825 635h0M818.2 637.1h0M821 639.8h0M816.4 646.4h0M817.9 645.8h0M819 631.2h0M827.7 637.6h0M820.3 638.5h0M834.1 621.2h0M819.2 628.3h0M819.8 637.3h0M817 640.2h0M823.4 626.1h0M828.1 625.4h0M814.1 637.8h0M820.4 634.2h0M820 630.3h0M818.2 631.8h0M824.5 634.8h0M831.2 637.7h0M816.1 639.2h0M818.1 640.9h0M819.3 636.5h0M825 632.3h0M811.5 647.9h0M812.8 646.1h0M822.6 632h0M826.1 637.7h0M818 639.8h0M833.5 701.2h0M844.1 680.6h0M847.3 686.4h0M804.8 668.9h0M822.8 694.6h0M824.7 697.4h0M811.8 689.9h0M829.1 671.1h0M809.4 664.1h0M803.7 672.9h0M844.3 695.7h0M810.8 689.1h0M842.4 674.2h0M841.3 679.3h0M844.6 693.4h0M808.7 666.1h0M818.4 667.4h0M806.5 674.1h0M835.2 671.7h0M813.1 686.5h0M803.1 671.3h0M806.6 685.1h0M821 666.1h0M834.5 670.5h0M823 693.5h0M836.1 670.7h0M837.1 671.9h0M817.8 696.7h0M843.3 673.3h0M808.6 664.3h0M814.3 664.4h0M820.1 695.2h0M846 689.6h0M804.5 675.7h0M822 694.3h0M821.9 696.8h0M841.1 676h0M804.3 676.9h0M807.7 667.5h0M803.9 683h0M842.7 686.6h0M830.8 697.8h0M841.6 671.2h0M822.5 666.3h0M805.3 663.3h0M838.3 696.6h0M821 695.2h0M805.6 685.8h0M841.5 696.4h0M807.1 668h0M830.9 668.7h0M815.2 665.5h0M832.7 695.7h0M826.8 695h0M817.8 662.8h0M846.3 694.6h0M828.1 668.5h0M834.1 670.9h0M821 665.1h0M842.5 694.1h0M806.2 679.8h0M832.5 672.1h0M807.2 667.7h0M823.1 701.6h0M809 684.8h0M805.1 672.8h0M836.5 670.2h0M823.2 649.6h0M806.1 652.9h0M818.3 660.2h0M810.6 662.8h0M811.2 645h0M817.3 656.4h0M808.4 663.7h0M816.5 651.2h0M809.5 657.5h0M816.4 651.5h0M808.5 645.2h0M811.2 648.5h0M817.8 649.1h0M806.7 662h0M806.1 664.2h0M818.5 649.9h0M810 665.1h0M808.5 652.1h0M812.8 669.5h0M814.9 664.9h0M808.7 667.5h0M819.2 661.3h0M805.8 647.1h0M810.5 645.9h0M806 658.9h0M817.3 642.2h0M814.3 665.7h0M815.3 646.4h0M809.5 665.9h0M816.5 664.4h0M808.4 660.8h0M808.2 657.1h0M798.6 672h0M790.3 658.2h0M781.7 661.9h0M795.4 677.6h0M775.7 656.2h0M796.4 665.9h0M785.6 668.2h0M797.2 677.1h0M782.4 662.8h0M781.9 656.8h0M788.6 670.8h0M771.6 659.6h0M796.7 666.3h0M778.7 657.3h0M780.1 670h0M804.3 667.6h0M785.6 666.5h0M782.9 669h0M801.4 678.3h0M773.6 663.4h0M780.4 664.4h0M799.2 670.5h0M791.2 678.1h0M793.5 674.1h0M786.9 663.8h0M776.7 654.5h0M782.1 663h0M803.9 668.9h0M788.8 673h0M798.4 678.8h0M778 660.5h0M799.1 668.6h0M785 665.6h0M788.5 659.8h0M780.3 659.1h0M792.1 665.7h0M789.4 664.1h0M803.5 680.4h0M781.5 663.9h0M807.4 670.3h0M804.4 678.7h0M789.3 660.1h0M781.1 653.8h0M795.2 665.1h0M783.1 667.8h0M788.2 663.5h0M786.8 660.5h0M784.7 656.7h0M775.7 660.4h0M778.7 662.3h0M786.6 658.9h0M802.1 675.2h0M793.5 675.2h0M792.4 667.5h0M794 660.5h0M786.8 666.6h0M780.7 667.5h0M803.3 678.7h0M786.9 662.6h0M784.5 675.2h0M796.4 670.3h0M785.9 660.4h0M786.2 661.2h0M788.6 674.9h0M787 665.5h0M792.5 673.6h0M805.7 677.1h0M783.5 662.9h0M789.8 662.5h0M792.4 660.2h0M799.5 670.5h0M799.4 675h0M784.5 668.9h0M778.1 662.2h0M799.5 682.8h0M795.5 665.6h0M786.6 654h0M789.8 670h0M807.9 670.8h0M791.6 670.4h0M788.2 655.9h0M801.4 681.8h0M797.9 670.9h0M792.7 663.4h0M788.2 661.8h0M797.4 668.5h0M775.6 659.4h0M802.3 670.2h0M795.4 675.3h0M793.6 662.6h0M796.8 674.1h0M782.7 667.7h0M787.9 667.7h0M783.7 652.9h0M795.9 674h0M784.1 656h0M780.1 658.7h0M783.8 669.2h0M792.6 667.2h0M786.4 665.3h0M796.9 668.8h0M785.3 652.2h0M785.7 666.5h0M785.9 658.8h0M797.3 676.4h0M777.8 661.9h0M779.8 659.7h0M800 668.6h0M774 655.7h0M797.1 666.9h0M796.6 667.1h0M803.8 675.8h0M783 661.8h0M790.5 672.4h0M797.1 668.2h0M781.6 657.7h0M798.8 677.5h0M782.5 671.6h0M797.2 669.2h0M794.9 677.2h0M791 666.4h0M778.3 663.3h0M782.9 658.7h0M794.3 678.2h0M784.9 667.8h0M793 672.6h0M786.9 659.4h0M800.9 670.6h0M802.6 672.9h0M786 667.5h0M783.4 657.1h0M789.8 661.5h0M806.6 677.5h0M789.1 668.4h0M792.7 669.2h0M793 660.9h0M787.9 669.9h0M790.7 661.3h0M796.1 665.9h0M789.7 660.2h0M780.5 652.7h0M770.4 652.9h0M780.7 665.3h0M788.8 669.1h0M782.6 657.6h0M796.8 673.5h0M807.5 672.7h0M787.6 663.5h0M775.2 658.3h0M778.4 668.2h0M779.6 663h0M785.4 659.1h0M805.5 671.2h0M801.8 679.3h0M794.5 672.6h0M786.1 666.9h0M781.1 666.7h0M777.6 663.8h0M796.3 665.1h0M795.4 668.4h0M793.7 665.1h0M776.4 664.7h0M776.1 658.9h0M774.9 653.9h0M791.1 662.9h0M802.2 669.1h0M789.9 671h0M797.5 664.8h0M785.7 673.8h0M798.7 670h0M797.7 669.8h0M791.2 673.4h0M780.4 648.2h0M784.6 667.2h0M799.8 667.1h0M804.9 675.6h0M790.7 666.6h0M804.2 675.6h0M783.2 665.2h0M786 666.8h0M804.8 673.7h0M790.1 660.5h0M790.4 668.6h0M786.5 668.7h0M783.9 653.6h0M803 673.7h0M788.5 667.5h0M799.2 674h0M798.6 666h0M791.2 667.1h0M777.5 655.3h0M776.1 652.1h0M777.2 653.6h0M789 663.1h0M803.2 674.5h0M805.8 677h0M792.3 678.4h0M796 669h0M787.3 669.7h0M784.9 671.6h0M799.1 677.2h0M785.5 659.8h0M774.4 656.2h0M786.8 675.4h0M782.1 663.8h0M789.7 667.4h0M803.6 667.5h0M796.4 664.1h0M777.6 659.6h0M779.9 655.6h0M797 667.7h0M805.3 677.7h0M785.1 660.3h0M782.6 659.2h0M798.2 677.6h0M789.4 674.3h0M800.4 672.8h0M781.5 668.2h0M793.8 676.4h0M809.8 677.1h0M778.5 650.8h0M800.1 675.9h0M792.9 673.3h0M793.4 669.6h0M799.7 680.2h0M795.3 674.2h0M789.6 665.6h0M801.1 668.7h0M779.6 663.9h0M789.1 662.2h0M779.9 658.9h0M777.5 662.8h0M802.8 670.4h0M795.9 674.3h0M789.3 670.4h0M794.4 680.2h0M798.7 669.5h0M848.8 695.4h0M853.9 691.9h0M847.9 694.9h0M852.8 693.5h0M842.1 692.1h0M852.3 694.2h0M853.8 696.4h0M845.1 694h0M852.9 698.9h0M847.1 694.7h0M846.3 696.9h0M855.9 691.9h0M748.2 530.6h0M742.6 541.9h0M737.1 529.9h0M747 544.3h0M753.6 532.5h0M737.8 533.8h0M748.3 542.4h0M736.7 535.3h0M752.6 531h0M744 527.6h0M746.1 541.4h0M748.6 529.6h0M736.7 531.9h0M745.6 539.5h0M754.7 529h0M747.1 538.7h0M748.7 540.7h0M752.8 533.4h0M741.7 543.9h0M749.1 542.3h0M753.6 537.1h0M755.6 533.3h0M738.7 543.2h0M743.6 527.7h0M748.8 529.6h0M745 526h0M741.6 529.3h0M742.6 542.2h0M737.2 533.5h0M745.3 525.2h0M927.5 579.4h0M933.3 572.7h0M938.3 576.4h0M927.7 582.8h0M931.9 577.5h0M932.8 573.3h0M937.7 571.9h0M933.4 564.4h0M935.6 581.2h0M933.9 567.4h0M935.2 574h0M927.8 571.7h0M933.2 582.4h0M930 576.7h0M934 581.9h0M929 573.9h0M932.3 570.5h0M928.2 578h0M929.5 572.7h0M927.9 578.1h0M930.9 567.1h0M924.1 637.4h0M933.4 636.9h0M926.7 637h0M926.1 631.4h0M933.4 633h0M929.3 631.2h0M931.4 630.1h0M935.6 633.1h0M929.6 629h0M930.2 626.2h0M935.6 636h0M936.3 639.1h0M936.4 633.4h0M930.8 638.7h0M926.5 632.2h0M930.5 640.1h0M936.3 639.5h0M925.5 638.1h0M939.4 640.9h0M947.8 650.3h0M943.3 646h0M944.7 648.7h0M937.7 645.3h0M939.6 641.8h0M940.7 643.3h0M939.7 646.8h0M958.2 699.8h0M927.6 710.2h0M962.9 677.6h0M971 680.4h0M968.9 693.7h0M946.6 707.9h0M931.6 686.4h0M972.1 678.4h0M951.9 676.2h0M938.1 681.7h0M930.1 700.3h0M928.4 703.4h0M958.7 672h0M960.9 697.1h0M958 675.9h0M964.8 676h0M933.2 711h0M942.5 708h0M937.4 709.9h0M942.7 712.8h0M926.5 701.1h0M924.1 704.8h0M968 676.8h0M929.5 690.3h0M927.1 695.5h0M963.1 694.9h0M927.2 704h0M938.6 710.2h0M958.6 702.3h0M955.4 705.5h0M966.4 678.9h0M951.5 706h0M951.7 707.7h0M964.8 678.2h0M957 673.2h0M940 683.4h0M949.9 675.4h0M964.2 675.3h0M971.7 687.8h0M942.6 683.6h0M948.1 680.2h0M954.2 705.8h0M924.6 710.2h0M946.5 703.3h0M949.4 706.7h0M927.6 697.4h0M949.3 680h0M952.5 677h0M947 709h0M947.7 708.4h0M927.6 693.4h0M953.4 677h0M957.7 703h0M929 692.7h0M927.8 701.1h0M961.4 702.4h0M939.2 710.6h0M970.1 692.9h0M922.7 704.7h0M928.3 697.1h0M940.5 681.6h0M933.5 693h0M927.3 694.1h0M971.6 690.5h0M973.5 686.9h0M944.9 682h0M934.6 710.9h0M943.7 709.4h0M924.4 706.2h0M946 710.3h0M934.5 684.5h0M955.4 709.7h0M943.8 681.1h0M976 651.4h0M947.6 664.5h0M945.2 658.7h0M970.3 662.4h0M946.7 652.1h0M946.5 654.9h0M943.4 658.9h0M947.5 654.6h0M949.8 654h0M944.5 656.7h0M956.7 673.2h0M958.4 664.1h0M967.9 668h0M945.7 659h0M947.4 656.9h0M969.3 667h0M976.5 649.5h0M954.8 652.8h0M959.5 667.9h0M957 650.2h0M946.4 662.1h0M957.8 667.9h0M976.7 650.2h0M976.7 656.6h0M966 664.4h0M972.3 649.9h0M954.9 661.8h0M952 662.9h0M943.7 657.5h0M975.6 651.5h0M978.4 651.8h0M953.8 646.2h0M959.5 644.7h0M962.3 670.9h0M971.4 651.2h0M953.2 665h0M967.3 648.8h0M952.7 668.2h0M967.9 663.2h0M969.5 650.6h0M961.4 650.4h0M969.3 656.6h0M973.9 656.6h0M974.7 648.1h0M979.6 655.1h0M963.8 670.6h0M945.5 660.4h0M971.4 658.9h0M952.4 676.3h0M957.5 675.4h0M965.6 670.8h0M959.6 673.2h0M953.4 674.1h0M964.6 678h0M955.7 665.9h0M965.8 668.9h0M954.5 666.7h0M965.1 675.5h0M958.9 672.4h0M950.7 664.6h0M953.7 672.3h0M956 673.4h0M965 672.3h0M963.2 674h0M963.5 667.6h0M954.6 673.2h0M951.3 665.9h0M963.6 674.6h0M966.6 669.1h0M961.4 666.4h0M954.5 670.1h0M960 664.3h0M958.6 673.4h0M952.2 670.9h0M962.4 670.3h0M956.5 667h0M964.3 667.6h0M961.9 668.4h0M966.8 670.7h0M964.2 669.4h0M952.5 669.3h0M959.6 676.3h0M951.8 676.9h0M959.5 672.1h0M955.7 666.6h0M965.3 675.3h0M952.2 671.7h0M952.6 674.9h0M963.6 667.7h0M948.2 667.9h0M954.1 677.2h0M954.3 670.1h0M956.2 672.3h0M945.9 662.4h0M951 668.1h0M950.3 674h0M955.1 674.9h0M958.6 666.8h0M965.8 667.3h0M953.6 677.6h0M963.3 673.6h0M952.9 667.8h0M954.3 672.7h0M960.2 673.1h0M954.9 664.6h0M961.9 669h0M952.2 664.9h0M952.9 667.6h0M966.1 670h0M951.2 673.3h0M954.7 678.3h0M957.4 670.7h0M956.6 670.5h0M950.8 669.9h0M958.8 668.7h0M951.3 666.2h0M962.5 667.1h0M957.4 670.7h0M952.3 673.2h0M967.1 670.4h0M958.5 666.3h0M964.5 668.2h0M966 670.8h0M959 672.6h0M971.2 653.5h0M997.7 667.2h0M974.1 656.8h0M995.1 653.9h0M966.2 661.9h0M990.3 679.5h0M970 690.6h0M970 696.8h0M994 657h0M969.2 664.1h0M968.5 672.2h0M966.3 698.9h0M999.7 674.8h0M970.3 679.1h0M995 681h0M988.9 687.5h0M1000.9 672.9h0M969.9 698.7h0M997.6 657.8h0M989 652.8h0M982.5 693.9h0M980.2 654.3h0M1001.4 673.6h0M968.9 656.5h0M973.6 699.5h0M997.9 681.4h0M976.2 697.2h0M1000 681.5h0M982.5 652.4h0M968.5 679.3h0M968.9 679.5h0M969.8 656.9h0M969.8 683.3h0M966.1 694.8h0M996.8 681.5h0M971.1 661.3h0M984 693.8h0M961.2 676.3h0M1000.4 671.5h0M992.7 685.9h0M999.4 658.7h0M967.6 660.2h0M982 696.2h0M994.2 653.9h0M995.7 680.7h0M981.2 698h0M970.6 660.7h0M984.5 692.4h0M1001.1 661.1h0M974.5 656h0M996.3 673.1h0M987.3 691.5h0M969.7 692.4h0M997.5 657.3h0M970.7 692.1h0M979.2 700.2h0M967.4 668.6h0M984 691.4h0M967.3 662.9h0M987.8 689h0M969.2 692.2h0M968 684.5h0M962.7 679.4h0M984.8 657.1h0M969.8 696.5h0M993.5 654.1h0M970.5 676.5h0M997.3 670.9h0M986.6 655h0M967.8 674.9h0M997.8 656h0M952.1 707.1h0M958.2 717.3h0M951.3 718.7h0M929.1 739.6h0M955.4 700.7h0M937.1 737.6h0M972.4 700h0M953.9 720.6h0M960.3 697.3h0M935.7 735.4h0M942 713.5h0M934.3 736.4h0M958.7 712.9h0M924.1 714.3h0M929.4 710.4h0M952 721.9h0M930.2 738.4h0M917.4 715.7h0M919.5 728.5h0M936.1 738.9h0M951.5 705.4h0M956.3 703.9h0M940.9 709.2h0M942 732.2h0M939.7 734.8h0M920.1 734h0M928.6 714.4h0M923.5 713.5h0M971.4 697h0M956.5 704.9h0M951.8 705.6h0M926.6 740.1h0M927.9 712.4h0M918.8 729.7h0M971.5 708.7h0M947.5 725h0M916.6 721.2h0M917.1 718.8h0M952.6 717.3h0M961.3 712.6h0M939.9 710.3h0M913.8 723.3h0M965.3 712.3h0M943.9 731.7h0M917.6 724h0M916.5 715.8h0M951.9 702.6h0M968.1 708.3h0M964 689.3h0M947.9 707.1h0M947 709.2h0M962.3 709.6h0M966.9 705.3h0M962.6 693.1h0M966.9 707.6h0M958.9 704h0M955.6 701.7h0M948.9 725.2h0M969 706.4h0M937.6 709.9h0M968.9 711.5h0M971.3 701.1h0M955.4 718h0M965.3 710.4h0M958.2 700.2h0M964.5 711.4h0M921.5 715.6h0M961.2 714.8h0M949.9 709.7h0M930.9 713.2h0M963.2 695.2h0M951.4 703.7h0M947.8 727.4h0M921.7 729.1h0M920.1 723.8h0M930.9 734.1h0M966 697.6h0M921 729.9h0M967.7 708.1h0M963.7 695.7h0M917.3 732.7h0M967.6 708.1h0M683.8 753.3h0M715.3 760.5h0M695.6 739.2h0M717.1 753.9h0M709.9 767.8h0M684.4 764h0M716.2 750.1h0M682.7 759.6h0M681.5 745.6h0M686.4 757.8h0M703.1 775.9h0M686.6 747.9h0M702 773.9h0M684 759.8h0M715.1 747h0M684.8 761.2h0M683.4 744.2h0M706.3 740.9h0M718.6 750.9h0M707.1 740.6h0M683.6 743h0M704 737.6h0M677.3 749.9h0M708.7 773.8h0M698.9 768.6h0M695.6 742.3h0M718.4 753.8h0M691.6 742.7h0M679.7 747.7h0M701.3 770.4h0M709 779.2h0M675.4 749h0M678.7 748.7h0M683.5 758.7h0M719.2 766.5h0M679.8 753.8h0M686.4 766.3h0M703 739.2h0M703 741.2h0M707.4 741.2h0M679.4 753.1h0M680.7 746.4h0M700.8 741.7h0M682.1 752.1h0M685.2 742.5h0M705.1 736.9h0M709.1 738.9h0M686.4 759.8h0M681.3 747.6h0M709 776h0M713.7 775.6h0M721.1 756.4h0M687.7 746.4h0M684.1 761.5h0M713.7 745h0M704.2 739.3h0M717.1 757.3h0M698.5 739.4h0M716.2 745.7h0M703.2 767.5h0M684.2 756.5h0M681.2 749.4h0M715.2 761.4h0M719.8 757h0M700.5 770.3h0M720.7 764.2h0M747.1 768.8h0M711.5 774.7h0M748.1 770.4h0M734.7 794.4h0M750.8 776.8h0M719.5 768.3h0M747.9 759h0M723.2 760.9h0M731.6 799.4h0M727.9 750.8h0M726 794.2h0M743.4 762.7h0M717.4 793.3h0M737 796.8h0M727.3 748.5h0M747.3 770.8h0M747.3 788.5h0M727.5 797.5h0M715.9 768.5h0M744.4 766.3h0M746.3 797.9h0M727.7 793.7h0M736.4 755.2h0M749.2 766.2h0M750.3 773.2h0M712.5 772.3h0M740.3 757.9h0M732.6 793h0M724.4 793.9h0M723.9 753.5h0M714.3 770.5h0M709.4 774.4h0M751.4 791.3h0M752.1 779.7h0M715.8 769.3h0M751.4 771.2h0M711.3 784.5h0M747.7 758.1h0M735.4 797.1h0M719.7 788.9h0M746.1 768.4h0M748.1 792.6h0M712.3 778.2h0M728 795.6h0M749 790.2h0M750.4 779.5h0M715.5 761.5h0M746.5 789.2h0M720.7 760.1h0M746.4 768.5h0M720.9 767h0M716.3 763.9h0M727.2 798.9h0M738.3 793.7h0M710.7 778h0M731.3 751.1h0M721.5 766h0M747.7 783.6h0M745.7 761.1h0M753 780.4h0M721.7 765.5h0M718.4 790.6h0M711.4 783.3h0M753.4 784.8h0M717.7 767.4h0M716.1 758.2h0M713.1 770.1h0M724.9 795.9h0M735.5 757h0M721.2 753.8h0M746.8 784.1h0M743.9 800.5h0M743.3 753.2h0M750.1 774.1h0M764.6 776.5h0M752.6 769.5h0M756.8 777h0M751.4 780.7h0M747.8 780h0M758.7 779.6h0M750.7 780.9h0M754 775.7h0M757.2 776.8h0M756.9 786.1h0M750.5 770.6h0M753.1 766.8h0M766 782h0M755.3 771.4h0M756.8 785.1h0M755.3 786.3h0M755.2 780.3h0M753.3 772.1h0M750.6 786h0M764.5 779.8h0M750.3 782.2h0M754.8 782.2h0M760.1 783.3h0M750.3 781.8h0M754.3 771.2h0M755.1 780.1h0M756.8 774.5h0M752.9 777.3h0M766.5 777.9h0M757.2 778.4h0M755.1 782.1h0M768 772.4h0M759.3 782.4h0M759.8 774.7h0M762.2 775.1h0M751.6 770.2h0M757.7 783.5h0M760.3 775.2h0M751.6 787.7h0M762.9 773h0M753.7 782.6h0M755.3 777.5h0M749.6 782.4h0M763.1 780.8h0M756.7 769.3h0M759.8 782.7h0M761 776.5h0M759.1 782.4h0M753 772.8h0M748.4 765.2h0M759.3 770.9h0M750 773.5h0M754.4 769.7h0M754.9 773.3h0M760.2 780.8h0M754.6 781.4h0M765.5 777.5h0M754.3 779.8h0M756.5 781.7h0M758.2 779.9h0M752.7 771h0M762.2 773.2h0M761.7 779.4h0M756.6 782.8h0M753 784.1h0M756.3 786.5h0M762.6 786.4h0M764.1 773.5h0M757.7 785.9h0M762.1 772.8h0M753.1 773.5h0M753.5 787.2h0M763.8 781.8h0M763 775.1h0M750.2 769.8h0M763.9 779h0M757.5 784.7h0M761.8 780.2h0M755.9 778.8h0M759.7 784.7h0M763.4 775.2h0M764.6 775.6h0M754.3 774.8h0M751.6 769.7h0M759.8 780.6h0M764.7 775.8h0M752.9 782.5h0M757.9 787.8h0M754 770.4h0M753.8 775.5h0M755.9 773h0M761.7 783.7h0M758 785.5h0M754.9 785.8h0M749.4 780.1h0M767 773.6h0M758.6 770.5h0M755.4 781.7h0M749.3 770.1h0M761.7 777.8h0M763.3 783.8h0M758.5 780.5h0M762.1 777.4h0M761.5 773.8h0M756.8 773.6h0M752.8 785.4h0M754.2 774.1h0M761.3 776.6h0M764.6 777.6h0M755.9 779.2h0M765.1 781.7h0M754.7 769h0M751.5 784.7h0M759.1 778.1h0M748.6 790.6h0M761.5 771.7h0M755.6 783h0M765.9 774.7h0M768.9 775.6h0M757 785.5h0M753.8 768.7h0M752.4 775.2h0M758.4 774.7h0M748.7 769h0M760.9 772.9h0M757.3 780.5h0M749.7 782.7h0M759.9 782.8h0M750.1 769.8h0M761.8 777.1h0M751.5 787.3h0M764.9 780.9h0M749.6 766.7h0M756.6 779.8h0M772.5 775.3h0M751 776.5h0M761 771.6h0M759.6 768.3h0M748.3 782.2h0M753.6 776.8h0M763.4 781.1h0M751.3 787.6h0M761.9 783.4h0M754.2 785h0M752.2 775.3h0M748.9 784.9h0M761.9 771.4h0M751.8 773.5h0M756.2 781.4h0M755.4 786.4h0M756 776.1h0M749.4 769.1h0M753.5 789.9h0M751.8 780.2h0M759.9 769.6h0M757.7 772.9h0M768 775h0M755.3 786.8h0M751.4 782.1h0M753.1 768.9h0M749 792.3h0M754.1 777.7h0M754.8 777.2h0M766.2 777.8h0M765.1 772.3h0M749.2 768.9h0M765.8 776.2h0M756 784.5h0M760.9 777.3h0M758.8 777.4h0M757.9 768.6h0M756.5 768.2h0M754.6 770.3h0M762.3 776.5h0M764.6 771.3h0M758.3 784.6h0M765.6 774.2h0M751.3 773.9h0M753.9 784.7h0M758.5 779.6h0M758.1 786.4h0M756.1 779.3h0M754.6 776.5h0M747.4 785.3h0M762.3 779.9h0M750.9 775.5h0M756.5 790.4h0M755.2 775.5h0M766.1 776.8h0M749.9 779h0M757 772h0M756.8 778.5h0M755.6 773.8h0M758.7 780.7h0M753.5 790.4h0M751.3 785.7h0M759.5 774.6h0M761.5 775.2h0M751.6 776.6h0M750.9 773.9h0M756.6 781.2h0M760.2 782.5h0M757.5 781h0M764 772.5h0M765.9 779.9h0M754.7 767.3h0M755.9 768.6h0M749.4 781.7h0M753.6 776.7h0M756.3 787.5h0M760.4 785.2h0M766.8 778.6h0M762.6 773.8h0M758.6 777.8h0M751.5 787.7h0M763.6 777.3h0M755.2 787.3h0M753.3 772.4h0M752.1 783.6h0M760.9 781.4h0M752.2 785.7h0M752.7 781.8h0M750 769.6h0M755.8 781.4h0M751.6 791.8h0M752.6 787.8h0M757 767.1h0M749 785.3h0M763.7 774.5h0M762.3 777.1h0M757.3 787.4h0M750.4 786.1h0M756.3 781.8h0M765.5 769.2h0M783 759.1h0M796.4 756.7h0M766.9 769h0M764.4 769.4h0M773.4 758.4h0M779.7 757.4h0M774.8 776.4h0M767.6 776.5h0M779 782.3h0M767.7 771.6h0M761.8 763.2h0M775.4 759.7h0M791.7 784.5h0M769.1 765.4h0M800.8 781.1h0M803.7 760.1h0M805.9 765.2h0M773.9 779h0M778.1 781h0M766 762.2h0M784 784.6h0M780.4 785.9h0M771.3 778.8h0M789.4 782.9h0M803.9 777.9h0M805.5 758.8h0M778.1 760.7h0M767.6 774.6h0M762.6 770.4h0M772.7 780.7h0M773.4 775.7h0M767.9 777.3h0M776 757.9h0M785.4 786.5h0M800.8 785.8h0M784.9 753.8h0M802.7 783h0M776.6 785.3h0M776.3 779.9h0M781.2 784h0M805.7 757.4h0M803.4 760.3h0M804.9 784h0M804.5 782.5h0M769 778.5h0M805.4 770.8h0M772.9 755.7h0M787.6 755.5h0M780.2 781.4h0M808.5 777.6h0M798.8 757.6h0M806.1 769.6h0M803.9 760.5h0M796.1 750.1h0M806.8 762.7h0M801.1 787.1h0M803.7 758.4h0M806.2 779.3h0M762.7 759.2h0M776.9 779.1h0M777.4 757h0M764.2 768.7h0M806.9 773.2h0M800.3 791.9h0M805.6 786.4h0M803.1 791.4h0M777.5 780.6h0M790.9 785.9h0M788.2 786h0M766.2 766.4h0M756.2 766.1h0M759.4 783.7h0M757.1 782.4h0M758.5 774.1h0M764 787.5h0M760.8 791.5h0M765.6 781.7h0M761.9 781.7h0M763.4 775.6h0M767 766.8h0M763.3 780.6h0M760.3 783.2h0M754.8 781.5h0M767.7 768.8h0M764.5 774.7h0M758.7 774.1h0M763.5 778.1h0M767.2 788.2h0M758.6 771.2h0M763.7 761.8h0M758.9 776.3h0M754.6 775.5h0M760.1 781.4h0M756.2 772.4h0M755.6 783.1h0M763.6 784.7h0M756.8 765.4h0M753.6 775.8h0M772.7 778.2h0M756.7 789.2h0M772.1 778.6h0M773.5 776.6h0M761.4 762.1h0M753.5 773.3h0M759.7 779.9h0M759.8 775.8h0M763.8 772.7h0M761.4 787.3h0M764.6 765.6h0M762.1 787.7h0M760.6 764.3h0M750.8 767.3h0M763.4 771.9h0M763.6 778.5h0M765.2 780.3h0M765.4 775.2h0M752.5 771.1h0M758.2 781.4h0M754.7 775.1h0M766.8 781.9h0M761.8 787.9h0M759.6 786.1h0M760.5 783.1h0M760 786.6h0M763.4 764.3h0M762.6 777h0M757.9 789.1h0M754.5 769.6h0M759.9 764.9h0M756.8 780.1h0M773.6 776h0M758.2 770.6h0M769.6 773.8h0M763.8 780.6h0M754.2 769.2h0M758.7 765.1h0M761.8 765.3h0M765 768.6h0M756.3 767.5h0M751.6 765.6h0M761.8 769.1h0M757.7 771.9h0M767.6 777.2h0M763.2 771.5h0M773.4 776.7h0M762.5 772h0M767.3 771.3h0M771.9 776.2h0M763.9 767.5h0M760 772.6h0M760.2 776.4h0M761 783.4h0M762.2 785.3h0M764.1 777.3h0M766.1 780.4h0M760.1 769.3h0M758.1 780.7h0M762 775.5h0M767.3 772.8h0M775.1 776.2h0M760.3 780.8h0M759.6 771.6h0M759.2 773.5h0M758.6 787.6h0M765.4 769.3h0M769.7 778.2h0M763.6 781.3h0M760.1 784.2h0M754.9 788h0M768.1 778.6h0M759.4 776.1h0M762.8 764.4h0M755.5 771.8h0M765 780.1h0M757 772.3h0M758.3 785.9h0M767.3 774.7h0M760.4 787.6h0M754.7 792h0M756.5 781.9h0M771.1 778.5h0M756 773.3h0M763.3 773h0M765.7 773.4h0M771.6 780h0M767.8 777.2h0M763.9 771.2h0M757.7 772.7h0M762.4 767.9h0M760.2 780.3h0M753 768.6h0M757.6 784.3h0M757.7 784.8h0M768.6 767.6h0M760.5 777h0M755.7 767.5h0M759.6 787.5h0M755.9 768.5h0M764.1 773.5h0M751.3 777.4h0M760 784.8h0M760.4 786h0M759 776.4h0M763.5 771.9h0M757.6 792.6h0M763.1 785.8h0M764.8 783.4h0M763.1 766.2h0M749.1 770.7h0M755.9 772.1h0M758.5 779.2h0M764.3 769.6h0M760.3 779h0M758.7 780.6h0M771.7 780.2h0M762.1 766.9h0M758 770.1h0M764.4 775.9h0M771.8 775.3h0M752.8 773.8h0M765.3 777.6h0M766.2 772h0M765.5 767.8h0M757.7 788.1h0M752 761.8h0M761.9 761.6h0M764.9 771.4h0M768.3 777.5h0M767 773.2h0M770.7 775h0M759.3 787.8h0M760.5 781.1h0M757.1 776.7h0M761.3 781.8h0M757.7 791.2h0M767 780.6h0M770.9 774.4h0M743.4 760.2h0M747.2 757.8h0M746.6 760.7h0M750.3 760.9h0M745.5 757.1h0M749.6 760h0M748.3 759.8h0M859 761h0M851.6 764.2h0M864.3 764.8h0M855.5 759h0M852.1 764.2h0M856.8 767.1h0M847.2 762.7h0M855.7 761h0M849.3 767.4h0M857.8 762.9h0M847.1 765.4h0M864.5 763.7h0M861 761.9h0M855.4 762.8h0M865.7 756.9h0M861.3 760.7h0M865 755.9h0M855.4 762.8h0M864.8 756.9h0M864 758.7h0M862.1 760h0M865.4 755.6h0M856.5 758.2h0M866.6 758.2h0M815.6 784.1h0M814.8 787.4h0M819.1 780.8h0M817.8 784h0M811.8 786.6h0M812.1 786.6h0M811.3 784.6h0M814.1 786.2h0M811.1 784.8h0M817.4 782.4h0M819.2 781.5h0M811.2 784.4h0M842.6 798.3h0M838.3 794.9h0M826 786.3h0M832.5 791.4h0M842.5 791.4h0M835.2 792.8h0M826.2 792.9h0M839.7 795.2h0M840.6 792.1h0M836.4 802.1h0M836.7 803.5h0M831.9 802.7h0M843.9 802.1h0M829.4 793.5h0M826.5 794.2h0M839.4 803.1h0M829.6 793.3h0M842.2 805.5h0M835.7 801.4h0M831.3 786.7h0M840.6 806.4h0M837.3 803.2h0M830.1 796.9h0M831.3 798.7h0M840.4 796.3h0M829.7 791.2h0M831.7 791.3h0M837.2 786.6h0M844.1 819.8h0M839.7 806.1h0M844.5 816h0M842.4 817.5h0M843.7 810.8h0M843.3 811.9h0M848.7 813.4h0M845.5 815.7h0M847.8 824.8h0M842.8 806.6h0M841.6 820.1h0M847.6 814.5h0M849.6 823.1h0M847.9 820.7h0M846 816.1h0M848.1 813.9h0M846.6 823.4h0M845.1 810.1h0M845.5 815.8h0M856.9 848.3h0M846.2 857.7h0M856.3 845.2h0M850.8 857.8h0M847.7 859.7h0M848.1 854.2h0M846.8 843.3h0M851.4 857.5h0M844.2 850.6h0M858.4 848h0M849.1 843.9h0M845.9 852.3h0M850.1 844.5h0M847.2 860.5h0M843.5 852.7h0M856.6 852.5h0M848.7 860.5h0M848 863.3h0M850.9 844.1h0M845.5 854.8h0M857.8 849.5h0M853.8 860.8h0M853.8 846.5h0M848.3 858.1h0M859.3 856.5h0" stroke="#e5e5e5" stroke-width="2.2" stroke-linecap="square" fill="none"/>
<g filter="url(#spg)"><polygon points="660.6,640.9 662.4,632.4 667.5,624.9 675.8,618.4 685.2,615.1 692.8,615.9 702.6,619.1 711.4,622.5 713.2,631.3 711.5,641.1 708,649.7 699.1,651.5 689.2,650.7 679.6,649.9 669.7,649.1 663.5,646.5" fill="#e5e5e5"/><polygon points="708.9,622.9 716.1,615.9 727.8,615.1 740.4,612.8 752.1,607.9 759,611.7 758.5,623.6 756.8,634.8 753.9,643.1 746.3,648.9 738.2,653.6 731.1,657.1 724.3,653.7 716.3,652.2 709.1,649.5 707.3,640.8 708.9,631.2" fill="#e5e5e5"/><polygon points="741.5,613.2 751,603.8 756,596.5 767.8,592.4 779,590.8 789,586.8 797.1,589.4 802.4,598.1 800.7,606.8 794.9,613.3 790.8,619.6 784.5,624.9 777.8,623 774.5,618.2 769.2,616 763.2,613.8 757,615.4 750.3,615.4" fill="#e5e5e5"/><polygon points="801.6,582.2 810.9,576.8 819.2,572.8 825.6,571.9 831.8,577.1 837.5,585.1 841.7,593.3 842.6,604.7 840.9,616.1 837.3,622.1 830.4,625.1 825,618.1 820.1,613.2 816.8,605.2 812.8,597.4 810.5,592.9 805.7,588.2" fill="#e5e5e5"/><polygon points="757.8,637.2 766.6,628.6 777.7,624.9 786.5,626.9 784.6,635.7 780.6,643.5 779.3,652.5 771.5,657.2 763.9,651 759.7,645.2" fill="#e5e5e5"/><polygon points="807,595.7 814.7,594.6 818.4,602.7 819.2,612.2 821.7,618.6 820.7,626 812.9,628.8 806.3,624.2 804.5,615.6 807,607.6" fill="#e5e5e5"/><polygon points="818.3,617.4 830.6,618.2 839.9,614.6 841.1,621.9 831.1,626.3 818.3,626.7" fill="#e5e5e5"/><polygon points="806.9,626.1 816.8,626.1 816.8,645 807.9,646.1" fill="#e5e5e5"/><polygon points="805.7,664.8 814.2,662 820.8,666.9 828.6,667.7 840.6,671 844.5,681.8 849.2,689.4 844.2,697.1 834.9,699.8 825.7,698.8 816.4,696 808.1,686.3 802.4,679.1 803.8,670.2" fill="#e5e5e5"/><polygon points="807.1,643.4 817.5,643.4 819.3,654.8 818.4,665.3 808,668.3 806.2,654.9" fill="#e5e5e5"/><polygon points="948.7,675.7 959,674 966.8,672.1 970.6,681.3 974.3,688.6 968.6,694.3 961.9,699.2 956.8,705.8 944.5,711 934.2,712.6 924.5,712.6 923.5,702.9 928,692.5 934.9,685.7 941.7,680.8" fill="#e5e5e5"/><polygon points="942.5,658.7 950.1,651.2 957.2,646.9 967.8,646 978.5,648.9 977.3,654.6 973.8,658 970.5,664.4 966.9,669.8 960.4,671.9 956.8,665.7 952.6,664.3 947.9,666.2" fill="#e5e5e5"/><polygon points="971.8,654.5 979.4,651.8 989.9,653.5 998.9,656.1 1002.3,663.5 1001.8,672.3 997.4,680.9 990.5,688.5 983.7,694.3 977.6,700.3 971.2,701.3 968,695.1 969.7,686.8 967.3,680.6 964.7,672 967.3,663.3" fill="#e5e5e5"/><polygon points="915,720.2 918.1,715.3 925.3,711.7 935.5,710.9 945.4,707.7 955.2,703.7 960.7,697.5 963.8,691.6 970.4,694.8 973.4,701.6 968.7,708.9 961.8,715.6 953.4,722.2 945,728.7 938.3,735.3 930.9,739.8 924,737.9 918.6,730" fill="#e5e5e5"/><polygon points="678.7,746.3 682.6,742.5 690.3,741.8 697.7,738.8 705.6,736.9 712.5,739.6 716.6,744.8 719.2,750 719.9,756.7 716.6,763.1 714.2,769 712.9,775.3 709.4,778.8 703.6,774.5 697.4,770.9 689.9,766 683.4,760.9 680.1,754.4" fill="#e5e5e5"/><polygon points="719.1,753.5 724,748.8 730.8,752.8 738.3,754 745.1,758 747.7,764.4 750.2,770.5 752.9,777.1 750.3,783.4 750.3,792.2 746,796.4 738,799 730.1,798.4 722.3,795.2 715.7,790.1 711.8,783.6 710.4,776.8 714.3,770.4 716.8,764.4 719.1,759.8" fill="#e5e5e5"/><polygon points="764.3,761.5 772.1,757.7 779.7,754.6 787.3,752.7 795.2,752.1 802,754.8 806.8,760.8 808.1,768.6 806.8,776.2 804.5,781.9 806.5,785.8 802.3,789.9 794.7,789.9 788.6,786.9 783.3,788.2 779.2,782.9 774.4,780.6 769.2,776.8 765.4,771.8 761.1,766.2" fill="#e5e5e5"/></g>
<g filter="url(#spg)"><polygon points="735,530.3 738.7,527.3 747.3,526.4 754.5,528.2 756.9,533.1 755.6,538.5 751.8,543.2 743.7,543.2 737.4,540.5 735,535.1" fill="#e5e5e5"/><polygon points="927.4,570.8 929.6,565.4 934.3,566.7 936.1,572 940.4,576.2 936.7,578.6 932.5,583.6 928.4,579.6 929.5,576.5 927.4,575" fill="#e5e5e5"/><polygon points="924.2,631.5 928.9,625.7 932.7,629.4 934.4,633.6 937.3,637.4 934.6,642.6 929.1,639.3 925.9,635.7" fill="#e5e5e5"/><polygon points="846.6,765.8 853.9,760.8 861.5,756.5 866.7,754.8 867.9,759.3 861.5,764.8 855,768 849.1,769.4" fill="#e5e5e5"/><polygon points="824.2,791.4 830.8,786.5 836.6,788.7 840.8,792 843.4,798.6 844.2,804.3 839.7,807.8 835.1,804.1 831.3,801 828.7,797.2" fill="#e5e5e5"/><polygon points="842.2,804.8 845.2,810.5 847.1,815.5 848.5,820.8 846.2,826.3 843.4,819.9 841.9,813.8 840.1,808.5" fill="#e5e5e5"/><polygon points="843.3,853.3 846.1,846.6 850.4,843.1 856,843.1 859,848.2 859.4,855.2 855.3,859.5 849.5,860.9 844.1,858.6" fill="#e5e5e5"/></g>
<text x="762.1" y="514.4">mCherry<tspan font-size="10" dy="-6.5">+</tspan><tspan dy="6.5"> neurons</tspan></text>
<path d="M949.7 815.3V856.8H991.3" fill="none" stroke="#000" stroke-width="2.2"/>
<path d="M949.7 809.3l-5 14l5 -3.2l5 3.2zM997.3 856.8l-14 -5l3.2 5l-3.2 5z" fill="#000"/>
<text text-anchor="middle" transform="translate(938.3 837) rotate(-90)">UMAP2</text>
<text x="946.2" y="877.5">UMAP1</text>
<text x="971" y="897.6" text-anchor="middle">305 cells</text>
<path d="M733.6 776.2h0M725.2 782.5h0M725.7 757.7h0M739.1 760.3h0M743.9 776.9h0M743.9 791.3h0M745.3 786.2h0M724 776.2h0M722.4 757.6h0M720.6 785.1h0M721.5 754.2h0M745.6 768.5h0M718.5 780.9h0M736.2 781.6h0M731.4 770.5h0M746.4 786.4h0M720.7 792h0M737.3 768.5h0M733 787.1h0M728.1 792.3h0M728.1 777.1h0M737.1 796.2h0M717.8 767.4h0M743.6 777.4h0M730.6 785.2h0M736.2 797h0M723.7 791.6h0M729.9 796.1h0M722.6 780.4h0M719 782.4h0M724.9 769.1h0M719.9 782.9h0M741.3 794.5h0M722 767.1h0M726.3 767.3h0M722.3 791h0M749.7 776.4h0M725.9 762.5h0M737.2 783.8h0M721.1 756.7h0M717.4 768.8h0M718.2 790h0M726.5 788.7h0M726 762h0M724.8 765.3h0M730.7 785.4h0M743.6 789.1h0M725.3 795h0M725.1 784.9h0M745.2 768.4h0M744.3 771.2h0M748.5 780.1h0M727.2 780.1h0M733.2 795.8h0M741.1 789.8h0M735.8 768.1h0M742.3 764h0M738.5 776.8h0M746 783.2h0M712.9 775.3h0M738.7 774.3h0M719.6 764.3h0M725.3 752.8h0M717 777.3h0M743.6 783.8h0M735.7 782.4h0M729.7 793.8h0M730.1 781h0M745.3 779.5h0M738.9 756.2h0M729.3 775.8h0M740 777.5h0M719.3 778.4h0M735.5 780h0M733 785.7h0M704.5 742.8h0M699.7 761.2h0M687.4 761.6h0M713.1 758.1h0M692 742.9h0M702.2 739.7h0M702.5 751h0M680.4 747.3h0M688.6 747.8h0M712.2 748.8h0M797.7 771.4h0M783.4 780.8h0M785.2 769.5h0M771.9 761.9h0M788.4 755.8h0M778.4 768.2h0M779.9 765.9h0M776.6 776.8h0M798.1 772.3h0M781.8 774.7h0M798.8 765.6h0M790.5 779h0M774.3 760.1h0M768.9 770.9h0M787.9 782.2h0M788.7 780.4h0M803.2 777h0M791.4 757.7h0M787.3 764.8h0M782.4 783.7h0M787.3 768.9h0M776.7 762h0M783.9 774.4h0M783.2 784.7h0M777.1 775.9h0M796.4 769.9h0M800.2 778.2h0M779.5 779.3h0M797 786.3h0M790.1 761h0M803.7 765.8h0M801.4 761.5h0M775.2 758.3h0M787.4 767.3h0M772.8 767.3h0M789.2 760.8h0M791.1 759.1h0M788.3 758h0M926.3 736.2h0M957.4 708h0M963.6 703.9h0M926.6 728.2h0M961.3 708.9h0M922.9 729.6h0M929 734.1h0M927.6 719.5h0M935.4 727.8h0M952.8 716.4h0M921.4 716.2h0M935.9 723.1h0M920.9 715.7h0M942.5 720.9h0M939.6 721.7h0M949.8 711.9h0M948.9 723.9h0M927.5 722.6h0M946.3 718.3h0M930.6 714.9h0M964 702.4h0M970.7 700.5h0M940.9 717.9h0M943.7 719.3h0M922.5 726.8h0M927.7 727.8h0M952.3 716.5h0M934.6 722.8h0M958.8 712.4h0M945.8 720.1h0M981.8 674.5h0M990.3 685.9h0M990.5 682.5h0M977.9 691h0M979.3 677.5h0M984.2 683.7h0M979.3 659.6h0M989.5 668.6h0M995 669.5h0M980.2 657.7h0M987.9 678.5h0M989.1 682h0M949.9 679.1h0M937.2 702.9h0M944.5 684.4h0M925.6 702.2h0M933.6 697.3h0M935.3 709.1h0M717 620.3h0M729.6 638.5h0M744.8 644.7h0M748.8 626.8h0M750.7 613.3h0M712.6 638h0M743.1 634.8h0M714 624.6h0M715.1 644.2h0M718.4 633.2h0M745.9 647.2h0M742.6 613.6h0M724.4 635.1h0M722 630.8h0M736.8 628.4h0M737.2 648.7h0M745.9 625.8h0M748.7 631.4h0M742.3 619.2h0M731.1 647.8h0M727.2 644.6h0M718.6 620.5h0M728.7 650.3h0M741.1 646.8h0M716.6 629.1h0M727.4 647.6h0M749 616.4h0M728.2 640.1h0M701.8 643.7h0M678.9 634.4h0M701.9 622.3h0M686.1 626h0M687.6 625.4h0M705.9 632h0M690.9 622h0M678.3 626.2h0M676 621h0M707.9 631.3h0M711.1 635.5h0M676.1 645.7h0M706.9 643.8h0M683.7 622.8h0M693.9 629.2h0M670.4 641.8h0M672 625.9h0M694.9 642.8h0M786.1 606.1h0M768.2 611.1h0M768.8 597.1h0M768.9 611h0M796.1 590.5h0M776.7 597.9h0M786.2 600.7h0M769.7 603.4h0M797.7 604.4h0M782.1 602.7h0M777.1 605.6h0M757.7 610h0M785 597.2h0M779.4 606.5h0M827.6 590.9h0M831.5 601.2h0M818.2 604.3h0M817.7 576h0M814.9 598.5h0M818.4 588.2h0M826.9 601.1h0M809.8 579h0M826.2 604.7h0M830.6 620.8h0M832.3 585.2h0M827.9 579.5h0M828.6 620.2h0M813.8 577.1h0M760.3 641.9h0M775.5 632.6h0M774.6 648.2h0M769.1 633.1h0M773.3 641.5h0M765.9 643.5h0M773 644.1h0M766 637.2h0M764.9 644.9h0M780.5 634.6h0M776.3 641h0M776.7 631.7h0M807.3 622.3h0M811 613.7h0M808.6 620h0M822.5 624.5h0M811.8 629.1h0M817.7 689.8h0M829.9 679.9h0M834.8 677.8h0M831.2 687.4h0M820 673.2h0M836.3 673.5h0M821 680.6h0M815.4 647.4h0M931.9 574.6h0M932.6 570.7h0M930.9 567.8h0M931.3 575.3h0M934.9 577.9h0M934.4 572.3h0M933.6 569.4h0M932.4 579.9h0M931.1 632.5h0M932.6 632.7h0M933.4 636.5h0M862.8 760.1h0M858.9 762h0M850.2 765h0M863.4 758.6h0M833.4 791.7h0M831.9 797h0M834.2 794h0M844.9 814.5h0M744.5 531.4h0M964.8 664.9h0M962.4 659.7h0" stroke="#e8261c" stroke-width="2" stroke-linecap="square" fill="none"/>
<text transform="translate(5.9 24.4) scale(1.08 1)" font-size="31.5" font-weight="bold" stroke="#231f20" stroke-width="1" stroke-linejoin="round">a</text>
<path d="M201.4 407h0M228 420.9h0M214 388.4h0M205.1 425.4h0M216.9 384.2h0M205.3 394.4h0M202.5 404h0M204.2 403.3h0M204 402.5h0M222.7 424.9h0M230.1 416.8h0M214.9 425.9h0M226.1 422.9h0M225.1 419h0M198.2 423h0M238.5 408.9h0M221.6 426.4h0M225.5 423.9h0M201 429.3h0M232.7 400.1h0M234.5 415h0M236.8 413h0M217.2 385.5h0M206.5 398h0M218.5 422.4h0M217 385.6h0M202.6 429h0M231.6 417.7h0M201.5 410.6h0M206.4 393.8h0M196.6 428.6h0M231.7 396.3h0M237.4 411.6h0M213.1 426.4h0M202.4 410.1h0M231.6 418.7h0M232.4 417.1h0M197.6 420.3h0M209.3 428.8h0M204.4 403.1h0M198.7 422.2h0M238.5 412h0M203.9 402.9h0M236.3 415.9h0M202.6 397.1h0M214.8 387.7h0M201.6 425.7h0M227.6 391.8h0M203.8 401.4h0M229.2 417.7h0M221.8 425.1h0M237.6 418.4h0M211.7 429.9h0M201.3 409.6h0M227.1 397.7h0M202.5 400.7h0M238.3 418.6h0M200.3 413.2h0M224.4 423.9h0M208.5 428.9h0M219.9 386.6h0M202.2 398h0M231.3 398.1h0M235.6 416.6h0M218.1 385.8h0" stroke="#4cb04a" stroke-width="1.6" stroke-linecap="square" fill="none"/>
<path d="M175.4 139.3h0M171.1 128.8h0M159.5 144.9h0M167.1 154h0M166.6 158.1h0M156.8 120.4h0M181.4 149.6h0M161.9 160.3h0M167.2 142h0M167.8 150.9h0M166.7 148.9h0M169.8 148.1h0M159.3 155.9h0M180.9 134h0M183.8 146.8h0M153.5 154.6h0M155.8 135.4h0M158.1 142.1h0M168.8 145.4h0M154 121h0M150.7 158.2h0M181.2 162.6h0M164.5 146h0M164.1 141.8h0M181.7 136.9h0M161.4 122.2h0M160.3 113.5h0M170.6 148.4h0M164.9 122h0M158.5 146.9h0M158.2 144.6h0M177.4 136.7h0M168.3 144.6h0M153.7 149.9h0M181.8 134.8h0M164.7 149.5h0M152.5 130.2h0M170.4 121.1h0M166.8 131.9h0M153.8 136.9h0M179.6 140.9h0M158.4 122.3h0M164.1 145h0M152.5 149.9h0M174.6 144.6h0M175.5 144.9h0M157 135.9h0M163.1 150.6h0M149.4 144.5h0M155 133.7h0M162.4 150.6h0M154.1 117.2h0M183.4 155.9h0M173.1 135.8h0M174.5 147.9h0M189.5 135.6h0M182.5 133.4h0M161 150.5h0M175.7 153.3h0M182.6 155.9h0M169.3 118.8h0M169.2 137h0M183.2 156.3h0M162.4 116.5h0M155.6 117h0M168.6 135h0M160.6 123.8h0M167.7 120.7h0M152.9 152.9h0M173.6 130.4h0M155.1 155.4h0M152.3 157.1h0M164.6 142.2h0M180.2 131.5h0M149.3 147.5h0M158.4 119.8h0M152.9 155.8h0M173.7 141.9h0M187.4 141.5h0M180 150.4h0M181.3 153h0M165.5 147.5h0M167.8 148.4h0M158.3 151h0M184.2 135.4h0M159.9 122.6h0M149.7 132.8h0M181.8 152.2h0M183.3 158h0M176.4 130.1h0M167.4 125.1h0M157.1 120.5h0M174.6 150.8h0M151.3 119.8h0M167.3 126.7h0M181.3 129.2h0M167.4 132.6h0M162.3 144.6h0M178.8 162.2h0M163.5 121.1h0M155.6 143.9h0M174.5 122.6h0M159 154.4h0M150.4 136.4h0M175.7 139.8h0M165.4 124.7h0M178.1 130.3h0M187.5 159.2h0M173.5 145.1h0M165.2 126.1h0M175.5 130.5h0M154 129.2h0M152.6 149.4h0M160.7 152h0M179.2 143.7h0M176 138h0M172.3 121.8h0M153.5 128h0M170.4 160.9h0M153.3 143.3h0M176.8 132.8h0M178.3 132.1h0M182.5 154.6h0M172.3 158.2h0M155.4 143.2h0M174.6 148h0M153.3 142h0M170.9 145.6h0M167.6 128.8h0M159.6 120.7h0M186.5 150.9h0M164.3 123.6h0M160.6 125.2h0M186.6 142.6h0M155.2 143.6h0M165.6 123.3h0M158.3 125.7h0M172.8 158.6h0M177.5 152h0M178.2 156.2h0M179.9 157h0M177.2 141.5h0M171.7 149.3h0M151.9 131.7h0M158.3 145h0M172.3 126.2h0M170.3 131.6h0M179.2 155.9h0M174.9 155.1h0M165.8 143.6h0M170.2 125.8h0M180 138h0M167.1 162h0M156 127.3h0M185.9 159.1h0M180.5 133.5h0M175.4 154.6h0M163.3 148.8h0M172.2 136.3h0M178.2 142.2h0M183.6 146.3h0M174.1 159.5h0M172.3 159.7h0M167 147.3h0M157.3 120.6h0M181.3 149.3h0M159.3 147.4h0M155.5 118.4h0M164.4 120.7h0M180.2 153h0M178.7 149.7h0M162.6 143.9h0M177.1 159.3h0M166.4 129.8h0M174 131.1h0M159.2 143.7h0M178.6 125.2h0M154.4 122.3h0M167.1 159.1h0M180 145.1h0M158.8 157.4h0M173.6 144.2h0M185.1 138.7h0M168.2 120.1h0M153.8 125.7h0M181.4 160.3h0M180.3 146h0M156.6 134.5h0M169.4 143.3h0M176 145.9h0M170.6 121.4h0M183.8 143.9h0M180.3 160.3h0M158.8 141h0M170.7 135.6h0M156.4 132.4h0M184.3 151.5h0M155.3 135.7h0M165.9 137.3h0M150.5 150h0M181.3 158.4h0M167.7 152.4h0M172.9 149.3h0M164.7 118.9h0M164 135.5h0M160.3 162.3h0M167.6 126.7h0M176 154.1h0M166.6 157.8h0M173 132.9h0M162.9 153h0M158.7 157h0M151.2 136h0M179.4 132h0M175.8 137.5h0M174.8 146.7h0M161.9 142.3h0M180.4 154.6h0M175.3 152.5h0M161.1 147.3h0M156 137.3h0M169.7 124.4h0M183 155.6h0M152.2 134.9h0M172.6 146.7h0M170.9 160.6h0M171.6 138.9h0M164.1 143.6h0M181.6 153.7h0M174.4 138.1h0M182.1 132.1h0M156.3 126.1h0M154.9 117.7h0M170.5 158.5h0M183 152.9h0M151.8 122.3h0M181 155.4h0M184.8 150.9h0M154.4 122.1h0M168.2 151h0M160.6 146.6h0M159 124.5h0M164.9 120.6h0M159.6 128.5h0M159.2 118.5h0M173.7 152.8h0M181.3 139.6h0M158.5 143.9h0M166.6 140.3h0M184.2 140.8h0M177.9 149.9h0M168.1 142.3h0M169.1 134.6h0M161.3 144.4h0M162.1 143.4h0M181.9 143.9h0M183.1 138.8h0M153.3 124.3h0M157.1 119.1h0M153.9 140.1h0M160.8 143.5h0M169.7 130.1h0M152.1 138.4h0M180.5 135.4h0M153.6 124.5h0M152.9 124.9h0M165.5 141.7h0M166.5 117.9h0M172 129.5h0M177 146h0M151.6 133.9h0M182.3 151.8h0M162.6 122.1h0M167.5 135.1h0M152.9 145.4h0M164.5 145.4h0M168.9 134.7h0M159.3 144.5h0M164.9 146.8h0M182.7 148.7h0M167 132.2h0M163 130.8h0M162.8 123.9h0M170.4 154.2h0M172.6 143.5h0M173.2 130.5h0M186.8 148.7h0M160.7 137h0M164.1 121.5h0M158.8 124.3h0M165.6 129.7h0M155.7 139.6h0M171.6 131.4h0M171.1 125.3h0M176.7 156.6h0M159.3 124.8h0M157.7 125.1h0M172.7 122.5h0M172.7 144.9h0M151 138.4h0M181.7 151.6h0M149 147.3h0M167.7 139.1h0M176.5 151.8h0M175.8 140.5h0M156 146h0M150.2 135.8h0M149.9 154.2h0M162.1 125.4h0M185.3 140.6h0M156.2 125.5h0M153.8 141.6h0M153.4 134.6h0M182.5 151.5h0M169.4 149.3h0M173 141.8h0M164.1 138h0M168 146.7h0M169.7 151h0M155 130.2h0M166 146.5h0M152.9 149.3h0M153.7 132.5h0M172.5 139.8h0M160.8 157h0M166.1 125.3h0M167.5 124.2h0M157.5 121h0M176 148.3h0M159 156h0M173.2 144.2h0M176.9 141.2h0M165 123.7h0M184.3 139.3h0M153.2 114.5h0M156 149.6h0M163.2 140.8h0M170.3 152.6h0M151.7 145h0M161.6 149h0M177 161.8h0M168 159.2h0M183.7 152.5h0M162.7 156.5h0M180.8 163.4h0M163.1 127.1h0M158.4 142.9h0M172.2 148.4h0M168.2 145.4h0M182.2 151.1h0M168.4 143.3h0M151.9 135.8h0M162.6 126.4h0M156.4 123.1h0M176.6 138.9h0M152.3 116.9h0M168.2 136.3h0M160.3 121.8h0M161.1 141.1h0M162.2 147.4h0M157.2 136.4h0M173.4 137.1h0M150.2 144.5h0M158.2 152h0M159.1 142.6h0M172.1 131.3h0M160.5 146.2h0M166 136.2h0M152.9 154.9h0M156.9 128.6h0M172.4 142.5h0M165.4 132.6h0M167.2 138.8h0M167.6 147.1h0M176.2 140.5h0M178.8 157.3h0M168.6 141.8h0M183.5 134.4h0M165.3 149h0M176.9 158.6h0M177.7 153.4h0M178.8 134.5h0M166 153.1h0M177.5 130.3h0M176.3 141.2h0M173.2 148.5h0M159.6 136.9h0M168.5 127.8h0M165.6 125h0M166.4 124.8h0M159.7 157.7h0M148.8 134.8h0M152.9 145.1h0M157.2 128.5h0M187.9 139.3h0M186.9 153h0M175 153.1h0M153.4 151.1h0M159.9 130.4h0M164.8 156.4h0M166.4 140.3h0M160.4 134.4h0M170.8 133.1h0M166.5 142.7h0M170.4 150.1h0M154.5 143.8h0M152.7 151.9h0M158.9 155.7h0M166.4 149.6h0M160.8 136.7h0M176.4 160.9h0M168.2 122.1h0M150.5 143.7h0M167.5 151.2h0M161.9 118.6h0M171.9 142.7h0M153.5 139.5h0M152.5 131.7h0M184.8 134.3h0M156.6 125.2h0M154.9 119.7h0M156.7 120.8h0M153.2 150.8h0M160 118.7h0M288.2 67.4h0M272.8 60h0M262 65.4h0M291.2 67.7h0M266.2 59.4h0M261.5 57.9h0M297.1 58.1h0M283.9 71.1h0M276.3 52.7h0M284.8 64.8h0M292.8 74.3h0M266 64.9h0M293.4 71.3h0M268.7 60.6h0M286.4 54.9h0M289.2 53.6h0M273 55h0M264 63.1h0M281.9 63.7h0M284.7 66.7h0M265.6 56.6h0M280.1 56.5h0M265.9 65.7h0M292.9 59.5h0M272.5 71.4h0M272.4 65.8h0M291.8 69.4h0M280.9 64.8h0M289.2 57.7h0M285.7 55.1h0M265.7 66.5h0M279 57.7h0M267.4 52.2h0M285.9 71.4h0M263.2 54.7h0M286.2 65.5h0M278 59.3h0M271.3 56.4h0M256.9 55.6h0M287.2 55.8h0M283.4 56.2h0M284.1 68.5h0M281.3 63.6h0M267.6 55.8h0M282.6 71.8h0M279 51h0M264.6 52.5h0M287.7 66.2h0M280.6 55.9h0M278.1 61.4h0M297.1 64.9h0M278.9 62.9h0M282.8 66h0M269.4 65.7h0M263.8 58h0M291 56.7h0M274.3 56.6h0M269.6 66.1h0M258.3 62.7h0M280.3 66.6h0M282 71.8h0M273.1 66.5h0M264.3 65.4h0M278.5 60.4h0M287.2 56.3h0M296.8 65.1h0M263.8 57.7h0M285.7 55.4h0M293.9 65.1h0M267 62.1h0M274.8 69h0M277.1 72.2h0M292.2 58.1h0M283.9 59.7h0M266.7 61.4h0M261 56.9h0M294 66.4h0M269.7 57.3h0M281.5 51h0M266.2 52.9h0M286.9 71h0M272.4 66.4h0M264.2 52.3h0M291.8 63.1h0M276.9 70.5h0M289.2 57h0M275.7 66.2h0M291.4 59h0M281.6 59.8h0M271.3 70.8h0M275.3 55.2h0M282.4 61.9h0M283.2 66.4h0M291.3 63.5h0M273.8 59.6h0M265 59.7h0M293.2 57.7h0M289.6 70.8h0M270 60.3h0M285.5 53.8h0M270.5 62.8h0M283.5 54.3h0M277.7 57.2h0M269.4 60.6h0M289.3 55.1h0M275.1 69.4h0M298.3 67h0M265.9 55.2h0M282.5 65.6h0M273 64.5h0M273.2 63.3h0M280.6 52.7h0M259.4 61.3h0M260.6 56.9h0M296.5 62.7h0M257.6 58h0M271.1 56.2h0M294.2 68h0M263.3 57.2h0M291.3 55.8h0M287.8 75.8h0M279.1 56h0M293 72.2h0M294.1 72.2h0M289.2 67.4h0M282.9 64.3h0M267.6 69.6h0M282.6 75.8h0M278.3 67.5h0M289.1 65.8h0M289.4 72.1h0M273.5 63.3h0M273 65.9h0M275.7 52.3h0M263.5 64.1h0M281.1 71.4h0M293.4 59.9h0M273.6 71.2h0M279.8 50.1h0M264.7 57.5h0M257.1 56.8h0M260.1 63.9h0M284.8 61.9h0M262 58.3h0M270.6 59.8h0M266.8 67.4h0M288 61.4h0M276 51h0M264.7 60h0M264.6 50.9h0M279.1 65.7h0M273.7 65.7h0M274.7 58.6h0M273.3 66.7h0M265.8 54.7h0M265.9 57.6h0M280.1 57.7h0M259.7 52.7h0M270 49.9h0M263.1 63.3h0M263.1 59.2h0M269.3 62.8h0M287.9 65.1h0M277 68.6h0M267.9 52h0M80.3 166.7h0M79.2 167.1h0M76.3 173.8h0M79 176.1h0M70.2 164h0M74.3 167.5h0M75.7 177.4h0M75.5 176.1h0M75.3 167.4h0M76.3 171.1h0M75.9 171.1h0M74.3 165.8h0M80.7 167h0M79 167.3h0M84.1 172.1h0M76.1 171.7h0M79.3 163h0M79.4 166.1h0M87 174.3h0M79.6 172.9h0M112.3 85.7h0M142.6 29.7h0M151 102.2h0M150.8 129.1h0M153.5 164.8h0M115.3 94h0M151.3 161.4h0M148.5 162h0M138.5 32.2h0M115.5 89.8h0M144.6 90.2h0M152.6 164h0M114 68h0M136.9 165.8h0M118.4 46.7h0M151.6 115.5h0M118.6 44.1h0M152.6 64h0M124.1 132.3h0M150.3 153.2h0M117.7 46.9h0M121.6 119.1h0M146 81.1h0M121.7 42.5h0M150.2 99.3h0M142.4 167.5h0M122.5 117.6h0M150 128.1h0M155.9 104.1h0M122 150.9h0M118 94.1h0M134.3 157.8h0M151.2 63.4h0M152.7 126.9h0M146 144.5h0M152.5 136h0M148.3 144.7h0M142.9 88.5h0M126.7 154.5h0M149.4 150.9h0M142.9 30.7h0M142.3 175.1h0M151.1 101.7h0M113.7 53.6h0M121.8 145h0M146.2 68.3h0M141.2 30.5h0M126.7 158.7h0M114 93.5h0M132.7 30h0M152.3 164.4h0M146.5 30.7h0M149.9 149.4h0M152.1 129.1h0M149.8 96.2h0M147.6 31h0M144.8 77.8h0M152.6 159.3h0M142.6 173.2h0M116.3 57.3h0M147.4 99.7h0M148.1 170.4h0M153.4 39.8h0M148.9 148.5h0M149.5 169.5h0M123.9 144.8h0M152.4 169.2h0M152.9 159.7h0M115.1 97.1h0M151.5 122.9h0M146.8 174.9h0M155 54h0M154.8 113.9h0M117.3 98.6h0M130.6 30.8h0M149.8 100.8h0M153.8 101.8h0M139.2 28.8h0M152.4 109.9h0M148.7 171.7h0M118.4 98.9h0M112.1 74.1h0M151.6 118.9h0M122.7 121.3h0M152.6 116.5h0M108.7 71.9h0M132 155.3h0M148.7 70.5h0M120.6 42.6h0M147.9 139h0M149.9 146h0M112.3 69.9h0M121.4 125.4h0M122.2 131.2h0M146.2 146.6h0M115.1 52.3h0M116.6 108.6h0M142.2 76.8h0M120.6 44.8h0M119.1 103.1h0M152.9 169.9h0M153.1 53.6h0M155.9 119.7h0M142.4 170.4h0M155.1 44.1h0M114.9 51h0M148.2 34.1h0M122.4 35.7h0M119.9 42.6h0M110.5 84.2h0M147.2 110.4h0M127.5 154.6h0M139.3 162h0M147.8 34.6h0M121.3 145.6h0M113.9 56.2h0M144.3 85h0M149.3 152.1h0M147.3 73.5h0M118.4 60.9h0M151 34.3h0M109.8 69h0M151.3 109.7h0M128.2 153.2h0M119.1 119.7h0M127.6 156.6h0M143.5 85.6h0M134.5 28.2h0M144.9 82.9h0M112.2 84.4h0M150.3 101.9h0M134.9 30.8h0M117.3 117.5h0M152.8 47.4h0M142.5 70.1h0M152.2 61h0M153 117.7h0M121.8 126.7h0M123.5 42.9h0M150.9 155.9h0M136.9 158.8h0M122.5 147.3h0M150.4 110.2h0M148.3 63.3h0M112.8 72.2h0M117.6 107.9h0M110.9 74.2h0M149.6 155.3h0M121.9 141.9h0M115.7 75.4h0M121.6 128.2h0M150 147.8h0M132.1 34.6h0M115.2 61.4h0M144.8 73.5h0M122.2 109.6h0M150.1 99.9h0M142.3 30.3h0M148.3 149.6h0M116.1 44.1h0M148.1 35.8h0M150 134.8h0M154.6 112h0M122 146.1h0M198.5 79.3h0M176.6 78.5h0M176.8 124.6h0M195.7 78.1h0M153.2 82.2h0M153.7 84.8h0M153 111.9h0M214.4 100.1h0M149 86.7h0M173.3 127.5h0M160 117.6h0M145.3 91.5h0M203.4 124.9h0M215.3 101.4h0M159.6 81.7h0M206.1 124.5h0M153.3 85.6h0M211.1 83.4h0M148.6 85.9h0M193.3 137.1h0M171 124.7h0M207 121.6h0M216.2 92.1h0M167.7 121h0M213.1 82.8h0M190.8 135.2h0M150.2 90.5h0M150.1 109.2h0M213.4 112h0M197.5 129.6h0M197.4 130.2h0M195.2 75.6h0M169.3 79.4h0M146.9 107.8h0M210.9 108.3h0M189.6 138.5h0M175.1 125h0M216.3 97.3h0M147.5 86.6h0M208.4 107.2h0M212.9 99.8h0M211.4 109.1h0M160.8 81.4h0M217.8 104h0M202.2 123.3h0M165.3 119.7h0M154.7 83.8h0M151.2 86.8h0M183.5 76.9h0M213.9 86.1h0M216.8 94.4h0M147.2 97.4h0M210.3 120.2h0M181.2 76.3h0M194.4 78.2h0M179.5 128.1h0M176.2 121.5h0M184.4 74.9h0M145.9 90.4h0M142.1 85.7h0M183 78.1h0M157.9 114.8h0M171 79.3h0M162.4 82.7h0M216.3 85.2h0M189.2 77.9h0M187.6 79.8h0M200.9 81.6h0M193.2 136.5h0M171.8 122.4h0M159.2 85.8h0M217.6 88.7h0M189.1 80.3h0M185.9 139h0M159.3 84.5h0M154 108.3h0M217.8 101.8h0M189.8 141.3h0M198.8 130.8h0M215.5 102.8h0M153.9 106.2h0M218.7 98.5h0M206.8 83.6h0M204.2 82.1h0M210.3 113h0M153.7 107.6h0M147.2 84.9h0M174.3 119.7h0M192.3 76.9h0M177.7 78h0M176.9 78.3h0M214.4 86.8h0M158.6 81h0M152.2 111.1h0M169.6 79.7h0M212.9 112.2h0M149.8 95.1h0M184.8 136.7h0M216 94.8h0M166.7 121.5h0M147.4 97.9h0M155.5 111h0M189.9 139h0M183.3 77.5h0M210.7 111.5h0M215.3 154.1h0M207.9 176.4h0M184.3 144.8h0M233.2 172.1h0M213.8 174.8h0M226.8 161.1h0M185.8 143.9h0M227.4 163.8h0M186.6 142.4h0M184.9 140.5h0M211.3 146.9h0M193.4 162.5h0M206.4 176.4h0M207.1 173.8h0M232.2 171.5h0M199.6 171.9h0M215.8 152.5h0M205.5 174.4h0M206.7 149.7h0M208.9 145.8h0M225.8 160.2h0M197.8 166.6h0M204.7 143.5h0M209.5 149.6h0M187.6 158h0M218.9 177h0M222.4 175.1h0M229.2 163.1h0M215.3 149.9h0M218.9 152.7h0M184.5 143.3h0M221.9 176.4h0M209.7 145.6h0M236.8 172.9h0M190.6 158.3h0M187.8 151h0M214.2 150.5h0M193.9 159.5h0M226.1 160.5h0M204.5 171.5h0M229.9 177.1h0M218.9 174.8h0M193.8 137.8h0M226.6 156.9h0M202.5 147.6h0M185 147.2h0M188.7 144.3h0M196 167.9h0M213.8 173.4h0M226.7 159h0M218.2 152.5h0M215.3 149.9h0M190.4 162.4h0M198.6 167.6h0M189.8 142.4h0M230.7 171.9h0M202.1 144.4h0M232.7 167.7h0M187.4 141.3h0M187.4 151.3h0M222 162.3h0M196.8 169.7h0M214.1 176.2h0M200.3 144.1h0M210.3 175.5h0M299.5 72.5h0M319.2 24.5h0M238.3 44.6h0M320.2 25.2h0M252.6 15.4h0M245.7 59.1h0M294.4 20.2h0M308.1 69.1h0M256.7 16.8h0M232.4 37h0M268.8 52.3h0M252.1 61h0M243.7 54.1h0M263.3 50.3h0M302.9 23.3h0M301.7 22.1h0M315.7 23.2h0M227 19.8h0M305.1 23.1h0M319.5 33.3h0M254.3 19.2h0M321 39h0M312.2 28.1h0M295.9 66.4h0M293 62h0M313.5 60h0M235.7 45.5h0M244.6 18.4h0M244.5 15.5h0M248.2 23.6h0M307.8 23.2h0M227.5 28.1h0M270.8 16.1h0M296.9 65.4h0M317.9 51h0M294 20h0M251.6 63.6h0M237.8 44.9h0M233.9 36.1h0M237.4 50.7h0M318 32.5h0M299.8 76h0M266.6 49.8h0M309.6 20.8h0M224.2 27h0M306.1 69.8h0M310.5 22.6h0M252.2 18.5h0M247 52.8h0M244.2 21.4h0M262 52h0M320.2 37.8h0M300.1 73.5h0M261.2 51.7h0M300.3 72.8h0M255.2 54.9h0M308.4 23.5h0M249.9 16.8h0M252 58.2h0M237.9 15.5h0M223 21.3h0M284.4 53.4h0M254 57.2h0M302.1 21.8h0M297.7 60h0M228.4 25.8h0M293.8 57.9h0M273.3 52.2h0M315.9 31.2h0M235.6 46.2h0M317.1 59.1h0M273 16h0M305.7 72h0M225.2 21.3h0M266.1 53.3h0M278.8 13.4h0M268.5 12.9h0M225.8 24.5h0M297 16.7h0M295 57.7h0M315.7 21.5h0M235.9 45.9h0M319.9 50.4h0M250.8 60.5h0M247.7 18.6h0M235.3 17.8h0M302.8 77.4h0M291.1 56.3h0M250.1 61.5h0M286.4 53.4h0M235.2 51.1h0M295.7 62.1h0M319.1 34.3h0M245.9 57.9h0M238.8 18.7h0M283.9 14.7h0M315.3 55.8h0M280.6 14.5h0M241.7 45.9h0M319.6 33.9h0M223 17.6h0M229.4 23.5h0M321.5 39.7h0M314.4 20h0M305.6 74.6h0M233.5 46.8h0M306.2 21.3h0M226.3 30.5h0M267.4 53.6h0M298 68.4h0M242.5 54.6h0M258.6 54.5h0M235.7 46.5h0M249.3 17.5h0M276.2 51.7h0M315.4 25.8h0M320.8 44.7h0M260 51.1h0M272.9 14.9h0M299.5 67.9h0M320.1 29.2h0M282.3 14.1h0M316.9 21.3h0M313.1 23.5h0M293.6 57.7h0M321.5 43.4h0M276.1 51.8h0M300.2 72.8h0M279.3 51.5h0M283 14h0M250.2 61.7h0M228.8 32.9h0M321 47.2h0M241.9 53.3h0M221.3 21.9h0M290.3 54.1h0M279.1 16.7h0M257.3 63.9h0M254.9 60.4h0M271.2 75.7h0M255.5 66.9h0M262.7 66.5h0M270.5 81.3h0M260.3 68.9h0M262.1 62.3h0M273.4 81.4h0M258.4 69.6h0M259.9 71.7h0M264.2 76.5h0M267.9 79.1h0M260.4 68.7h0M267.5 65.3h0M258.7 63.8h0M259.5 74.4h0M263.1 76.8h0M262.8 76.4h0M270.9 84.5h0M259.1 75.5h0M258.1 64.7h0M257.9 66.8h0M264.1 65.3h0M270.3 70.3h0M266.1 79.2h0M271.6 73.8h0M258.9 67.3h0M261.3 74.5h0M264.9 78h0M269.7 69.6h0M352.8 125.3h0M343 117.1h0M353.7 111.1h0M357.6 110.8h0M353.9 120h0M350 112h0M360.9 108.4h0M343.8 108.8h0M338.6 113.9h0M347 111.3h0M352.3 122.6h0M347.6 112.6h0M352 112.6h0M359.1 114.5h0M350.7 112.8h0M349.8 122.3h0M345.8 116.5h0M356.7 112h0M347.8 123.1h0M350.9 111.6h0M349 126.2h0M355.3 116.8h0M341.8 114.5h0M355.7 118.3h0M353.3 111.4h0M343.6 117.3h0M353.3 126.3h0M350.2 112.1h0M330.1 158.7h0M339.5 176.6h0M333.3 180.4h0M340.6 180.3h0M328.1 159.9h0M338.1 180.5h0M346.7 174.3h0M316.6 165.3h0M328.7 175.6h0M348.5 173.8h0M327.6 170.5h0M320.2 166.2h0M341.2 162.7h0M322 166.8h0M343 164.4h0M342 164.8h0M334.6 178.4h0M346.2 166.2h0M334.4 162h0M333.8 162.7h0M321 164.5h0M333 160.2h0M341.3 175.9h0M327.4 159.9h0M323.9 170.6h0M335.1 161.2h0M328.1 175.8h0M347.7 175.2h0M347.6 172.2h0M324.4 169.3h0M342.4 170.3h0M323.4 172.5h0M328.8 174.5h0M348.3 174.9h0M330.1 158h0M339.9 178.1h0M333.3 175.9h0M339.1 230.7h0M336.1 239h0M388.2 256.4h0M369.7 205.9h0M354.6 274.4h0M367.7 271.9h0M392.5 207h0M396.3 224h0M392.3 232.8h0M364.5 269.8h0M394.2 225.2h0M366.8 269.2h0M330.3 242.3h0M394.6 235h0M395.7 215.6h0M343.4 268.1h0M330.9 255.1h0M369.2 202.9h0M352.6 223.3h0M351.5 223.8h0M381.6 257.9h0M388.2 205.5h0M352.1 216.9h0M378.8 263.7h0M389.8 248.7h0M331.4 243.6h0M395.6 208.8h0M358 270.8h0M376.3 271.6h0M350.5 270.2h0M340.9 266.9h0M338.3 236.2h0M389.3 256h0M333.9 264.3h0M368.5 268.9h0M381.4 264.1h0M362.4 274.6h0M363.1 269.7h0M338.8 232.7h0M386.6 261.2h0M393.2 216.5h0M388 252.9h0M363.3 208h0M396 216.7h0M396 220.2h0M344.4 228.1h0M343.3 223.9h0M333.8 255.8h0M396.3 235h0M349.9 267.6h0M387.6 203h0M335.1 243.1h0M329 251.3h0M329.1 246.6h0M378.4 204.7h0M346.1 222.6h0M393 240.8h0M393.2 244h0M373.5 270.2h0M335.8 238.8h0M335.7 264.1h0M391.5 209.4h0M333.4 260.4h0M359.6 211.7h0M396.7 248h0M330.6 245h0M389 248.5h0M378.4 201.1h0M374.4 202.8h0M359.8 210.3h0M349.2 223.3h0M395.7 227.8h0M396.5 222.5h0M341.9 228.4h0M330.9 252.1h0M336.9 260.1h0M348.7 218.9h0M376.6 203.9h0M369.6 271.2h0M344.8 266.7h0M396.8 224.1h0M388.3 202.4h0M351.5 269.4h0M396.9 236.1h0M385.1 199.5h0M392.3 205.6h0M378.9 263.6h0M396.5 238.4h0M396.6 226.4h0M392.2 243.7h0M342.6 264.4h0M330.1 241.2h0M347.3 268.6h0M358.4 213.4h0M339 262h0M349.4 221.2h0M398.6 228h0M343.3 266.5h0M394 217.8h0M393.9 218.1h0M394.4 231.8h0M332.5 254h0M382.9 261.7h0M383.3 263.6h0M377.6 268.6h0M346.3 223.4h0M359.8 276.7h0" stroke="#1b96cd" stroke-width="1.6" stroke-linecap="square" fill="none"/>
<path d="M150.3 175.7h0M151.9 182.4h0M148.4 161.9h0M139.7 199.1h0M142.8 209.7h0M150.5 200.3h0M139.7 209.5h0M141.8 181.8h0M149.3 202.3h0M142.1 167.2h0M145.1 170.1h0M142.4 205.2h0M134.8 214.1h0M144.9 205.3h0M141.9 204h0M143.5 164.8h0M131.4 227.6h0M143 183.4h0M151 194.8h0M149.2 162.4h0M146.5 178.9h0M150.8 153.3h0M140.9 216.2h0M146.5 182h0M153.8 185.3h0M133.3 228.8h0M144.4 175.6h0M145.1 179.2h0M148.6 186.5h0M147.2 167.9h0M150.7 168.2h0M143 156h0M141.5 189.2h0M150.4 196.4h0M149 165h0M139.9 160.9h0M148.5 153.8h0M147.6 205.7h0M146 185.8h0M134.1 226.8h0M143.7 207.2h0M147.2 152.3h0M143.4 190.7h0M144.7 193.9h0M137.1 208.5h0M144 164.3h0M143.2 170.4h0M146.1 159.1h0M144.8 174.1h0M144.6 173.3h0M149.2 204.4h0M148 160.4h0M146.3 174.8h0M139.5 210.1h0M149.2 175.3h0M152.2 168.5h0M149.6 192.3h0M145.7 191.3h0M141.7 163.1h0M142.7 186.8h0M150.1 185.2h0M139.1 152.9h0M148.4 160.8h0M132.2 220.9h0M153.4 180.2h0M140.7 168.9h0M145.7 161.8h0M143.4 155.3h0M145.8 209.9h0M145.8 181h0M144.4 200.5h0M149.6 164.2h0M139.7 187.8h0M148.1 165.1h0M146 175.1h0M143.2 184.6h0M140.7 177.2h0M148.1 155.1h0M143.2 167.8h0M154 182.1h0M148.4 194.1h0M151.5 159.2h0M145.7 184.1h0M147.1 183.7h0M144.7 190.5h0M134.7 221.8h0M151.7 194.5h0M146.3 157.8h0M146 183.8h0M146.4 178.2h0M145.2 205h0M150.2 180.5h0M143.2 221.5h0M146.5 209.6h0M150 164.3h0M141.4 171h0M138 227.3h0M141 189.6h0M151.1 165.5h0M145.5 211.2h0M150.3 182.7h0M144.9 189.5h0M138.7 215.6h0M144.3 206.4h0M153.6 186h0M147.7 176.2h0M144.8 155.8h0M150.4 194.4h0M133.7 218.4h0M147 171.6h0M144.3 182.3h0M147.4 158.4h0M149.7 188.9h0M143.4 207.1h0M151.1 170.2h0M143 208.2h0M144.3 209.4h0M149.9 166.7h0M149.2 168.9h0M143.1 170.4h0M143.6 192.3h0M146.8 190.2h0M134.8 225.9h0M142.5 207.5h0M143.3 153.8h0M138 160.4h0M142.2 208.3h0M152 156.9h0M147.5 175.6h0M143.1 200.4h0M137.5 177.3h0M152.2 168.1h0M151.7 195.1h0M138.4 156.4h0M143.3 182.2h0M147.6 163.8h0M145.6 185.7h0M143.1 158.8h0M144.5 190.3h0M146.3 203.2h0M149.6 179.7h0M141.8 174.7h0M155.2 178.2h0M150.9 187h0M145.8 155.1h0M142.9 156.1h0M144.3 154.7h0M143.4 200.6h0M145.3 196.1h0M140.3 204.8h0M149.4 167.1h0M145.8 202.6h0M142.2 164.7h0M145.9 191h0M150 184.6h0M151.8 157.7h0M136.9 220.3h0M141.8 170.5h0M153.5 186.2h0M143 193.2h0M134.9 230.8h0M140.6 180.4h0M140.7 194.9h0M154.6 177.9h0M142 210.2h0M146.6 183h0M143.8 205.5h0M142.6 165.8h0M138 169.2h0M150.2 155.5h0M140.5 172h0M148.9 151.5h0M141.3 184.1h0M145.3 157.1h0M141.3 212.4h0M144.9 191.5h0M144.1 213h0M140.6 200.9h0M146.2 149.6h0M136.7 225.8h0M146.5 190h0M151.9 169.8h0M144.9 169.6h0M138.7 156.1h0M148.2 169.2h0M140.4 158.4h0M156.9 191.6h0M137.4 229.7h0M147.7 163.7h0M142.9 205.3h0M147.3 185.1h0M142.6 191.5h0M150.8 163.9h0M136.5 210.8h0M155 183.4h0M148.2 180.6h0M142.9 193.9h0M145.6 167.5h0M137.5 220.6h0M141.3 204.7h0M145 195.4h0M151.2 183.2h0M140.1 212.8h0M144.9 164h0M147.2 161.5h0M149 169.1h0M142 202.7h0M142.6 200.7h0M153.2 172.9h0M148.1 201.9h0M133.2 226.1h0M149.1 198.6h0M149.2 163h0M142.4 174.6h0M137.5 214.1h0M147.1 189.7h0M139.3 163.3h0M146 175.3h0M148.8 176.4h0M145.8 191.4h0M137.2 224.8h0M151 198h0M153.6 162.5h0M152.2 168.6h0M140.7 171.3h0M148.9 165.6h0M139.7 220.4h0M146.1 167.4h0M151.6 155.5h0M138.6 166.7h0M148.6 198.4h0M145.6 207h0M153 186.3h0M145.8 211.4h0M146.3 197.4h0M143 198.1h0M145.7 161.3h0M152 163h0M141.7 163.8h0M146.5 208.6h0M142.3 211.2h0M149.6 187h0M149.9 189.4h0M142.1 195.8h0M152.9 158.7h0M140.3 157.4h0M140.1 170.6h0M137.3 221.1h0M143.2 185h0M141 215h0M148.4 179.2h0M151.5 169.8h0M151.1 164.6h0M133.3 217.1h0M145.6 183.3h0M139.3 200h0M133 232.5h0M145.4 175.4h0M144.1 153.4h0M150.4 176.2h0M140.5 206.3h0M147.9 184.7h0M144.1 191.4h0M143.8 197.9h0M142.1 178.8h0M150.6 166.1h0M138 219.1h0M136.6 217h0M151.2 191.6h0M150.3 177.4h0M150.6 183.3h0M145.4 156.8h0M142.3 164.5h0M141.6 166.7h0M147.9 200.7h0M152.1 183.6h0M149.2 179.6h0M147.5 200h0M136 225.7h0M134.3 221.3h0M148.4 163.9h0M134.7 224.9h0M147.8 192.5h0M137.2 206.3h0M150.4 176.8h0M142.7 207.2h0M135.2 221.7h0M148.3 181.9h0M142.5 151.8h0M136.2 215.4h0M130.2 226.2h0M144.1 212.1h0M148.9 188.8h0M150.7 183.8h0M143 155.4h0M146.3 164.8h0M142.9 186.3h0M140.3 157.8h0M137.4 222.7h0M143 176.6h0M138.6 196.2h0M135.9 215.2h0M147.3 189.1h0M144.1 211.6h0M149.5 198.6h0M149.4 197.5h0M151.1 182.3h0M144 184.9h0M142.5 194.1h0M140.9 174.5h0M144.4 186.8h0M145.1 164.5h0M133.9 227.4h0M147.6 184.4h0M139.8 166.6h0M145.1 187.4h0M154.8 163.5h0M150.4 153.9h0M149.3 192.4h0M146.4 205.7h0M149 171.8h0M143.4 169.8h0M147 174.1h0M135.1 222.6h0M139 206.5h0M142.3 172.9h0M137 230.7h0M143.2 201.3h0M143.1 204.3h0M142.5 181.1h0M150.4 157.8h0M152.5 172.5h0M144.3 179.8h0M143.7 207.8h0M143.6 210.1h0M150.8 169.1h0M151.9 159.8h0M146.6 184.1h0M145.6 163.6h0M141.9 219h0M142.7 189.6h0M146.8 160.1h0M141.1 190.5h0M144.9 171.5h0M136.8 219.8h0M132.8 228.8h0M136 221.9h0M142.4 204.6h0M140.7 196.2h0M141.2 194.2h0M131.9 227.6h0M141.1 218h0M140.3 170.8h0M135.5 217.4h0M145.4 171.9h0M141.7 206.7h0M137.1 216.4h0M140.1 160.9h0M150.2 168.5h0M148 166.9h0M143 157.7h0M148.5 158.9h0M121.6 230.9h0M117.8 229.9h0M119.1 236.9h0M121.8 228.9h0M122.4 232.9h0M122.1 230.7h0M145 250.8h0M148.8 246.5h0M151.6 253.5h0M142.8 252.1h0M150.3 261.4h0M149.4 263.7h0M147.4 247.7h0M146.8 256.1h0M154.2 259.4h0M162.1 263.9h0M152 260.7h0M151.6 254.3h0M141.8 245.5h0M160.7 263h0M142 254.7h0M142.7 248.9h0M148.9 240.3h0M147 245h0M149 260.2h0M148.4 240h0M138 237.7h0M149.3 257.1h0M150.3 250h0M148.9 252.8h0M140.9 235.8h0M141.3 235.5h0M142.9 252.1h0M148.4 257.9h0M141.3 238.2h0M149.6 252.9h0M151.1 256.2h0M249.7 54.9h0M249.5 51.8h0M250.5 55h0M254 57.3h0M250.8 51.9h0M246.6 51.2h0M249.2 58.7h0M253.9 55.4h0M249.5 53.3h0M254.7 53.5h0M251.1 57.4h0M251.4 48.1h0M253.8 59.1h0M253.9 55.5h0M248.7 51.6h0M251.7 55h0M254.5 57.9h0M250.8 54.9h0M252.9 57.4h0M250.1 55.9h0M253.3 56.6h0M250.6 48.4h0M250.1 54.3h0M248.4 52.9h0M250.7 55.3h0M248.3 55.9h0M319.8 247.9h0M324.1 251.3h0M325.3 250h0M306.9 251.5h0M317 250.7h0M319.7 248.7h0M323.7 248.4h0M310.6 252.1h0M98.5 243.7h0M95.3 243.1h0M83.4 243.5h0M89.9 245h0M95.2 242.6h0M83.1 246.8h0M84.5 247h0M91.6 246.8h0M86.9 244.5h0M87.6 246.5h0M86.7 248.9h0M94.5 242h0M93.9 247.1h0M82.6 248.9h0M90.9 244.9h0M87 247.9h0M87.8 250.7h0M91.6 243h0M99.7 241.3h0M89.1 240.3h0M95.8 244.1h0M131.4 236.9h0M133.3 236.6h0M135.7 231h0M132.9 236.9h0M126 237.2h0M125.2 231.4h0M132.6 238h0M127.7 230.3h0M124.2 229.7h0M123.7 228.6h0M129 228h0M123.9 229.1h0M128.2 228.9h0M124.6 229.8h0M133.3 230.2h0M129.4 223.7h0M133.2 237.1h0M138.9 232.4h0M125.6 229.4h0" stroke="#8a8a8a" stroke-width="1.6" stroke-linecap="square" fill="none"/>
<path d="M248.8 208.9h0M240 204.9h0M241.3 209.4h0M239.9 213h0M246.8 209.8h0M236.7 202.2h0M242.3 204.8h0M240 201.4h0M237.1 205.5h0M247.1 204.8h0M242.3 204.7h0M243 211.3h0M251 251.2h0M250.8 207.7h0M237.9 238.1h0M264.7 250.4h0M267.2 221.4h0M236 224.4h0M240.1 226.7h0M282.1 243.1h0M269.9 247.8h0M250.3 210.7h0M265 225.7h0M282.4 244.7h0M263.2 226.3h0M293.7 249.9h0M263.4 215.6h0M238.8 227h0M244.1 214.2h0M246 246.4h0M278.8 241.7h0M296 252.5h0M239.1 209.4h0M240.3 223.9h0M240.3 221h0M262.5 225.1h0M270.2 244.9h0M262.1 226.9h0M245.8 242.8h0M262.6 244.7h0M273.4 248.4h0M241.8 223.4h0M240.9 213.6h0M281.9 247.4h0M274 235.9h0M277.3 249.9h0M248.3 208.3h0M284 251.7h0M274.8 240h0M285.5 245.5h0M261.4 216h0M275.4 235.7h0M285.3 243.7h0M273.9 247.3h0M244.2 212.4h0M298.9 245.7h0M292.6 254h0M265.4 228.5h0M258.7 214.8h0M274.5 237.7h0M252.7 251.1h0M287.6 246.1h0M297.2 247.3h0M294.5 254.6h0M282.4 252.3h0M239 239.2h0M240.4 219.3h0M264.5 219.6h0M270.6 237.2h0M239.4 240.3h0M259.2 249h0M268.1 227.2h0M243.7 243.8h0M288.6 249.2h0M285.8 251.9h0M283.5 251.2h0M258.1 246.2h0M241.5 221.2h0M280.7 239.1h0M268.7 233.2h0M289.2 244.6h0M295.3 252.3h0M267.7 219.5h0M275.4 239.2h0M244.8 247.2h0M265.5 218.9h0M287.6 243.3h0M267.7 230.2h0M265.6 227.3h0M277.2 239.7h0M240.1 234h0M295.8 253.7h0M267 227.9h0M268.8 230.8h0M285.7 249h0M252.3 210.1h0M265.9 220.8h0" stroke="#f4b4c4" stroke-width="1.6" stroke-linecap="square" fill="none"/>
<path d="M166.3 329.7h0M164.8 326.3h0M172.9 335.4h0M176.8 334.3h0M175.6 332h0M171.9 324h0M175.3 330.6h0M172.9 335.6h0M174.6 324.5h0M178.1 338.8h0M169.6 322.5h0M171.1 337.2h0M168 326.5h0M175.5 335.1h0M176.2 325.6h0M180.9 328.8h0M169.5 329.2h0M182.5 329.9h0M177.5 326.2h0M169.6 321.3h0M177.5 330.1h0M169.2 338h0M176 333.7h0M163.1 322.8h0M171.2 329h0M178.9 336h0M166.4 330h0M176.4 328h0M177.5 335.1h0M174.3 333.3h0M175 329.7h0M168.5 325.6h0M172.3 333.3h0M165.7 326.5h0M220.3 314.8h0M149.7 267.1h0M195.2 318.6h0M164.9 320.3h0M136.4 275.9h0M225.8 309.8h0M192.1 279.9h0M137.3 297.7h0M135.1 284.3h0M139.8 297.9h0M220.3 299.5h0M184.4 272.6h0M169.8 269.4h0M139.3 279.8h0M183.6 270.3h0M193.9 283h0M202.6 301.5h0M167.7 323.8h0M222.1 303.4h0M155.3 315.5h0M152.5 316.2h0M139.2 278.3h0M190.6 326.7h0M188 321.6h0M136.7 271.7h0M155.7 317.1h0M177.8 268.3h0M217.1 312.4h0M190.3 323.2h0M178.1 327.5h0M135.1 271.2h0M209 301.1h0M171 263.6h0M159.8 320.6h0M140 284.3h0M181.4 323.3h0M221.5 297.5h0M215.9 310.9h0M138.1 274.3h0M200.9 316.6h0M191 283.1h0M225.4 300.5h0M162.5 322.3h0M174 269.3h0M205.3 316h0M140.8 299.3h0M149.3 263.3h0M167.7 267.9h0M192.4 319.8h0M210.6 316.3h0M162.2 323h0M144.5 310.9h0M148.1 306.1h0M185.8 274.4h0M215 298.2h0M156.2 266h0M216.3 302.8h0M195.9 321h0M191.7 286.9h0M215 312.6h0M137 292.5h0M178.6 329.2h0M192.8 324.1h0M221.5 311.5h0M166.7 322.9h0M225.8 306h0M149.7 266.7h0M136.9 275.3h0M196.3 290.2h0M223.3 310.8h0M156 267.1h0M144.7 267.2h0M185.2 268.2h0M175.8 264.8h0M134.5 271.4h0M138.5 271.4h0M197.4 319.7h0M139 289.5h0M211.2 316.3h0M138 285.8h0M171.6 328h0M144 305.8h0M195.9 289.4h0M222.9 307.5h0M150.6 264.9h0M138.2 282h0M144.5 270h0M138.2 300.4h0M214.7 311.8h0M179.2 327h0M180.5 325h0M168.1 326.4h0M220.5 302.2h0M135.4 282.5h0M213.9 298h0M211.8 314.6h0M193.7 282.3h0M192.7 275.9h0M216.9 300.9h0M189.7 319.1h0M162.3 263.7h0M140.9 303.5h0M189.1 276.8h0M185.3 272.6h0M153.2 315.8h0M149.6 266h0M213.4 313.3h0M200.9 295.5h0M192.3 321.6h0M137.6 292.2h0M147.6 313.3h0M225.6 304.8h0M153.7 266.1h0M193.2 320h0M140.9 292.4h0M206.1 319.3h0M156.3 319.8h0M191 282.3h0M181.1 328.2h0M183 325.2h0M193.2 290.8h0M139.7 265.9h0M193.1 286h0" stroke="#e8253a" stroke-width="1.6" stroke-linecap="square" fill="none"/>
<path d="M273.6 375.2h0M274.7 377h0M268.7 368.5h0M268.8 369.8h0M275.3 378.7h0M276.8 370.1h0M269.1 367.9h0M272.2 376.9h0M275.4 377.7h0M273 378.3h0M278.7 377.2h0M276.1 365.2h0M274.3 380.3h0M269.4 369.2h0M274.7 371.6h0M269.9 369.3h0M275.5 364.7h0M272.8 366.1h0M285.6 362.3h0M291.2 384.3h0M301.2 371.9h0M293.4 353.8h0M282 379.4h0M298.4 380.1h0M285.9 359.6h0M296.6 349.4h0M274.6 369.7h0M282.2 381.5h0M289.7 359.3h0M297.6 380.2h0M295.1 384.6h0M291.9 384.8h0M287.2 360.1h0M278.7 368.3h0M276.7 371.8h0M277.2 363.3h0M278.9 367.9h0M284.2 365.8h0M276.8 361.6h0M281.9 372.6h0M299.1 352.2h0M276.3 362.5h0M282.2 380.4h0M288.8 384.9h0M305.2 369.7h0M293.9 352.7h0M294.6 355.8h0M277.7 361.9h0M285.1 357.4h0M284.5 359.1h0M290.8 355.3h0M279.7 373.6h0M281.7 360.2h0M286.3 359.5h0M288 355.9h0M303.9 363.1h0M278.7 369.9h0M286.1 379.5h0M299.4 357.7h0M290.8 358.3h0M286.6 377.6h0M300.2 379.7h0M289.9 359.5h0M278.2 363h0M296.8 385h0M279.2 377h0M277.4 370.1h0M290.8 355.7h0M275.3 363.6h0M289.6 360h0" stroke="#7d4ea3" stroke-width="1.6" stroke-linecap="square" fill="none"/>
<path d="M187.3 422.1h0M194.4 414.6h0M191.8 419.7h0M187.2 419.2h0M201.9 423.3h0M189.5 421.6h0M189.5 418.9h0M191.1 419.6h0M187.5 421.8h0M199.9 424.3h0M197.2 423.3h0M202.9 418.9h0M191.1 423.3h0M188.1 418.2h0M200.9 423h0M187.3 419.2h0M198.3 418.6h0M189.5 421.4h0M197.4 422.7h0M196.8 420.3h0M159.8 396.9h0M185 414.4h0M164.5 439.3h0M161.6 398.7h0M152 432.1h0M177.4 425.5h0M183.7 408.3h0M172.2 395.9h0M161.3 394.2h0M180.9 400.2h0M185.9 420.7h0M181.8 407.2h0M184.3 421.2h0M143 413.2h0M185.4 406.5h0M157.7 399.1h0M158.5 398.3h0M148.1 430.2h0M167.1 398.8h0M143.6 423.5h0M162.6 440.3h0M183.2 421.8h0M146.7 429.8h0M147.7 410.4h0M170.2 439.2h0M175.9 433.2h0M179.3 401.3h0M160 398.2h0M151.5 406.5h0M180.3 426.6h0M172.1 393.8h0M146.9 418.7h0M185 425.1h0M183.3 418.2h0M169.5 437h0M180.1 407.1h0M153.9 398.5h0M154.1 431.7h0M146 418.2h0M153.5 403.2h0M174.1 394.6h0M181.8 426.1h0M171.1 434.8h0M145.6 413.4h0M170.4 434.7h0M149.8 431.1h0M157.5 397.5h0M185.6 409.8h0M164 441.8h0M156.9 437.9h0M163.2 437.7h0M172.3 438.1h0M145.1 420.9h0M159.7 397.7h0M147.4 414.2h0M162.1 396.1h0M148.5 409.5h0M171.1 436.6h0M150.6 406.4h0M174.6 433.6h0M148.1 410.1h0M159.6 395.9h0M188.3 411.8h0M185.8 411.2h0M177.7 434.1h0M168.7 434.8h0" stroke="#e8e337" stroke-width="1.6" stroke-linecap="square" fill="none"/>
<path d="M48.5 221.1h0M64.2 180.1h0M59.3 185.9h0M51.7 206.9h0M48.7 214.1h0M47.3 233.1h0M65.7 259.6h0M48 223.9h0M74.8 255.1h0M83.5 186.2h0M53 213.9h0M50 219.6h0M47.7 220h0M77 169.3h0M66.3 178h0M58.3 184.4h0M77.1 256.5h0M77.5 255.9h0M53 193.7h0M85 180.5h0M77.4 170.4h0M46.4 220.6h0M82.5 183.7h0M83.6 247.4h0M88.8 228.4h0M50.6 248h0M46.5 214.9h0M62.9 262.3h0M92.5 225.8h0M78.8 171.9h0M44.9 241.9h0M85 247.6h0M84.5 188.9h0M83.3 204.2h0M57.5 189.1h0M49.5 205.8h0M85.1 200.6h0M83.4 250.3h0M91.6 238.1h0M48.9 236.3h0M72.9 256.6h0M84.2 206.7h0M90.3 244.8h0M84.2 205.3h0M93.9 226.9h0M47.8 245.8h0M48.1 231.2h0M57.1 259.2h0M86.2 250.8h0M87.2 209.6h0M90.5 220.9h0M61.6 182.1h0M46.8 234.7h0M80 251.6h0M79.2 171.9h0M63.9 256.8h0M50.5 248.5h0M49.6 246.9h0M63.5 179.4h0M59.6 185h0M83 197.4h0M90.1 224h0M46.6 217.9h0M46.9 212.4h0M90.8 214.1h0M49.3 250.4h0M52.5 190.5h0M51.5 195.1h0M85.5 198.5h0M50.1 208h0M89.7 235.5h0M91.4 235.5h0M48.2 243.9h0M48.9 220.6h0M83.8 192.5h0M84.7 195.7h0M83.7 209.8h0M80.8 190.2h0M47.3 237.7h0M48.4 225.6h0M91.2 232.3h0M54.3 189h0M88.9 214.6h0M89 222.4h0M91.1 230.3h0M48.4 236.2h0M47.8 219.3h0M83.7 187.9h0M94 239.7h0M67.1 176.7h0M81.6 195h0M50.8 248.2h0M47.5 213h0M66.6 257.7h0M57.7 191.8h0M84 198.4h0M50.8 196.8h0M51.3 194.7h0M77.6 170.5h0M91.8 210.4h0M67.6 257.6h0M84 196.2h0M81.1 171.5h0M90.1 232.1h0M51 246.2h0M94 239.3h0M50.9 251.6h0M62.9 264.1h0M81.8 178.4h0" stroke="#f08435" stroke-width="1.6" stroke-linecap="square" fill="none"/>
<g filter="url(#spd)"><polygon points="111.6,65 114.9,47.2 123.9,34.9 136.4,27 144.9,28.2 151.9,38.6 154.1,54.3 150.8,65.5 146.5,74.1 145.5,85.5 149.7,97.3 154.1,112.7 151.9,130.3 149.8,147.5 151.9,160.3 154.2,169.6 148.9,174.9 141.2,172.4 135.7,161.4 128.2,157.1 121.4,148 119.2,134.6 120.2,121.6 117,108.7 114.9,95.7 111.6,82.6" fill="#1b96cd"/><polygon points="142.6,84.7 154.9,83.4 165.5,81.3 176.5,75.8 192.1,76.9 208.8,79.1 215.9,86.2 217.1,97.7 212.6,113.3 205.9,124.4 197.1,133.2 188.6,140.5 180.2,131 171.8,122.5 161.1,118.3 151.9,113.7 147.4,98" fill="#1b96cd"/><polygon points="188,137.5 198.9,139.9 212.2,146.6 225.4,159.8 234.6,171.3 231.8,176.9 220.1,178 206.7,174.7 195.5,168 186.5,156.8 184.2,147.5" fill="#1b96cd"/><polygon points="222.1,19.6 243.2,17.3 265.1,12.9 287,16.2 304.4,20.5 315.7,21.6 321.6,32.2 322.7,43.5 318.2,57 310.5,68 302.1,77.6 296.5,73.3 296,63.3 291,56.3 282.8,53.2 272.3,51.6 261.8,53.2 255.5,56.1 256.2,64.5 250,62.9 245.8,59.5 237,50.6 229.3,35.2" fill="#1b96cd"/><polygon points="255.7,65.3 265.7,63.3 278.4,84.1 272.5,86.4 261.5,77.1" fill="#1b96cd"/><polygon points="337.4,110.6 349.2,110.5 356.6,109.3 359.3,117.4 354.6,123.3 349.2,130 345,124.3 342.8,118.8" fill="#1b96cd"/><polygon points="316.9,165.9 328.5,158.1 340.1,162.7 347.1,167.4 348.4,175.4 342.5,177.8 338.7,184.2 332.2,177.7 324.7,172.4" fill="#1b96cd"/><polygon points="327.2,251.8 334.2,238 342.9,227.1 353.9,213.9 369.4,203.9 382.9,199.4 392.6,203 396.7,216.8 397.1,232.3 393.8,247.8 386,261.1 374.8,271.2 361.2,275.7 347.6,270.1 336.5,263.4" fill="#1b96cd"/><polygon points="121.1,229.9 127.7,225.5 135.3,226.7 138.1,233.5 132.8,238.8 123.8,238.1" fill="#8a8a8a"/><polygon points="238.5,216.6 245.7,207 257.7,208.2 264.7,216.4 267.9,229.4 275.2,237.7 287.9,244.1 300.7,249.2 294.2,254.1 280.6,250.7 268,247.5 259.5,250.7 247.9,250.7 240.8,243.6 238.5,230.1" fill="#f4b4c4"/><polygon points="48.2,211.5 52,194 60.8,178.9 71.1,169.9 79.9,168.4 83.9,181.9 85.1,196.7 88.8,211.4 92.5,226.3 93.8,239.3 84.8,249.7 72.1,258.5 59,261.2 50.8,255.7 46.9,241.5 46.9,224" fill="#f08435"/><polygon points="134.5,270.2 147.9,264.9 168,263.6 183.4,267.5 191.2,277.8 196.1,290.1 203,296.9 215.1,296.9 228.9,303.8 224.3,311.5 210.3,316.6 195.5,321.5 183.2,326.4 172.7,331.7 159.8,321.4 147.3,313.9 139.6,303.6 137.1,288.5" fill="#e8253a"/><polygon points="272.3,358.3 283.6,361 290.4,354.2 296.6,345.1 301.1,357 304.5,367.2 301.1,380.3 292.7,387.3 283.1,381.7 277.9,372.7" fill="#7d4ea3"/><polygon points="143.2,416.5 149.7,403.5 160,395.8 170.6,393.1 181.2,401.1 186.4,411.5 185.1,424.5 178.6,434.8 168.2,441.4 157.5,440 148.4,432.2 144.5,424.4" fill="#e8e337"/></g>
<g filter="url(#spm)"><polygon points="196.3,421.6 201.3,406.4 206.4,393.8 217.3,382.9 225.5,391.1 233,398.6 239.5,407.7 238.1,416.2 227.7,421.4 217.8,427.7 207.6,430.2 199.1,430.2" fill="#4cb04a"/></g>
<text x="259.2" y="117.8" fill="#1b96cd">Neurons</text>
<text x="166.4" y="236.4" fill="#8c8c8c">Other</text>
<line x1="140.2" y1="230" x2="160.8" y2="230" stroke="#141414" stroke-width="1.7"/>
<text x="0.7" y="301.8" fill="#f08435">Oligodendrocytes</text>
<line x1="57.2" y1="264.4" x2="57.2" y2="286.1" stroke="#141414" stroke-width="1.7"/>
<text x="77.8" y="356" fill="#e8253a">Astrocytes</text>
<line x1="148.5" y1="322.4" x2="148.5" y2="341.1" stroke="#141414" stroke-width="1.7"/>
<text x="246" y="298" fill="#f4b4c4">Oligodendrocyte</text>
<text x="246" y="317.9" fill="#f4b4c4">precursor cells</text>
<line x1="258" y1="259.9" x2="258" y2="279.7" stroke="#141414" stroke-width="1.7"/>
<text x="308.9" y="354.5" fill="#7d4ea3">Microglia</text>
<line x1="304.8" y1="368.4" x2="317.9" y2="357.1" stroke="#141414" stroke-width="1.7"/>
<text x="41.9" y="434.6" fill="#e8e337">Endothelial</text>
<line x1="127.2" y1="427.4" x2="146.6" y2="427.4" stroke="#141414" stroke-width="1.7"/>
<text x="248.7" y="408.4" fill="#4cb04a">Pericytes and</text>
<text x="248.7" y="428.5" fill="#4cb04a">vascular</text>
<text x="248.7" y="448.6" fill="#4cb04a">leptomeningeal</text>
<text x="248.7" y="468.7" fill="#4cb04a">cells</text>
<line x1="225.1" y1="427.4" x2="245.7" y2="427.4" stroke="#141414" stroke-width="1.7"/>
<path d="M401.2 392V435.6H446.1" fill="none" stroke="#000" stroke-width="2.2"/>
<path d="M401.2 386l-5 14l5 -3.2l5 3.2zM452.1 435.6l-14 -5l3.2 5l-3.2 5z" fill="#000"/>
<text text-anchor="middle" transform="translate(392.7 414.8) rotate(-90)">UMAP2</text>
<text x="397.5" y="458.1">UMAP1</text>
<text x="419.4" y="478" text-anchor="middle">21,607 cells</text>
<text transform="translate(422.2 24) scale(1.08 1)" font-size="31.5" font-weight="bold" stroke="#231f20" stroke-width="1" stroke-linejoin="round">b</text>
<g filter="url(#spb)"><polygon points="452.9,13.8 462.4,5.2 483,3.1 508.8,4.3 536.3,12 560.4,24.1 582.7,41.3 601.7,63.6 613.7,82.5 619.7,103.2 619.7,130.7 615.4,154.8 605.1,178.8 591.3,197.8 574.1,211.5 558.7,215.8 546.6,213.2 536.3,206.4 526,197.8 517.4,189.2 508.8,182.3 505.3,189.2 498.5,201.2 486.4,206.4 474.4,208.1 458.9,205.5 452.9,197.8 457.2,180.6 453.8,163.4 452.9,103.2 452.9,51.6" fill="#9a9a9a"/></g>
<g filter="url(#spb2)"><polygon points="452.9,13.8 462.4,5.2 483,3.1 508.8,4.3 536.3,12 560.4,24.1 582.7,41.3 601.7,63.6 613.7,82.5 619.7,103.2 619.7,130.7 615.4,154.8 605.1,178.8 591.3,197.8 574.1,211.5 558.7,215.8 546.6,213.2 536.3,206.4 526,197.8 517.4,189.2 508.8,182.3 505.3,189.2 498.5,201.2 486.4,206.4 474.4,208.1 458.9,205.5 452.9,197.8 457.2,180.6 453.8,163.4 452.9,103.2 452.9,51.6" fill="#9a9a9a"/></g>
<g filter="url(#spd)"><path d="M507.3 4.8 L534.8 12.5 L558.9 24.6 L581.2 41.8 L600.2 64.1 L612.2 83 L618.2 103.7 L618.2 131.2 L613.9 155.3 L603.6 179.3 L589.8 198.3 L572.6 212 L557.2 216.3" fill="none" stroke="#969696" stroke-width="5"/></g>
<g fill="none" stroke="#fff" stroke-linecap="round" stroke-linejoin="round">
<path d="M460.6 56.7 L483 41.3 L508.8 35.3 L536.3 42.1 L560.4 57.6 L577.6 76.5 L591.3 103.2 L595.6 130.7 L590.5 154.8 L578.4 175.4 L563.8 189.2" stroke-width="3.2" opacity="0.5"/>
<path d="M458.9 68.8 L472.7 51.6 L491.6 40.4 L512.2 39.9 L532.9 49 L543.2 61.9" stroke-width="3" opacity="0.55"/>
<path d="M471 68.8 L479.6 56.7 L493.3 49 L512.2 49 L527.7 56.7 L532.9 64.5 L522.5 69.6 L508.8 71.4 L498.5 66.2 L489.9 70.5 L481.3 75.7Z" fill="#fff" stroke="none" opacity="0.4"/>
<path d="M496.7 110.1 L512.2 130.7 L515.7 154.8 L508.8 175.4" stroke-width="5" opacity="0.3"/>
<path d="M460.6 120.4 L474.4 130.7 L477.8 154.8" stroke-width="6" opacity="0.25"/>
</g>
<g fill="none" stroke="#8f8f8f" stroke-linecap="round" opacity="0.9">
<path d="M461.7 73.1 L474.7 56.1 L493.5 44.9 L512.2 44.9 L531 54.2 L538.4 63.6 L534.6 71 L521.5 74.8 L504.7 75.7 L491.6 73.9" stroke-width="1.5"/>
<path d="M462 74.3 L471 78.2 L479.6 79.4 L488.2 72.6 L496.7 67.9 L504.7 69.1" stroke-width="3.2"/>
<path d="M479.6 75.7 L489.9 67.9 L498.5 66.2" stroke-width="1.2"/>
<path d="M458.9 92.9 L465.8 89.4 L472.7 92.9" stroke-width="4"/>
<path d="M556.9 99.7 L560.4 101.5 L561.2 98" stroke-width="2"/>
</g>
<path d="M550.1 73.9 L553.5 70.5 L558.7 75.7 L561.2 89.4 L560.4 98.9 L556.9 96.3 L552.6 86" fill="#fff"/>
<path d="M454.6 25.8 L461.5 22.4 L463.2 39.6 L457.2 51.6 L454.6 44.7" fill="#fff"/>
<path d="M533 199.6h0M547.8 156.4h0M535.3 177.8h0M528.9 177.8h0M541.2 173.6h0M527.2 185h0M530.4 177.1h0M533.8 177.9h0M533.5 199.6h0M536.3 183.6h0M533.4 194.2h0M545 171.2h0M534.2 180.8h0M530 180.8h0M540.3 176.3h0M547.8 172.4h0M534.3 190.3h0M542.3 187.7h0M534.3 170.8h0M544.7 169.2h0M543.5 176.2h0M535.9 193.2h0M539.2 180.4h0M531 184.8h0M531.4 179.7h0M528.8 192.5h0M543.5 160.5h0M534.3 170.6h0M543.5 186.8h0M534.1 181.9h0M546.3 162h0M539.8 168h0M535.9 170.1h0M522.5 186.3h0M537.5 167.9h0M537.3 177.4h0M542 182.2h0M537.4 175.8h0M535.9 187.9h0M540.5 171.4h0M536.9 185h0M527.6 194.1h0M540.1 190.8h0M535.9 169.4h0M541.9 186h0M540.7 188.5h0M550.1 166.7h0M536 184.1h0M522.2 186.8h0M537.6 192h0M530.3 183h0M537.1 171.9h0M539.8 200.1h0M535.8 187.4h0M541.3 169.2h0M549.3 162.4h0M541.6 175.4h0M540.6 169.5h0M535.6 184.3h0M528.4 187.8h0M524.3 186.4h0M549.2 166.9h0M545.9 184.9h0M537.3 195.5h0M534.8 171.2h0M543.3 184.6h0M530.1 193.9h0M524 184.5h0M543.7 197.4h0M531.4 185.9h0M536 173.3h0M531.7 176.5h0M529.5 186.3h0M531.8 191.7h0M542.6 179.4h0M547.1 165h0M528.5 178.5h0M537.2 185.1h0M546.9 179.4h0M541.4 198.2h0M531.7 190.8h0M528.4 190.6h0M534.7 178h0M537.7 198.8h0M544.2 186.1h0M543.3 165.9h0M534.2 196.8h0M544.8 196h0M535.2 195.6h0M547.7 162.7h0M541.8 183h0M544 186.9h0M543.6 174.7h0M543.9 171.5h0M549.2 175.1h0M533.9 186.6h0M539.9 165.8h0M541.7 189.1h0M535.4 175h0M544 196.3h0M545.2 163h0M541.3 169.3h0M536.8 170.5h0M536.5 183.8h0M529.1 185.9h0M539.9 172.9h0M540.3 184.2h0M539.1 190.2h0M544.7 175.6h0M537.4 193.2h0M541.3 201.9h0M542.5 195h0M542.4 186.1h0M535.5 173.1h0M551.9 163.5h0M533.7 176.3h0M548.6 170.7h0M543.6 179.8h0M528.6 192h0M539.3 185.4h0M543.8 169.3h0M546 185.5h0M537.6 179h0M545.2 169.6h0M525.7 189.1h0M544.7 168.8h0M538 194.8h0M523.5 187h0M548.4 166.3h0M541.2 175.7h0M536.3 169.9h0M535.8 189h0M538.4 172.8h0M530.7 179.6h0M548.6 165.1h0M523.8 184.5h0M541.7 195.6h0M549.2 170.6h0M532.5 191.7h0M528.9 185.5h0M538.2 195.4h0M543.3 166.6h0M541.9 171.4h0M537.5 181.9h0M545.9 167.9h0M544.1 182.7h0M529.8 195.8h0M547.8 169.3h0M535 184.5h0M540.6 196.2h0M528.1 194.6h0M528.2 191.3h0M527.1 194h0M539.9 188.3h0M537.1 189.9h0M542.2 179.5h0M540.3 168.8h0M547.4 168.4h0M547.1 179.7h0M524.4 186.7h0M546 163.3h0M542 166.9h0M526.9 181.9h0M527.5 180h0M528.3 179h0M534.3 191h0M532.3 176.9h0M541.7 195.5h0M543.1 178.9h0M547.4 159.3h0M536.8 192h0M545.2 188.4h0M546.3 177h0M530.1 186.3h0M541.3 179.7h0M537.2 170.4h0M542 197.9h0M528.2 195.1h0M537.2 193.3h0M530.2 194.2h0M542.9 173.3h0M546.4 184.1h0M533.8 179.7h0M536.7 180.2h0M534 175.4h0M544.5 175.3h0M527.5 183.8h0M531.7 185.3h0M546 176h0M542.3 165.6h0M537.6 200.6h0M548.2 176.5h0M537.4 190.8h0M537.5 195.8h0M536.7 187.2h0M538 190.5h0M528.6 185.2h0M535.3 195.9h0M544.8 159.8h0M549.8 156.5h0M536.3 176h0M538.7 171.1h0M534.6 176.2h0M547 169.3h0M534.9 183.6h0M546.4 184.4h0M524.2 183.6h0M522 187.6h0M523 186.6h0M549.8 163.7h0M529.1 194.5h0M535.7 197.5h0M533.8 192.6h0M548.9 160.1h0M538.2 198.4h0M535.4 198.2h0M550.6 157.5h0M544.8 189h0M547.5 180.2h0M525.7 188.5h0M549.6 168.6h0M527.7 191h0M531 180.9h0M533.4 193.7h0M541.9 183.2h0M544.4 162.4h0M538.1 191.7h0M534.5 186.7h0M522.2 187.8h0M548.4 164.7h0M537.3 181.3h0M541.3 182.4h0M536.4 200.2h0M537 171.8h0M535.7 183.9h0M532.7 189.8h0M544.3 196h0M545.7 163.7h0M545 170.4h0M540 190.8h0M544.4 194.7h0M522.5 189.1h0M545.4 191.3h0M547.8 159.1h0M531.8 176.9h0M530.3 196.1h0M529.6 194.7h0M532.2 190.1h0M542.6 171.7h0M541.4 197.1h0M521.7 187.5h0M547.2 162.7h0M534.7 193.3h0M547.2 182.8h0M535.9 178.5h0M546.9 166.1h0M536.4 173.2h0M545 165h0M539.7 200.4h0M534.4 199.5h0M541 182.6h0M544.9 175.2h0M532.3 193.6h0M540 164.8h0M547.2 158.5h0M530.9 194.2h0M540.5 179.1h0M549.7 167.3h0M525 191.2h0M540.3 196.5h0M536.1 182.9h0M541.4 185.5h0M541.9 194.2h0M536 171.6h0M525.1 185.9h0M546 171.6h0M526.3 187.9h0M530.6 182.9h0M546.6 167.2h0M532.2 195.5h0M539.6 184.1h0M547.9 175.8h0M537.4 175.5h0M543.1 189.9h0M539.3 197.6h0M535.1 188.6h0M542.8 193.1h0M545.1 179.6h0M522.7 186.8h0M543 200.6h0M534 183.8h0M545.5 160.9h0M533.6 188.1h0M546 158h0M541 176.6h0M540.3 188.7h0M538 173.8h0M545.5 171.9h0M545.5 185.3h0M541.2 191.1h0M528.8 186.2h0M546.8 162.3h0M547.2 165.4h0M540.6 179.5h0M537.7 198.5h0M535.1 191.2h0M532.6 186h0M527.4 185.6h0M539.7 197.1h0M540.3 194.7h0M549.8 157.5h0M533.4 196.6h0M542.4 172.8h0M545.9 181.7h0M536.4 175.4h0M544 161.9h0M549.6 155.5h0M534.6 198.8h0M536.9 194.8h0M546.1 184.2h0M535.9 186.8h0M544.6 169.2h0M543.8 162.5h0M539.4 180.9h0M547.8 170.2h0M542.2 170.6h0M535.1 177.6h0M550.7 163h0M535.8 196.3h0M538.4 173.3h0M541.7 197.8h0M534 179.7h0M535.8 181.4h0M545.4 167h0M544.1 176.4h0M534.4 184.5h0M534.4 194.5h0M523.8 190.3h0M541.2 196.9h0M535.5 169.7h0M542 162.8h0M543.5 163.5h0M541.8 193.1h0M538.3 191.5h0M540.6 197.7h0M548.2 156.7h0M544.2 179.8h0M535.5 175.9h0M529.8 196.3h0M536.9 194.8h0M535 193.1h0M540.3 199.4h0M544.7 177.5h0M539.8 179.4h0M533.2 195.7h0M545.5 171h0M544.6 180.6h0M535.8 182.9h0M543.1 201.2h0M544.4 170.8h0" stroke="#5fb0df" stroke-width="1.3" stroke-linecap="square" fill="none"/>
<path d="M545 180h0M542.3 179.4h0M538.9 179.1h0M541.7 197.4h0M539.5 171.2h0M533.3 182.3h0M538 180.7h0M545 194.8h0M535.9 192.3h0M543.7 169.1h0M541.5 176.7h0M548.2 178.4h0M543.8 166.2h0M532.4 180.8h0M540 167.3h0M541.2 167.9h0M535.1 170.8h0M542.8 181.5h0M536.8 188.1h0M530.3 175h0M539.6 201.9h0M544.2 191.5h0M539.4 167.3h0M543.8 192.7h0M546.9 169.4h0M543.1 196.2h0M526.4 180.2h0M542.6 193.9h0M538.4 199.1h0M536.7 183.2h0M542.6 189.5h0M539.6 183.6h0M533.5 178.2h0M544.1 161.5h0M542.4 166.1h0M544.9 168.3h0M531 174.7h0M544.4 171.5h0M550.5 163.7h0M537.6 178.7h0" stroke="#f08435" stroke-width="1" stroke-linecap="square" fill="none"/>
<path d="M538.8 193h0M540.5 176.9h0M540.3 193h0M538.5 183.4h0M541.5 173.2h0M528.3 193.7h0M541.4 163.4h0M546.2 179.2h0M539.6 200.1h0M535.2 196.3h0M532 188.2h0M541.3 173.9h0M543.9 174h0M538.8 181h0M536 199.5h0M546.2 162.5h0M537.8 190.4h0M529.1 192.9h0M538.5 186.8h0M547.3 177.8h0M537.8 190.6h0M540.3 168.2h0M537.6 177.1h0M545 184.1h0M532.8 175.2h0" stroke="#e8253a" stroke-width="1" stroke-linecap="square" fill="none"/>
<path d="M538.5 187.5h0M538.5 174.6h0M539.7 174.5h0M536.1 181.8h0M550.7 156h0M531.9 184.1h0M534.4 193.6h0M529.8 191.1h0M529.6 193.1h0M536 178h0M524.9 183.3h0M544.9 164.8h0M532.7 185.1h0M544.9 175.3h0M543.3 187.9h0" stroke="#f3d53a" stroke-width="1" stroke-linecap="square" fill="none"/>
<text x="459.2" y="236.7">−1.70 mm</text>
<path d="M517.5 382.3h0M530.3 406.8h0M591.3 301.1h0M495.3 376.4h0M565.2 298.2h0M532.5 381.1h0M488.2 405.5h0M568 403h0M491.8 425.6h0M533.3 323.2h0M513.5 318.5h0M488.5 341.3h0M534.7 307.6h0M541.1 340.3h0M564.5 365h0M572 339.4h0M567.8 276.6h0M539.9 452.5h0M540.1 386h0M576.2 316.4h0M549.9 330h0M498.8 431.3h0M518.9 382.1h0M572.3 290.3h0M548.1 332.1h0M536.6 309.7h0M529.1 365.4h0M517.3 344.1h0M484.5 341.3h0M575.6 331.9h0M523 338.5h0M505.1 410.5h0M605.4 257h0M574.8 290.3h0M587.9 265.6h0M519.6 357.9h0M572.6 414.4h0M595.4 296.5h0M527.5 335.7h0M511 334.5h0M555 461.5h0M547.4 444.6h0M537.7 420.3h0M578.4 460.8h0M501.5 406.4h0M507.2 385.4h0M541.7 322.1h0M494.5 426h0M545 390.7h0M556.6 444.5h0M561.8 354.4h0M586.5 285h0M576.1 422.2h0M559.6 281.6h0M537 405.3h0M549.2 330.8h0M548 368.7h0M535.1 320h0M509.6 323.9h0M550.3 455.1h0M536.7 404.7h0M508.3 375.4h0M513.7 434.6h0M554.7 301.2h0M568.8 459.2h0M482.2 385.1h0M503.7 428.2h0M523.3 423.8h0M571 325.7h0M559.9 447.2h0M577.1 321.4h0M592.6 239.6h0M572.4 414.2h0M596.9 246.6h0M567.7 338.2h0M484.6 341.5h0M515.3 323.5h0M554.1 400.1h0M513 380.6h0M498.2 381.9h0M522.8 323.8h0M560.4 406h0M495.7 405.8h0M517 350.2h0M501.8 334.6h0M496.8 374.4h0M592.3 258.7h0M523.9 406.6h0M516.3 381.9h0M510.3 439h0M527.2 364.5h0M483.2 394.1h0M518.1 401.6h0M543 382.5h0M533 297.6h0M506.9 377.8h0M526.7 311.1h0M570.1 321.8h0M598.3 246.7h0M499.4 396h0M519.6 436.2h0M578.3 459.5h0M602.9 269.2h0M577.7 339h0M530.6 391.5h0M601.3 256.1h0M520.3 360.9h0M487.3 385.3h0M523 388.9h0M545.2 425.7h0M607.3 261.3h0M555.3 285.7h0M484.2 394.2h0M567.6 372.1h0M587.5 287.7h0M564.8 278.1h0M548.1 410h0M494.5 360.1h0M576.1 312.3h0M543.2 391.9h0M496.4 429.3h0M527.7 360.4h0M533.2 297.6h0M552.1 281h0M570.3 387.8h0M542.4 418.8h0M554.7 420.1h0M556.7 351.6h0M548 385.5h0M480.9 365.2h0M482.8 410.1h0M559.9 440.9h0M526.8 426.1h0M568.8 293.8h0M490.8 353.3h0M497 417.1h0M537.6 312.4h0M485.4 353.9h0M592.5 280h0M491.8 343.6h0M525.2 336.8h0M518.7 375.2h0M512.9 334.4h0M557.8 434.1h0M518.3 349.9h0M596.7 276.1h0M567.7 388.2h0M560.1 308.4h0M529.4 442.3h0M592.1 244.8h0M489.2 342h0M575.6 429.8h0M578.4 334.5h0M495.5 386.7h0M542 458.8h0M545.7 400.9h0M579.1 273.6h0M521.8 323.3h0M511 380.9h0M524 375h0M561 396h0M542.4 413.9h0M576.6 348.5h0M571 301.4h0M526.6 379.8h0M533 307.3h0M549.1 398.2h0M473.4 412.5h0M488.2 415.2h0M477 401.2h0M607.8 242.4h0M552.8 422.4h0M501.4 347.6h0M555.6 448.5h0M540.8 408.2h0M556.9 420.3h0M606 249.4h0M569 363.1h0M575.5 260.3h0M575.6 282.9h0M521.4 369h0M563 432.2h0M592.2 251.4h0M574.8 256.8h0M607.5 252.2h0M516.7 389h0M473.1 400h0M504.4 412h0M468.6 382.1h0M532.3 306.4h0M471.1 361.4h0M551 310.5h0M516.4 430.1h0M588.4 280.7h0M523.9 350.3h0M588.3 315.9h0M545.1 288h0M561.3 453.1h0M512.6 390.9h0M566.7 318.3h0M548.5 384.5h0M606.7 231.1h0M492 349.9h0M563.6 332.1h0M538.1 297.2h0M470.2 365.7h0M597.6 283.4h0M540.4 354.9h0M577.2 446.3h0M485 405.3h0M486.7 395.8h0M502.5 402.9h0M568.4 448.3h0M587.8 252h0M572.6 275.7h0M528 367.6h0M566.3 407.3h0M583.3 300h0M540.1 386.9h0M569.4 404.9h0M577.8 318.1h0M578.6 460.2h0M508.6 415.3h0M503.5 325.1h0M553.1 425.2h0M489.7 362.7h0M487.8 357.3h0M564.1 372.2h0M496.9 391.6h0M582.6 297.8h0M463.3 388.7h0M502.4 381.6h0M518.4 317h0M526.2 307h0M569.6 440.3h0M505.1 405.6h0M520.3 436.4h0M466.4 394.4h0M524.9 419.7h0M583.8 286.3h0M508.1 437.2h0M533.7 372.5h0M538.9 392.2h0M570.2 323.9h0M547.2 324h0M576.5 268.4h0M521.6 362.5h0M470.3 381.5h0M564 327.1h0M572.8 289h0M570.3 351.3h0M563 335.3h0M555.9 330.6h0M486.5 423.2h0M505.6 431.5h0M547.1 308h0M483 361.5h0M466.2 385.4h0M535 368.8h0M472.2 398.6h0M532 321.4h0M560.8 332.6h0M559.1 437.8h0M519.3 317.5h0M524.2 374.1h0M579.2 259h0M516.5 433.4h0M538 407.1h0M485.6 411.6h0M534.1 356.6h0M576.2 317.3h0M510.2 364.2h0M570.1 435h0M536.1 308.8h0M537.6 393.2h0M557 435.3h0M552 438.4h0M533.4 384.7h0M537.5 420.8h0M525.2 386.6h0M534.5 389.2h0M538.8 364.9h0M487.5 392.4h0M509.3 391.3h0M496.6 391.4h0M590.7 242.8h0M550 418.9h0M571.2 420.7h0M569.8 438.6h0M501.9 414.1h0M532.2 301.8h0M585.4 313.1h0M560.7 355.8h0M566.9 398.6h0M581.7 331.3h0M536.3 454.9h0M506.8 436h0M562.4 335.8h0M522.3 353.4h0M525.8 331.9h0M519.8 356.9h0M587.7 311.5h0M564.7 369.8h0M531.1 314.1h0M589.5 293.7h0M576.9 447.3h0M486.6 388.3h0M560.1 275.7h0M493.4 368.1h0M494.3 425.5h0M512.2 377.4h0M577.5 321.4h0M559.1 363h0M576.7 345h0M533.7 368h0M553.7 406.1h0M517.4 402.7h0M555.2 461.4h0M554.3 285.5h0M563.1 449.6h0M477 393.5h0M538.1 419.9h0M568.9 417.2h0M493.9 367h0M584.5 291.2h0M550.5 315.8h0M521.4 429.9h0M553.5 455.9h0M583.1 324.9h0M506.1 336.4h0M529.6 404.1h0M512.6 329.3h0M564.7 448.5h0M567.9 285.5h0M502.3 359.5h0M558.9 319.9h0M564 441.9h0M560.7 456.9h0M572.8 420.3h0M490.3 344.6h0M574 281.7h0M534.2 335.3h0M553.8 410.5h0M570 380.2h0M565.1 339.9h0M502.6 408.6h0M589.2 273h0M499.7 414.7h0M517.5 328.2h0M489.1 395.7h0M601.1 230.9h0M489.6 340.6h0M546.9 455.6h0M570.2 381.5h0M592.6 241.1h0M551.2 364.5h0M545.8 308.9h0M563.1 413.9h0M504.3 431.8h0M536.5 392.8h0M580.5 311.7h0M572.2 378.1h0M482.3 349.1h0M514.3 423.9h0M568.3 428.7h0M464 399.4h0M556 402.5h0M504.6 322.8h0M491.7 341.4h0M570.1 321.2h0M494.5 334.6h0M574.2 342.3h0M558.3 444.8h0M605.7 228h0M523.5 366.5h0M589.2 312.2h0M562.3 346.4h0M587.9 240.7h0M554.1 359.9h0M487.5 394.8h0M478.9 407.3h0M547.2 302.6h0M601.4 273.7h0M495.2 413h0M585.8 321.6h0M570 381h0M480.8 384.7h0M556.2 452.8h0M543.1 378h0M507 372.8h0M555 391.8h0M557.4 456.4h0M531.2 330.3h0M526.9 354.1h0M503.4 395.9h0M532.3 398.3h0M463.2 395.1h0M572.1 413.2h0M519.6 393h0M494.2 416.7h0M577 443.6h0M551.4 442.7h0M523.7 377.8h0M584.1 302h0M521.1 348.7h0M572.9 457.7h0M532.6 443.3h0M538.9 390.5h0M566.1 439.6h0M477.2 391h0M597.5 258.4h0M515.7 436.3h0M491.5 334.9h0M501.9 377.5h0M524.2 310.8h0M495.2 363.8h0M508.2 430.6h0M505.2 329.6h0M573.3 315.5h0M605 244.8h0M545.3 436.1h0M496 373.4h0M559 342h0M572 454.2h0M510.8 413.8h0M602.2 274.2h0M553.3 287.5h0M550.2 391.6h0M581.1 325.1h0M530.8 339.1h0M538.1 355.4h0M509.3 361.7h0M542.7 438.6h0M565.2 438.7h0M548 354.7h0M551 294.9h0M492.5 371h0M509.2 436.4h0M547.8 315.9h0M561.1 360.6h0M527.9 397.6h0M469.6 377.7h0M478.8 391.2h0M536.9 451.4h0M513.8 353.4h0M545.3 402.9h0M491.2 354.3h0M470.2 381.3h0M536.8 444h0M535 414.1h0M531.4 331.7h0M549.7 329.3h0M558.4 407.3h0M503.3 377.3h0M497.3 406.4h0M607.5 247.9h0M516.9 411.7h0M569.3 337.7h0M547.9 327.7h0M574.4 332.2h0M560.1 366.2h0M575.6 458.7h0M570.5 450.5h0M510.5 428.9h0M536.4 363h0M525 356.9h0M513.1 369.1h0M542.3 336.7h0M557.9 409.1h0M589.7 286.8h0M502.1 418.1h0M510.5 404.6h0M531.6 347.4h0M558.1 362.7h0M558.5 406.3h0M517.1 435.1h0M554.4 311.5h0M547 352.9h0M571 347.4h0M565.6 381.5h0M559.8 434.4h0M535.1 385.1h0M552.8 345.8h0M612.5 242.2h0M538.4 387.4h0M593.5 233.6h0M589.8 261.8h0M533.8 308.4h0M495.5 387.9h0M564.5 377.1h0M549.7 350.9h0M548.3 362.5h0M566.5 337h0M499.8 408.6h0M567.2 319.4h0M567.9 371.4h0M564.4 358.1h0M573.2 350.6h0M558.1 331.7h0M531.2 352.6h0M570.2 280.3h0M561.5 424.5h0M596 278.2h0M590.1 260h0M506.6 356.9h0M514.1 439h0M588.8 289.8h0M588.6 297.9h0M540.1 337.9h0M483.7 351.5h0M557.7 349h0M547.8 312.3h0M493.9 386.5h0M548.1 341h0M543.7 354.1h0M499.5 407.7h0M531.5 420.8h0M536.9 437.1h0M592.1 265.7h0M551.6 414.8h0M548 364.2h0M567.1 324.5h0M512.2 407.7h0M591.9 290.2h0M557.8 437.3h0M557.6 350.6h0M591.3 257.2h0M574.3 333.5h0M499.4 428.4h0M569.9 441.2h0M467.8 373.9h0M537.3 409.2h0M518.3 353.2h0M563.7 376.6h0M561.4 405.1h0M562.2 431.8h0M529.4 439.7h0M532.2 370.7h0M550.4 332.3h0M504.2 363.5h0M562.1 406.2h0M500.9 350.9h0M609.7 243.8h0M546.2 367.6h0M539.8 403.6h0M470.7 384.2h0M566.6 281.3h0M500.5 349.8h0M552.7 344.5h0M583.5 258.9h0M562.6 272.9h0M553 333.1h0M479.8 348.7h0M508.5 371.7h0M561.3 291.5h0M503.8 372h0M570 338h0M519 427.7h0M504.3 327.6h0M493.6 424.7h0M515.1 367h0M475.7 363.5h0M530.7 357.5h0M564.3 332.1h0M483.7 352.1h0M585.2 281.9h0M549.9 414.8h0M532.8 416.7h0M478.4 360.8h0M545.2 424.4h0M498.4 402.2h0M479.4 413h0M562.9 438.4h0M482.4 393.3h0M537.8 438.6h0M568.8 286.6h0M575.8 258.1h0M602.6 237.9h0M560.7 391.4h0M547.2 308.2h0M532 363.6h0M541.9 329.2h0M499.9 325.9h0M547.1 323.5h0M552.7 414.3h0M487.4 373.5h0M486.1 369.1h0M600.3 228.6h0M496.9 429.4h0M540.8 451.6h0M552.5 405.8h0M600.3 275h0M514.7 354h0M505.6 385.5h0M544.4 319.5h0M538.2 375.7h0M583.5 262.4h0M574.3 411.4h0M490.4 359.3h0M558.8 287h0M479.1 381.2h0M545.9 389.8h0M541 428.6h0M489.9 400.1h0M476.7 375.5h0M548.3 297.3h0M489.2 422.6h0M465.6 379.9h0M552 338.8h0M560.8 460.7h0M542.7 456.8h0M546.4 418.2h0M505.7 416.6h0M483.2 413.2h0M527.7 373.9h0M537.8 410.7h0M576.8 259.8h0M506.1 425.2h0M489.4 408.8h0M541.6 374.5h0M529.6 422.9h0M598.5 281.8h0M495.9 399.9h0M548.6 302.2h0M604.9 263.8h0M596.6 274.5h0M576.6 321.9h0M559.5 340h0M513.6 349.3h0M570.4 340.5h0M580.8 266.1h0M568.2 429.1h0M513.6 327.8h0M594 248.9h0M538.4 317.7h0M554.9 392.2h0M568.4 277.7h0M608.9 236.3h0M484 406.1h0M499.5 415.8h0M551.1 415.2h0M539.3 326.9h0M498.5 423h0M549.9 414.9h0M515 399.5h0M549.8 380.9h0M479.4 417.3h0M481.8 399h0M476.7 380.8h0M554.6 346h0M564.7 342.8h0M541.5 322.4h0M555.6 412.2h0M522.7 325.8h0M570.7 421.7h0M515.5 434.3h0M516.2 385.8h0M483.1 381h0M539 371.6h0M475.4 357.7h0M527.1 314.4h0M495.5 363.8h0M500.7 375.5h0M545.7 303.3h0M536.7 410.6h0M533.5 387.8h0M486.5 401.9h0M514.9 414.8h0M508.7 331.8h0M570.1 316.2h0M494.3 385.8h0M551.8 384.1h0M494.3 408.4h0M490.9 358.6h0M481.7 400.8h0M516.1 398.5h0M520.1 394.5h0M567.8 431.7h0M467.2 383.6h0M521.5 329.3h0M598.9 240h0M612.8 232.2h0M556.7 455.6h0M557.2 288.2h0M544.4 295.5h0M489.9 372.6h0M528.1 357.9h0M492 426.6h0M566.1 463.9h0M538.9 363.2h0M570.4 446h0M526.7 314.6h0M522.9 425.1h0M477.7 375.2h0M552.1 285.9h0M567.8 427.5h0M525.5 353.5h0M548.2 333.2h0M560 362.8h0M506.6 397.7h0M551 327.9h0M560.5 366h0M589.1 278.4h0M537.6 355.9h0M484.8 381.3h0M526.3 390.3h0M547.7 314.5h0M568.6 337.2h0M550.8 461.7h0M514.3 336.9h0M502.1 386.7h0M508.3 393.7h0M494.2 422h0M530.8 310.1h0M555.9 449.7h0M571.3 400.1h0M527.1 332.9h0M464.7 395.3h0M599.9 266.1h0M503.4 431.3h0M485.5 362.4h0M546.1 325.1h0M488.9 338.7h0M569 384.5h0M516.4 409.6h0M529.3 310.1h0M554 324.7h0M533.1 305.4h0M542.8 424.1h0M551.6 341.1h0M515.6 432.2h0M528.1 367h0M564.9 403h0M494.5 415.7h0M590.3 296.3h0M590.5 270.7h0M577.6 257.5h0M526.1 326.7h0M463.4 378.5h0M576.6 279.9h0M509.7 382.3h0M491.2 337.7h0M469.2 394.6h0M528.6 353.5h0M498.5 403.7h0M529.4 441.3h0M554.5 354.3h0M541.2 438.6h0M497.6 347.9h0M506.7 333.4h0M603.5 238.4h0M548.2 353.7h0M541.5 407.2h0M508.2 413.2h0M492.2 332.9h0M597.4 280.6h0M540.9 334.6h0M532.5 317.9h0M534.2 389.1h0M547.5 410.6h0M602.2 274.6h0M508.7 387.1h0M549.3 314h0M500.5 344.1h0M496.7 334.6h0M551.2 334.2h0M504.8 390.7h0M582.3 298.6h0M492.1 367.4h0M542.3 432.4h0M551.8 389.6h0M568.1 350h0M564.3 363.5h0M586 323.2h0M519.8 383.5h0M535.8 333.8h0M544.3 368.4h0M551.3 326.6h0M504.7 326.5h0M546.6 440.7h0M544.9 427.9h0M560.3 394.6h0M599.1 242.7h0M507 355.7h0M564.5 300.1h0M531.7 401.1h0M562.3 424h0M526.3 429.5h0M530.4 391.3h0M544 320.8h0M564.4 463.1h0M536.6 298.5h0M571.7 417.5h0M522.1 375h0M555.1 376.5h0M568 316.8h0M571.5 342.3h0M550 362.3h0M557.9 445.2h0M538.4 312.1h0M600.4 235h0M571.2 414.8h0M565.4 432.2h0M560.4 340.1h0M546.8 413.2h0M508.2 358.9h0M524.7 381.5h0M480.4 388.2h0M580.9 254.6h0M498.4 333.7h0M493.4 424.8h0M571.4 457.2h0M503.5 338.3h0M573.1 318h0M554.3 367.6h0M566.3 379.8h0M527.6 440h0M575.8 334.2h0M527.8 376h0M476.1 403.8h0M575.8 462.5h0M559 289.4h0M576.8 309h0M519.7 311.3h0M530.8 416.3h0M549.4 443.5h0M570 456.2h0M524.7 336h0M487.4 352.7h0M502.3 328.9h0M533.8 386.2h0M588.7 289.7h0M537.4 359.9h0M539.5 452.6h0M546.5 335.3h0M567.4 410h0M505.8 407h0M571.8 412.1h0M583.7 249.5h0M539.9 343.2h0M532 402.4h0M518.1 324.4h0M484.7 362.5h0M502.7 366.3h0M523.3 408.5h0M544.9 345.9h0M591.4 269h0M554.7 328.9h0M560.2 294.2h0M573.4 421.6h0M502.5 403.5h0M545.1 433.4h0M587.4 316.1h0M570.7 423.6h0M539.5 436.9h0M538.7 314.6h0M526.7 351.3h0M589.6 296h0M471.8 412.6h0M602.8 253.8h0M576.8 284.7h0M598.4 267.5h0M568.8 316.3h0M507.5 413.8h0M570.8 341.3h0M477.3 361h0M512.6 383.6h0M510 346.5h0M548.4 305.5h0M509.2 338.3h0M507.9 343.9h0M568.7 310.9h0M542.3 406.8h0M491.1 403.8h0M499.9 341.3h0M498.3 394.6h0M487 347.4h0M572.3 343h0M552.1 373.6h0M549 288.8h0M570.2 435h0M501 359.3h0M507.7 380.8h0M572.5 466.9h0M557.9 353.6h0M561.7 403.8h0M504.9 380.7h0M562.8 306.9h0M522.7 374h0M607.5 243.7h0M549.5 441.6h0M503.7 431.3h0M519.2 311.5h0M576 435.9h0M521.1 369.6h0M498.4 422h0M572.3 378.7h0M544.3 288h0M550.4 458.2h0M554.8 424.8h0M525.7 422h0M535.2 435.8h0M578.5 258.8h0M563.3 306.6h0M502.7 420.1h0M491.2 370.4h0M523.5 343.2h0M556.4 434.3h0M551.7 304.5h0M511.2 320.1h0M529 311.4h0M504.7 386.3h0M583.4 255.3h0M554.7 376.9h0M461.2 384.3h0M584.7 286.5h0M529.2 369.8h0M491.5 421.8h0M590.2 282.4h0M549.3 294.4h0M557.7 403.7h0M581.7 252.5h0M540.5 426.6h0M587.2 290.1h0M523 307.3h0M592.7 253.7h0M577.5 340.9h0M466.7 394.3h0M491.9 400.3h0M572.3 330h0M578.7 320.4h0M478.7 385.2h0M566.2 269.8h0M486.4 342.1h0M554.9 288.9h0M542.4 361.2h0M518.4 401.4h0M490.2 408.1h0M557.6 304.6h0M553.5 382.8h0M593.2 284h0M496.3 418.4h0M533.8 379.3h0M465.9 378.9h0M509.1 370.5h0M493.7 353.2h0M541.5 390.7h0M540 424.7h0M569.9 345.9h0M500.5 430.8h0M545.2 327.5h0M497.8 372.7h0M564.3 417.6h0M580.5 285.9h0M499.6 349.6h0M542.9 300.5h0M493.3 404.4h0M588.6 286.6h0M508.9 409.9h0M534.3 397.8h0M557.3 308.8h0M566.9 266.2h0M585.5 265.2h0M479.8 393.2h0M528.2 327.4h0M591.8 299h0M573.8 344.4h0M553.8 398.1h0M600.8 233.3h0M491.3 357h0M506 423.4h0M489.8 355.5h0M505.4 355.1h0M530.3 375.4h0M531.3 299.3h0M546.3 404.7h0M564.3 377.4h0M546 385.8h0M517.2 325h0M520.2 331.7h0M479.8 400.3h0M551.6 394.9h0M551.5 292.8h0M522.9 316.3h0M496 359.3h0M565.5 378.6h0M512.2 374.4h0M505.6 419.8h0M550.9 292.7h0M547.9 370.3h0M567.5 379.8h0M526.6 443.1h0M514.4 325.8h0M532.9 393.8h0M544.6 345h0M522.3 380.5h0M513.5 316.6h0M524.4 443h0M608.5 230.1h0M591.2 273.1h0M525.2 412.4h0M575 329.4h0M549.5 285.5h0M560.7 295.4h0M582.7 312.7h0M527.8 306.2h0M546 287.7h0M580.3 335h0M514.9 384.1h0M578.7 462.5h0M552.6 428h0M567 459.4h0M565.7 328.3h0M578.6 259h0M494.2 337h0M569.4 330.4h0M576.1 258.2h0M524 442.2h0M508 321.6h0M566.1 389.3h0M527.2 398h0M557.9 332.8h0M566 391.6h0M531.7 328.3h0M486.4 347.8h0M531.5 406.2h0M520.6 342.1h0M473.6 365.9h0M525.1 407h0M521.2 430.6h0M566 425.2h0M473.1 399.1h0M485.9 376.7h0M493.1 350.5h0M488.3 360.9h0M556.6 417.7h0M502.1 377.1h0M522.5 326.8h0M565.7 299.7h0M555.1 451.9h0M560.8 312.4h0M580.6 330h0M536.9 357.7h0M584 309.3h0M497.3 349.5h0M560.8 299.4h0M566.9 418.3h0M573 417.7h0M558.6 380.3h0M579.5 329.6h0M562.1 407.7h0M567.4 269.8h0M570.6 341.5h0M551.2 437.1h0M506.1 327.9h0M489.5 371.1h0M497.2 384.8h0M560 393.5h0M545.8 421.2h0M497.5 388.7h0M546.4 370.1h0M571 365.1h0M579.1 256.4h0M520.9 330.2h0M521 310.3h0M536.3 423h0M569 413.1h0M550.7 311.2h0M572.6 361.2h0M568.6 271.4h0M570.2 317h0M512 349.2h0M558.5 379.6h0M516.8 406h0M582.7 298.4h0M514.1 320.7h0M563.6 444.8h0M550.2 389.5h0M520.2 378.1h0M546.7 415.8h0M514.3 372.8h0M568.8 265.5h0M501 344.8h0M590.4 265.6h0M546.1 447.9h0M568 286.7h0M550.3 390.6h0M570.9 274.9h0M561.1 371.1h0M595.9 246.5h0M574.2 284.2h0M526.8 370.9h0M549.5 320.1h0M501 402h0M558.6 277.4h0M544.1 326.2h0M535.4 334.2h0M507 354.8h0M608.9 229.8h0M523.8 423.5h0M486 390.7h0M503.2 337h0M551 357.4h0M526.6 383.6h0M500 336.9h0M534.8 349.3h0M584.9 249h0M510.4 341.2h0M567 354.9h0M477.9 409h0M534.7 369.3h0M511.7 377.5h0M494.1 406.2h0M553.8 385.7h0M581.8 290.9h0M537.1 365.8h0M602.6 232.6h0M598 254.7h0M481.5 407.2h0M573.7 426.6h0M528.7 436.6h0M548.7 419.7h0M520.8 387h0M568.8 452.1h0M513.8 345.9h0M524.2 380.4h0M526.8 360.3h0M547.9 313.7h0M554 287.3h0M554.7 457.7h0M492.6 383.2h0M541.1 396.8h0M547.1 363h0M514 398.3h0M474.4 375.1h0M551.5 395.5h0M521.6 436.4h0M561.9 312.8h0M584.6 254.9h0M501.4 327.3h0M550.1 321.7h0M560.7 330.8h0M505.8 349.6h0M572.4 466.1h0M481.6 381.4h0M472 383.4h0M484.6 382.4h0M501.3 363.7h0M537 412h0M497.7 357.5h0M563.3 377h0M526.2 363.8h0M525.2 397.4h0M557.1 421.1h0M525.4 443.2h0M501.2 346.1h0M492.1 334.2h0M491.8 408.4h0M519.4 314.2h0M566.5 428h0M576.3 264.7h0M554.8 336.9h0M532.8 399.8h0M554.4 434.3h0M484.8 350.9h0M600.7 280.8h0M513.4 339.3h0M588 291h0M598.2 290.4h0M611.7 243.4h0M478.5 376.9h0M572.7 420.2h0M549.4 334.1h0M531.3 349.7h0M541.2 405.5h0M540.5 425.2h0M480.7 393.3h0M496.8 359.9h0M524.2 442.2h0M528.8 364.9h0M567.8 372.3h0M565.7 277.5h0M528.6 414.1h0M562.3 424.1h0M515.7 408.3h0M539.7 396.5h0M535.9 328.8h0M545.5 402.7h0M585.5 318.2h0M564.1 300.2h0M500.5 366.9h0M567.2 279.6h0M514.6 435.1h0M566.7 314.6h0M564.4 380.3h0M484.8 345.3h0M574.5 337.7h0M503.1 348.7h0M556.9 453.8h0M551 293.8h0M540.7 332h0M545.8 363.1h0M490.3 417.6h0M610.2 249.1h0M553.9 423.7h0M561.4 372.2h0M516 383h0M481.1 401.2h0M480.6 418.8h0M527.6 340.7h0M484.9 346.8h0M559.3 318.1h0M548.6 407.3h0M508.8 406.4h0M482 393.6h0M554.5 315.1h0M585.9 288.7h0M522.7 386.1h0M535.9 353.4h0M532.5 447.5h0M519.3 426.2h0M518.1 374.9h0M551 336.5h0M568.1 435.3h0M484.2 362.4h0M482.2 345.9h0M503.2 332.6h0M589.4 259.8h0M493.1 346.5h0M526.4 373.5h0M487.9 417.9h0M541.3 431.5h0M581.4 248.9h0M612.2 245.7h0M532.3 393.4h0M558 416.5h0M593 295.9h0M498 402.4h0M570.5 447.4h0M519.1 395.2h0M569.8 378.8h0M507.8 422.1h0M528.8 410.4h0M560 396.2h0M583.4 272.7h0M545.4 366.1h0M604.6 251.6h0M472.4 393.9h0M594.7 289.2h0M565.4 430.5h0M512.2 423.2h0M533.9 319.2h0M561.8 378.5h0M556.5 361h0M460 385.9h0M587.7 292.6h0M499.8 367h0M575.9 321.8h0M550.7 364.3h0M523.3 428.9h0M547.4 321.4h0M574.6 423.9h0M552.8 319.3h0M530 361.7h0M567.8 286.2h0M563.7 414.4h0M576.6 297.8h0M527.6 446.2h0M567.1 448.8h0M604.5 228.5h0M559.6 293.7h0M551.8 334.7h0M530.2 446.6h0M479.8 407.3h0M557.6 334h0M534 435.2h0M569.5 404.3h0M518.4 438.2h0M564 297.2h0M571.6 446.7h0M536.5 352.6h0M514.4 420.6h0M507.2 429.8h0M493.3 364.2h0M583.6 299.7h0M579.7 303.4h0M484.7 420h0M556 299.8h0M476.9 415.5h0M603.7 268.5h0M551.1 364.8h0M504.8 354.9h0M558.2 296.7h0M564.5 299.9h0M522 352.7h0M581.3 312.5h0M545.2 412.2h0M487.2 357.6h0M476.3 374.2h0M554.3 405.1h0M606.6 259.2h0M482.3 380.3h0M568.2 320.7h0M517.4 348.6h0M565.2 358.5h0M510.5 365.5h0M492.2 359.8h0M572 368.7h0M542.9 415.4h0M539.7 437.2h0M555.4 310.5h0M494.1 410.3h0M509 318.4h0M578.7 328.3h0M598.7 279.1h0M483.2 399.7h0M559.8 307.3h0M577.6 343.7h0M572.9 263.5h0M521.1 336.9h0M522 414.6h0M508.9 424.8h0M609.6 243.1h0M554 306.2h0M551 377h0M502.4 427.6h0M553.2 293.4h0M553.4 453.7h0M559.2 319.5h0M489.3 337.2h0M601.3 244h0M567.4 331.3h0M560.7 394.7h0M521.1 386.8h0M563.9 371.2h0M514.8 361.5h0M566.7 297.2h0M541.5 423.4h0M506.5 329.2h0M529.4 422h0M506.6 379.1h0M571.5 395.7h0M546.6 306.1h0M564.5 325.4h0M569.7 320.9h0M560.3 460.3h0M551 422.9h0M542.5 413.9h0M534.9 402.9h0M520.9 330.4h0M554.2 447.8h0M510.6 389.2h0M556.4 319.5h0M548.5 426.4h0M512.7 410h0M494.1 389.1h0M576.7 343h0M520.6 378.4h0M518.2 376.7h0M512.6 339.6h0M544.6 305.8h0M546.6 408.3h0M491.1 366h0M592 302.4h0M590.4 236.5h0M562.5 319.9h0M514.3 422.2h0M572.1 401.7h0M586.4 241.3h0M547.7 441.3h0M534.5 425.6h0M565.5 287.3h0M496.5 341.1h0M526 400.1h0M567.6 448.8h0M494.5 369.4h0M522.8 337.6h0M489.8 369h0M567.6 333.5h0M559.9 338.6h0M580.9 268.2h0M529.8 418.7h0M575.5 313h0M598.7 278.7h0M567 436.9h0M603.4 265.3h0M572.1 437.1h0M560.7 442.8h0M571.8 322.1h0M562.4 367.1h0M515.9 387.3h0M573.6 291.8h0M550.6 402.6h0M479.5 369.6h0M506.3 347.5h0M593.1 253h0M527.9 402.7h0M572.1 399.7h0M539.6 295h0M497.7 378h0M591.4 290.5h0M538.9 417.8h0M566.7 393.4h0M540.6 344.5h0M543.6 320.5h0M547.7 379.7h0M526 311.3h0M496.5 347.2h0M538.8 349h0M543.4 334.8h0M523.9 310.5h0M579.7 267.3h0M548.9 424.8h0M491.7 383.8h0M510.9 356.8h0M582.8 249.1h0M565.5 413.6h0M564.4 359.8h0M530.7 438.4h0M576.8 292.2h0M555.1 308h0M493 376.5h0M552 454.7h0M558 283h0M538.8 355.7h0M567.8 285.6h0M557.5 453.9h0M474.8 388.4h0M546.4 348.9h0M471 399.3h0M557.2 362.7h0M559.4 341.6h0M596.3 289.7h0M518.8 422.9h0M499.5 379.7h0M538.6 377.7h0M519.9 321.7h0M552.6 429.4h0M524.7 326.2h0M582.4 317.6h0M590 258.3h0M466.4 393.7h0M532.8 387.3h0M499.6 390.1h0M516.3 427.3h0M573.5 406.2h0M512.1 324.6h0M572.1 366.7h0M549.9 443.2h0M585.2 254.4h0M591.6 260.7h0M546.9 345.7h0M512 370.3h0M534.1 373h0M493.1 382.4h0M541.9 353.8h0M561 421.7h0M522.5 326.4h0M540.1 443.2h0M610.5 249.2h0M593.7 245.8h0M545.5 440.1h0M566.6 343.3h0M516.8 400.1h0M564.2 286.5h0M537 403.4h0M502 399h0M535.4 325.3h0M545 312.6h0M600.5 256.2h0M534.6 433h0M566.9 360.9h0M534.3 331.6h0M535.3 314.7h0M547 407.5h0M542.5 428.2h0M561.2 358.5h0M501.9 422.9h0M581.2 324.7h0M522.3 314.7h0M522.2 415.5h0M477.6 364.2h0M559.6 389.9h0M555.3 300.6h0M518.6 331.1h0M500.3 431h0M557.8 301.5h0M563.3 323.6h0M568.3 303.7h0M573.2 457.6h0M474.9 393.7h0M565 405.5h0M548.7 381.1h0M552.4 342.8h0M525.7 382.4h0M536.7 320h0M524.2 323.7h0M555.4 431.5h0M559.1 357.9h0M523.6 418.2h0M529.7 314.7h0M558.4 370.5h0M519 340.9h0M593.8 301.9h0M551.8 388.4h0M603.6 267.9h0M526.4 304.6h0M507.9 359.7h0M544.7 376.4h0M564.8 366.6h0M564.5 437.9h0M484.3 374.5h0M497.6 336.7h0M582.7 294.7h0M571.5 353h0M569.7 280.5h0M538.3 402.5h0M525.5 379.7h0M521.1 345.7h0M492.8 342.6h0M570.8 379.2h0M491.1 347.8h0M565.9 274.4h0M542.8 352.6h0M548.1 401h0M575 345.1h0M545 315.8h0M480.2 411.2h0M528.1 437.9h0M548.6 401h0M554.7 378.8h0M596.3 256.8h0M535.5 299.5h0M534.8 346.1h0M569.9 338.2h0M497.9 380.6h0M568.6 345.2h0M521.1 366h0M527.8 366.7h0M532.4 390.5h0M577 455.8h0M487.1 408h0M592.1 308.6h0M557.1 287.6h0M571.8 370.8h0M556.1 384h0M535.6 354.1h0M547.1 458.6h0M555.3 283h0M498.9 366.5h0M588 246.9h0M605.9 262.9h0M504.4 346.4h0M554 343.2h0M568.3 392.9h0M527.8 317.8h0M587.2 270h0M559.5 446.4h0M532.3 342.2h0M566.5 298.6h0M481.9 355.6h0M575.7 421.4h0M498.8 327.2h0M538.6 423.8h0M537.1 324.7h0M529.6 313.2h0M476.6 396.3h0M520.2 310.8h0M516.3 385.1h0M493.4 403.8h0M551.6 394.2h0M532 396h0M498.2 360.8h0M485.7 346.6h0M575.4 299.2h0M550.4 286.7h0M497.6 400.4h0M489.8 339h0M565.7 425.1h0M550.9 374h0M498 427h0M489.7 365.8h0M544.7 387.2h0M581.5 284.4h0M484.9 375h0M536.5 327.8h0M541.3 431.1h0M498 402.6h0M501 418.3h0M484.9 355.3h0M499.4 389h0M557.3 278.7h0M516.4 372.5h0M525.2 304.5h0M554.4 418.9h0M495.2 387.8h0M545.2 377h0M551.5 408.8h0M537.2 429.6h0M586.4 308.2h0M479.8 363.5h0M526.5 386.8h0M503.1 380.6h0M588.8 261.3h0M545.1 310.4h0M505.9 391.4h0M511.4 394.5h0M528.5 317.9h0M557.4 335.2h0M577.9 278.4h0M505.8 350.4h0M554.9 345.6h0M549 390.8h0M520.6 367.9h0M517 439.8h0M488 391.5h0M551.9 310.4h0M500.3 413.6h0M546.2 306.3h0M607 241.7h0M572.7 358.6h0M568.1 320.9h0M462.3 385.4h0M536.8 439.2h0M574.6 337.5h0M559.5 367.2h0M564.2 302.1h0M540.1 417.9h0M562.6 420.1h0M515.9 362.1h0M570.3 286.5h0M556.2 345.7h0M550.9 345.6h0M552.5 360h0M570.2 342.1h0M544.4 347.6h0M591 260.6h0M511 355.9h0M575 460.8h0M574.1 257.8h0M555.2 371.7h0M495.6 379.8h0M478.8 384.7h0M517.1 364.4h0M523.5 318.1h0M585.3 267.3h0M516.2 420h0M573 447.8h0M530.2 325.8h0M517.3 343.6h0M594 269.6h0M523.5 373.9h0M521.6 323.6h0M574.7 255.8h0M560.5 459.4h0M553.7 331.3h0M577.8 251.9h0M487.4 366h0M526.9 428.6h0M541 330.3h0M495.3 343.1h0M537 384h0M570.9 385.5h0M518.1 404.5h0M510.5 395.4h0M564 357.8h0M477.2 362.8h0M542.7 417.8h0M572.6 363.6h0M588.1 259.6h0M525.2 371h0M477.2 390.7h0M515.2 379.9h0M537.4 344.9h0M531.4 416.8h0M553.7 289.2h0M523.1 334.3h0M524 430.4h0M528.8 321.7h0M490.1 363.1h0M556.3 276.8h0M550.2 421h0M513 329.1h0M596.3 247h0M561.2 291.5h0M566.5 391.7h0M478.6 350.8h0M554.4 302h0M564.1 353.9h0M578.5 461.4h0M558.7 303.4h0M573.1 277.4h0M549.1 300.4h0M544.7 339h0M544.4 343.1h0M556.6 299.3h0M575.9 305.4h0M518.9 330.5h0M594.3 297.1h0M568.2 279.7h0M574.3 293.2h0M583 289.8h0M508.9 400.4h0M564 450.8h0M565.4 270.6h0M565.9 353.7h0M501.6 376h0M558.3 305.1h0M522.6 375.6h0M508.1 395.7h0M495.1 380.2h0M517 340.5h0M528.9 386.2h0M598.7 261.7h0M533.9 323.4h0M549.4 375.9h0M574.1 431.7h0M612.3 238.4h0M566.8 332.8h0M553.1 428h0M474.5 378.7h0M520.3 412.5h0M550.3 380.8h0M514.2 408h0M560.7 295.1h0M514.5 417.4h0M560.4 455.5h0M562.2 390.2h0M553 397.1h0M608.3 247h0M550.9 326.5h0M570.6 381h0M571.2 259.3h0M539.5 415.9h0M596.4 250.8h0M577.6 274.8h0M554.9 346h0M588 265.5h0M502.7 427.9h0M559.7 279h0M563.8 436.1h0M498 339.9h0M515.7 351.7h0M520.8 436.4h0M562.3 291.6h0M478.8 382.4h0M573.1 285.4h0M587.1 315.4h0M521.7 368.2h0M465.7 404.2h0M495 419.6h0M582.9 258.4h0M553.2 372.1h0M538.8 406.8h0M501.1 420.2h0M543.3 394.5h0M483.5 359.1h0M516.6 403.9h0M568.5 378h0M521.3 319h0M534.2 407.5h0M511.7 317.1h0M557.1 335h0M491.8 383.2h0M596.3 269.5h0M503.5 417.3h0M568.1 389.8h0M563.2 307.1h0M562 417.9h0M561.1 458.2h0M603.9 254.3h0M569.9 307.3h0M547.7 319.9h0M525.1 354.5h0M512.6 397h0M524.2 437.6h0M526.3 380.2h0M504.8 376.6h0M536.3 334h0M570.9 263.2h0M554.8 455.4h0M530.9 403h0M522.1 437.7h0M558.2 450.3h0M490.4 378.9h0M549.8 362h0" stroke="#1b96cd" stroke-width="2.6" stroke-linecap="round" fill="none"/>
<path d="M593.2 263.8h0M571 359h0M504.5 322.6h0M504.6 368.1h0M529.9 437.2h0M498.4 341.8h0M520.2 347.6h0M498 367.4h0M487.6 353.4h0M563.2 422.9h0M591.8 289h0M540.7 340.2h0M593.5 281.5h0M598.1 285.8h0M556.9 440.6h0M548 334.7h0M540.4 409.4h0M559.4 445.9h0M479.3 388.4h0M544.6 333.7h0M473.3 395.4h0M515.7 376.6h0M521.5 421.1h0M468.5 374h0M575.4 304.5h0M507.7 358.4h0M501.4 335.7h0M488.6 404.6h0M521.5 435.5h0M543.4 305.1h0M489.6 379.5h0M555 308.4h0M546 342.3h0M528.8 362.5h0M498 371.8h0M537.2 302.7h0M558.6 370h0M529.9 447.2h0M553.6 309h0M546.8 301.8h0M468.3 383.5h0M502.5 332.4h0M569.2 314.4h0M515.8 366.1h0M548.7 296.5h0M581.5 326.8h0M549.6 427.7h0M521.5 323.5h0M567.6 371.6h0M574.2 453.4h0M491.4 359.7h0M519.5 403.4h0M525 315.5h0M521 368.5h0M552.5 369.5h0M548.6 439h0M477.4 389.6h0M489.6 339h0M579.9 273.7h0M539.5 430.6h0M495.7 427.1h0M568 310.8h0M557.8 457.6h0M587.7 257.2h0M570.4 320.4h0M558.8 339.9h0M559.4 276.9h0M508.3 323.6h0M591.8 280.4h0M535.9 394h0M551.1 367.3h0M522 333.9h0M530 449h0M539.1 393.8h0M493 383.1h0M510.1 352.1h0M563.3 315.1h0M468.1 381.5h0M537.7 396.3h0M559.5 305.5h0M525.4 341.9h0M599.3 279.3h0M541.4 407.2h0M540 334.8h0M503.6 373h0M503.3 339.8h0M520.5 315.3h0M562.5 340.2h0M537.6 326.7h0M545.1 356.5h0M527.2 337h0M583.4 303.5h0M569.2 317.2h0M510.1 334.8h0M600.3 277.4h0M559 321.4h0M539.3 435h0M482.6 382.6h0M598.6 251.6h0M576.5 355.1h0M513.8 329.6h0M483.1 383.1h0M475.1 404.3h0M562.9 295.6h0M585.4 322.6h0M531.4 306.5h0M557.2 337.4h0M553.8 334.7h0M499.3 334.7h0M593.7 234.2h0M555.5 461.4h0M534.5 349.3h0M573.2 327.9h0M565.8 312.7h0M571.9 425.9h0M521.6 424.5h0M605.6 225.9h0M512.3 427.6h0M549.3 456h0M508.8 345.5h0M556.9 412.9h0M544.8 349.8h0M519.2 314.4h0M495.9 366.9h0M548.2 310.8h0M562.6 453.3h0M605 268.5h0M553.2 438.6h0M544.7 367.6h0M515.6 339.8h0M598.2 290h0M580 280.7h0M557.6 282.7h0M559.3 438.2h0M551 356h0M550.8 345.8h0M571.4 373.2h0M534.5 409h0M563.7 420.1h0M490 376.7h0M591 291.4h0M505.7 411.5h0M558.2 392.3h0M591.8 252.8h0M587.6 301.2h0M536.7 367.8h0M562.1 349.9h0M510.5 340.3h0M571.2 262.2h0M575.2 307.6h0M552.8 453.8h0M535.4 389.2h0M487.4 389.2h0M497.1 424.8h0M542 364.7h0M595.6 247.1h0M524.4 437.3h0M592 274.5h0M466.1 399.6h0M546.9 386.7h0M598.2 238.8h0M494.4 359.6h0M544.3 372.4h0M527.3 314.8h0M575.2 292.7h0M550.6 283.7h0M476 394.1h0M549.4 430.6h0M508.8 362.3h0M490.1 339.7h0M506.3 337.5h0M566.3 362.8h0M573.4 403.1h0M520.4 356.1h0M560.9 290.9h0M483.9 377.2h0M494.2 417.4h0M551.1 330.4h0M542.9 378.5h0M571.2 375.2h0M562.6 419.9h0M592 290.2h0M526.1 393h0M523.2 314.6h0M526.1 402.2h0M548.3 392.1h0M514.5 414.7h0M504.1 384.5h0M555.8 300.7h0M544 389.1h0M487.1 364.4h0M568.3 393.6h0M492.5 388.1h0M523.4 439.1h0M590.1 288.1h0M558.6 329.5h0M544 294.6h0M530.6 443.6h0M495.6 386.7h0M544.5 428.3h0M521.8 353.8h0M552.4 413.4h0M571.3 352.3h0M573.5 339.4h0M507.1 328.3h0M555.7 307.6h0M577.4 280.6h0M500.6 330.6h0M533.3 367.3h0M511.1 344.9h0M487.5 406.2h0M539.4 318.9h0M528.9 354.1h0M580.5 290.2h0M537.2 358.1h0M482.5 397.3h0M501.8 326.6h0M536.4 449.4h0M476.2 379.8h0M510.1 409.6h0M555.5 298.5h0M570.9 415.2h0M571.4 344.8h0M478.1 408.6h0M567.1 317.5h0M555.8 325.2h0M553.5 308.2h0M491.7 391.9h0M523.5 395h0M564.3 372.9h0M505.1 406.8h0M550.7 389.8h0M520.7 372.2h0M539.9 371.2h0M487.4 409.7h0" stroke="#e8253a" stroke-width="2.6" stroke-linecap="round" fill="none"/>
<path d="M556.7 425.4h0M568.1 395.6h0M579.6 270.7h0M539.9 398.3h0M487.4 391.7h0M485.1 418.2h0M538.7 355h0M565.8 306.2h0M529.7 376.3h0M586.6 265.6h0M534.7 313.6h0M486.1 410.9h0M500.2 386.7h0M510.3 377.7h0M566.3 369.5h0M554.3 283.9h0M559.2 455.1h0M522.9 419.5h0M579.6 324.7h0M528.7 423.9h0M545.6 410.6h0M555.3 348.5h0M564.5 273.5h0M577.3 296.2h0M535.4 388.7h0M561.2 351.4h0M466.8 379h0M598.4 243.9h0M591.5 239.9h0M536.2 431.2h0M487.2 340.1h0M493.9 343.8h0M496.2 393.2h0M497.7 370.1h0M487.3 372.2h0M537 312.8h0M472.5 377.6h0M585.7 289.8h0M516.8 402.3h0M478.7 392.3h0M567.4 374.7h0M548.7 399.4h0M488.5 379.9h0M555.9 333.9h0M592.5 271.6h0M579.4 324.2h0M500.7 332h0M506.8 320h0M590 267.5h0M581.6 280.5h0M538.6 374.8h0M545.4 310.1h0M495.2 417.9h0M465.6 399.8h0M556.6 347.8h0M585.9 303.5h0M561 379.2h0M556.6 451.5h0M511.4 363.7h0M553.9 422.3h0M581.6 258.2h0M568.8 301h0M568.9 328.6h0M556.2 374.7h0M602.5 278.8h0M559 337.6h0M575.6 296.1h0M498.6 380.8h0M477.3 375.7h0M466.1 393.1h0M505.5 337.8h0M505.9 355.9h0M573 328.2h0M542.7 313.4h0M560.7 337.5h0M496.4 364.6h0M564.1 386h0M521.3 433.1h0M578.3 253.4h0M515.4 393.5h0M559.9 459h0M558 373h0M478.5 403.3h0M523.1 310.1h0M480.1 349.4h0M489.7 414.8h0M572.1 354.2h0M568.6 433.3h0M569.1 453.7h0M554.2 336.5h0M605 265.9h0M502 354.9h0M553.8 367.5h0M570.4 450.9h0" stroke="#f3e02a" stroke-width="2.6" stroke-linecap="round" fill="none"/>
<path d="M517.4 327.5h0M469.5 394h0M504.4 422.4h0M539.1 397.1h0M564.1 429.9h0M482.1 365.4h0M538.7 327.6h0M572.1 333.4h0M553.5 395.7h0M539.9 315.8h0M543.1 371.7h0M525.4 397.9h0M538.2 354.5h0M507 395.9h0M511.8 420.9h0M594.3 250.3h0M506.8 406.1h0M548.6 339.3h0M522.4 366.2h0M577.9 335.7h0M513.7 363.8h0M541.1 421.1h0M560.2 277.7h0M582.5 309.7h0M545.9 412.6h0M565.5 363.2h0M542.5 331.7h0M502 337h0M541.1 306.5h0M572.1 446.2h0M490.1 378.2h0M505.4 410.5h0M562.5 445.6h0M589.8 304.4h0M530.7 388.8h0M481.5 412.4h0M560.9 310.8h0M534.6 318.4h0M540.6 429.4h0M544 380.1h0M510 369.6h0M540.6 415.9h0M559.8 298h0M562.5 407.8h0M484.4 370.7h0M481.6 392.7h0M555.2 422.9h0M527.8 365.3h0M582.9 265.9h0M484.9 360h0M535.6 398.4h0M556.9 282.8h0M576.3 432h0M540.6 409.8h0M512.9 429.5h0M544.1 316.5h0M522.3 441.9h0M570.2 311.4h0M557.3 302.7h0M597.1 259.2h0M569.3 397.7h0M522.2 310.7h0M502.4 426.4h0M542.6 387.7h0M554.3 361.4h0M555.1 362.9h0M524.9 346.5h0M554.7 298.6h0M535.5 359h0M522.9 416.2h0M566.2 345.7h0M545.4 345.4h0M501.5 353.9h0M587.2 250.2h0M599 286.2h0M522.8 406.7h0M529.1 450h0M460.1 391.1h0M559.6 303.8h0M503.3 404.8h0M557.4 340h0M503.3 349.5h0M492.3 375.1h0M478 394.2h0M491.5 375.8h0M530.7 359.1h0M557.3 358.6h0M608.7 247.5h0M492.4 412.2h0M581.9 331.5h0M537.3 369.4h0M528.8 407.8h0M462 391.4h0M599 247.9h0" stroke="#f4b4c4" stroke-width="2.6" stroke-linecap="round" fill="none"/>
<path d="M540.7 297.3h0M520.7 378.8h0M488.1 337.9h0M561.1 315.2h0M552.3 357.2h0M550.9 322h0M573.3 356.8h0M583.2 260.8h0M559 417.5h0M469.7 378h0M582.7 311.3h0M478.4 379.7h0M567.3 396.5h0M482.1 378h0M500.2 422.9h0M515.5 384h0M466.6 401.9h0M563.7 414.8h0M548.9 347.6h0M562.1 287.9h0M467.1 387.6h0M501.4 419.3h0M535.2 311.2h0M571.8 359h0M485 355.9h0M535.7 438.5h0M565.4 409.3h0M551.5 417.9h0M535.6 409.7h0M499.1 402.2h0M588.8 290.8h0M596.3 273.3h0M533.7 432.6h0M561 381.1h0M571.1 277.2h0M596.9 261.5h0M572.9 416.7h0M576 321.4h0M553.8 452.3h0M486.3 366.8h0M518.1 432.5h0M514.2 415.2h0M588.9 305.5h0M566.6 390.2h0M530.5 447.2h0M576.8 311.7h0M508.8 333.6h0M552.3 343.9h0M528.2 438.9h0M558.4 413.2h0M558.3 344.6h0M536.7 358.1h0M526 378.8h0M569.7 349.4h0M551.7 344.1h0M587.6 251.1h0M559.2 458h0M512.4 360h0M574.7 351.4h0M513.4 420.9h0M513.5 410.8h0M575.4 315h0M525.6 384.1h0M550.8 301.9h0M552.3 381.8h0M484.7 358.7h0M569.5 373h0M523.7 375h0M558.6 328.9h0M528.7 424.1h0" stroke="#f08435" stroke-width="2.6" stroke-linecap="round" fill="none"/>
<path d="M528 407.4h0M575.3 427.6h0M518.7 330.6h0M547.3 345h0M529 417.6h0M515.3 400.5h0M526.9 439.8h0M473.3 362.9h0M529.6 398h0M527.5 436.5h0M503.8 434.8h0M593.5 285.3h0M610 238h0M576.4 439.4h0M557.9 458.1h0M551.1 378.8h0M562.3 291h0M540.7 379.7h0M581.4 284.4h0M563.3 436h0M516.5 356h0M540.4 294.8h0M465.8 381.6h0M516.7 348.5h0M520.7 445h0M526.6 336.2h0M520 319.8h0M483.3 356.1h0M542.9 385.9h0M493.3 403.3h0M541.9 386.5h0M555.5 293.1h0M549.3 324.2h0M549 387.7h0M497.9 384.3h0M485 390h0M504.1 349h0M488.2 378.5h0M492.5 409h0M508.1 423.3h0M494.5 367.6h0M587.4 312.9h0M503 403.1h0M479.9 385.9h0M605 240.1h0M562.7 395.8h0M508.8 318.5h0" stroke="#7d4ea3" stroke-width="2.6" stroke-linecap="round" fill="none"/>
<path d="M522.2 369.7h0M596 297.6h0M474.1 399.3h0M525.9 401.5h0M533.1 349.9h0M566.9 451.9h0M564.8 367.2h0M513.3 362.5h0M505.1 411.6h0M541.7 312.5h0M593.6 248.1h0M585.3 262h0M525.3 343.8h0M487.7 396.2h0M570.8 437.7h0M567 326.6h0M490.3 399.1h0M542.2 361.8h0M486.5 363h0M495.8 373.2h0M513.9 338.7h0M544.1 366.8h0M543.9 366.7h0" stroke="#cfe8c4" stroke-width="2.6" stroke-linecap="round" fill="none"/>
<path d="M566.1 266.7h0M580.7 245.4h0M557.7 275.6h0M571.7 259.8h0M556.9 276.9h0M532.9 298.2h0M549.5 284.7h0M562.7 270.9h0M580.6 248.1h0M583.7 242.7h0M568.8 260.4h0M556.9 275.7h0M536.8 293h0M602.3 227.6h0M577.1 250h0M584.6 244.1h0M540.8 289.2h0M538.1 293.2h0M594 235.2h0M545.5 283.6h0M568.2 260.9h0M562.3 266.2h0M560.5 269.6h0M549.5 284.1h0M543.2 285.1h0M549.8 281.5h0M579 246.8h0M589.7 240h0M583.9 245.6h0M547.6 280.8h0M588.3 240.9h0M541.8 287.8h0M581.2 251.2h0M581.1 247.7h0M556.8 273.5h0M592.5 236.4h0M594.1 235.9h0M578.5 250.9h0M601.2 224.5h0M574.7 255.6h0" stroke="#f08435" stroke-width="2.5" stroke-linecap="round" fill="none"/>
<path d="M555.3 275.5h0M600.3 228.4h0M533.1 294.7h0M534.7 296.5h0M546.2 285.6h0M586.1 242.2h0M529.8 298h0M579.6 250.7h0M567.4 261.9h0M543.2 288.2h0M576.3 250.5h0M599.3 228.6h0M544.1 289.3h0M570.2 262.5h0M600.9 227.7h0M536.2 293.8h0M548.1 279.1h0M539.6 293.4h0M543.5 288.1h0M560.1 268.1h0" stroke="#e8253a" stroke-width="2.5" stroke-linecap="round" fill="none"/>
<text transform="translate(422.9 514.3) scale(1.08 1)" font-size="31.5" font-weight="bold" stroke="#231f20" stroke-width="1" stroke-linejoin="round">e</text>
<rect x="456" y="504.2" width="133.1" height="402.6" fill="#0b0c0f"/>
<clipPath id="ec"><rect x="456.3" y="503.8" width="132.7" height="402.9"/></clipPath><g clip-path="url(#ec)">
<path d="M571 554.5h0M523.3 607.6h0M531.2 519.1h0M512.4 525.6h0M502.7 617.4h0M551.5 550.6h0M525.8 577.8h0M508.4 605.1h0M565 570.4h0M508.5 612.8h0M539.6 556h0M472.5 578.6h0M495.3 559.7h0M527 553h0M513.2 556.8h0M568.4 568.6h0M484.1 612h0M468.2 609.9h0M552.3 532.9h0M485.3 547.9h0M536.3 562.7h0M523.6 567.4h0M518.2 554.6h0M508.9 531.2h0M492.2 608.9h0M527.4 602.3h0M529.3 524.2h0M547.1 582.1h0M480 599.8h0M510.4 620.2h0M533.7 580h0M554.8 545.1h0M504.9 614.1h0M485.1 551.2h0M543.6 531.5h0M565.2 529.4h0M477.7 602.4h0M532.3 557.5h0M487 595.9h0M522.7 535.7h0M562.4 528.6h0M500.2 593.8h0M492.9 594.8h0M510.3 611.3h0M484.5 562.7h0M558.6 575.1h0M545.5 552.1h0M519.2 588.4h0M501.8 549.3h0M540.2 565.8h0M505.5 601.9h0M504.1 556.8h0M518.4 573.7h0M537.4 560.9h0M508.9 608.4h0M502.1 539.9h0M470.7 577.3h0M547.3 619.6h0M516.9 582h0M493.6 618.9h0M526.8 523.1h0M534.4 534.5h0M567.8 556.8h0M522.9 552.3h0M488.2 573.8h0M475.8 571h0M555.8 538.2h0M503.4 590.3h0M471.4 577.2h0M473.9 570.8h0M531.2 560.8h0M524 535.1h0M517.8 540.9h0M576.3 549.3h0M500.2 581.8h0M555.5 532.8h0M471.9 590.8h0M523.6 523.7h0M516.2 530.7h0M529.2 566.2h0M552.9 613.9h0M532.6 520h0M481.5 558.7h0M474.5 556.4h0M538.3 541.5h0M506.7 598.6h0M471 588.2h0M523.5 537.9h0M514.8 615.7h0M518.2 629.1h0M495.8 557.6h0M507.3 604h0M487.4 543.9h0M568.7 543.8h0M529.2 571.9h0M574.6 545.3h0M511.9 621h0M520.6 587.1h0M534.1 542.2h0M509.7 590.1h0M548 548.3h0M520.4 616.6h0M486.7 560.6h0M570.5 581.4h0M570.6 551.9h0M487.1 549.6h0M522.9 570.7h0M495.1 594.8h0M571.7 569h0M527.6 577.9h0M516.9 546.4h0M480.8 582.3h0M552.4 535.2h0M493.9 594.3h0M542.5 624.6h0M542.1 551h0M565.6 565.1h0M564.1 594.2h0M488 564.1h0M486 611.5h0M526.3 559.6h0M541.3 557.7h0M519.3 592.3h0M471.1 600.7h0M483.6 570.3h0M479.3 611.5h0M513.6 588h0M486.6 576.6h0M486.1 610.1h0M506 608h0M559.4 608.4h0M510.3 569.8h0M481.5 565.1h0M508.6 585.5h0M508.3 608.2h0M555.2 568.2h0M555.2 570.1h0M505.1 560.5h0M486.3 590h0M473.1 597.7h0M566.3 561.8h0M545.1 597.4h0M535.4 566.7h0M480.8 613.6h0M568.9 543.5h0M490.5 613h0M532.2 575h0M520.9 583.8h0M545.3 535.3h0M495.4 547.2h0M475.4 603.1h0M566 560.1h0M566.4 545.8h0M573.7 553.2h0M522.7 565.7h0M522.1 545.1h0M514.1 577.9h0M487.5 600h0M499.6 530.6h0M483.7 582.1h0M479.8 551.3h0M552.5 565h0M474.1 585.1h0M506 523h0M527.3 577h0M469.2 579.3h0M552.3 547.8h0M556.8 553.4h0M534.5 554.9h0M520.4 531.3h0M493.3 533.3h0M567.7 576.3h0M563.8 589.6h0M483.3 540.8h0M536.1 630.4h0M527.4 631.7h0M502.8 584.9h0M557.5 544.6h0M508.9 529.6h0M558.8 552.7h0M554.7 525.5h0M468.5 605.7h0M528.7 615.5h0M543.4 525.1h0M495.9 623.6h0M528.7 571.2h0M510.6 556.1h0M545 623.3h0M470.4 604.6h0M540.5 620.7h0M520.6 623.3h0M498.8 557.9h0" stroke="#4a7cc4" stroke-width="2.2" stroke-linecap="square" fill="none"/>
<path d="M539.2 568.1h0M510.3 535.5h0M489.1 546.9h0M521 567.6h0M574.1 557.1h0M547 590.8h0M493.4 581.1h0M547.8 532.9h0M526.4 567.4h0M480.9 583.9h0M539.1 543h0M548.9 581.6h0M515.4 598.8h0M496.4 577.5h0M546.6 558.4h0M508 523.6h0M565 599h0M551.7 572.3h0M515.8 613.3h0M489 597.2h0M479.3 576.6h0M512.9 612.6h0M553.6 521.7h0M504.7 608.6h0M534 540.8h0M498.4 567.8h0M545.8 627.9h0M495.2 581h0M571.5 537.8h0M517.4 587.9h0M510 603.3h0M520.2 587.6h0M486.1 603.5h0M502.3 620h0M471 593.4h0M561.3 538.8h0M559.9 558.9h0M533.2 549h0M496 571.7h0M556.1 563.7h0M533.6 525.6h0M569.6 535.2h0M522.7 576.8h0M555 524.1h0M507.5 593h0M557.4 551.8h0M524.9 536.3h0M567.8 545.4h0M554.9 529.8h0M506.5 534.9h0M505.1 616.8h0M519 532.6h0M479.4 587.5h0M564.7 581.9h0M490.7 615.3h0M508.7 555.9h0M562.2 540.7h0M566.8 537.7h0M563.1 536.5h0M548.4 587.6h0M527.2 624.1h0M528 625h0M503.3 618.9h0M561.1 586.7h0M498.8 566.7h0M534.7 525.5h0M494.9 577.1h0M507.9 610.2h0M564.4 548.6h0M566.6 584.1h0M531.4 577.8h0M514 521.3h0M565.1 601.2h0M572.5 560.9h0M541.2 565.5h0M485.8 591.4h0M493.8 589.2h0M498.4 579.4h0M536.9 524.7h0M487.6 570.6h0M557.9 549.8h0M566.8 586.1h0M555.5 568h0M516.5 624.8h0M503.4 585.8h0M502.1 576.3h0M538.8 544.1h0M542.7 553.6h0M527.2 569.7h0M486.4 621.8h0M508.2 594.3h0M570.9 539.9h0M477.9 589.8h0M526.7 528.1h0M515.2 568.9h0M534.4 571.5h0M509.9 537.5h0M473.4 608.2h0M478.6 614.3h0M471.6 604.7h0M496.1 541.7h0M530.5 523.4h0M573.2 557.2h0M500.5 617.9h0M514.2 613.2h0M504.5 587.2h0M489.1 556.3h0M558.4 565.4h0M539.3 562h0M544.6 630.5h0M518.9 547.9h0M498.6 598.8h0M547.2 533.9h0M509.1 565.6h0M510.1 551.2h0M535.6 627.5h0M509.1 614.1h0M565.3 565h0M478 609.4h0M532.7 541.4h0M507.9 593h0M518.7 549.5h0M552.4 533h0M562.8 548.5h0M489.4 563.2h0M477.6 608.3h0M527.7 632.3h0M501.2 598h0M539.3 626.8h0M507.3 575.6h0M538 560.3h0M504 579.6h0M550.7 610h0M529.1 581.5h0M499.7 560.8h0M554.2 564.9h0M514.6 593.4h0M502.8 541.5h0M532 572.1h0M500.6 626.1h0" stroke="#ee8873" stroke-width="2.2" stroke-linecap="square" fill="none"/>
<path d="M549.9 577.6h0M536.5 576.8h0M543.5 603.6h0M540.6 591.5h0M540.6 575.5h0M539.6 617.9h0M527.8 620.4h0M551.4 593.8h0M544.9 568.4h0M549.7 591.8h0M536.6 616.1h0M527.2 584.6h0M525.5 602.9h0M520.1 596.8h0M520.7 601.9h0M551 566.5h0M543 617.1h0M565.2 586.6h0M541.3 578.2h0M530.4 575.3h0M533.2 588h0M559.7 583.8h0M560.8 588.4h0M552.7 573.8h0M542 614.7h0M559 597.8h0M540 592h0M547.6 594.8h0M536.2 591h0M562.6 588.8h0M529.7 584.7h0M536.1 608.4h0M547.1 592h0M519.2 603.6h0M527.5 588.3h0M556.4 601.6h0M524.3 606h0M530.6 585.3h0M548 575.3h0M530.9 602.4h0M544.6 593.6h0M528.9 604h0M521.8 603h0M555.5 579.6h0M533.6 613.6h0M555.7 598.5h0M556.5 602h0M559.6 587.6h0M527.9 612h0M544.1 566h0M556.6 601.9h0M546.8 563.8h0M559.9 579.1h0M535.2 597.5h0M546 598.7h0M534.7 594.3h0M521.4 615.6h0M526.7 617.1h0M542.5 587.1h0M531.3 617.7h0M556 571.2h0M555.1 600.1h0M532 602.3h0M534 578.3h0M543.4 604h0M552.4 585h0M558 582.7h0M547.6 571.6h0M558.4 585.5h0M542.7 585h0M536.2 601h0M543.2 575.4h0M551.8 595.7h0M544.3 591.4h0M525.7 620.4h0M520.8 604.3h0M548.5 570.6h0M530.9 608.8h0M546.8 606.6h0M531.9 609.8h0M560.2 593.2h0M549.5 604h0M555.1 578.6h0M542 582.6h0M533.1 609.4h0M546.4 600.5h0M537.6 592.6h0M554.4 600.8h0M526.9 609.6h0M554.4 576.8h0M520.5 598.7h0M556.9 604.8h0M548.8 590.4h0M526 595.4h0M555.9 592.3h0M548.6 611.5h0M519.4 606.1h0M526.2 617.5h0M562.4 588.1h0M553.1 588.4h0M520.1 609.3h0M551.6 611.1h0M530.7 602h0M557.6 575.4h0M555.8 585.4h0M556.3 575.3h0M536.2 605.9h0M519.3 597.5h0M543.1 594.7h0M533.3 585.1h0M553.2 569.3h0M525.6 596.9h0M534.9 624.2h0M524.7 589.6h0M543.7 583.3h0M542.2 616.7h0M535.2 584.8h0M540.4 610.4h0M543.2 572h0M519.1 594.5h0M535 574.2h0M549.3 595.4h0M530 589.5h0M549.6 576.2h0M533.1 607.3h0M536.4 598.6h0M530.7 591.1h0M539.8 616.2h0M553.1 600h0M536.4 610.9h0M546.7 611.8h0M534.3 587h0M520.7 593.4h0M529.5 603.8h0M526.6 608.8h0M530.9 588h0M528.7 610.8h0M552.8 571.3h0M528.5 607.9h0M530.7 607.4h0M529.5 621.1h0M548.9 594.1h0M531.3 595.3h0M536.3 582.7h0M538 604.7h0M533.6 614.2h0M523.3 611.1h0M546.1 610h0M534 584.7h0M560.9 596.1h0M563.9 586.6h0M529.9 607.5h0M531.4 603.2h0M558.8 585h0M560.7 586.7h0M542 584.9h0M550.4 583.7h0M539.8 603.1h0M540 596.6h0M538.1 581.3h0M534.5 575.7h0M557.4 600h0M523.4 613.8h0M551.6 588.4h0M535.9 605.9h0M525.3 602.9h0M525.7 596.5h0M553.5 607h0M528.4 619.6h0M537.3 578.3h0M550.7 576.5h0M535.6 619.2h0M531 615.1h0M541.2 606.8h0M548.4 574.9h0M552.5 591.7h0M549.4 587.3h0M518.6 612.8h0M557.6 592.5h0M535.2 621.5h0M558.7 586.2h0M551.5 601.3h0M520.6 595.5h0M537.8 586.7h0M541.7 600.5h0M556.3 597.1h0M528.5 598.6h0M541.9 620.4h0M552.1 587.6h0M552.2 570h0" stroke="#f8d848" stroke-width="2.2" stroke-linecap="square" fill="none"/>
<path d="M548.9 716.2h0M515.1 694.9h0M528.5 672.4h0M549.4 727.6h0M549.9 715.5h0M512.9 678.9h0M538.1 759h0M510.6 741.4h0M527.5 697.4h0M498.4 697.9h0M539.8 699.9h0M522.7 687.1h0M532.2 685.2h0M549.3 722h0M503.3 711.8h0M495.4 720h0M534.7 724.4h0M510 701.1h0M537.9 662.1h0M530 729h0M545.7 703.6h0M539.9 702.5h0M521.3 702.6h0M548.8 690.5h0M535.9 695.8h0M490.5 721.2h0M506.7 712.5h0M546 735.9h0M552.5 664.8h0M528.9 683.3h0M524.3 685.2h0M540 682.2h0M548.9 661.5h0M520.3 702.1h0M531.9 716.8h0M549.2 667.5h0M545 691.9h0M519 676.7h0M554.9 667.8h0M552 729h0M497.2 707.1h0M540 705.9h0M501.1 701.2h0M563.7 732.7h0M541.4 665.7h0M554.2 729.2h0M508.3 712.8h0M519.3 684h0M493.8 714.6h0M546.4 676.7h0M544.6 734.3h0M536.2 708.7h0M527 722.9h0M560.9 729h0M480.3 740.7h0M530 749.7h0M533.4 750.3h0M505.6 688.2h0M515.7 682.5h0M528.4 694.4h0M543.7 739.6h0M547.9 708.2h0M532.7 690.5h0M513.7 705.3h0M535.1 720.4h0M498.8 718.5h0M554.5 669.9h0M534.8 692.4h0M514.5 681.7h0M522.1 681.5h0M550.8 712.7h0M510.7 702.2h0M512.9 707.8h0M519.1 709.8h0M544.8 659.6h0M525 688.7h0M545.8 766.3h0M547.5 690.1h0M543.4 765h0M520 704h0M541.8 695.3h0M467.9 749.3h0M491.6 753h0M517.8 701.6h0M511.7 685.9h0M501.8 714.6h0M495.6 707.2h0M523.5 753.3h0M503.2 709.7h0M499.3 718.1h0M530.6 693.6h0M491.8 739.3h0M494.9 725.6h0M484.5 747.3h0M489.5 711h0M555.2 665.9h0M535.7 693.5h0M512.1 692.9h0M543.2 699.4h0M542.2 674.7h0M515 699.2h0M505.7 708.5h0M503.8 706.9h0M546.3 673.1h0M539 669.4h0M526.1 671h0M550 701.3h0M528.2 693.4h0M521.3 729.4h0M484.1 723.3h0M492.9 708.3h0M554 734.5h0M529.7 684.5h0M522.1 681.3h0M533.4 696.2h0M547.3 711.9h0M530.7 718.3h0M551.6 680.1h0M559.8 737.9h0M548.7 689.2h0M518.7 707h0M553.9 681.2h0M480.3 745.4h0M540 666.4h0M541.9 699.9h0M513.8 698h0M485.5 732.4h0M528.3 680.5h0M547.3 691.7h0M534.1 689h0M498.1 741h0M543.8 702.1h0M501.7 723.5h0M511.6 680.9h0M509.4 714.2h0M547.6 655.1h0M522.3 672.1h0M544.4 667.3h0M550.7 715.5h0M498 719.1h0M528.7 681.7h0M534.9 723.5h0M544.9 683.9h0M499.9 708h0M547.4 671.8h0M531 685.7h0M508.5 709h0M511.9 688.3h0M552.8 701.8h0M534.1 725.8h0M539.1 701.7h0M498.7 752.6h0M521.4 706.2h0M532 674.5h0M505.3 712.2h0M516.8 677.3h0M538.4 707.3h0M539 725.4h0M505.7 695.3h0M531.8 670.8h0M551.7 668.8h0M547.1 670.2h0M543 669.8h0M506.3 724.5h0M527.8 716.8h0M519.6 686.3h0M507.9 706.7h0M540.3 712.5h0M534.4 757.7h0M497.8 707.9h0M551.6 718.3h0M507.7 696.2h0M546.5 740.2h0M549.9 703.2h0M535.2 741.4h0M539.7 740.8h0M505.7 711.6h0M495.8 723.8h0M526.5 707.3h0M553.4 711.9h0M523.7 718.8h0M497.7 728.5h0M550.1 665.9h0M552.5 714.4h0M520.8 674.3h0M502.1 702.3h0M556.7 726.7h0M552.4 711.7h0M495.3 742.9h0M533.2 731.6h0M549.1 670.4h0M542.7 749.9h0M511.2 709.9h0M539 750.9h0M555 668.8h0M512.2 681.5h0M526.1 712.6h0M518.7 689.8h0M527.3 662.7h0M531 722.2h0M512.6 719.1h0M555.1 686.7h0M510.3 737.5h0M531.4 691.7h0M495.6 715.8h0M546.6 665.1h0M551.4 705h0M512.5 676.9h0M502.5 724.2h0M529.3 699.5h0M494 749.2h0M544.4 731.8h0M526.5 690.5h0M554.6 665.5h0M529.8 715.5h0M524.7 722.8h0M547.7 695.5h0M483.2 728.8h0M543.1 758.6h0M506.3 725.8h0M519.4 713.6h0M524.5 722.8h0M531.7 702h0M524.1 721h0M527.4 690.2h0M548.4 708.3h0M544 663.9h0M538.1 677.8h0M546.4 709.2h0M538.4 713.2h0M557.4 751.9h0M559.3 746.5h0M540.4 681h0M554.8 728.6h0M519.5 687.7h0M497.9 701h0M509 721.3h0M553.7 749.9h0M506.5 723.1h0M535.2 687.5h0M535.5 666.9h0M541.8 684.2h0M513.4 714.5h0M523.6 717.5h0M531 672.3h0M517.6 715.6h0M525.5 669.2h0M482.7 725.7h0M554.6 732.4h0M535.6 690.7h0M503.4 700.1h0M542.6 718.3h0M509.2 694.4h0M543.6 683.5h0M542.3 661.7h0M501.8 712h0M564.2 749.3h0M515.5 706h0M551.9 663h0M541.6 715.6h0M550.8 674.4h0M498.1 720.6h0M546.8 735h0M529.2 749.7h0M566.5 743.1h0M544.2 667.5h0M499.4 709h0M550.8 736.5h0M541.2 654.4h0M543.5 684.3h0M550.1 691.9h0M545.9 668.5h0M501.4 721.2h0M558.7 724.6h0M512.2 700.4h0M542.3 739.5h0M514.8 705.2h0M509 693.4h0M553.7 733.7h0M532.3 736.5h0M508.4 693.9h0M532.3 722.1h0M484.2 733.1h0M524.2 685.1h0M556.2 742.7h0M532.8 672h0M550.9 715.1h0M500 714.9h0M551.2 738.5h0M517 720.8h0M568.6 752.1h0M517.3 708.2h0M527.3 731.9h0M548 656.5h0M517.8 709.8h0M502.1 696.5h0M531.3 735h0M549.3 727.6h0M528 706h0M505.3 746.1h0M504.6 724.1h0M511 718.4h0M515.3 732.8h0M530.8 659.5h0M499.8 723.2h0M535.2 722.6h0M531.6 706h0M502.4 693.3h0M548.1 681.3h0M536.3 736h0M562 730.1h0M509 710.5h0M532.5 677.2h0M541.3 707.2h0M518.5 697.9h0M537.3 657h0M552.2 674.5h0M482.8 725.7h0M536.8 696.1h0M537.9 698.5h0M493.1 741.4h0M503.9 751.5h0M521.4 686.8h0M498.3 745.3h0M499.1 720.6h0M553.9 715.5h0M552 731.9h0M531 686.6h0M549.6 658h0M510.9 712.8h0M503.9 700.1h0M540.4 727h0M518.6 716.9h0M550.7 672h0M489.1 739h0M553 695h0M527.7 661.9h0M546.4 697.5h0M539.7 661.9h0M530.5 702.3h0M543.5 684.7h0M536.5 659h0M534.3 763.2h0M555 683.2h0M535.8 726.2h0M534.8 680.8h0M542.9 686.5h0M517.5 693.7h0M538.2 716.1h0M543.6 656.7h0M506.9 728.9h0M511.2 723.3h0M546.2 714.2h0M548.8 684.2h0M532.7 666.4h0M554.7 704.1h0M523.3 737.3h0M515.7 691.5h0M538.9 710h0M551.8 736.9h0M509 690.8h0M546.8 718.7h0M490.7 716.5h0M535.7 721.2h0M544.9 687.4h0M559.9 741.4h0M539.9 684.3h0M544.6 670.5h0M552.7 729.2h0M553.9 692.2h0M532.3 715.5h0M495.2 715.2h0M522.2 720.3h0M536.7 699.7h0M513.3 691h0M510.7 684.2h0M553.3 715.4h0M506 694.8h0M512.9 701.4h0M504.2 711h0M517 717h0M530.1 663.9h0M537.6 711.2h0M524.2 709.9h0M533.8 681.4h0M552.5 667.9h0M535.7 699.8h0M547.5 694h0M509.7 683.5h0M544.5 674.2h0M503.6 696.3h0M552.6 670.3h0M539 664.8h0M548.3 711.9h0M542.3 676.3h0M521.1 719.5h0M536.3 687.5h0M507.6 754.9h0M514.9 705.5h0M486.8 730.4h0M528.2 693.3h0M543.5 736.3h0M496.3 718.7h0M503.7 719.6h0M522.6 672.8h0M545.3 682.8h0M536 676.9h0M544.9 740.5h0M538.3 683h0M538.7 738.4h0M518.4 715.3h0M512.3 720.1h0M535.8 689.2h0M571.3 756.6h0M518.2 725.6h0M547.5 701.3h0M540.2 694.3h0M523.5 696.8h0M554.3 719.4h0M509.4 714h0M535.1 699.3h0M550.8 677.2h0M504 693.8h0M536 670h0M503.9 748.7h0M504.9 727h0M546.5 706h0M513.4 699.1h0M549.2 664.6h0M540 745.1h0M528.2 700.4h0M531.3 688.4h0M519.4 708.3h0M511.7 698h0M546.3 683.6h0M529.1 676.4h0M526.3 699.8h0M534 659.4h0M537.9 689.4h0M536.6 728.6h0M561.5 730.2h0M537.8 728.9h0M542.7 698.8h0M549.6 717.2h0M510.6 699.4h0M540.9 706.4h0M543.3 675.2h0M552.7 728.1h0M524.1 697.6h0M538.4 675.4h0M514 692.6h0M544 727.8h0M499.5 755.2h0M487 754.8h0M519.2 705.5h0M539 710.3h0M488.6 710.3h0M562 735.4h0M502.8 691.3h0M522.1 686.5h0M502 725.9h0M533.6 684.3h0M491 748.1h0M509.9 700.3h0M547 709.4h0M500.5 743h0M520.7 665.8h0M546 665.6h0M558.6 723.7h0M520.6 678.3h0M545.9 733h0M530.8 664.4h0M539.1 678.9h0M526.8 681.8h0M542.3 665.6h0M542.9 743.8h0M549.7 676.4h0M537.5 660.9h0M527.3 693.6h0M554.4 691.9h0M546.5 695.9h0M522.6 690.4h0M523.4 699.6h0M521.6 696.5h0M523.8 674.2h0M545.2 681.7h0M535.9 683.9h0M551.7 705.3h0M529.5 689.6h0M468 736.1h0M521.8 693.9h0M505.4 704.8h0M528.2 713.5h0M539.7 724.6h0M505.1 687.4h0M493.7 709.7h0M536.3 660.9h0M536.8 719.3h0M507.6 692.3h0M538.8 701.8h0M548 723.2h0M518.6 730.7h0M492.6 719.7h0M543.9 725.2h0M515.8 720.5h0M539.5 710.5h0M528.8 756.6h0M563 739.4h0M525.9 665.6h0M525.1 734.2h0M539.4 700.9h0M493.5 732.6h0M535.2 701.5h0M538 711h0M527.3 714.9h0M518 765.9h0M512.6 731.9h0M532.9 658.2h0M565.4 751.7h0M504.2 758.5h0M503.9 704.7h0M520.3 672.6h0M508.1 740.5h0M496 707.6h0M514.2 691h0M541.8 675h0M527.9 752.2h0M501.7 715.7h0M526.4 691.7h0M521.5 675.6h0M525.7 749h0M517.5 697h0M490.2 719.7h0M543.3 729.4h0M523.5 684.2h0M509.4 693.8h0M557.8 744.3h0M531.3 710.7h0M555.1 736.8h0M557.1 664.7h0M543.8 748.5h0M497.5 721.4h0M505.6 693.4h0M510.8 721.4h0M501.5 701.8h0M518.2 712.1h0M538.6 686h0M528.5 684.8h0M550.4 711.5h0M528.3 727.4h0M557.7 668h0M536.7 664.5h0M527.6 706.7h0M539.5 687.9h0M558.1 728.6h0M502.6 762.4h0M529.8 715.8h0M564.2 739h0M545.8 729.7h0M509.7 754.6h0M504.9 700.4h0M520.9 702.4h0M527.3 736h0M494.2 714.4h0M505 700.7h0M564.7 732.8h0M521.5 693.5h0M506.8 703.7h0M516 759.8h0M527.8 698.2h0M513.3 753.7h0M553.1 728.3h0M526 668.8h0M467.2 738.9h0M530.9 681.4h0M542.4 733.1h0M507.4 686.9h0M547.7 681.9h0M507.3 707.1h0M529.2 689.5h0M487.7 734.3h0M545.2 716h0M548.6 741.5h0M505.2 687.2h0M560.1 736.4h0M510.4 686h0M572.3 759.5h0M551.3 742.4h0M538.6 677.1h0M514.8 673.7h0M519.2 677.9h0M559.9 754.6h0M535.8 655.8h0M519.6 670.8h0M541.8 653.5h0M494.5 718.6h0M478.7 733.8h0M557.6 738.9h0M511.7 691.3h0M511.3 700h0M469.8 736.6h0M513.2 711.6h0M504.2 689.3h0M499.6 703.8h0M546.9 666.2h0M526.1 728.6h0M518.8 694.6h0M547.3 674h0M535.6 712.8h0M521.1 725.6h0M512.8 720.3h0M556.2 677.4h0M527.9 672.2h0M549.7 668.6h0M549.2 676.9h0M504.4 692.2h0M522.4 668.3h0M536.7 711.6h0M546.8 752.6h0M513 752.2h0M530.7 684.4h0M534.7 666.4h0M511.2 718h0" stroke="#4a7cc4" stroke-width="1.6" stroke-linecap="square" fill="none"/>
<path d="M531.5 738.6h0M483.5 730.7h0M521.2 753.7h0M465.5 745.9h0M496.1 751.4h0M514.5 738.8h0M481.9 737.2h0M507.2 748.6h0M568.9 757.3h0M519.4 755.9h0M529.7 746.2h0M566.5 757.4h0M467.3 736.1h0M549.6 749.6h0M508.3 757.4h0M533.1 743h0M484.9 726.5h0M478.4 741.7h0M502.3 761h0M467 748.4h0M568.9 759h0M490.3 736.8h0M474.9 749.4h0M475 746.2h0M530.6 744.7h0M554 756.2h0M530.8 742.8h0M511.4 732h0M504.4 733.1h0M538.3 766.8h0M489.9 724.4h0M497.5 752.3h0M490.8 748.9h0M517.9 748.5h0M493.5 744.7h0M484.8 747.6h0M482.9 728.7h0M508.9 725.6h0M494.5 722.7h0M542.9 755.1h0M567.9 752.4h0M561.5 770.1h0M501 732.3h0M475.5 751.7h0M534.5 737.2h0M473.1 729.3h0M544.2 761.9h0M521.3 764.5h0M469.5 742.9h0M563.8 746.5h0M552.3 750.9h0M492.4 740.5h0M520.6 759.4h0M517.2 746h0M495.8 734.5h0M466.2 749.1h0M541.1 769.2h0M526.1 750h0M548.1 753.4h0M529.4 765h0M514.9 743.4h0M505.7 731.6h0M469.7 740.3h0M477.7 723.4h0M533.9 739.3h0M541.3 757.8h0M486.1 725.1h0M570.1 758.7h0M495.2 731.7h0M494.8 752.4h0M510.6 733.2h0M494.4 739.9h0M516.6 730.3h0M521.3 749.7h0M539.4 738.8h0M552.1 753.9h0M483.8 720.9h0M543 753.3h0M517.4 723.9h0M484.2 730.7h0M543.4 756h0M539.1 756h0M501.1 754.1h0M562.5 756.6h0M488.9 752.9h0M495.4 735.6h0M503 754.9h0M520.1 741.2h0M476 752.4h0M470.3 734.4h0M570.9 764.5h0M489.6 737.8h0M566.9 756.9h0M521.3 756.6h0M494.6 744.7h0M494.3 745.2h0M490.6 714.6h0M486.9 743.2h0M528.6 765.2h0M506.3 731.7h0M551.8 751.8h0M464.9 740.4h0M498.2 742.2h0M481.4 737.7h0M515.7 757.2h0M523.7 765.2h0M491.6 733.9h0M572.2 764.9h0M468.1 742h0M544.5 742.2h0M553.4 742.4h0M533.4 747.8h0M486.1 728.8h0M481 723h0M564 747.7h0M486 730.8h0M509 730.7h0M502.7 750.2h0M530.8 731.5h0M561.7 750.2h0M488.4 727.7h0M537.5 767.3h0M507.5 747.3h0M524.8 744h0M526.2 765.5h0M495.5 740.7h0M545.4 765.8h0M545.1 728h0M549.3 757.8h0M484.1 741.2h0M494.2 738.5h0M480.1 737.3h0M564.6 752.1h0M532.4 742.4h0M535.4 757.5h0M508.9 740h0M542.9 733.1h0M480.8 729.9h0M509.8 751h0M526.9 737h0M485.1 757.3h0M475.1 729.4h0M470.6 740.4h0M475.4 751.7h0M531.2 757.2h0M543.4 742.4h0M482.5 737.4h0M497.5 759.8h0M500.6 752.8h0M564.1 762.4h0M523.9 740.6h0M544.7 763.6h0M468.3 751.4h0M490.2 756.8h0M490.9 749.7h0M572.5 763h0M525.9 720.5h0M507.5 754h0M537.3 754h0M469.5 749.8h0M499 731.2h0M466.4 745.3h0M498.6 717.8h0M530.5 753h0M534.4 768h0M554.4 769.4h0M546.2 736.7h0M471.9 750.9h0M467.9 746.3h0M466.2 748.2h0M504.7 762.6h0M551.2 727.8h0M502.6 737.3h0M528.8 760.2h0M473.8 727.6h0M500.7 758.3h0M519.2 759.6h0M514.1 761.9h0M492 722.1h0M497.8 747.6h0M510.5 758.5h0M537.2 718h0M489.9 742h0M517 723.5h0M553.3 767h0M489.1 735.5h0M535.2 765.6h0M495 747h0M541.6 734.8h0M478.5 737.7h0M476.4 729.2h0M566.8 754.5h0M479.6 753h0M538.7 756.9h0M505.5 740.1h0M535.5 747.5h0M541.9 760.4h0M524.7 761.9h0M559.9 756.6h0M556 733.2h0M560.8 757h0M537.5 760h0M515.8 731.6h0M505.1 759.3h0M477.5 725.6h0M480 749.7h0M498.1 727.5h0M546.5 752h0M500.7 732.7h0M533.5 732.4h0M473.6 734.9h0M492.9 737.5h0M544.7 747.3h0M511.8 758.7h0M514 752.4h0M477.9 738.9h0M542.3 762.5h0M534.6 743h0M503 751h0M480.6 723.4h0M538.2 753.3h0M494.7 737.2h0M498.5 750.4h0M481.6 721.1h0M511.2 754.9h0M511.4 761h0M512.3 710.7h0M537.6 678.5h0M535.3 753.3h0M519.1 741.3h0M525.9 765.2h0M538.2 733.3h0M480.5 743.5h0M529.9 766.1h0M520.7 763.6h0M555 757.6h0M505.3 741.3h0M537 766.3h0M564.3 764.8h0M566.6 765h0M557.7 735.6h0M473.2 732.1h0M492.2 736.7h0M479.2 741.2h0M548.3 760.5h0M566.9 758.2h0M549.4 757.5h0M483.4 728.7h0M516.7 750.5h0M468.4 746.5h0M529.2 745.9h0M541.7 745.9h0M499 742.5h0M546.3 766.4h0M534.8 764.4h0M490.7 743.8h0M515.7 760.4h0M553.1 769.1h0M541.1 756.6h0M490.8 720.8h0M498.9 748.6h0M560.8 755.2h0M545.1 751.6h0M475.1 729.3h0M475.3 742.9h0M545.2 761.6h0M520.7 749.4h0M559.3 724.2h0M488.6 742.4h0M514.9 761.8h0M483.3 746.6h0M501.9 754.1h0M534.6 766.8h0M545.6 740.4h0M512.1 751.2h0M484.8 736.1h0M489.6 742.9h0M541.1 765.7h0M548.8 760.3h0M540.2 765.4h0M526.3 723.3h0M518.2 738h0M526.2 731.4h0M575.1 768.2h0M557.9 758.6h0M520.3 734.3h0M511.2 729.4h0M493.9 735.2h0M536.7 761.3h0M478.5 734.8h0M562.1 766.7h0M490.7 737.1h0M501.4 758.4h0M526 732.6h0M539.8 746h0M473.7 737.5h0M470.2 742.8h0M556.5 758.5h0M544.4 761.3h0M511.8 762h0M474.4 735.7h0M529.3 734.8h0M493.8 731.5h0M534.1 768h0M536.1 745.4h0M478.2 741.1h0M494.2 717.7h0M521.4 758.3h0M535.1 762.5h0M523.8 741.7h0M535.4 761.2h0M479.2 744.4h0M495.5 748.1h0M522.6 759.3h0M557 756.5h0M560.3 757.8h0M503 740.3h0M480 739.2h0M552 740h0M501.6 745.2h0M565.8 751.6h0M510.7 758.6h0M553.7 733.5h0M469.7 739.6h0M536.4 753.6h0M479.9 754.7h0M512.3 731.9h0M468.4 748.5h0M509.7 745.1h0M498.5 729.9h0M540.6 719.2h0M533.9 737.1h0M508.6 753.1h0M478.2 730.3h0M536.1 736.6h0M479.3 751.9h0M496.3 738.4h0M557.2 751.8h0M563.4 767.8h0M523.2 759.9h0M546.7 760h0M541.7 732.3h0M537.8 765h0M481.5 745.7h0M504.4 744h0M505.4 739.9h0M493.1 746h0M495 753.2h0M542.6 734.8h0" stroke="#ee8873" stroke-width="1.6" stroke-linecap="square" fill="none"/>
<path d="M559.5 763.5h0M554.6 760.7h0M548 760.7h0M554.6 765.7h0M561.8 761.5h0M558.1 767.8h0M550.2 765.3h0M570.6 766.5h0M572.1 768.8h0M560.9 769h0M574 767.1h0M569.5 762.4h0M570 763.5h0M571.8 763h0M547.9 762.6h0M551.3 765.6h0M549.1 764.1h0M551.4 762.4h0M549.1 766.1h0M556.1 768.8h0M573.2 764.2h0M560.4 762.2h0M559.1 769.1h0M569.2 766.2h0M563.2 765.5h0M566.9 763.8h0M559.2 764.4h0M573.5 761.9h0" stroke="#f8d848" stroke-width="1.6" stroke-linecap="square" fill="none"/>
<path d="M498.2 843.3h0M530.1 811.8h0M530.7 833.6h0M483.5 860.7h0M523.5 820h0M510.7 820.9h0M507.8 897.4h0M533.2 811.9h0M557.7 838.7h0M537 834.8h0M546.6 810.2h0M512.3 823.3h0M506.1 862.1h0M524.9 853.1h0M526.2 801.3h0M498.9 852.2h0M542.9 829.2h0M539.2 799.3h0M551.8 819.5h0M489.6 837.9h0M503.5 851.4h0M529 840.8h0M529.5 815.6h0M513.7 859.1h0M564.7 832.4h0M554.5 805.7h0M492.7 832.4h0M523.8 828.3h0M496.1 839.4h0M578.1 868h0M510.3 849.6h0M508.2 848.4h0M525.5 847.1h0M515.1 834.9h0M540.2 827.8h0M533.4 859.1h0M526.9 839h0M505 838.2h0M555.4 819.8h0M484.8 852.1h0M503 860.6h0M537.4 831.6h0M514.1 823.2h0M496.4 855.9h0M550.4 865.6h0M545.4 837.2h0M549.2 800h0M489.5 856.5h0M539.6 838.1h0M558.8 838.9h0M527 857.7h0M487.9 844.1h0M561.5 820.5h0M566.2 822.6h0M512.1 856.9h0M519.3 872.8h0M520.1 835h0M516.1 838.9h0M553.5 816.2h0M570.4 836.2h0M540.2 822.1h0M496.3 842.1h0M552.2 841.1h0M568.9 824.3h0M530.7 856.4h0M522.7 886.3h0M538.3 849.2h0M552.7 823h0M531.3 822h0M498 856.2h0M511.1 844.4h0M481.7 860.4h0M515 818.3h0M554.2 813h0M534.3 808.5h0M540 813.9h0M555.3 810.2h0M508.2 838h0M488.7 855.3h0M525.7 829h0M565.8 893.1h0M494.6 858.8h0M541.2 825.1h0M529.8 842.6h0M519.4 835.6h0M508.4 817.9h0M564.2 871.4h0M515.8 818.5h0M535.5 855h0M500.7 834.8h0M511.7 824.4h0M530 834.4h0M478.1 855.4h0M479.9 845.6h0M577.7 876.6h0M496.7 825.3h0M481 842.2h0M508.2 895.2h0M500.5 843.7h0M513 841.2h0M536.1 840h0M494.5 830.3h0M527.3 840.2h0M509.2 839.2h0M487.5 848.8h0M480.1 849.5h0M534.7 858.7h0M566.2 840.4h0M483.5 851.4h0M528.1 820.7h0M489.7 853.4h0M535.6 836.1h0M524.3 835.2h0M489.6 845.4h0M571.7 842.7h0M527.4 821.3h0M500.1 858.6h0M563.9 833.2h0M536.2 832.4h0M511.7 826.8h0M519.3 830.4h0M533 823.6h0M521.8 858.3h0M485.7 847.6h0M532.1 826.4h0M548.4 810.5h0M534.8 843.8h0M507.1 829.6h0M571.6 834.9h0M520 849.8h0M481.4 844.1h0M540.7 810h0M542.5 823.6h0M532.4 804.7h0M560.2 831.5h0M498.6 860.2h0M538.9 806.2h0M576.6 881.5h0M494.1 859.5h0M501.5 850.3h0M571.2 829.6h0M522.4 859.1h0M485.9 835.7h0M535 826.7h0M549.9 808.2h0M513 814.1h0M483.1 850.7h0M528.4 814.2h0M495 836.1h0M571.5 900.6h0M548.8 801.3h0M476.6 878.7h0M529.1 824.9h0M535.8 797.6h0M516.2 844.9h0M496.9 859.5h0M485.7 852.2h0M516.1 816.1h0M522.2 798.5h0M563.5 819.2h0M505.5 840.5h0M560.2 820.7h0M520.2 882.2h0M503 897.4h0M538 826.7h0M521 801.8h0M546.6 813.5h0M499.8 839.4h0M525.9 804.7h0M525.1 840.3h0M520.4 810.2h0M553 825.4h0M564.1 836.9h0M509.9 824.7h0M525.2 819.6h0M528.8 827.7h0M544.5 825h0M557.8 831.6h0M510.2 808.2h0M536 843.1h0M482.2 845.7h0M546.6 807.5h0M533.7 797.8h0M496.5 880.4h0M544.2 846h0M548.4 834.1h0M561.9 816.9h0M483.1 846.3h0M524.4 853.2h0M533.6 818.2h0M556.5 811.1h0M498.7 833h0M511.6 827.3h0M503.7 852.3h0M524.9 825.4h0M511.1 861h0M528.4 795h0M502.8 829.4h0M523 816.6h0M535.8 803h0M517.6 819.9h0M560.1 812.8h0M534.6 801.1h0M520.7 802.5h0M525.3 840.2h0M546.9 836h0M517.9 873.3h0M553.3 832.2h0M534.5 837.1h0M530.3 802.3h0M494.6 861.2h0M513.4 883.1h0M537.2 810.9h0M533.3 829.7h0M487.5 842.4h0M524.9 829.6h0M477.5 862.8h0M492.2 843.5h0M529.4 795h0M508.7 832.8h0M508.3 841.8h0M528.9 806.8h0M517.4 813.1h0M554.2 824.5h0M489.5 854.8h0M538.3 797.1h0M526.1 797.7h0M534 818.5h0M546.7 821.7h0M508.8 866.6h0M494.3 859.7h0M541.4 797.5h0M553.3 828.8h0M526.4 794.9h0M515 846.4h0M557.9 835.4h0M561.1 826.9h0M553.5 810.5h0M468.3 894h0M556 817.1h0M565.8 842.2h0M506.1 815.5h0M545.1 889.6h0M509.8 879.6h0M503.9 849.1h0M535.6 819.9h0M531.7 827.1h0M548.6 836.1h0M531.3 800.8h0M511.8 835.8h0M503.5 825.7h0M578.5 885h0M481.2 839.5h0M525.7 821h0M530.5 887.1h0M514.6 836h0M535.9 836.3h0M543.3 827.7h0M486.5 836.2h0M482.9 842.2h0M541.8 895.9h0M535.9 847.1h0M555.2 825.1h0M558.5 830.8h0M535.9 842.4h0M507.4 859.1h0M487.6 845.3h0M536.3 847.8h0M490.9 828.4h0M520.6 831.6h0M536.3 840.5h0M529 838.3h0M513.3 805.7h0M515.3 842.6h0M543.6 804.1h0M562.8 828.2h0M562.2 823.5h0M554.8 831.1h0M529.8 844.1h0M513.8 811h0M546.7 831.2h0M478.1 849.9h0M502.1 826.8h0M509.8 847.3h0M572.4 896.3h0M505.4 838.5h0M509.8 812.2h0M530.2 888h0M534 799.8h0M508.1 825.8h0M549.6 881.5h0M528.8 838.2h0M513.4 833.7h0M518.6 817.5h0M547.5 830.2h0M551.6 808.5h0M506.7 824.2h0M477.6 852h0M553.9 833h0M504.9 820.9h0M515 866.5h0M512 855.2h0M543.1 796.3h0M550.2 820.1h0M517.7 814.4h0M510.1 845.2h0M561.9 830.3h0M551.7 811.6h0M545.9 799.3h0M526.4 800.5h0M558.7 828h0M535.9 881.3h0M525.9 890h0M552.9 838.7h0M504 830h0M559.5 842.2h0M546.8 800.8h0M499.3 836.3h0M533.8 813.7h0M516.8 857.3h0M562.8 816.6h0M486.3 846.2h0M500.9 828.8h0M525.8 797h0M507.1 817.9h0M514.6 815.3h0M515.1 827.5h0M482.8 842.6h0M527.6 834.4h0M555.1 811.2h0M503 817.4h0M534.1 813.5h0M555.5 810.4h0M536.8 792.9h0M541.4 836h0M522.2 828.9h0M570.6 833.8h0M513.9 860.6h0M519.1 840.3h0M542.5 831.1h0M521.6 813.9h0M541.4 830.2h0M508 836.8h0M521.7 825.8h0M510.3 852.4h0M552.8 811.7h0M510.9 820.5h0M536.3 804.1h0M496.3 823.7h0M514.7 833.4h0M492.6 849.1h0M484.9 854.3h0M540.7 816.1h0M573.6 842.9h0M528.3 859.5h0M549.5 806h0M509.6 859.6h0M526.5 844.1h0M514.7 861.2h0M521.5 858.7h0M547.6 809.5h0M525.4 815.3h0M517.9 814.9h0M513.8 822h0M508 832.7h0M522.5 831.6h0M525 845.8h0M519.1 818.8h0M542.9 844.1h0M537.6 810.6h0M489.6 843.9h0M521.9 804.7h0M508.6 849.4h0M513.5 852.1h0M556.1 833.4h0M523.2 834.3h0M544 828.6h0M548.5 811.5h0M498.9 841.6h0M536.9 796.8h0M561.7 828.1h0M544.3 828.3h0M539.8 820h0M540.2 825.9h0M508.5 854h0M510.5 844.2h0M525.6 812.1h0M560.4 841.4h0M503.3 820.5h0M561.4 815.4h0M543.8 808h0M511.3 838h0M525.6 849.4h0M551.6 835.2h0M494.9 850.5h0M525.1 814.6h0M538.4 823.8h0M525 832.3h0M501 842.4h0M564.2 900.5h0M538.4 797.7h0M493.5 858.2h0M508.2 846.3h0M542.3 813.9h0M552 809.6h0M478.3 855.2h0M511.4 856.4h0M485.5 840.6h0M521 850.9h0M543.8 808.1h0M514.7 853.3h0M473 860.6h0M515.2 819h0M494.7 858.4h0M511.6 817.1h0M525.4 847h0M535 795.3h0M520.1 836.8h0M489.6 845.9h0M560.7 839.3h0M564.2 817h0M527.9 814.4h0M515.6 844.2h0M534.4 807.8h0M517.2 808.6h0M517.7 857.7h0M528.1 882h0M571 837.2h0M560.4 815.9h0M512.5 839.1h0M502.1 833h0M526.5 848.9h0M537.1 842.3h0M557.9 812.4h0M538.2 817.7h0M500 855.4h0M531.1 802.4h0M550.5 840.2h0M532.1 816.6h0M512.4 809.4h0M545.1 846h0M505.5 891.7h0M547.9 811.6h0M500.4 851.2h0M528 844.6h0M546.2 833.1h0M495.2 823.8h0M532.2 802.9h0M550.3 830.3h0M516.7 837.5h0M490 838.5h0M519.9 825.6h0M467.7 884.7h0M520.6 859.4h0M505.1 842.6h0M527.9 794.2h0M481.9 871h0M539.7 840.6h0M521.5 812.7h0M530.3 839.5h0M523.8 830h0M536.8 825.6h0M563.2 822.5h0M514.8 829.3h0M477.7 873.6h0M565.7 820.4h0M489.9 857.6h0M544.5 836.6h0M579.9 851h0M498.8 859.2h0M517.2 839.1h0M516.1 823.7h0M504.1 824h0M533.8 833.5h0M501.8 859.2h0M503.6 858h0M506.3 814.9h0M525.5 850h0M488.9 850.1h0M487.9 842.8h0M514.3 818.1h0M544.2 819.9h0M534.4 825h0M533.5 803.6h0M507.4 857.1h0M508.7 841.1h0M534.5 829.4h0M498.8 841.8h0M497.1 829.1h0M503.1 893.8h0M513.9 807.2h0M534.5 850.6h0M534 856.3h0M523.8 844.4h0M514.5 825.6h0M576.1 837.8h0M482.5 853.8h0M513.7 812.6h0M520.3 812h0M489 842.7h0M530.1 813.8h0M528.8 876.6h0M506.1 818.8h0M521.6 851.4h0M522 838.5h0M526.6 809.7h0M525.6 819.7h0M520.7 819.9h0M552.3 842.1h0M500.8 849.9h0M531.7 857h0M509 820.3h0M527.4 830.8h0M535.5 820.6h0M495.7 883.6h0M530.7 846.1h0M527.5 858.5h0M547.6 819.2h0M493.7 845.5h0M524.2 855.2h0M514.3 858.9h0M559.5 899.7h0M527.9 839.3h0M544.6 838.9h0M547 803.2h0M520.7 805.6h0M512.8 850.1h0M527.3 813h0M519.4 820.1h0M492.8 833h0M550.6 821.6h0M547.4 851.7h0M560.1 900.5h0M481.6 857.3h0M561.1 827.3h0M538.9 794.2h0M501.9 824.9h0M486.8 849.6h0M574.6 836.2h0M525.5 810.5h0M486.1 850h0M547.6 821.6h0M565.3 815.9h0M541.5 814.2h0M524.4 840.8h0M500.3 860.6h0M551.4 819.6h0M504.1 818.6h0M561 817.6h0M549.8 809.7h0M555.5 815.3h0M480.7 849.5h0M526.5 858.8h0M499 855h0M549.7 836.7h0M504.2 835h0M536.6 809h0M553.6 869.9h0M515.7 825.9h0M539.4 833.3h0M528.6 847.4h0M538.6 837.1h0M541.4 796h0M523.9 843.1h0M542.8 837.9h0M515.6 849.9h0M477.5 854.2h0M515.8 852.5h0M515.4 805.6h0M571 839.6h0M490.6 880.3h0M556.2 820.3h0M539.2 822.5h0M481.4 844.3h0M536.3 797.1h0M514.2 857.8h0M497.5 821.8h0M546.4 840.8h0M562 824.8h0M530.6 831.9h0M561.3 835.9h0M477.5 862.1h0M526.8 810.8h0M512.3 862.1h0M523.7 839.1h0M489 853.8h0M555.2 811.3h0M552 822.4h0M536.9 841.6h0M509.9 862.1h0M516.2 857.5h0M540.3 796.9h0M514.9 825.8h0M559 818.3h0M525.5 835h0M532.6 846.5h0M497.7 833.4h0M522.7 843h0M475.9 856.3h0M506.6 824.4h0M550.8 838h0" stroke="#4a7cc4" stroke-width="1.6" stroke-linecap="square" fill="none"/>
<path d="M546.7 888h0M496.8 876.1h0M561.2 899.5h0M488.5 886.2h0M506.2 884.8h0M551.6 896.7h0M512.5 863.6h0M484.2 896.6h0M465.4 881.6h0M559 886.4h0M473.8 891.4h0M502.8 867.2h0M499.3 880.2h0M508.9 888.9h0M545 896.5h0M571.3 886.9h0M578.1 857.7h0M565.9 869.4h0M549.3 888.3h0M502.4 866.8h0M562.2 876.7h0M476.4 866.8h0M484.9 865.4h0M463.9 885.3h0M517.7 862.2h0M510.4 878.4h0M553.6 852.6h0M480.2 880.8h0M515 866.1h0M518.9 881.7h0M564.7 898.2h0M560 882.8h0M520.9 881.4h0M505.4 872.8h0M494.6 880.7h0M541 876.6h0M560.4 896.8h0M495 888.4h0M540 873.6h0M577.7 899.4h0M540.1 877.3h0M470.3 882.5h0M485 867.1h0M523.5 892.7h0M477.8 887.4h0M493.6 876.2h0M492 869.3h0M557.5 852.1h0M550.9 882.6h0M525.6 868.9h0M553.9 881.5h0M565.4 858.1h0M564.9 865.6h0M481.5 893.1h0M515 870h0M571.9 880.6h0M571.8 860.9h0M545.7 892.4h0M578.4 888.8h0M509.5 880.8h0M541.4 856.2h0M538.9 857.1h0M557.4 886.5h0M551.8 865.8h0M487.6 879h0M526.8 883.6h0M494.7 879.2h0M504.8 896.5h0M475.5 883.2h0M543.1 852.1h0M514.7 887.4h0M541.7 880.3h0M498.2 864.6h0M537.7 873.9h0M518.6 896.3h0M554 868.8h0M526.1 871.2h0M500.1 889h0M479.4 896.4h0M520.2 895.4h0M545.7 878.2h0M473 884.3h0M482.4 865.8h0M519.4 896h0M553.5 893.4h0M509.9 871.8h0M513.1 894.2h0M576.6 852.6h0M567.2 862h0M540.1 872.9h0M510.4 871.8h0M543.3 888.5h0M495.1 861.6h0M549.6 863.3h0M546.5 859h0M491.1 871.6h0M555.2 849.5h0M496 889.8h0M478.8 870.8h0M564.2 882.2h0M470.2 890.2h0M521.9 879.3h0M477.4 882.1h0M573.3 864.7h0M529 883.2h0M496.2 892.3h0M503.8 864h0M525.8 880.9h0M468.1 885.2h0M571.9 887.9h0M561.2 872.1h0M482.3 877.9h0M575.9 853.3h0M512.6 868.8h0M501.7 882.5h0M514.9 866.1h0M517.2 872.5h0M570.1 859.6h0M572.7 896.2h0M469.2 876.8h0M505.5 879.2h0M552 844.6h0M472.4 892.7h0M505.9 869.2h0M475.9 872.5h0M498.1 866.1h0M523.4 876.3h0M564.2 882.9h0M544.5 883.4h0M491.2 862.4h0M553.6 859.4h0M482.2 895.2h0M557.2 849.8h0M496.6 886.4h0M472.6 887.5h0M488.9 893.8h0M551 847.3h0M553.7 893h0M483.3 872.7h0M472.2 880.5h0M481.3 869.1h0M479.5 895.2h0M561.5 879.1h0M520.2 895.2h0M548.4 847.7h0M563.3 897.1h0M562.1 844.4h0M518.6 884.2h0M488.9 887h0M503.1 874.3h0M500.4 892.8h0M498.3 889.6h0M561.6 894.3h0M520.3 863.6h0M528.4 877.1h0M546.9 878.1h0M575.2 877.4h0M543.5 873.2h0M526.6 862.4h0M490.3 877.6h0M541.8 877.1h0M543.3 892.5h0M554 899.3h0M536.3 854.7h0M572 851.6h0M566.4 895.2h0M567.5 858.2h0M550.7 847h0M538.1 871.1h0M498.1 896.7h0M568.6 879.6h0M572.9 882.2h0M566.1 851.6h0M508.6 865h0M475.9 889.4h0M478.4 880h0M511.4 872.5h0M481.6 872.1h0M507.8 864h0M488.6 863h0M466.3 875h0M472.2 895.3h0M499.1 870h0M570.6 879.8h0M554.4 894.8h0M517.9 865.6h0M561.2 872.6h0M552.8 876.3h0M578.2 875.1h0M508.6 869.8h0M568.6 865.7h0M499.8 892.9h0M561.7 872.9h0M542.4 889.9h0M492.8 865.6h0M488.2 878.1h0M495 866.3h0M518.1 870.7h0M572.3 863.7h0M509.2 868h0M568.4 898.3h0M485.3 878.2h0M488.6 864.3h0M483.4 864.1h0M524.2 881.1h0M524.3 872.7h0M522.9 863.5h0M467.3 887.5h0M564.2 886.2h0M487.7 880.4h0M555.5 845.6h0M544.9 897.9h0M561.5 851.6h0M556.3 863.5h0M492.9 869.5h0M573.1 870.7h0M575.2 894.9h0M546.6 893.7h0M557.8 859.9h0M550.5 855.6h0M540.4 878.8h0M568.9 887.4h0M477.5 896.7h0M512.1 891.1h0M502.7 882.3h0M536.4 857.6h0M568.6 884h0M573.6 871.4h0M546.5 873.6h0M503.4 869.9h0M475.9 874.7h0M522.8 893.4h0M549.8 844.8h0M487.4 895.6h0M569.3 864.2h0M572.2 883.6h0M574.9 861.9h0M495.6 869.7h0M515.7 868.3h0M567.5 848h0M537.2 869.2h0M464.8 877.8h0M503 886.9h0M577.8 848.4h0M569.7 895.7h0M501.8 884h0M556.1 896.2h0M525.9 873h0M569.7 868.8h0M563.2 855.3h0M514 871.8h0M496.3 883.6h0M478.3 883.7h0M553.2 899.4h0M571.1 891.5h0M485.1 890.9h0M493.2 894.3h0M573.8 853.6h0M555.6 845.8h0M525.6 886.4h0M503.5 866.6h0M556.8 868.5h0M560.6 880.4h0M571.3 888.7h0M494.4 872.6h0M511.6 876.8h0M573.8 868.8h0M517.1 877.1h0M578 861.5h0M569.7 854.4h0M551.2 880.8h0M492.8 863.5h0M519 866h0M560.6 847.2h0M506.4 865.6h0M524.2 876.6h0M482.6 870.5h0M563.1 851.7h0M543.6 891.9h0M542.1 861.8h0M566.6 844.7h0M490.9 862.3h0M470.3 875.1h0M551.7 888.7h0M570.3 846.2h0M468.9 894.2h0M509.6 884.5h0M490.1 868.1h0M546.8 864.4h0M540.9 867.5h0M466.9 881.7h0M478.8 895.2h0M577.2 899.7h0M563.3 882.6h0M479.6 864.7h0M546.2 879.6h0M485.6 869h0M515.3 864.1h0M540.3 866.1h0M544.7 865.5h0M558.6 862.8h0M546.7 892.4h0M513.1 892.4h0M487.8 874.6h0M525.8 870.3h0M549.9 894.5h0M550.3 899.9h0M472.9 868.3h0M482.3 877.6h0M552.1 844.9h0M567.2 862.6h0M465.9 887.2h0M559.1 851.5h0M501.3 896.2h0M509.8 892.7h0M549.6 891.3h0M510 883.9h0M493.8 892h0M496.8 873.9h0M537.9 863.6h0M575.4 887.8h0M577.2 870.8h0M565.9 844.4h0M524 894.9h0M476.2 896h0M502.7 890.4h0M542.5 887.1h0M480.5 869.9h0M576.4 846.2h0M563.8 865.4h0M548.8 857.6h0M492.8 888.2h0M568.3 878.7h0M560.7 874h0M572.4 892.4h0M549.2 875.3h0M568.3 851.1h0M482.9 883.2h0M555 890.8h0M490.7 896h0M539 861.2h0M504.3 897h0M571.6 854.4h0M527 889.4h0M576.1 877.4h0M520.4 873.7h0M483.6 883.1h0M543.3 873.9h0M549.5 871.7h0M504.8 885.6h0M560.4 873.4h0M544.5 848h0M513.8 884.9h0M490.4 892.4h0M488 884.9h0M505.1 897.2h0M503.7 870.2h0M496.9 884.3h0M550.9 879.5h0M547.8 863.8h0M551.3 849.8h0M540.2 878.1h0M559.3 856.6h0M564.6 873.6h0M544.5 851.5h0M471.5 894.2h0M484 896.2h0M558.8 876.3h0M546.5 851.3h0M510.1 876.3h0M537.4 852.2h0M488.2 895.1h0M468.7 883.4h0M547.1 860.3h0M548.5 873h0M499.8 872.8h0M515 864.1h0M546.7 893.8h0M487.5 888.5h0M578.9 873.3h0M567 874.9h0M468.5 880.6h0M543.4 878.3h0M494.7 887.1h0M517.1 862.9h0M479.5 882.2h0M501.3 883.9h0M506.5 890.7h0M472.6 893.4h0M556.5 873.5h0M508 871.1h0M496.4 867.6h0M475 876h0M562.1 876.3h0M462.2 884.5h0M541.1 870.9h0M557.1 886.5h0M507.8 870h0M521.4 876.5h0M497.8 870.6h0M511.5 892.9h0M541.1 862.2h0M554.6 852h0M485.8 885.7h0M511.5 891.9h0M579 861.3h0M509.9 893.9h0M545.4 866.3h0M474.3 892.4h0M504.7 864.3h0M558.7 855.2h0M564.2 876.1h0M562.5 879.8h0M519.2 881.3h0M542.8 852.3h0M570 897.4h0M578.3 868.1h0M519 875.1h0M485.5 877.1h0M483.2 890.4h0M466.1 875.3h0M538.5 859.5h0M490.4 887.3h0M539.2 857.5h0M569.3 881.9h0M540.3 868.5h0M571.8 886.6h0M569.9 879.5h0M526.4 870.3h0M521.6 883h0M490.9 875.7h0M470.1 889.2h0M494.3 879h0M507.8 866.8h0M546.1 851.7h0M496.1 876.3h0M524 877.9h0M477.3 889.5h0M538 871.2h0M572.9 874.9h0M562.9 887.4h0M563.5 899.8h0M480.9 890h0M508.9 889.4h0M521.8 892.2h0M526.3 882.3h0M467.4 891.7h0M545.5 879.2h0M546.4 859h0M490.4 873.3h0M482.6 886.5h0M511.5 889.8h0M496.9 877.9h0M574.7 883.8h0M552.1 872.5h0M552.1 886.9h0M548.5 897.8h0M550.5 880.5h0M521.8 878.9h0M546.7 872.4h0M573.8 877h0M482.5 890.9h0M564 865.1h0M569.8 900.3h0M471.5 888h0M558.4 897.9h0M506.3 882.5h0M500.8 885.7h0M494.4 862.5h0M569.4 867.8h0M503 887.3h0M520.9 871.7h0M479.7 887.9h0M485.4 896.6h0M527.3 881.7h0M521.9 896.8h0M520.9 861.4h0M563.3 847.6h0M495.4 876h0M509.2 886.9h0M504.2 866.3h0M472.2 881.7h0M496.1 866.4h0M538.1 853.2h0M516.5 874.9h0M575.4 854.7h0M504.7 872.2h0M509.5 873.2h0M463.8 881.7h0M527.5 880.8h0M520.6 887h0M510 887.5h0M556.8 873.4h0M479.4 866.3h0M483.5 895.8h0M498 865.9h0M506.3 889.3h0M484.6 891.4h0M477.8 873.9h0M488.9 885.2h0M520.3 871.3h0M473.3 876.8h0M527.1 862.7h0M518.7 888.3h0M507.5 867.5h0M473.8 893.8h0M485.5 866.3h0M514.4 885.3h0M528.9 881.2h0M490.8 861.5h0M470.7 876.5h0M481.2 863.1h0M490.8 878.3h0M493.3 865.6h0M477.6 868.1h0M494.4 879h0M483.5 877.2h0M463.2 881.6h0M469 871.3h0M510.7 896.9h0M496.1 893.2h0M514.1 872h0M495.1 884.5h0M479.2 893.5h0M520.3 889.4h0M486.9 870h0M481.6 868.9h0M478.2 863.6h0M500.7 868.9h0M480.9 877.7h0M525.8 893.6h0M524.1 875.7h0M495 864.2h0M494 864.6h0M498.6 869.9h0M511.6 863.6h0M483.7 869.9h0M521.2 862.9h0M474.6 879.3h0M492.2 866.2h0M482.7 873.1h0M524.9 880.4h0M517.6 868h0M463.6 878.9h0M520.7 865.5h0M496.3 880.6h0M511.7 886.9h0M487.3 894.1h0M479 875.8h0M468.9 893.8h0M478.4 887.5h0M529.1 884.9h0M505.7 887.2h0M515.2 887.1h0M490.8 865.1h0M516.9 872h0M480.7 895.5h0M506.7 896.6h0M501.1 864.6h0M498.5 884h0M522.3 867.1h0M471.1 877.8h0M514.2 880.6h0M493.5 871.7h0M467.6 882.9h0M493.4 863.8h0M474.8 877.6h0M496.7 885.4h0M483.9 872.7h0M498 885.1h0M508.5 890.5h0M489.6 891.1h0M487 880.2h0M497.3 869.5h0M516.8 868.7h0M467.1 874.2h0M490.3 871.5h0M483.5 864.4h0M524.7 865h0M496.5 880.3h0M489.5 868.4h0M502.7 878.5h0M480 870.8h0M493.1 863.5h0M484.3 872.8h0M493 873.1h0M466.1 890.6h0M481.4 876.8h0M464.7 877.6h0M486.2 896.5h0M483.1 865.4h0M487.1 869h0M499.4 865.4h0M521.3 863.8h0M500.6 890.9h0M516.5 893.6h0M513.6 883.3h0M478.8 891.5h0M503.3 891.2h0M484 889.6h0M480.1 863.4h0M464.4 889h0M478.4 876.6h0M487.8 875h0M523.7 861.9h0M480 878h0M483 878.5h0M503.4 896.8h0M480.7 886.8h0M510.3 887.3h0M483.9 873h0M474.8 885h0M509.8 869.6h0M496.8 877.6h0M508.7 863.9h0M503.1 871.8h0M517.7 883.1h0M472.7 885.3h0M514.3 897h0M505 880.5h0M508.3 895.2h0M488.5 879.7h0M484.6 876.1h0M526 868.4h0M500.2 879.9h0M501.1 877.3h0M498.6 871.7h0M498.8 868.4h0M468.5 886.3h0M516.8 863.4h0M483.9 885.5h0M522.7 893h0M496.2 876.2h0M525 871.2h0M470.1 888h0M485.4 872.3h0M512.6 873.5h0M521.4 895.6h0M479.8 895.1h0M482 865.7h0M498.6 878.7h0M518.6 880h0M468.1 877.5h0M539.3 879.6h0M550.6 850h0M557.9 866h0M570.5 845.1h0M550.9 883.3h0M547.1 857.4h0M558.5 891.4h0M550.4 846.6h0M576.6 846.6h0M543 886.1h0M547 856.9h0M568.7 844.1h0M543.4 892.9h0M572.8 878h0M561.2 886.9h0M549.2 899.3h0M572.4 894.4h0M569.4 889.1h0M560.3 861.2h0M571.5 871.6h0M538.8 876.8h0M577.7 849.8h0M542.1 859.6h0M541.6 870h0M562.9 872.9h0M573.7 866.4h0M561.7 884.3h0M534.1 854h0M563.1 851.1h0M551.6 883.8h0M558.6 856.9h0M538.3 865.8h0M557.7 854.5h0M537.4 868.8h0M572.1 851.5h0M549.4 879h0M563.4 879.8h0M536.8 882.8h0M544.6 872.6h0M547.9 893.2h0M542.1 860.7h0M560 867.6h0M565 893h0M557.2 885.5h0M539.8 852.8h0M571.1 874.6h0M568.2 889.9h0M562.4 877.1h0M576.8 856.7h0M551.7 858h0M578.6 866h0M559.3 853.4h0M565.7 889.7h0M546.9 896.3h0M546.2 847.7h0M552.6 893.2h0M572.1 864.7h0M538 876.5h0M579.4 864.8h0M577.3 860.6h0M563.8 865.9h0M575.8 879.9h0M571.7 893.7h0M542.8 898.7h0M546.8 874.3h0M559.6 894.3h0M555.5 872h0M556.7 893.7h0M565.5 883.1h0M565.3 900h0M535.9 868.4h0M551 882.9h0M551.9 894h0M565.4 882.5h0M555.6 866.2h0M567.3 863h0M576.2 863.9h0M541.8 874.2h0M577.1 890.9h0M563.8 889.1h0M574.2 844.3h0M544.7 871.4h0M559.5 852.6h0M560.7 848.1h0M541.6 894.8h0M549.9 857.6h0M564.4 848.5h0M577 872.4h0M569.2 846.1h0M550.2 868.4h0M555.4 870.5h0M547.5 877.7h0M551 866h0M571.1 897.3h0M550.1 873.7h0M541.1 864.5h0M573.4 876.2h0M566 845.2h0M567 899.5h0M570.7 876.7h0" stroke="#2fb463" stroke-width="1.6" stroke-linecap="square" fill="none"/>
<path d="M498.3 878.3h0M520.3 869.5h0M492.2 878.8h0M572 898.6h0M471.7 871.5h0M559 874h0M555 863.1h0M466.5 880.3h0M525.7 864.2h0M544.2 851.3h0M576.2 870.3h0M484.1 877.3h0M561.1 882.9h0M489.3 862.1h0M496.2 865.5h0M571.9 863.1h0M520.2 876.6h0M479.6 882.9h0M513 871.5h0M483 881.1h0" stroke="#f8d848" stroke-width="1.6" stroke-linecap="square" fill="none"/>
<path d="M586.6 726.2h0M587.1 731.9h0M584.6 725.5h0M587.4 746.2h0M589 730h0M584.9 732.2h0M585.7 728.8h0M584.4 740.6h0M584.2 731.8h0M584.4 744.5h0M584.7 734.2h0M589.1 734.5h0M588.6 731h0M586.8 742.5h0M584.3 733.4h0" stroke="#4a7cc4" stroke-width="1.6" stroke-linecap="square" fill="none"/>
<path d="M587.5 730.8h0M586 724.9h0M590.5 738.9h0M585.4 731.2h0M583.6 740.5h0M589.9 747.8h0M589.7 747.7h0M585.1 737.4h0M586.5 726.4h0M585.6 736.9h0M584.6 734.2h0M583.7 733.8h0M590.8 734.6h0M588.3 725.1h0M589.4 740.2h0" stroke="#ee8873" stroke-width="1.6" stroke-linecap="square" fill="none"/>
</g>
<rect x="457" y="508.1" width="77.6" height="18" fill="#231f20"/>
<text x="459.5" y="522.7" fill="#fff">−1.06 mm</text>
<rect x="457" y="639.1" width="77.6" height="18" fill="#231f20"/>
<text x="459.5" y="653.3" fill="#fff">−1.70 mm</text>
<rect x="457" y="779.3" width="77.6" height="18" fill="#231f20"/>
<text x="459.5" y="793.7" fill="#fff">−1.94 mm</text>
</svg></body></html>
